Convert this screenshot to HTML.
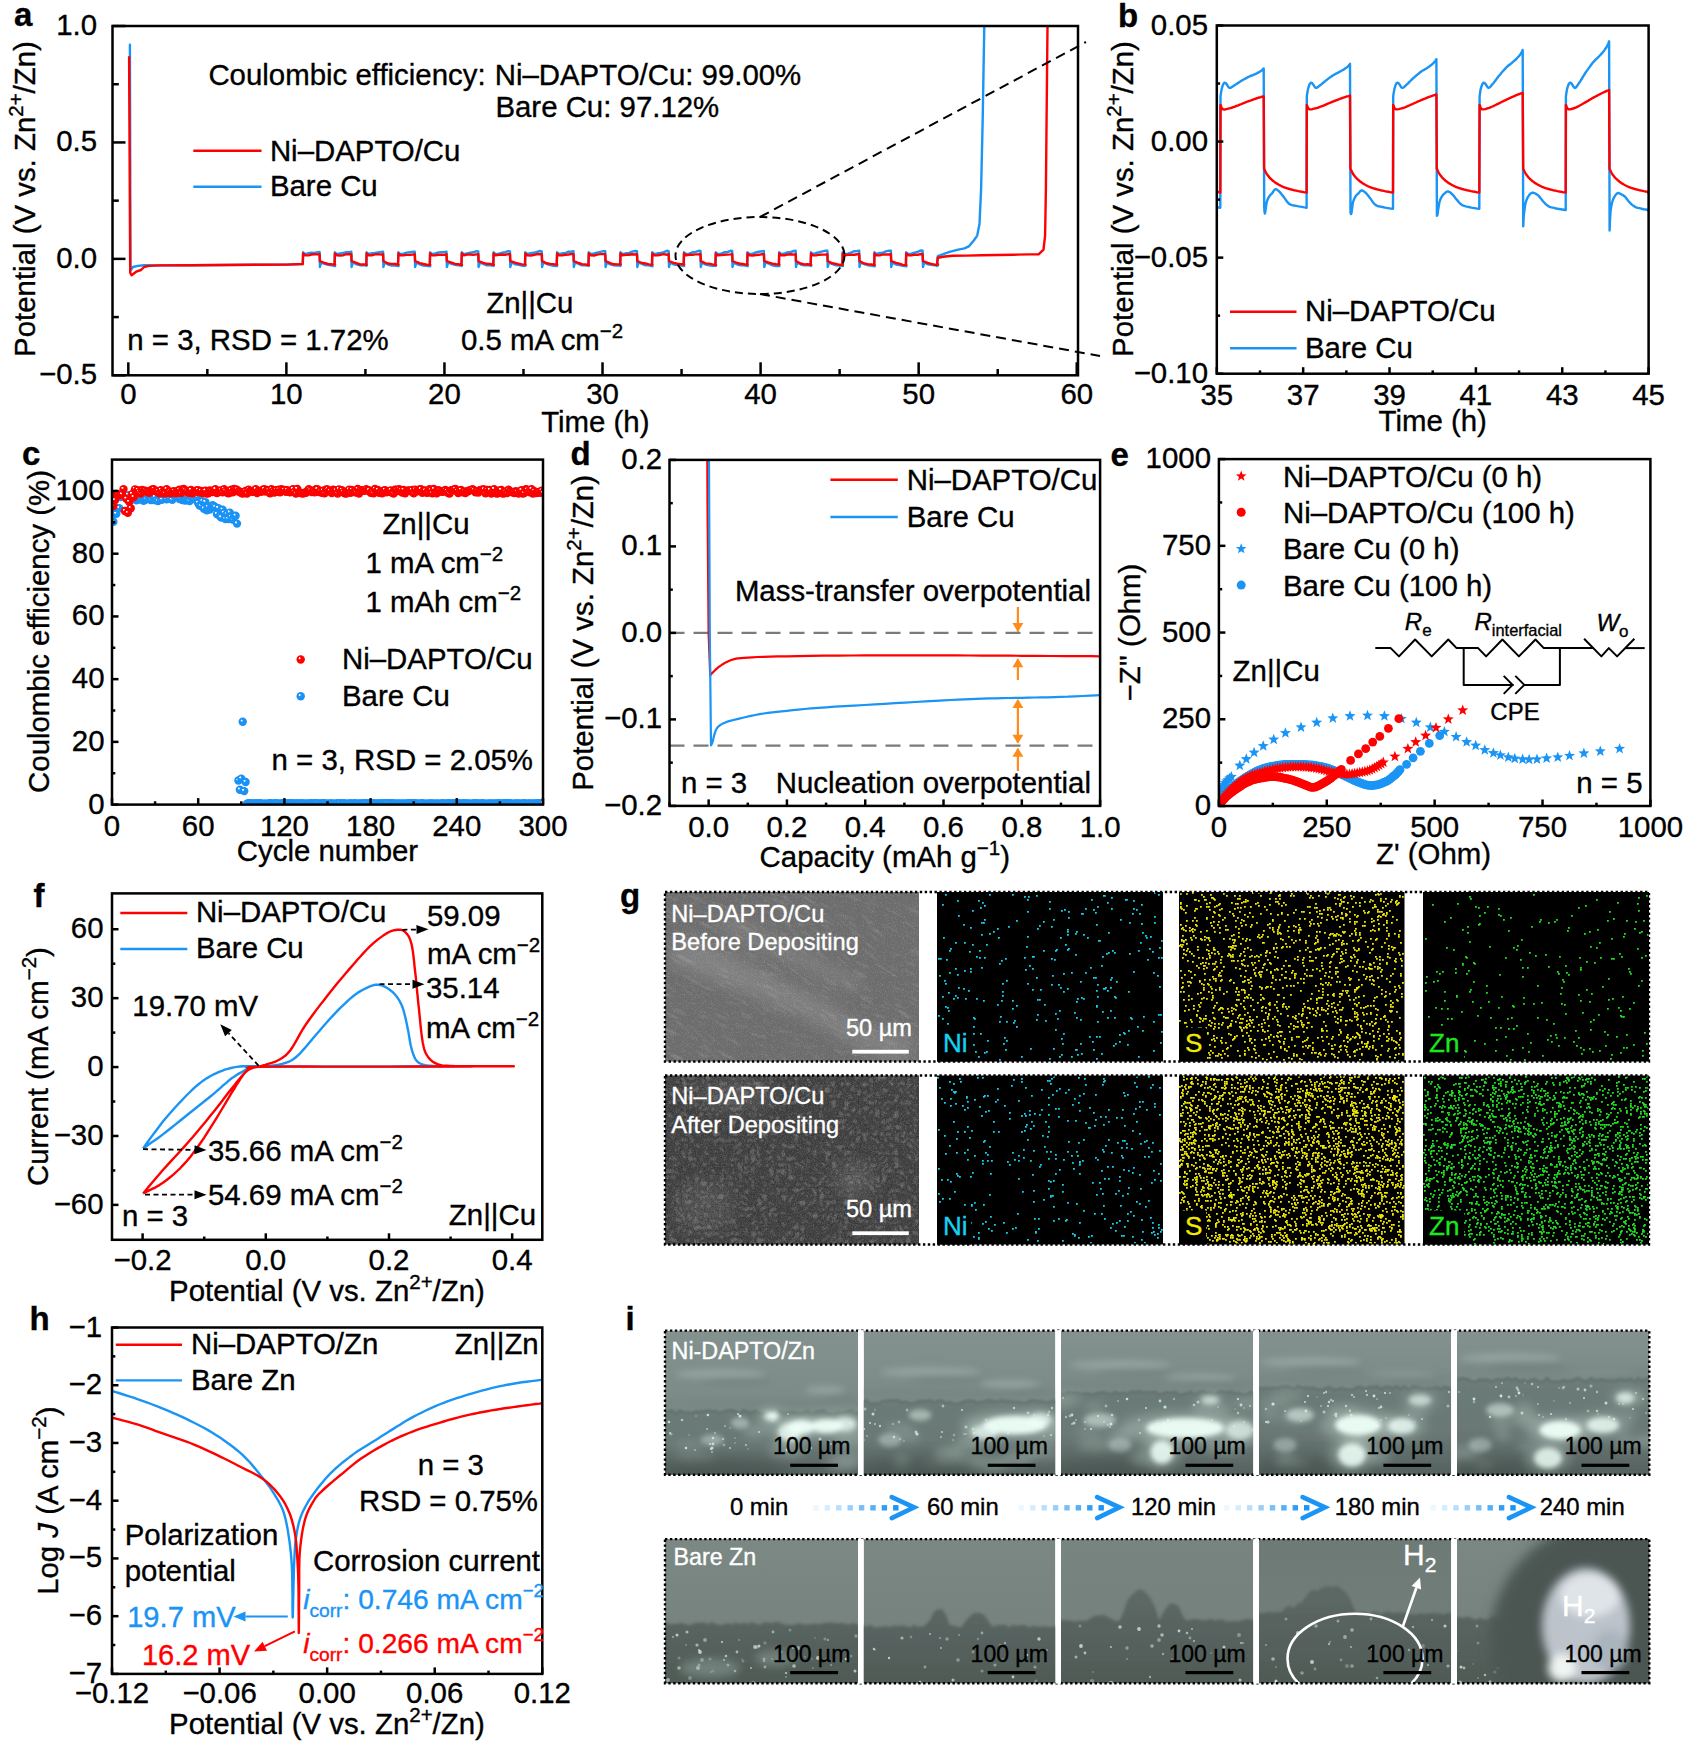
<!DOCTYPE html>
<html><head><meta charset="utf-8"><style>
html,body{margin:0;padding:0;background:#fff;}
svg{display:block;font-family:"Liberation Sans", sans-serif;font-size:29.4px;}
</style></head><body>
<svg width="1688" height="1744" viewBox="0 0 1688 1744">
<defs><radialGradient id="sr" cx="0.5" cy="0.5" r="0.5" fx="0.33" fy="0.31"><stop offset="0" stop-color="#fff"/><stop offset="0.14" stop-color="#fff"/><stop offset="0.32" stop-color="#f00"/><stop offset="1" stop-color="#f00"/></radialGradient><radialGradient id="sb" cx="0.5" cy="0.5" r="0.5" fx="0.33" fy="0.31"><stop offset="0" stop-color="#fff"/><stop offset="0.14" stop-color="#fff"/><stop offset="0.32" stop-color="#1a94f5"/><stop offset="1" stop-color="#1a90f5"/></radialGradient><filter id="nz" x="0" y="0" width="100%" height="100%"><feTurbulence type="fractalNoise" baseFrequency="0.9" numOctaves="2" seed="4"/><feColorMatrix type="matrix" values="0 0 0 0 1  0 0 0 0 1  0 0 0 0 1  0.9 0 0 0 -0.45"/></filter><filter id="nzd" x="0" y="0" width="100%" height="100%"><feTurbulence type="fractalNoise" baseFrequency="0.7" numOctaves="2" seed="9"/><feColorMatrix type="matrix" values="0 0 0 0 0  0 0 0 0 0  0 0 0 0 0  1.2 0 0 0 -0.55"/></filter><filter id="blot" x="0" y="0" width="100%" height="100%"><feTurbulence type="turbulence" baseFrequency="0.16" numOctaves="3" seed="12"/><feColorMatrix type="matrix" values="0 0 0 0 1  0 0 0 0 1  0 0 0 0 1  2.2 0 0 0 -0.55"/></filter><filter id="blot2" x="0" y="0" width="100%" height="100%"><feTurbulence type="turbulence" baseFrequency="0.05 0.2" numOctaves="3" seed="21"/><feColorMatrix type="matrix" values="0 0 0 0 1  0 0 0 0 1  0 0 0 0 1  2.0 0 0 0 -0.6"/></filter><filter id="bl4" x="-1" y="-1" width="3" height="3"><feGaussianBlur stdDeviation="4"/></filter><filter id="bl2" x="-1" y="-1" width="3" height="3"><feGaussianBlur stdDeviation="2"/></filter><filter id="bl8" x="-1" y="-1" width="3" height="3"><feGaussianBlur stdDeviation="8"/></filter><filter id="bl1" x="-1" y="-1" width="3" height="3"><feGaussianBlur stdDeviation="1"/></filter><filter id="bl15" x="-1" y="-1" width="3" height="3"><feGaussianBlur stdDeviation="1.5"/></filter><filter id="bl07" x="-1" y="-1" width="3" height="3"><feGaussianBlur stdDeviation="0.7"/></filter><filter id="bl3" x="-1" y="-1" width="3" height="3"><feGaussianBlur stdDeviation="3"/></filter><filter id="bl6" x="-1" y="-1" width="3" height="3"><feGaussianBlur stdDeviation="6"/></filter><filter id="bl25" x="-1" y="-1" width="3" height="3"><feGaussianBlur stdDeviation="2.5"/></filter><linearGradient id="gi00u" x1="0" y1="1330.6" x2="0" y2="1412" gradientUnits="userSpaceOnUse"><stop offset="0" stop-color="#83928e"/><stop offset="1" stop-color="#7b8a86"/></linearGradient><linearGradient id="gi00" x1="0" y1="1412" x2="0" y2="1474.7" gradientUnits="userSpaceOnUse"><stop offset="0" stop-color="#6c7b77"/><stop offset="0.5" stop-color="#6b7976"/><stop offset="1" stop-color="#55625f"/></linearGradient><linearGradient id="gi01u" x1="0" y1="1330.6" x2="0" y2="1402" gradientUnits="userSpaceOnUse"><stop offset="0" stop-color="#83928e"/><stop offset="1" stop-color="#7b8a86"/></linearGradient><linearGradient id="gi01" x1="0" y1="1402" x2="0" y2="1474.7" gradientUnits="userSpaceOnUse"><stop offset="0" stop-color="#6c7b77"/><stop offset="0.5" stop-color="#6b7976"/><stop offset="1" stop-color="#55625f"/></linearGradient><linearGradient id="gi02u" x1="0" y1="1330.6" x2="0" y2="1393" gradientUnits="userSpaceOnUse"><stop offset="0" stop-color="#83928e"/><stop offset="1" stop-color="#7b8a86"/></linearGradient><linearGradient id="gi02" x1="0" y1="1393" x2="0" y2="1474.7" gradientUnits="userSpaceOnUse"><stop offset="0" stop-color="#6c7b77"/><stop offset="0.5" stop-color="#6b7976"/><stop offset="1" stop-color="#55625f"/></linearGradient><linearGradient id="gi03u" x1="0" y1="1330.6" x2="0" y2="1388" gradientUnits="userSpaceOnUse"><stop offset="0" stop-color="#83928e"/><stop offset="1" stop-color="#7b8a86"/></linearGradient><linearGradient id="gi03" x1="0" y1="1388" x2="0" y2="1474.7" gradientUnits="userSpaceOnUse"><stop offset="0" stop-color="#6c7b77"/><stop offset="0.5" stop-color="#6b7976"/><stop offset="1" stop-color="#55625f"/></linearGradient><linearGradient id="gi04u" x1="0" y1="1330.6" x2="0" y2="1380" gradientUnits="userSpaceOnUse"><stop offset="0" stop-color="#83928e"/><stop offset="1" stop-color="#7b8a86"/></linearGradient><linearGradient id="gi04" x1="0" y1="1380" x2="0" y2="1474.7" gradientUnits="userSpaceOnUse"><stop offset="0" stop-color="#6c7b77"/><stop offset="0.5" stop-color="#6b7976"/><stop offset="1" stop-color="#55625f"/></linearGradient><linearGradient id="gi10t" x1="0" y1="0" x2="0" y2="1"><stop offset="0" stop-color="#7b8884"/><stop offset="1" stop-color="#73807c"/></linearGradient><linearGradient id="gi10" x1="0" y1="1593.5" x2="0" y2="1683.2" gradientUnits="userSpaceOnUse"><stop offset="0" stop-color="#5d6965"/><stop offset="0.4" stop-color="#58635f"/><stop offset="1" stop-color="#4f5a56"/></linearGradient><linearGradient id="gi11t" x1="0" y1="0" x2="0" y2="1"><stop offset="0" stop-color="#7a8783"/><stop offset="1" stop-color="#73807c"/></linearGradient><linearGradient id="gi11" x1="0" y1="1596" x2="0" y2="1683.2" gradientUnits="userSpaceOnUse"><stop offset="0" stop-color="#5d6965"/><stop offset="0.4" stop-color="#58635f"/><stop offset="1" stop-color="#4f5a56"/></linearGradient><linearGradient id="gi12t" x1="0" y1="0" x2="0" y2="1"><stop offset="0" stop-color="#778480"/><stop offset="1" stop-color="#73807c"/></linearGradient><linearGradient id="gi12" x1="0" y1="1590" x2="0" y2="1683.2" gradientUnits="userSpaceOnUse"><stop offset="0" stop-color="#5d6965"/><stop offset="0.4" stop-color="#58635f"/><stop offset="1" stop-color="#4f5a56"/></linearGradient><linearGradient id="gi13t" x1="0" y1="0" x2="0" y2="1"><stop offset="0" stop-color="#6d7a76"/><stop offset="1" stop-color="#73807c"/></linearGradient><linearGradient id="gi13" x1="0" y1="1583" x2="0" y2="1683.2" gradientUnits="userSpaceOnUse"><stop offset="0" stop-color="#5d6965"/><stop offset="0.4" stop-color="#58635f"/><stop offset="1" stop-color="#4f5a56"/></linearGradient><linearGradient id="gi14t" x1="0" y1="0" x2="0" y2="1"><stop offset="0" stop-color="#7a8783"/><stop offset="1" stop-color="#73807c"/></linearGradient><linearGradient id="gi14" x1="0" y1="1588" x2="0" y2="1683.2" gradientUnits="userSpaceOnUse"><stop offset="0" stop-color="#5d6965"/><stop offset="0.4" stop-color="#58635f"/><stop offset="1" stop-color="#4f5a56"/></linearGradient></defs>
<rect width="1688" height="1744" fill="#fff"/>
<text x="14" y="26" font-weight="bold" font-size="33" stroke="#000" stroke-width="0.35">a</text>
<path d="M129.1 44.6 L129.9 44.6 L130.5 270.5 L133.0 267.0 L137.8 265.9 L144.1 265.2 L159.9 265.4 L191.5 265.2 L223.1 265.0 L254.8 264.8 L286.4 264.6 L302.2 264.0 L302.8 264.0 L303.1 252.3 L305.2 254.2 L308.4 253.2 L311.5 252.6 L314.7 252.9 L317.8 252.3 L319.6 251.9 L319.9 267.0 L321.2 262.4 L324.6 263.9 L328.1 264.9 L331.6 265.4 L335.1 266.0 L334.6 265.9 L334.9 252.3 L336.9 254.2 L340.1 253.5 L343.3 252.9 L346.4 252.3 L349.6 252.1 L351.3 251.8 L351.6 267.0 L352.9 262.4 L356.4 264.3 L359.9 265.2 L363.3 265.4 L366.8 265.4 L366.3 265.9 L366.6 252.3 L368.7 254.2 L371.8 253.2 L375.0 252.9 L378.2 252.4 L381.3 252.0 L383.1 251.7 L383.4 267.0 L384.6 262.4 L388.1 264.6 L391.6 265.6 L395.1 265.6 L398.5 266.0 L398.0 265.9 L398.4 252.3 L400.4 254.2 L403.6 253.7 L406.7 252.6 L409.9 252.3 L413.1 251.6 L414.8 251.7 L415.1 267.0 L416.4 262.4 L419.9 264.4 L423.3 265.6 L426.8 265.8 L430.3 266.2 L429.8 265.9 L430.1 252.3 L432.2 254.2 L435.3 253.5 L438.5 252.4 L441.6 252.1 L444.8 251.9 L446.5 251.6 L446.9 267.0 L448.1 262.4 L451.6 263.8 L455.1 264.8 L458.5 265.4 L462.0 265.5 L461.5 265.9 L461.8 252.3 L463.9 254.2 L467.1 253.3 L470.2 252.6 L473.4 252.3 L476.5 251.1 L478.3 251.5 L478.6 267.0 L479.9 262.4 L483.3 263.8 L486.8 265.4 L490.3 265.4 L493.8 265.7 L493.3 265.9 L493.6 252.3 L495.6 254.2 L498.8 253.6 L502.0 252.8 L505.1 252.2 L508.3 251.1 L510.0 251.5 L510.3 267.0 L511.6 262.4 L515.1 264.2 L518.6 264.8 L522.0 265.7 L525.5 265.5 L525.0 265.9 L525.3 252.3 L527.4 254.2 L530.5 253.1 L533.7 252.8 L536.9 252.0 L540.0 251.0 L541.8 251.4 L542.1 267.0 L543.3 262.4 L546.8 264.0 L550.3 265.1 L553.8 265.9 L557.2 266.0 L556.7 265.9 L557.1 252.3 L559.1 254.2 L562.3 253.3 L565.4 253.1 L568.6 251.7 L571.8 251.5 L573.5 251.3 L573.8 267.0 L575.1 262.4 L578.6 263.8 L582.0 265.3 L585.5 265.2 L589.0 265.7 L588.5 265.9 L588.8 252.3 L590.9 254.2 L594.0 253.5 L597.2 252.7 L600.3 251.9 L603.5 251.2 L605.2 251.3 L605.6 267.0 L606.8 262.4 L610.3 264.4 L613.8 265.4 L617.3 265.6 L620.7 265.4 L620.2 265.9 L620.5 252.3 L622.6 254.2 L625.8 253.3 L628.9 253.1 L632.1 251.6 L635.2 251.0 L637.0 251.2 L637.3 267.0 L638.6 262.4 L642.0 263.8 L645.5 265.4 L649.0 265.4 L652.5 266.3 L652.0 265.9 L652.3 252.3 L654.3 254.2 L657.5 253.3 L660.7 252.9 L663.8 252.1 L667.0 250.8 L668.7 251.1 L669.0 267.0 L670.3 262.4 L673.8 264.6 L677.3 265.1 L680.7 265.3 L684.2 266.1 L683.7 265.9 L684.0 252.3 L686.1 254.2 L689.2 253.7 L692.4 252.3 L695.6 251.9 L698.7 250.8 L700.5 251.0 L700.8 267.0 L702.0 262.4 L705.5 264.6 L709.0 265.3 L712.5 265.9 L716.0 265.7 L715.4 265.9 L715.8 252.3 L717.8 254.2 L721.0 253.8 L724.1 252.2 L727.3 252.2 L730.5 250.8 L732.2 251.0 L732.5 267.0 L733.8 262.4 L737.3 264.6 L740.7 265.4 L744.2 265.3 L747.7 266.2 L747.2 265.9 L747.5 252.3 L749.6 254.2 L752.7 253.7 L755.9 252.4 L759.0 251.8 L762.2 251.3 L763.9 250.9 L764.3 267.0 L765.5 262.4 L769.0 263.7 L772.5 265.4 L776.0 266.0 L779.4 266.0 L778.9 265.9 L779.2 252.3 L781.3 254.2 L784.5 253.3 L787.6 252.3 L790.8 252.0 L793.9 251.0 L795.7 250.8 L796.0 267.0 L797.3 262.4 L800.7 264.6 L804.2 265.2 L807.7 265.4 L811.2 265.6 L810.7 265.9 L811.0 252.3 L813.0 254.2 L816.2 253.0 L819.4 252.2 L822.5 251.3 L825.7 250.6 L827.4 250.8 L827.7 267.0 L829.0 262.4 L832.5 264.2 L836.0 265.4 L839.4 265.5 L842.9 266.0 L842.4 265.9 L842.7 252.3 L844.8 254.2 L847.9 253.7 L851.1 252.5 L854.3 251.2 L857.4 251.0 L859.2 250.7 L859.5 267.0 L860.7 262.4 L864.2 264.1 L867.7 265.2 L871.2 265.6 L874.7 266.2 L874.2 265.9 L874.5 252.3 L876.5 254.2 L879.7 252.9 L882.8 252.6 L886.0 251.4 L889.2 250.7 L890.9 250.6 L891.2 267.0 L892.5 262.4 L896.0 264.6 L899.4 265.1 L902.9 265.9 L906.4 266.3 L905.9 265.9 L906.2 252.3 L908.3 254.2 L911.4 253.7 L914.6 252.7 L917.7 251.8 L920.9 250.4 L922.6 250.6 L923.0 267.0 L924.2 262.4 L927.7 264.2 L931.2 264.7 L934.7 265.2 L938.1 265.4 L937.0 265.9 L937.8 256.1 L943.3 254.2 L949.6 251.9 L958.2 249.6 L964.5 248.4 L969.2 246.1 L974.0 240.2 L977.2 235.6 L979.5 223.9 L981.1 189.0 L982.7 119.1 L984.3 26.0" stroke="#1a94f5" stroke-width="2.4" fill="none" stroke-linejoin="round"/>
<path d="M129.1 56.3 L130.2 272.8 L131.5 275.2 L136.2 271.7 L141.0 270.0 L144.1 267.0 L148.9 265.9 L159.9 265.4 L191.5 265.2 L223.1 265.0 L254.8 264.8 L286.4 264.6 L302.2 264.0 L302.8 264.0 L303.1 253.5 L305.2 255.4 L308.4 255.4 L311.5 254.5 L314.7 254.3 L317.8 254.4 L319.6 254.2 L319.9 261.2 L324.6 263.0 L328.1 264.0 L331.6 264.3 L335.1 264.4 L334.6 264.7 L334.9 253.5 L336.9 255.4 L340.1 255.5 L343.3 255.2 L346.4 254.2 L349.6 254.3 L351.3 254.2 L351.6 261.2 L356.4 262.8 L359.9 264.4 L363.3 264.5 L366.8 264.5 L366.3 264.7 L366.6 253.5 L368.7 255.4 L371.8 255.3 L375.0 254.4 L378.2 254.1 L381.3 254.6 L383.1 254.2 L383.4 261.2 L388.1 263.5 L391.6 263.9 L395.1 264.0 L398.5 264.8 L398.0 264.7 L398.4 253.5 L400.4 255.4 L403.6 255.3 L406.7 254.9 L409.9 254.9 L413.1 254.5 L414.8 254.2 L415.1 261.2 L419.9 263.1 L423.3 264.0 L426.8 264.7 L430.3 264.9 L429.8 264.7 L430.1 253.5 L432.2 255.4 L435.3 255.3 L438.5 254.8 L441.6 254.7 L444.8 254.7 L446.5 254.2 L446.9 261.2 L451.6 262.7 L455.1 263.9 L458.5 264.3 L462.0 265.0 L461.5 264.7 L461.8 253.5 L463.9 255.4 L467.1 254.6 L470.2 254.5 L473.4 254.9 L476.5 254.4 L478.3 254.2 L478.6 261.2 L483.3 262.8 L486.8 263.8 L490.3 264.0 L493.8 264.8 L493.3 264.7 L493.6 253.5 L495.6 255.4 L498.8 254.8 L502.0 254.6 L505.1 254.7 L508.3 254.1 L510.0 254.2 L510.3 261.2 L515.1 262.7 L518.6 263.6 L522.0 264.4 L525.5 264.6 L525.0 264.7 L525.3 253.5 L527.4 255.4 L530.5 255.5 L533.7 255.0 L536.9 254.2 L540.0 254.3 L541.8 254.2 L542.1 261.2 L546.8 263.3 L550.3 263.9 L553.8 264.3 L557.2 264.5 L556.7 264.7 L557.1 253.5 L559.1 255.4 L562.3 255.2 L565.4 254.8 L568.6 254.5 L571.8 253.9 L573.5 254.2 L573.8 261.2 L578.6 263.0 L582.0 264.1 L585.5 264.5 L589.0 265.1 L588.5 264.7 L588.8 253.5 L590.9 255.4 L594.0 255.5 L597.2 254.6 L600.3 254.1 L603.5 254.1 L605.2 254.2 L605.6 261.2 L610.3 263.1 L613.8 264.3 L617.3 264.4 L620.7 264.2 L620.2 264.7 L620.5 253.5 L622.6 255.4 L625.8 254.8 L628.9 254.8 L632.1 254.2 L635.2 254.5 L637.0 254.2 L637.3 261.2 L642.0 263.0 L645.5 263.5 L649.0 264.4 L652.5 264.7 L652.0 264.7 L652.3 253.5 L654.3 255.4 L657.5 255.3 L660.7 254.7 L663.8 254.1 L667.0 254.7 L668.7 254.2 L669.0 261.2 L673.8 262.8 L677.3 263.7 L680.7 264.1 L684.2 264.5 L683.7 264.7 L684.0 253.5 L686.1 255.4 L689.2 254.8 L692.4 254.8 L695.6 254.4 L698.7 254.3 L700.5 254.2 L700.8 261.2 L705.5 263.4 L709.0 263.6 L712.5 264.4 L716.0 265.0 L715.4 264.7 L715.8 253.5 L717.8 255.4 L721.0 255.1 L724.1 254.8 L727.3 254.6 L730.5 254.4 L732.2 254.2 L732.5 261.2 L737.3 263.0 L740.7 263.8 L744.2 264.3 L747.7 264.7 L747.2 264.7 L747.5 253.5 L749.6 255.4 L752.7 255.5 L755.9 255.0 L759.0 254.8 L762.2 254.1 L763.9 254.2 L764.3 261.2 L769.0 262.7 L772.5 263.7 L776.0 264.2 L779.4 264.4 L778.9 264.7 L779.2 253.5 L781.3 255.4 L784.5 255.3 L787.6 254.5 L790.8 254.3 L793.9 254.6 L795.7 254.2 L796.0 261.2 L800.7 263.5 L804.2 264.4 L807.7 264.2 L811.2 264.9 L810.7 264.7 L811.0 253.5 L813.0 255.4 L816.2 255.4 L819.4 254.7 L822.5 254.6 L825.7 254.6 L827.4 254.2 L827.7 261.2 L832.5 263.3 L836.0 263.9 L839.4 264.8 L842.9 264.9 L842.4 264.7 L842.7 253.5 L844.8 255.4 L847.9 254.9 L851.1 254.8 L854.3 254.7 L857.4 254.2 L859.2 254.2 L859.5 261.2 L864.2 263.5 L867.7 264.1 L871.2 264.5 L874.7 265.0 L874.2 264.7 L874.5 253.5 L876.5 255.4 L879.7 255.4 L882.8 254.4 L886.0 254.5 L889.2 254.5 L890.9 254.2 L891.2 261.2 L896.0 262.9 L899.4 263.7 L902.9 264.9 L906.4 265.1 L905.9 264.7 L906.2 253.5 L908.3 255.4 L911.4 255.4 L914.6 254.6 L917.7 254.8 L920.9 254.0 L922.6 254.2 L923.0 261.2 L927.7 262.9 L931.2 263.9 L934.7 264.7 L938.1 264.2 L937.0 264.7 L937.8 257.7 L944.9 256.5 L952.8 255.8 L966.1 255.6 L981.9 255.3 L997.7 255.0 L1013.5 254.7 L1029.3 254.4 L1038.8 254.2 L1043.5 249.6 L1045.1 235.6 L1045.9 189.0 L1047.5 26.0" stroke="#ff0000" stroke-width="2.4" fill="none" stroke-linejoin="round"/>
<ellipse cx="760" cy="255.5" rx="84.5" ry="38.5" fill="none" stroke="#000" stroke-width="2" stroke-dasharray="8 5"/>
<line x1="760" y1="217" x2="1086" y2="42" stroke="#000" stroke-width="2" stroke-dasharray="10 6"/>
<line x1="760" y1="294" x2="1100" y2="356" stroke="#000" stroke-width="2" stroke-dasharray="10 6"/>
<rect x="112.5" y="26" width="965.5" height="349.3" fill="none" stroke="#000" stroke-width="2.5"/>
<line x1="128.31" y1="375.3" x2="128.31" y2="362.3" stroke="#000" stroke-width="2.5"/>
<line x1="286.38" y1="375.3" x2="286.38" y2="362.3" stroke="#000" stroke-width="2.5"/>
<line x1="444.45" y1="375.3" x2="444.45" y2="362.3" stroke="#000" stroke-width="2.5"/>
<line x1="602.52" y1="375.3" x2="602.52" y2="362.3" stroke="#000" stroke-width="2.5"/>
<line x1="760.59" y1="375.3" x2="760.59" y2="362.3" stroke="#000" stroke-width="2.5"/>
<line x1="918.66" y1="375.3" x2="918.66" y2="362.3" stroke="#000" stroke-width="2.5"/>
<line x1="1076.74" y1="375.3" x2="1076.74" y2="362.3" stroke="#000" stroke-width="2.5"/>
<line x1="207.34" y1="375.3" x2="207.34" y2="369" stroke="#000" stroke-width="2.5"/>
<line x1="365.41" y1="375.3" x2="365.41" y2="369" stroke="#000" stroke-width="2.5"/>
<line x1="523.49" y1="375.3" x2="523.49" y2="369" stroke="#000" stroke-width="2.5"/>
<line x1="681.56" y1="375.3" x2="681.56" y2="369" stroke="#000" stroke-width="2.5"/>
<line x1="839.63" y1="375.3" x2="839.63" y2="369" stroke="#000" stroke-width="2.5"/>
<line x1="997.7" y1="375.3" x2="997.7" y2="369" stroke="#000" stroke-width="2.5"/>
<text x="128.31" y="404.2" text-anchor="middle" stroke="#000" stroke-width="0.35">0</text>
<text x="286.38" y="404.2" text-anchor="middle" stroke="#000" stroke-width="0.35">10</text>
<text x="444.45" y="404.2" text-anchor="middle" stroke="#000" stroke-width="0.35">20</text>
<text x="602.52" y="404.2" text-anchor="middle" stroke="#000" stroke-width="0.35">30</text>
<text x="760.59" y="404.2" text-anchor="middle" stroke="#000" stroke-width="0.35">40</text>
<text x="918.66" y="404.2" text-anchor="middle" stroke="#000" stroke-width="0.35">50</text>
<text x="1076.74" y="404.2" text-anchor="middle" stroke="#000" stroke-width="0.35">60</text>
<line x1="112.5" y1="375.3" x2="125.5" y2="375.3" stroke="#000" stroke-width="2.5"/>
<line x1="112.5" y1="258.87" x2="125.5" y2="258.87" stroke="#000" stroke-width="2.5"/>
<line x1="112.5" y1="142.43" x2="125.5" y2="142.43" stroke="#000" stroke-width="2.5"/>
<line x1="112.5" y1="26" x2="125.5" y2="26" stroke="#000" stroke-width="2.5"/>
<line x1="112.5" y1="317.08" x2="118.8" y2="317.08" stroke="#000" stroke-width="2.5"/>
<line x1="112.5" y1="200.65" x2="118.8" y2="200.65" stroke="#000" stroke-width="2.5"/>
<line x1="112.5" y1="84.22" x2="118.8" y2="84.22" stroke="#000" stroke-width="2.5"/>
<text x="97" y="384.3" text-anchor="end" stroke="#000" stroke-width="0.35">−0.5</text>
<text x="97" y="267.87" text-anchor="end" stroke="#000" stroke-width="0.35">0.0</text>
<text x="97" y="151.43" text-anchor="end" stroke="#000" stroke-width="0.35">0.5</text>
<text x="97" y="35" text-anchor="end" stroke="#000" stroke-width="0.35">1.0</text>
<text x="595.3" y="431.8" text-anchor="middle" stroke="#000" stroke-width="0.35">Time (h)</text>
<text transform="translate(34.5,199) rotate(-90)" text-anchor="middle" stroke="#000" stroke-width="0.35">Potential (V vs. Zn<tspan baseline-shift="12" font-size="20.5">2+</tspan>/Zn)</text>
<text x="208.4" y="84.7" stroke="#000" stroke-width="0.35">Coulombic efficiency:</text>
<text x="494.7" y="84.7" stroke="#000" stroke-width="0.35">Ni–DAPTO/Cu: 99.00%</text>
<text x="495.4" y="117" stroke="#000" stroke-width="0.35">Bare Cu: 97.12%</text>
<line x1="193.3" y1="150.7" x2="261.5" y2="150.7" stroke="#ff0000" stroke-width="2.4"/>
<text x="269.9" y="160.6" stroke="#000" stroke-width="0.35">Ni–DAPTO/Cu</text>
<line x1="193.3" y1="186.7" x2="261.5" y2="186.7" stroke="#1a94f5" stroke-width="2.4"/>
<text x="269.9" y="196.4" stroke="#000" stroke-width="0.35">Bare Cu</text>
<text x="127.3" y="350" stroke="#000" stroke-width="0.35">n = 3, RSD = 1.72%</text>
<text x="486.3" y="312.6" stroke="#000" stroke-width="0.35">Zn||Cu</text>
<text x="461" y="350" stroke="#000" stroke-width="0.35">0.5 mA cm<tspan baseline-shift="12" font-size="20.5">−2</tspan></text>
<text x="1118" y="26.5" font-weight="bold" font-size="33" stroke="#000" stroke-width="0.35">b</text>
<path d="M1216.8 207.3 L1220.3 207.7 L1220.5 96.3 L1220.7 94.9 L1221.0 92.8 L1221.4 90.6 L1221.8 88.6 L1222.2 87.0 L1222.8 85.3 L1223.4 84.0 L1223.9 83.1 L1224.4 82.7 L1224.9 82.7 L1225.5 83.0 L1226.1 83.5 L1226.8 84.5 L1227.7 85.9 L1228.6 87.2 L1229.5 87.9 L1230.5 87.9 L1231.6 87.3 L1232.6 86.6 L1233.4 86.0 L1234.0 85.6 L1234.5 85.4 L1234.9 85.1 L1235.6 84.6 L1236.5 84.0 L1237.6 83.2 L1238.8 82.4 L1239.9 81.7 L1241.0 81.0 L1242.1 80.4 L1243.1 79.8 L1244.2 79.2 L1245.3 78.6 L1246.4 78.0 L1247.5 77.4 L1248.5 76.8 L1249.6 76.4 L1250.7 75.9 L1251.8 75.5 L1252.9 75.1 L1254.0 74.6 L1255.1 74.1 L1256.2 73.6 L1257.2 73.1 L1258.1 72.6 L1259.1 72.1 L1259.9 71.6 L1260.6 71.2 L1261.2 70.8 L1261.6 70.5 L1262.0 70.1 L1262.4 69.8 L1262.7 69.4 L1263.1 69.0 L1263.4 68.7 L1263.7 68.4 L1264.2 206.6 L1264.3 208.2 L1264.4 210.7 L1264.7 212.9 L1264.9 213.5 L1265.3 211.9 L1265.7 208.8 L1266.2 205.2 L1266.7 202.4 L1267.2 200.5 L1267.9 198.9 L1268.6 197.5 L1269.3 196.4 L1270.0 195.4 L1270.7 194.6 L1271.5 193.9 L1272.3 193.1 L1273.0 192.0 L1273.7 190.7 L1274.5 189.7 L1275.3 189.2 L1276.3 189.3 L1277.4 190.0 L1278.5 190.9 L1279.6 191.9 L1280.7 193.1 L1281.7 194.4 L1282.8 195.8 L1283.9 197.3 L1285.1 198.9 L1286.4 200.7 L1287.7 202.4 L1289.1 203.8 L1290.6 204.6 L1292.2 205.1 L1294.0 205.5 L1296.0 205.9 L1298.7 206.4 L1301.8 206.9 L1304.6 207.4 L1306.6 207.7 L1306.8 96.3 L1307.0 94.9 L1307.3 92.8 L1307.7 90.6 L1308.1 88.6 L1308.6 87.0 L1309.2 85.3 L1309.7 84.0 L1310.3 83.1 L1310.8 82.7 L1311.3 82.7 L1311.8 83.0 L1312.4 83.5 L1313.2 84.5 L1314.1 85.9 L1315.0 87.2 L1315.9 87.9 L1316.9 87.8 L1317.9 87.1 L1318.9 86.2 L1319.8 85.5 L1320.4 85.1 L1320.8 84.8 L1321.3 84.4 L1321.9 83.8 L1322.9 83.1 L1324.0 82.1 L1325.1 81.1 L1326.3 80.2 L1327.3 79.4 L1328.4 78.6 L1329.5 77.8 L1330.6 77.1 L1331.7 76.3 L1332.7 75.6 L1333.8 74.9 L1334.9 74.2 L1336.0 73.6 L1337.1 73.1 L1338.1 72.6 L1339.2 72.0 L1340.3 71.4 L1341.4 70.8 L1342.5 70.2 L1343.5 69.6 L1344.5 69.0 L1345.4 68.3 L1346.3 67.7 L1347.0 67.2 L1347.6 66.7 L1348.0 66.3 L1348.4 65.9 L1348.7 65.5 L1349.1 65.0 L1349.5 64.5 L1349.8 64.1 L1350.0 63.8 L1350.5 212.4 L1350.6 212.9 L1350.8 213.6 L1351.0 214.1 L1351.3 213.5 L1351.7 211.5 L1352.1 208.4 L1352.5 205.1 L1353.0 202.4 L1353.6 200.5 L1354.2 198.9 L1354.9 197.5 L1355.6 196.4 L1356.3 195.3 L1357.1 194.5 L1357.9 193.8 L1358.6 193.1 L1359.4 192.2 L1360.1 191.3 L1360.8 190.6 L1361.7 190.3 L1362.7 190.6 L1363.7 191.2 L1364.9 192.1 L1366.0 193.1 L1367.0 194.2 L1368.1 195.5 L1369.2 197.0 L1370.3 198.4 L1371.5 200.1 L1372.7 201.9 L1374.0 203.6 L1375.5 204.9 L1377.0 205.8 L1378.6 206.3 L1380.4 206.6 L1382.4 207.0 L1385.0 207.6 L1388.1 208.1 L1391.0 208.6 L1393.0 208.9 L1393.2 96.3 L1393.4 94.9 L1393.7 92.8 L1394.1 90.6 L1394.5 88.6 L1395.0 87.0 L1395.5 85.3 L1396.1 84.0 L1396.6 83.1 L1397.2 82.7 L1397.6 82.7 L1398.2 83.0 L1398.8 83.5 L1399.6 84.5 L1400.4 85.9 L1401.3 87.3 L1402.3 87.9 L1403.2 87.7 L1404.3 86.9 L1405.3 85.9 L1406.1 85.1 L1406.8 84.6 L1407.2 84.1 L1407.7 83.7 L1408.3 83.1 L1409.2 82.1 L1410.3 81.0 L1411.5 79.8 L1412.6 78.7 L1413.7 77.8 L1414.8 76.8 L1415.9 75.9 L1416.9 75.0 L1418.0 74.1 L1419.1 73.2 L1420.2 72.3 L1421.3 71.5 L1422.3 70.8 L1423.4 70.2 L1424.5 69.6 L1425.6 68.9 L1426.7 68.2 L1427.8 67.5 L1428.9 66.8 L1429.9 66.1 L1430.9 65.3 L1431.8 64.6 L1432.6 63.8 L1433.3 63.2 L1433.9 62.6 L1434.3 62.1 L1434.7 61.7 L1435.1 61.2 L1435.5 60.6 L1435.8 60.0 L1436.1 59.5 L1436.4 59.2 L1436.9 215.8 L1437.0 215.6 L1437.2 215.4 L1437.4 214.8 L1437.7 213.5 L1438.0 211.2 L1438.4 208.2 L1438.9 205.0 L1439.4 202.4 L1440.0 200.5 L1440.6 198.9 L1441.3 197.5 L1442.0 196.4 L1442.7 195.3 L1443.5 194.4 L1444.2 193.7 L1445.0 193.1 L1445.7 192.5 L1446.4 191.9 L1447.2 191.5 L1448.0 191.5 L1449.0 191.8 L1450.1 192.4 L1451.2 193.3 L1452.3 194.3 L1453.4 195.4 L1454.5 196.8 L1455.5 198.2 L1456.7 199.6 L1457.9 201.0 L1459.1 202.5 L1460.4 203.8 L1461.8 204.9 L1463.4 205.7 L1465.0 206.2 L1466.7 206.6 L1468.8 207.0 L1471.4 207.6 L1474.5 208.1 L1477.3 208.6 L1479.3 208.9 L1479.6 96.3 L1479.8 94.9 L1480.1 92.8 L1480.4 90.6 L1480.8 88.6 L1481.3 87.0 L1481.9 85.3 L1482.4 84.0 L1483.0 83.1 L1483.5 82.7 L1484.0 82.7 L1484.5 83.0 L1485.2 83.5 L1485.9 84.6 L1486.8 86.0 L1487.7 87.3 L1488.6 87.9 L1489.6 87.5 L1490.6 86.5 L1491.6 85.2 L1492.5 84.1 L1493.1 83.5 L1493.6 82.9 L1494.0 82.3 L1494.7 81.5 L1495.6 80.2 L1496.7 78.8 L1497.9 77.2 L1499.0 75.8 L1500.1 74.5 L1501.1 73.2 L1502.2 72.0 L1503.3 70.8 L1504.4 69.6 L1505.5 68.4 L1506.5 67.3 L1507.6 66.2 L1508.7 65.3 L1509.8 64.5 L1510.9 63.7 L1511.9 62.8 L1513.0 61.9 L1514.1 60.9 L1515.2 60.0 L1516.3 59.0 L1517.2 58.0 L1518.1 57.0 L1519.0 56.1 L1519.7 55.2 L1520.3 54.5 L1520.7 53.8 L1521.1 53.2 L1521.4 52.5 L1521.8 51.8 L1522.2 51.0 L1522.5 50.4 L1522.7 49.9 L1523.2 226.3 L1523.4 224.0 L1523.5 220.6 L1523.7 216.9 L1524.0 213.5 L1524.4 210.5 L1524.8 207.5 L1525.2 204.8 L1525.8 202.4 L1526.3 200.5 L1527.0 198.9 L1527.6 197.5 L1528.3 196.4 L1529.1 195.3 L1529.8 194.3 L1530.6 193.6 L1531.4 193.1 L1532.1 192.8 L1532.8 192.7 L1533.5 192.8 L1534.4 193.1 L1535.4 193.5 L1536.5 194.2 L1537.6 194.9 L1538.7 195.9 L1539.8 197.1 L1540.8 198.4 L1541.9 199.9 L1543.0 201.2 L1544.2 202.5 L1545.5 203.9 L1546.8 205.1 L1548.2 206.1 L1549.7 206.8 L1551.3 207.3 L1553.1 207.7 L1555.1 208.2 L1557.7 208.7 L1560.8 209.2 L1563.7 209.7 L1565.7 210.0 L1565.9 96.3 L1566.1 94.9 L1566.4 92.8 L1566.8 90.6 L1567.2 88.6 L1567.7 87.0 L1568.2 85.3 L1568.8 84.0 L1569.4 83.1 L1569.9 82.7 L1570.4 82.7 L1570.9 83.0 L1571.5 83.5 L1572.3 84.6 L1573.1 86.1 L1574.1 87.4 L1575.0 87.9 L1576.0 87.4 L1577.0 86.1 L1578.0 84.6 L1578.9 83.3 L1579.5 82.5 L1579.9 81.8 L1580.4 81.1 L1581.0 80.0 L1582.0 78.5 L1583.0 76.7 L1584.2 74.8 L1585.3 73.0 L1586.4 71.4 L1587.5 69.9 L1588.6 68.4 L1589.7 66.9 L1590.7 65.5 L1591.8 64.0 L1592.9 62.6 L1594.0 61.3 L1595.1 60.2 L1596.1 59.2 L1597.2 58.2 L1598.3 57.1 L1599.4 56.0 L1600.5 54.8 L1601.6 53.7 L1602.6 52.5 L1603.6 51.3 L1604.5 50.1 L1605.3 48.9 L1606.1 47.8 L1606.6 46.9 L1607.1 46.1 L1607.4 45.3 L1607.8 44.6 L1608.2 43.7 L1608.6 42.7 L1608.9 41.9 L1609.1 41.3 L1609.6 230.5 L1609.7 227.3 L1609.9 222.7 L1610.1 217.8 L1610.4 213.5 L1610.7 210.2 L1611.1 207.3 L1611.6 204.7 L1612.1 202.4 L1612.7 200.5 L1613.3 198.9 L1614.0 197.5 L1614.7 196.4 L1615.4 195.2 L1616.2 194.3 L1617.0 193.6 L1617.7 193.1 L1618.5 193.0 L1619.2 193.2 L1619.9 193.6 L1620.7 194.0 L1621.7 194.5 L1622.8 195.1 L1624.0 195.9 L1625.1 196.8 L1626.1 198.0 L1627.2 199.4 L1628.2 200.8 L1629.4 202.2 L1630.6 203.4 L1631.8 204.6 L1633.1 205.6 L1634.6 206.6 L1636.1 207.3 L1637.7 207.8 L1639.4 208.2 L1641.5 208.7 L1644.1 209.2 L1647.2 209.7 L1648.6 210.7" stroke="#1a94f5" stroke-width="2.4" fill="none" stroke-linejoin="round"/>
<path d="M1216.8 191.5 L1220.3 192.6 L1220.5 104.9 L1220.9 105.8 L1221.4 107.2 L1222.1 108.5 L1223.1 109.3 L1224.4 109.5 L1226.0 109.2 L1227.6 108.8 L1229.1 108.4 L1230.3 108.1 L1231.2 107.8 L1232.2 107.5 L1233.4 107.1 L1234.9 106.6 L1236.5 105.9 L1238.2 105.3 L1239.9 104.6 L1241.5 104.0 L1243.1 103.3 L1244.8 102.7 L1246.4 102.0 L1248.0 101.4 L1249.6 100.8 L1251.2 100.3 L1252.9 99.7 L1254.5 99.1 L1256.2 98.5 L1257.9 97.9 L1259.3 97.5 L1260.7 97.1 L1261.9 96.7 L1262.9 96.5 L1263.7 96.3 L1264.1 168.7 L1264.6 169.8 L1265.3 171.3 L1266.2 173.0 L1267.1 174.5 L1268.1 175.8 L1269.1 177.1 L1270.3 178.3 L1271.4 179.4 L1272.6 180.5 L1273.9 181.5 L1275.2 182.4 L1276.6 183.4 L1278.1 184.3 L1279.6 185.2 L1281.3 186.0 L1283.1 186.8 L1285.1 187.6 L1287.3 188.3 L1289.5 189.0 L1291.7 189.6 L1293.9 190.2 L1296.2 190.6 L1298.4 191.1 L1300.4 191.5 L1302.2 191.8 L1304.0 192.2 L1305.5 192.4 L1306.6 192.6 L1306.8 104.9 L1307.2 105.8 L1307.7 107.2 L1308.5 108.5 L1309.4 109.3 L1310.7 109.4 L1312.3 109.2 L1314.0 108.7 L1315.5 108.3 L1316.6 108.1 L1317.6 107.8 L1318.6 107.4 L1319.8 107.0 L1321.3 106.4 L1322.9 105.8 L1324.6 105.1 L1326.3 104.4 L1327.9 103.7 L1329.5 103.0 L1331.1 102.3 L1332.7 101.6 L1334.4 101.0 L1336.0 100.4 L1337.6 99.8 L1339.2 99.2 L1340.9 98.5 L1342.6 97.9 L1344.2 97.3 L1345.7 96.8 L1347.0 96.4 L1348.3 96.1 L1349.3 95.8 L1350.0 95.6 L1350.4 168.7 L1351.0 169.8 L1351.7 171.3 L1352.5 173.0 L1353.5 174.5 L1354.4 175.8 L1355.5 177.1 L1356.6 178.3 L1357.8 179.4 L1359.0 180.5 L1360.2 181.5 L1361.6 182.4 L1363.0 183.4 L1364.4 184.3 L1366.0 185.2 L1367.6 186.0 L1369.4 186.8 L1371.4 187.6 L1373.6 188.3 L1375.9 189.0 L1378.1 189.6 L1380.3 190.2 L1382.5 190.6 L1384.7 191.1 L1386.7 191.5 L1388.6 191.8 L1390.4 192.2 L1391.9 192.4 L1393.0 192.6 L1393.2 104.9 L1393.6 105.8 L1394.1 107.2 L1394.8 108.5 L1395.8 109.3 L1397.1 109.4 L1398.7 109.1 L1400.4 108.7 L1401.8 108.3 L1403.0 108.0 L1404.0 107.6 L1405.0 107.3 L1406.1 106.8 L1407.6 106.2 L1409.2 105.5 L1411.0 104.7 L1412.6 104.0 L1414.2 103.2 L1415.9 102.5 L1417.5 101.7 L1419.1 101.0 L1420.7 100.3 L1422.3 99.6 L1424.0 99.0 L1425.6 98.3 L1427.2 97.6 L1428.9 97.0 L1430.6 96.3 L1432.1 95.8 L1433.4 95.3 L1434.6 95.0 L1435.6 94.7 L1436.4 94.4 L1436.8 168.7 L1437.3 169.8 L1438.0 171.3 L1438.9 173.0 L1439.8 174.5 L1440.8 175.8 L1441.8 177.1 L1443.0 178.3 L1444.1 179.4 L1445.3 180.5 L1446.6 181.5 L1447.9 182.4 L1449.3 183.4 L1450.8 184.3 L1452.3 185.2 L1454.0 186.0 L1455.8 186.8 L1457.8 187.6 L1460.0 188.3 L1462.2 189.0 L1464.4 189.6 L1466.7 190.2 L1468.9 190.6 L1471.1 191.1 L1473.1 191.5 L1475.0 191.8 L1476.7 192.2 L1478.3 192.4 L1479.3 192.6 L1479.6 104.9 L1479.9 105.8 L1480.5 107.2 L1481.2 108.5 L1482.1 109.3 L1483.4 109.4 L1485.1 109.1 L1486.7 108.6 L1488.2 108.1 L1489.3 107.8 L1490.3 107.4 L1491.3 107.0 L1492.5 106.5 L1494.0 105.8 L1495.6 105.0 L1497.3 104.2 L1499.0 103.4 L1500.6 102.5 L1502.2 101.7 L1503.8 100.9 L1505.5 100.1 L1507.1 99.3 L1508.7 98.6 L1510.3 97.8 L1511.9 97.1 L1513.6 96.4 L1515.3 95.6 L1516.9 94.9 L1518.4 94.3 L1519.7 93.8 L1521.0 93.4 L1522.0 93.1 L1522.7 92.8 L1523.2 168.7 L1523.7 169.8 L1524.4 171.3 L1525.3 173.0 L1526.2 174.5 L1527.2 175.8 L1528.2 177.1 L1529.3 178.3 L1530.5 179.4 L1531.7 180.5 L1533.0 181.5 L1534.3 182.4 L1535.7 183.4 L1537.2 184.3 L1538.7 185.2 L1540.4 186.0 L1542.2 186.8 L1544.2 187.6 L1546.3 188.3 L1548.6 189.0 L1550.8 189.6 L1553.0 190.2 L1555.3 190.6 L1557.4 191.1 L1559.4 191.5 L1561.3 191.8 L1563.1 192.2 L1564.6 192.4 L1565.7 192.6 L1565.9 104.9 L1566.3 105.8 L1566.8 107.2 L1567.5 108.5 L1568.5 109.3 L1569.8 109.4 L1571.4 109.0 L1573.1 108.5 L1574.5 108.0 L1575.7 107.6 L1576.7 107.1 L1577.7 106.6 L1578.9 106.0 L1580.3 105.2 L1582.0 104.3 L1583.7 103.3 L1585.3 102.4 L1587.0 101.4 L1588.6 100.4 L1590.2 99.5 L1591.8 98.5 L1593.4 97.6 L1595.1 96.7 L1596.7 95.9 L1598.3 95.0 L1600.0 94.2 L1601.7 93.3 L1603.3 92.5 L1604.8 91.8 L1606.1 91.2 L1607.3 90.7 L1608.4 90.3 L1609.1 90.0 L1609.5 168.7 L1610.0 169.8 L1610.8 171.3 L1611.6 173.0 L1612.5 174.5 L1613.5 175.8 L1614.6 177.1 L1615.7 178.3 L1616.9 179.4 L1618.1 180.5 L1619.3 181.5 L1620.6 182.4 L1622.0 183.4 L1623.5 184.3 L1625.1 185.2 L1626.7 186.0 L1628.5 186.8 L1630.5 187.6 L1632.7 188.3 L1634.9 189.0 L1637.2 189.6 L1639.4 190.2 L1641.6 190.6 L1643.8 191.1 L1645.8 191.5 L1647.7 191.8 L1648.6 193.1" stroke="#ff0000" stroke-width="2.4" fill="none" stroke-linejoin="round"/>
<rect x="1216.8" y="25.5" width="431.8" height="348.2" fill="none" stroke="#000" stroke-width="2.5"/>
<line x1="1216.8" y1="373.7" x2="1216.8" y2="367.2" stroke="#000" stroke-width="2.5"/>
<line x1="1303.16" y1="373.7" x2="1303.16" y2="367.2" stroke="#000" stroke-width="2.5"/>
<line x1="1389.52" y1="373.7" x2="1389.52" y2="367.2" stroke="#000" stroke-width="2.5"/>
<line x1="1475.88" y1="373.7" x2="1475.88" y2="367.2" stroke="#000" stroke-width="2.5"/>
<line x1="1562.24" y1="373.7" x2="1562.24" y2="367.2" stroke="#000" stroke-width="2.5"/>
<line x1="1648.6" y1="373.7" x2="1648.6" y2="367.2" stroke="#000" stroke-width="2.5"/>
<line x1="1259.98" y1="373.7" x2="1259.98" y2="370.4" stroke="#000" stroke-width="2.5"/>
<line x1="1346.34" y1="373.7" x2="1346.34" y2="370.4" stroke="#000" stroke-width="2.5"/>
<line x1="1432.7" y1="373.7" x2="1432.7" y2="370.4" stroke="#000" stroke-width="2.5"/>
<line x1="1519.06" y1="373.7" x2="1519.06" y2="370.4" stroke="#000" stroke-width="2.5"/>
<line x1="1605.42" y1="373.7" x2="1605.42" y2="370.4" stroke="#000" stroke-width="2.5"/>
<text x="1216.8" y="405" text-anchor="middle" stroke="#000" stroke-width="0.35">35</text>
<text x="1303.16" y="405" text-anchor="middle" stroke="#000" stroke-width="0.35">37</text>
<text x="1389.52" y="405" text-anchor="middle" stroke="#000" stroke-width="0.35">39</text>
<text x="1475.88" y="405" text-anchor="middle" stroke="#000" stroke-width="0.35">41</text>
<text x="1562.24" y="405" text-anchor="middle" stroke="#000" stroke-width="0.35">43</text>
<text x="1648.6" y="405" text-anchor="middle" stroke="#000" stroke-width="0.35">45</text>
<line x1="1216.8" y1="373.7" x2="1223.3" y2="373.7" stroke="#000" stroke-width="2.5"/>
<line x1="1216.8" y1="257.63" x2="1223.3" y2="257.63" stroke="#000" stroke-width="2.5"/>
<line x1="1216.8" y1="141.57" x2="1223.3" y2="141.57" stroke="#000" stroke-width="2.5"/>
<line x1="1216.8" y1="25.5" x2="1223.3" y2="25.5" stroke="#000" stroke-width="2.5"/>
<line x1="1216.8" y1="315.67" x2="1220.1" y2="315.67" stroke="#000" stroke-width="2.5"/>
<line x1="1216.8" y1="199.6" x2="1220.1" y2="199.6" stroke="#000" stroke-width="2.5"/>
<line x1="1216.8" y1="83.53" x2="1220.1" y2="83.53" stroke="#000" stroke-width="2.5"/>
<text x="1208" y="382.7" text-anchor="end" stroke="#000" stroke-width="0.35">−0.10</text>
<text x="1208" y="266.63" text-anchor="end" stroke="#000" stroke-width="0.35">−0.05</text>
<text x="1208" y="150.57" text-anchor="end" stroke="#000" stroke-width="0.35">0.00</text>
<text x="1208" y="34.5" text-anchor="end" stroke="#000" stroke-width="0.35">0.05</text>
<text x="1432.7" y="431" text-anchor="middle" stroke="#000" stroke-width="0.35">Time (h)</text>
<text transform="translate(1133,199) rotate(-90)" text-anchor="middle" stroke="#000" stroke-width="0.35">Potential (V vs. Zn<tspan baseline-shift="12" font-size="20.5">2+</tspan>/Zn)</text>
<line x1="1230" y1="311.7" x2="1296.5" y2="311.7" stroke="#ff0000" stroke-width="2.4"/>
<text x="1305" y="321" stroke="#000" stroke-width="0.35">Ni–DAPTO/Cu</text>
<line x1="1230" y1="348.2" x2="1296.5" y2="348.2" stroke="#1a94f5" stroke-width="2.4"/>
<text x="1305" y="357.5" stroke="#000" stroke-width="0.35">Bare Cu</text>
<text x="22" y="465" font-weight="bold" font-size="33" stroke="#000" stroke-width="0.35">c</text>
<clipPath id="cpc"><rect x="112" y="459.6" width="431" height="344.0"/></clipPath>
<g clip-path="url(#cpc)">
<circle cx="113.4" cy="521.7" r="4.2" fill="url(#sb)"/>
<circle cx="114.9" cy="513.9" r="4.2" fill="url(#sb)"/>
<circle cx="116.3" cy="513.9" r="4.2" fill="url(#sb)"/>
<circle cx="117.7" cy="508.2" r="4.2" fill="url(#sb)"/>
<circle cx="119.2" cy="508.2" r="4.2" fill="url(#sb)"/>
<circle cx="120.6" cy="497.1" r="4.2" fill="url(#sb)"/>
<circle cx="122.1" cy="496.3" r="4.2" fill="url(#sb)"/>
<circle cx="123.5" cy="496.0" r="4.2" fill="url(#sb)"/>
<circle cx="124.9" cy="495.1" r="4.2" fill="url(#sb)"/>
<circle cx="126.4" cy="496.4" r="4.2" fill="url(#sb)"/>
<circle cx="127.8" cy="495.2" r="4.2" fill="url(#sb)"/>
<circle cx="129.2" cy="500.8" r="4.2" fill="url(#sb)"/>
<circle cx="130.7" cy="498.1" r="4.2" fill="url(#sb)"/>
<circle cx="132.1" cy="495.1" r="4.2" fill="url(#sb)"/>
<circle cx="133.6" cy="496.9" r="4.2" fill="url(#sb)"/>
<circle cx="135.0" cy="495.3" r="4.2" fill="url(#sb)"/>
<circle cx="136.4" cy="500.3" r="4.2" fill="url(#sb)"/>
<circle cx="137.9" cy="498.1" r="4.2" fill="url(#sb)"/>
<circle cx="139.3" cy="499.5" r="4.2" fill="url(#sb)"/>
<circle cx="140.7" cy="497.6" r="4.2" fill="url(#sb)"/>
<circle cx="142.2" cy="497.4" r="4.2" fill="url(#sb)"/>
<circle cx="143.6" cy="500.9" r="4.2" fill="url(#sb)"/>
<circle cx="145.0" cy="499.6" r="4.2" fill="url(#sb)"/>
<circle cx="146.5" cy="499.2" r="4.2" fill="url(#sb)"/>
<circle cx="147.9" cy="495.3" r="4.2" fill="url(#sb)"/>
<circle cx="149.4" cy="496.2" r="4.2" fill="url(#sb)"/>
<circle cx="150.8" cy="500.0" r="4.2" fill="url(#sb)"/>
<circle cx="152.2" cy="496.0" r="4.2" fill="url(#sb)"/>
<circle cx="153.7" cy="500.1" r="4.2" fill="url(#sb)"/>
<circle cx="155.1" cy="497.1" r="4.2" fill="url(#sb)"/>
<circle cx="156.5" cy="500.2" r="4.2" fill="url(#sb)"/>
<circle cx="158.0" cy="501.0" r="4.2" fill="url(#sb)"/>
<circle cx="159.4" cy="495.5" r="4.2" fill="url(#sb)"/>
<circle cx="160.8" cy="499.7" r="4.2" fill="url(#sb)"/>
<circle cx="162.3" cy="499.6" r="4.2" fill="url(#sb)"/>
<circle cx="163.7" cy="494.8" r="4.2" fill="url(#sb)"/>
<circle cx="165.2" cy="495.5" r="4.2" fill="url(#sb)"/>
<circle cx="166.6" cy="499.2" r="4.2" fill="url(#sb)"/>
<circle cx="168.0" cy="495.0" r="4.2" fill="url(#sb)"/>
<circle cx="169.5" cy="497.6" r="4.2" fill="url(#sb)"/>
<circle cx="170.9" cy="496.7" r="4.2" fill="url(#sb)"/>
<circle cx="172.3" cy="499.7" r="4.2" fill="url(#sb)"/>
<circle cx="173.8" cy="495.1" r="4.2" fill="url(#sb)"/>
<circle cx="175.2" cy="496.7" r="4.2" fill="url(#sb)"/>
<circle cx="176.6" cy="494.9" r="4.2" fill="url(#sb)"/>
<circle cx="178.1" cy="495.4" r="4.2" fill="url(#sb)"/>
<circle cx="179.5" cy="499.1" r="4.2" fill="url(#sb)"/>
<circle cx="181.0" cy="498.7" r="4.2" fill="url(#sb)"/>
<circle cx="182.4" cy="500.0" r="4.2" fill="url(#sb)"/>
<circle cx="183.8" cy="500.1" r="4.2" fill="url(#sb)"/>
<circle cx="185.3" cy="500.6" r="4.2" fill="url(#sb)"/>
<circle cx="186.7" cy="499.1" r="4.2" fill="url(#sb)"/>
<circle cx="188.1" cy="497.2" r="4.2" fill="url(#sb)"/>
<circle cx="189.6" cy="501.0" r="4.2" fill="url(#sb)"/>
<circle cx="191.0" cy="496.7" r="4.2" fill="url(#sb)"/>
<circle cx="192.5" cy="498.9" r="4.2" fill="url(#sb)"/>
<circle cx="193.9" cy="499.1" r="4.2" fill="url(#sb)"/>
<circle cx="195.3" cy="495.9" r="4.2" fill="url(#sb)"/>
<circle cx="196.8" cy="497.1" r="4.2" fill="url(#sb)"/>
<circle cx="198.2" cy="503.3" r="4.2" fill="url(#sb)"/>
<circle cx="199.6" cy="505.5" r="4.2" fill="url(#sb)"/>
<circle cx="201.1" cy="505.9" r="4.2" fill="url(#sb)"/>
<circle cx="202.5" cy="501.3" r="4.2" fill="url(#sb)"/>
<circle cx="203.9" cy="508.7" r="4.2" fill="url(#sb)"/>
<circle cx="205.4" cy="502.1" r="4.2" fill="url(#sb)"/>
<circle cx="206.8" cy="510.3" r="4.2" fill="url(#sb)"/>
<circle cx="208.3" cy="507.1" r="4.2" fill="url(#sb)"/>
<circle cx="209.7" cy="509.6" r="4.2" fill="url(#sb)"/>
<circle cx="211.1" cy="507.2" r="4.2" fill="url(#sb)"/>
<circle cx="212.6" cy="505.3" r="4.2" fill="url(#sb)"/>
<circle cx="214.0" cy="506.1" r="4.2" fill="url(#sb)"/>
<circle cx="215.4" cy="507.2" r="4.2" fill="url(#sb)"/>
<circle cx="216.9" cy="514.1" r="4.2" fill="url(#sb)"/>
<circle cx="218.3" cy="508.1" r="4.2" fill="url(#sb)"/>
<circle cx="219.8" cy="516.0" r="4.2" fill="url(#sb)"/>
<circle cx="221.2" cy="517.5" r="4.2" fill="url(#sb)"/>
<circle cx="222.6" cy="509.8" r="4.2" fill="url(#sb)"/>
<circle cx="224.1" cy="512.8" r="4.2" fill="url(#sb)"/>
<circle cx="225.5" cy="519.0" r="4.2" fill="url(#sb)"/>
<circle cx="226.9" cy="514.0" r="4.2" fill="url(#sb)"/>
<circle cx="228.4" cy="519.0" r="4.2" fill="url(#sb)"/>
<circle cx="229.8" cy="512.6" r="4.2" fill="url(#sb)"/>
<circle cx="231.2" cy="516.8" r="4.2" fill="url(#sb)"/>
<circle cx="232.7" cy="519.6" r="4.2" fill="url(#sb)"/>
<circle cx="234.1" cy="515.9" r="4.2" fill="url(#sb)"/>
<circle cx="235.6" cy="515.8" r="4.2" fill="url(#sb)"/>
<circle cx="237.0" cy="523.6" r="4.2" fill="url(#sb)"/>
<circle cx="238.4" cy="780.5" r="4.2" fill="url(#sb)"/>
<circle cx="239.9" cy="789.7" r="4.2" fill="url(#sb)"/>
<circle cx="241.3" cy="778.6" r="4.2" fill="url(#sb)"/>
<circle cx="242.7" cy="721.8" r="4.2" fill="url(#sb)"/>
<circle cx="244.2" cy="791.1" r="4.2" fill="url(#sb)"/>
<circle cx="245.6" cy="782.0" r="4.2" fill="url(#sb)"/>
<circle cx="247.0" cy="803.7" r="4.2" fill="url(#sb)"/>
<circle cx="248.5" cy="803.2" r="4.2" fill="url(#sb)"/>
<circle cx="249.9" cy="803.4" r="4.2" fill="url(#sb)"/>
<circle cx="251.4" cy="803.3" r="4.2" fill="url(#sb)"/>
<circle cx="252.8" cy="803.6" r="4.2" fill="url(#sb)"/>
<circle cx="254.2" cy="803.7" r="4.2" fill="url(#sb)"/>
<circle cx="255.7" cy="803.2" r="4.2" fill="url(#sb)"/>
<circle cx="257.1" cy="803.5" r="4.2" fill="url(#sb)"/>
<circle cx="258.5" cy="803.7" r="4.2" fill="url(#sb)"/>
<circle cx="260.0" cy="803.3" r="4.2" fill="url(#sb)"/>
<circle cx="261.4" cy="803.6" r="4.2" fill="url(#sb)"/>
<circle cx="262.9" cy="803.7" r="4.2" fill="url(#sb)"/>
<circle cx="264.3" cy="803.6" r="4.2" fill="url(#sb)"/>
<circle cx="265.7" cy="803.8" r="4.2" fill="url(#sb)"/>
<circle cx="267.2" cy="803.6" r="4.2" fill="url(#sb)"/>
<circle cx="268.6" cy="803.7" r="4.2" fill="url(#sb)"/>
<circle cx="270.0" cy="803.2" r="4.2" fill="url(#sb)"/>
<circle cx="271.5" cy="803.4" r="4.2" fill="url(#sb)"/>
<circle cx="272.9" cy="803.7" r="4.2" fill="url(#sb)"/>
<circle cx="274.3" cy="803.5" r="4.2" fill="url(#sb)"/>
<circle cx="275.8" cy="803.2" r="4.2" fill="url(#sb)"/>
<circle cx="277.2" cy="803.4" r="4.2" fill="url(#sb)"/>
<circle cx="278.7" cy="803.6" r="4.2" fill="url(#sb)"/>
<circle cx="280.1" cy="803.6" r="4.2" fill="url(#sb)"/>
<circle cx="281.5" cy="803.5" r="4.2" fill="url(#sb)"/>
<circle cx="283.0" cy="803.3" r="4.2" fill="url(#sb)"/>
<circle cx="284.4" cy="803.7" r="4.2" fill="url(#sb)"/>
<circle cx="285.8" cy="803.3" r="4.2" fill="url(#sb)"/>
<circle cx="287.3" cy="803.5" r="4.2" fill="url(#sb)"/>
<circle cx="288.7" cy="803.7" r="4.2" fill="url(#sb)"/>
<circle cx="290.1" cy="803.2" r="4.2" fill="url(#sb)"/>
<circle cx="291.6" cy="803.3" r="4.2" fill="url(#sb)"/>
<circle cx="293.0" cy="803.7" r="4.2" fill="url(#sb)"/>
<circle cx="294.5" cy="803.5" r="4.2" fill="url(#sb)"/>
<circle cx="295.9" cy="803.5" r="4.2" fill="url(#sb)"/>
<circle cx="297.3" cy="803.5" r="4.2" fill="url(#sb)"/>
<circle cx="298.8" cy="803.5" r="4.2" fill="url(#sb)"/>
<circle cx="300.2" cy="803.8" r="4.2" fill="url(#sb)"/>
<circle cx="301.6" cy="803.3" r="4.2" fill="url(#sb)"/>
<circle cx="303.1" cy="803.6" r="4.2" fill="url(#sb)"/>
<circle cx="304.5" cy="803.4" r="4.2" fill="url(#sb)"/>
<circle cx="306.0" cy="803.8" r="4.2" fill="url(#sb)"/>
<circle cx="307.4" cy="803.6" r="4.2" fill="url(#sb)"/>
<circle cx="308.8" cy="803.5" r="4.2" fill="url(#sb)"/>
<circle cx="310.3" cy="803.4" r="4.2" fill="url(#sb)"/>
<circle cx="311.7" cy="803.3" r="4.2" fill="url(#sb)"/>
<circle cx="313.1" cy="803.6" r="4.2" fill="url(#sb)"/>
<circle cx="314.6" cy="803.2" r="4.2" fill="url(#sb)"/>
<circle cx="316.0" cy="803.4" r="4.2" fill="url(#sb)"/>
<circle cx="317.4" cy="803.2" r="4.2" fill="url(#sb)"/>
<circle cx="318.9" cy="803.6" r="4.2" fill="url(#sb)"/>
<circle cx="320.3" cy="803.7" r="4.2" fill="url(#sb)"/>
<circle cx="321.8" cy="803.3" r="4.2" fill="url(#sb)"/>
<circle cx="323.2" cy="803.5" r="4.2" fill="url(#sb)"/>
<circle cx="324.6" cy="803.3" r="4.2" fill="url(#sb)"/>
<circle cx="326.1" cy="803.6" r="4.2" fill="url(#sb)"/>
<circle cx="327.5" cy="803.6" r="4.2" fill="url(#sb)"/>
<circle cx="328.9" cy="803.6" r="4.2" fill="url(#sb)"/>
<circle cx="330.4" cy="803.5" r="4.2" fill="url(#sb)"/>
<circle cx="331.8" cy="803.4" r="4.2" fill="url(#sb)"/>
<circle cx="333.2" cy="803.6" r="4.2" fill="url(#sb)"/>
<circle cx="334.7" cy="803.6" r="4.2" fill="url(#sb)"/>
<circle cx="336.1" cy="803.6" r="4.2" fill="url(#sb)"/>
<circle cx="337.6" cy="803.2" r="4.2" fill="url(#sb)"/>
<circle cx="339.0" cy="803.6" r="4.2" fill="url(#sb)"/>
<circle cx="340.4" cy="803.2" r="4.2" fill="url(#sb)"/>
<circle cx="341.9" cy="803.7" r="4.2" fill="url(#sb)"/>
<circle cx="343.3" cy="803.3" r="4.2" fill="url(#sb)"/>
<circle cx="344.7" cy="803.5" r="4.2" fill="url(#sb)"/>
<circle cx="346.2" cy="803.6" r="4.2" fill="url(#sb)"/>
<circle cx="347.6" cy="803.6" r="4.2" fill="url(#sb)"/>
<circle cx="349.1" cy="803.7" r="4.2" fill="url(#sb)"/>
<circle cx="350.5" cy="803.2" r="4.2" fill="url(#sb)"/>
<circle cx="351.9" cy="803.7" r="4.2" fill="url(#sb)"/>
<circle cx="353.4" cy="803.6" r="4.2" fill="url(#sb)"/>
<circle cx="354.8" cy="803.3" r="4.2" fill="url(#sb)"/>
<circle cx="356.2" cy="803.6" r="4.2" fill="url(#sb)"/>
<circle cx="357.7" cy="803.8" r="4.2" fill="url(#sb)"/>
<circle cx="359.1" cy="803.4" r="4.2" fill="url(#sb)"/>
<circle cx="360.5" cy="803.6" r="4.2" fill="url(#sb)"/>
<circle cx="362.0" cy="803.4" r="4.2" fill="url(#sb)"/>
<circle cx="363.4" cy="803.2" r="4.2" fill="url(#sb)"/>
<circle cx="364.9" cy="803.5" r="4.2" fill="url(#sb)"/>
<circle cx="366.3" cy="803.2" r="4.2" fill="url(#sb)"/>
<circle cx="367.7" cy="803.6" r="4.2" fill="url(#sb)"/>
<circle cx="369.2" cy="803.5" r="4.2" fill="url(#sb)"/>
<circle cx="370.6" cy="803.3" r="4.2" fill="url(#sb)"/>
<circle cx="372.0" cy="803.6" r="4.2" fill="url(#sb)"/>
<circle cx="373.5" cy="803.2" r="4.2" fill="url(#sb)"/>
<circle cx="374.9" cy="803.7" r="4.2" fill="url(#sb)"/>
<circle cx="376.3" cy="803.4" r="4.2" fill="url(#sb)"/>
<circle cx="377.8" cy="803.4" r="4.2" fill="url(#sb)"/>
<circle cx="379.2" cy="803.7" r="4.2" fill="url(#sb)"/>
<circle cx="380.7" cy="803.3" r="4.2" fill="url(#sb)"/>
<circle cx="382.1" cy="803.7" r="4.2" fill="url(#sb)"/>
<circle cx="383.5" cy="803.4" r="4.2" fill="url(#sb)"/>
<circle cx="385.0" cy="803.2" r="4.2" fill="url(#sb)"/>
<circle cx="386.4" cy="803.2" r="4.2" fill="url(#sb)"/>
<circle cx="387.8" cy="803.7" r="4.2" fill="url(#sb)"/>
<circle cx="389.3" cy="803.3" r="4.2" fill="url(#sb)"/>
<circle cx="390.7" cy="803.7" r="4.2" fill="url(#sb)"/>
<circle cx="392.2" cy="803.2" r="4.2" fill="url(#sb)"/>
<circle cx="393.6" cy="803.5" r="4.2" fill="url(#sb)"/>
<circle cx="395.0" cy="803.5" r="4.2" fill="url(#sb)"/>
<circle cx="396.5" cy="803.6" r="4.2" fill="url(#sb)"/>
<circle cx="397.9" cy="803.6" r="4.2" fill="url(#sb)"/>
<circle cx="399.3" cy="803.4" r="4.2" fill="url(#sb)"/>
<circle cx="400.8" cy="803.8" r="4.2" fill="url(#sb)"/>
<circle cx="402.2" cy="803.7" r="4.2" fill="url(#sb)"/>
<circle cx="403.6" cy="803.4" r="4.2" fill="url(#sb)"/>
<circle cx="405.1" cy="803.6" r="4.2" fill="url(#sb)"/>
<circle cx="406.5" cy="803.6" r="4.2" fill="url(#sb)"/>
<circle cx="408.0" cy="803.2" r="4.2" fill="url(#sb)"/>
<circle cx="409.4" cy="803.3" r="4.2" fill="url(#sb)"/>
<circle cx="410.8" cy="803.3" r="4.2" fill="url(#sb)"/>
<circle cx="412.3" cy="803.4" r="4.2" fill="url(#sb)"/>
<circle cx="413.7" cy="803.5" r="4.2" fill="url(#sb)"/>
<circle cx="415.1" cy="803.2" r="4.2" fill="url(#sb)"/>
<circle cx="416.6" cy="803.5" r="4.2" fill="url(#sb)"/>
<circle cx="418.0" cy="803.6" r="4.2" fill="url(#sb)"/>
<circle cx="419.4" cy="803.6" r="4.2" fill="url(#sb)"/>
<circle cx="420.9" cy="803.5" r="4.2" fill="url(#sb)"/>
<circle cx="422.3" cy="803.2" r="4.2" fill="url(#sb)"/>
<circle cx="423.8" cy="803.6" r="4.2" fill="url(#sb)"/>
<circle cx="425.2" cy="803.6" r="4.2" fill="url(#sb)"/>
<circle cx="426.6" cy="803.7" r="4.2" fill="url(#sb)"/>
<circle cx="428.1" cy="803.6" r="4.2" fill="url(#sb)"/>
<circle cx="429.5" cy="803.5" r="4.2" fill="url(#sb)"/>
<circle cx="430.9" cy="803.5" r="4.2" fill="url(#sb)"/>
<circle cx="432.4" cy="803.5" r="4.2" fill="url(#sb)"/>
<circle cx="433.8" cy="803.7" r="4.2" fill="url(#sb)"/>
<circle cx="435.2" cy="803.6" r="4.2" fill="url(#sb)"/>
<circle cx="436.7" cy="803.5" r="4.2" fill="url(#sb)"/>
<circle cx="438.1" cy="803.7" r="4.2" fill="url(#sb)"/>
<circle cx="439.6" cy="803.7" r="4.2" fill="url(#sb)"/>
<circle cx="441.0" cy="803.8" r="4.2" fill="url(#sb)"/>
<circle cx="442.4" cy="803.3" r="4.2" fill="url(#sb)"/>
<circle cx="443.9" cy="803.4" r="4.2" fill="url(#sb)"/>
<circle cx="445.3" cy="803.6" r="4.2" fill="url(#sb)"/>
<circle cx="446.7" cy="803.6" r="4.2" fill="url(#sb)"/>
<circle cx="448.2" cy="803.2" r="4.2" fill="url(#sb)"/>
<circle cx="449.6" cy="803.5" r="4.2" fill="url(#sb)"/>
<circle cx="451.1" cy="803.6" r="4.2" fill="url(#sb)"/>
<circle cx="452.5" cy="803.3" r="4.2" fill="url(#sb)"/>
<circle cx="453.9" cy="803.5" r="4.2" fill="url(#sb)"/>
<circle cx="455.4" cy="803.5" r="4.2" fill="url(#sb)"/>
<circle cx="456.8" cy="803.2" r="4.2" fill="url(#sb)"/>
<circle cx="458.2" cy="803.5" r="4.2" fill="url(#sb)"/>
<circle cx="459.7" cy="803.5" r="4.2" fill="url(#sb)"/>
<circle cx="461.1" cy="803.4" r="4.2" fill="url(#sb)"/>
<circle cx="462.5" cy="803.6" r="4.2" fill="url(#sb)"/>
<circle cx="464.0" cy="803.3" r="4.2" fill="url(#sb)"/>
<circle cx="465.4" cy="803.7" r="4.2" fill="url(#sb)"/>
<circle cx="466.9" cy="803.4" r="4.2" fill="url(#sb)"/>
<circle cx="468.3" cy="803.4" r="4.2" fill="url(#sb)"/>
<circle cx="469.7" cy="803.6" r="4.2" fill="url(#sb)"/>
<circle cx="471.2" cy="803.7" r="4.2" fill="url(#sb)"/>
<circle cx="472.6" cy="803.8" r="4.2" fill="url(#sb)"/>
<circle cx="474.0" cy="803.2" r="4.2" fill="url(#sb)"/>
<circle cx="475.5" cy="803.6" r="4.2" fill="url(#sb)"/>
<circle cx="476.9" cy="803.2" r="4.2" fill="url(#sb)"/>
<circle cx="478.3" cy="803.7" r="4.2" fill="url(#sb)"/>
<circle cx="479.8" cy="803.8" r="4.2" fill="url(#sb)"/>
<circle cx="481.2" cy="803.4" r="4.2" fill="url(#sb)"/>
<circle cx="482.7" cy="803.2" r="4.2" fill="url(#sb)"/>
<circle cx="484.1" cy="803.7" r="4.2" fill="url(#sb)"/>
<circle cx="485.5" cy="803.8" r="4.2" fill="url(#sb)"/>
<circle cx="487.0" cy="803.7" r="4.2" fill="url(#sb)"/>
<circle cx="488.4" cy="803.6" r="4.2" fill="url(#sb)"/>
<circle cx="489.8" cy="803.5" r="4.2" fill="url(#sb)"/>
<circle cx="491.3" cy="803.5" r="4.2" fill="url(#sb)"/>
<circle cx="492.7" cy="803.7" r="4.2" fill="url(#sb)"/>
<circle cx="494.2" cy="803.5" r="4.2" fill="url(#sb)"/>
<circle cx="495.6" cy="803.8" r="4.2" fill="url(#sb)"/>
<circle cx="497.0" cy="803.5" r="4.2" fill="url(#sb)"/>
<circle cx="498.5" cy="803.3" r="4.2" fill="url(#sb)"/>
<circle cx="499.9" cy="803.4" r="4.2" fill="url(#sb)"/>
<circle cx="501.3" cy="803.6" r="4.2" fill="url(#sb)"/>
<circle cx="502.8" cy="803.5" r="4.2" fill="url(#sb)"/>
<circle cx="504.2" cy="803.2" r="4.2" fill="url(#sb)"/>
<circle cx="505.6" cy="803.5" r="4.2" fill="url(#sb)"/>
<circle cx="507.1" cy="803.3" r="4.2" fill="url(#sb)"/>
<circle cx="508.5" cy="803.3" r="4.2" fill="url(#sb)"/>
<circle cx="510.0" cy="803.3" r="4.2" fill="url(#sb)"/>
<circle cx="511.4" cy="803.8" r="4.2" fill="url(#sb)"/>
<circle cx="512.8" cy="803.7" r="4.2" fill="url(#sb)"/>
<circle cx="514.3" cy="803.6" r="4.2" fill="url(#sb)"/>
<circle cx="515.7" cy="803.4" r="4.2" fill="url(#sb)"/>
<circle cx="517.1" cy="803.4" r="4.2" fill="url(#sb)"/>
<circle cx="518.6" cy="803.4" r="4.2" fill="url(#sb)"/>
<circle cx="520.0" cy="803.8" r="4.2" fill="url(#sb)"/>
<circle cx="521.5" cy="803.6" r="4.2" fill="url(#sb)"/>
<circle cx="522.9" cy="803.4" r="4.2" fill="url(#sb)"/>
<circle cx="524.3" cy="803.3" r="4.2" fill="url(#sb)"/>
<circle cx="525.8" cy="803.7" r="4.2" fill="url(#sb)"/>
<circle cx="527.2" cy="803.8" r="4.2" fill="url(#sb)"/>
<circle cx="528.6" cy="803.5" r="4.2" fill="url(#sb)"/>
<circle cx="530.1" cy="803.4" r="4.2" fill="url(#sb)"/>
<circle cx="531.5" cy="803.7" r="4.2" fill="url(#sb)"/>
<circle cx="532.9" cy="803.4" r="4.2" fill="url(#sb)"/>
<circle cx="534.4" cy="803.7" r="4.2" fill="url(#sb)"/>
<circle cx="535.8" cy="803.5" r="4.2" fill="url(#sb)"/>
<circle cx="537.3" cy="803.3" r="4.2" fill="url(#sb)"/>
<circle cx="538.7" cy="803.4" r="4.2" fill="url(#sb)"/>
<circle cx="540.1" cy="803.4" r="4.2" fill="url(#sb)"/>
<circle cx="541.6" cy="803.2" r="4.2" fill="url(#sb)"/>
<circle cx="543.0" cy="803.4" r="4.2" fill="url(#sb)"/>
<circle cx="113.4" cy="506.0" r="4.2" fill="url(#sr)"/>
<circle cx="114.9" cy="500.4" r="4.2" fill="url(#sr)"/>
<circle cx="116.3" cy="494.0" r="4.2" fill="url(#sr)"/>
<circle cx="117.7" cy="494.1" r="4.2" fill="url(#sr)"/>
<circle cx="119.2" cy="495.4" r="4.2" fill="url(#sr)"/>
<circle cx="120.6" cy="494.7" r="4.2" fill="url(#sr)"/>
<circle cx="122.1" cy="494.5" r="4.2" fill="url(#sr)"/>
<circle cx="123.5" cy="489.1" r="4.2" fill="url(#sr)"/>
<circle cx="124.9" cy="511.0" r="4.2" fill="url(#sr)"/>
<circle cx="126.4" cy="498.8" r="4.2" fill="url(#sr)"/>
<circle cx="127.8" cy="512.9" r="4.2" fill="url(#sr)"/>
<circle cx="129.2" cy="501.9" r="4.2" fill="url(#sr)"/>
<circle cx="130.7" cy="508.2" r="4.2" fill="url(#sr)"/>
<circle cx="132.1" cy="494.1" r="4.2" fill="url(#sr)"/>
<circle cx="133.6" cy="497.2" r="4.2" fill="url(#sr)"/>
<circle cx="135.0" cy="489.4" r="4.2" fill="url(#sr)"/>
<circle cx="136.4" cy="491.4" r="4.2" fill="url(#sr)"/>
<circle cx="137.9" cy="490.1" r="4.2" fill="url(#sr)"/>
<circle cx="139.3" cy="492.2" r="4.2" fill="url(#sr)"/>
<circle cx="140.7" cy="493.6" r="4.2" fill="url(#sr)"/>
<circle cx="142.2" cy="490.0" r="4.2" fill="url(#sr)"/>
<circle cx="143.6" cy="490.9" r="4.2" fill="url(#sr)"/>
<circle cx="145.0" cy="490.6" r="4.2" fill="url(#sr)"/>
<circle cx="146.5" cy="491.4" r="4.2" fill="url(#sr)"/>
<circle cx="147.9" cy="492.2" r="4.2" fill="url(#sr)"/>
<circle cx="149.4" cy="492.9" r="4.2" fill="url(#sr)"/>
<circle cx="150.8" cy="490.4" r="4.2" fill="url(#sr)"/>
<circle cx="152.2" cy="489.4" r="4.2" fill="url(#sr)"/>
<circle cx="153.7" cy="489.1" r="4.2" fill="url(#sr)"/>
<circle cx="155.1" cy="491.1" r="4.2" fill="url(#sr)"/>
<circle cx="156.5" cy="491.6" r="4.2" fill="url(#sr)"/>
<circle cx="158.0" cy="491.1" r="4.2" fill="url(#sr)"/>
<circle cx="159.4" cy="493.4" r="4.2" fill="url(#sr)"/>
<circle cx="160.8" cy="490.2" r="4.2" fill="url(#sr)"/>
<circle cx="162.3" cy="492.4" r="4.2" fill="url(#sr)"/>
<circle cx="163.7" cy="493.2" r="4.2" fill="url(#sr)"/>
<circle cx="165.2" cy="493.3" r="4.2" fill="url(#sr)"/>
<circle cx="166.6" cy="489.2" r="4.2" fill="url(#sr)"/>
<circle cx="168.0" cy="492.1" r="4.2" fill="url(#sr)"/>
<circle cx="169.5" cy="491.6" r="4.2" fill="url(#sr)"/>
<circle cx="170.9" cy="493.3" r="4.2" fill="url(#sr)"/>
<circle cx="172.3" cy="491.7" r="4.2" fill="url(#sr)"/>
<circle cx="173.8" cy="491.3" r="4.2" fill="url(#sr)"/>
<circle cx="175.2" cy="493.0" r="4.2" fill="url(#sr)"/>
<circle cx="176.6" cy="493.1" r="4.2" fill="url(#sr)"/>
<circle cx="178.1" cy="490.7" r="4.2" fill="url(#sr)"/>
<circle cx="179.5" cy="489.8" r="4.2" fill="url(#sr)"/>
<circle cx="181.0" cy="493.1" r="4.2" fill="url(#sr)"/>
<circle cx="182.4" cy="489.4" r="4.2" fill="url(#sr)"/>
<circle cx="183.8" cy="489.0" r="4.2" fill="url(#sr)"/>
<circle cx="185.3" cy="490.3" r="4.2" fill="url(#sr)"/>
<circle cx="186.7" cy="491.6" r="4.2" fill="url(#sr)"/>
<circle cx="188.1" cy="492.8" r="4.2" fill="url(#sr)"/>
<circle cx="189.6" cy="492.8" r="4.2" fill="url(#sr)"/>
<circle cx="191.0" cy="489.9" r="4.2" fill="url(#sr)"/>
<circle cx="192.5" cy="493.3" r="4.2" fill="url(#sr)"/>
<circle cx="193.9" cy="492.6" r="4.2" fill="url(#sr)"/>
<circle cx="195.3" cy="491.0" r="4.2" fill="url(#sr)"/>
<circle cx="196.8" cy="490.5" r="4.2" fill="url(#sr)"/>
<circle cx="198.2" cy="490.1" r="4.2" fill="url(#sr)"/>
<circle cx="199.6" cy="492.3" r="4.2" fill="url(#sr)"/>
<circle cx="201.1" cy="490.9" r="4.2" fill="url(#sr)"/>
<circle cx="202.5" cy="493.1" r="4.2" fill="url(#sr)"/>
<circle cx="203.9" cy="491.8" r="4.2" fill="url(#sr)"/>
<circle cx="205.4" cy="490.7" r="4.2" fill="url(#sr)"/>
<circle cx="206.8" cy="493.6" r="4.2" fill="url(#sr)"/>
<circle cx="208.3" cy="493.2" r="4.2" fill="url(#sr)"/>
<circle cx="209.7" cy="490.4" r="4.2" fill="url(#sr)"/>
<circle cx="211.1" cy="491.3" r="4.2" fill="url(#sr)"/>
<circle cx="212.6" cy="492.0" r="4.2" fill="url(#sr)"/>
<circle cx="214.0" cy="490.5" r="4.2" fill="url(#sr)"/>
<circle cx="215.4" cy="489.3" r="4.2" fill="url(#sr)"/>
<circle cx="216.9" cy="493.0" r="4.2" fill="url(#sr)"/>
<circle cx="218.3" cy="492.2" r="4.2" fill="url(#sr)"/>
<circle cx="219.8" cy="491.0" r="4.2" fill="url(#sr)"/>
<circle cx="221.2" cy="490.4" r="4.2" fill="url(#sr)"/>
<circle cx="222.6" cy="492.3" r="4.2" fill="url(#sr)"/>
<circle cx="224.1" cy="489.2" r="4.2" fill="url(#sr)"/>
<circle cx="225.5" cy="491.0" r="4.2" fill="url(#sr)"/>
<circle cx="226.9" cy="492.6" r="4.2" fill="url(#sr)"/>
<circle cx="228.4" cy="493.3" r="4.2" fill="url(#sr)"/>
<circle cx="229.8" cy="492.5" r="4.2" fill="url(#sr)"/>
<circle cx="231.2" cy="489.7" r="4.2" fill="url(#sr)"/>
<circle cx="232.7" cy="492.3" r="4.2" fill="url(#sr)"/>
<circle cx="234.1" cy="489.0" r="4.2" fill="url(#sr)"/>
<circle cx="235.6" cy="489.8" r="4.2" fill="url(#sr)"/>
<circle cx="237.0" cy="489.6" r="4.2" fill="url(#sr)"/>
<circle cx="238.4" cy="491.5" r="4.2" fill="url(#sr)"/>
<circle cx="239.9" cy="491.8" r="4.2" fill="url(#sr)"/>
<circle cx="241.3" cy="493.0" r="4.2" fill="url(#sr)"/>
<circle cx="242.7" cy="493.5" r="4.2" fill="url(#sr)"/>
<circle cx="244.2" cy="492.0" r="4.2" fill="url(#sr)"/>
<circle cx="245.6" cy="490.9" r="4.2" fill="url(#sr)"/>
<circle cx="247.0" cy="493.5" r="4.2" fill="url(#sr)"/>
<circle cx="248.5" cy="489.6" r="4.2" fill="url(#sr)"/>
<circle cx="249.9" cy="491.2" r="4.2" fill="url(#sr)"/>
<circle cx="251.4" cy="491.5" r="4.2" fill="url(#sr)"/>
<circle cx="252.8" cy="491.8" r="4.2" fill="url(#sr)"/>
<circle cx="254.2" cy="491.5" r="4.2" fill="url(#sr)"/>
<circle cx="255.7" cy="489.1" r="4.2" fill="url(#sr)"/>
<circle cx="257.1" cy="493.1" r="4.2" fill="url(#sr)"/>
<circle cx="258.5" cy="491.1" r="4.2" fill="url(#sr)"/>
<circle cx="260.0" cy="491.1" r="4.2" fill="url(#sr)"/>
<circle cx="261.4" cy="491.8" r="4.2" fill="url(#sr)"/>
<circle cx="262.9" cy="489.6" r="4.2" fill="url(#sr)"/>
<circle cx="264.3" cy="489.2" r="4.2" fill="url(#sr)"/>
<circle cx="265.7" cy="491.6" r="4.2" fill="url(#sr)"/>
<circle cx="267.2" cy="489.9" r="4.2" fill="url(#sr)"/>
<circle cx="268.6" cy="490.1" r="4.2" fill="url(#sr)"/>
<circle cx="270.0" cy="493.2" r="4.2" fill="url(#sr)"/>
<circle cx="271.5" cy="489.3" r="4.2" fill="url(#sr)"/>
<circle cx="272.9" cy="491.3" r="4.2" fill="url(#sr)"/>
<circle cx="274.3" cy="492.6" r="4.2" fill="url(#sr)"/>
<circle cx="275.8" cy="490.3" r="4.2" fill="url(#sr)"/>
<circle cx="277.2" cy="491.9" r="4.2" fill="url(#sr)"/>
<circle cx="278.7" cy="489.7" r="4.2" fill="url(#sr)"/>
<circle cx="280.1" cy="492.3" r="4.2" fill="url(#sr)"/>
<circle cx="281.5" cy="489.3" r="4.2" fill="url(#sr)"/>
<circle cx="283.0" cy="490.3" r="4.2" fill="url(#sr)"/>
<circle cx="284.4" cy="489.9" r="4.2" fill="url(#sr)"/>
<circle cx="285.8" cy="491.9" r="4.2" fill="url(#sr)"/>
<circle cx="287.3" cy="490.2" r="4.2" fill="url(#sr)"/>
<circle cx="288.7" cy="491.9" r="4.2" fill="url(#sr)"/>
<circle cx="290.1" cy="492.2" r="4.2" fill="url(#sr)"/>
<circle cx="291.6" cy="490.7" r="4.2" fill="url(#sr)"/>
<circle cx="293.0" cy="489.1" r="4.2" fill="url(#sr)"/>
<circle cx="294.5" cy="491.9" r="4.2" fill="url(#sr)"/>
<circle cx="295.9" cy="493.5" r="4.2" fill="url(#sr)"/>
<circle cx="297.3" cy="489.0" r="4.2" fill="url(#sr)"/>
<circle cx="298.8" cy="492.6" r="4.2" fill="url(#sr)"/>
<circle cx="300.2" cy="492.8" r="4.2" fill="url(#sr)"/>
<circle cx="301.6" cy="493.3" r="4.2" fill="url(#sr)"/>
<circle cx="303.1" cy="493.5" r="4.2" fill="url(#sr)"/>
<circle cx="304.5" cy="492.8" r="4.2" fill="url(#sr)"/>
<circle cx="306.0" cy="492.7" r="4.2" fill="url(#sr)"/>
<circle cx="307.4" cy="491.3" r="4.2" fill="url(#sr)"/>
<circle cx="308.8" cy="489.2" r="4.2" fill="url(#sr)"/>
<circle cx="310.3" cy="490.5" r="4.2" fill="url(#sr)"/>
<circle cx="311.7" cy="492.0" r="4.2" fill="url(#sr)"/>
<circle cx="313.1" cy="491.6" r="4.2" fill="url(#sr)"/>
<circle cx="314.6" cy="492.2" r="4.2" fill="url(#sr)"/>
<circle cx="316.0" cy="489.2" r="4.2" fill="url(#sr)"/>
<circle cx="317.4" cy="489.3" r="4.2" fill="url(#sr)"/>
<circle cx="318.9" cy="492.1" r="4.2" fill="url(#sr)"/>
<circle cx="320.3" cy="491.5" r="4.2" fill="url(#sr)"/>
<circle cx="321.8" cy="492.7" r="4.2" fill="url(#sr)"/>
<circle cx="323.2" cy="490.6" r="4.2" fill="url(#sr)"/>
<circle cx="324.6" cy="493.3" r="4.2" fill="url(#sr)"/>
<circle cx="326.1" cy="489.5" r="4.2" fill="url(#sr)"/>
<circle cx="327.5" cy="489.5" r="4.2" fill="url(#sr)"/>
<circle cx="328.9" cy="491.4" r="4.2" fill="url(#sr)"/>
<circle cx="330.4" cy="491.0" r="4.2" fill="url(#sr)"/>
<circle cx="331.8" cy="493.1" r="4.2" fill="url(#sr)"/>
<circle cx="333.2" cy="489.8" r="4.2" fill="url(#sr)"/>
<circle cx="334.7" cy="490.1" r="4.2" fill="url(#sr)"/>
<circle cx="336.1" cy="490.5" r="4.2" fill="url(#sr)"/>
<circle cx="337.6" cy="493.5" r="4.2" fill="url(#sr)"/>
<circle cx="339.0" cy="489.4" r="4.2" fill="url(#sr)"/>
<circle cx="340.4" cy="492.0" r="4.2" fill="url(#sr)"/>
<circle cx="341.9" cy="490.1" r="4.2" fill="url(#sr)"/>
<circle cx="343.3" cy="492.1" r="4.2" fill="url(#sr)"/>
<circle cx="344.7" cy="493.4" r="4.2" fill="url(#sr)"/>
<circle cx="346.2" cy="493.5" r="4.2" fill="url(#sr)"/>
<circle cx="347.6" cy="491.5" r="4.2" fill="url(#sr)"/>
<circle cx="349.1" cy="489.6" r="4.2" fill="url(#sr)"/>
<circle cx="350.5" cy="492.9" r="4.2" fill="url(#sr)"/>
<circle cx="351.9" cy="489.9" r="4.2" fill="url(#sr)"/>
<circle cx="353.4" cy="492.1" r="4.2" fill="url(#sr)"/>
<circle cx="354.8" cy="491.5" r="4.2" fill="url(#sr)"/>
<circle cx="356.2" cy="492.5" r="4.2" fill="url(#sr)"/>
<circle cx="357.7" cy="489.0" r="4.2" fill="url(#sr)"/>
<circle cx="359.1" cy="493.5" r="4.2" fill="url(#sr)"/>
<circle cx="360.5" cy="490.3" r="4.2" fill="url(#sr)"/>
<circle cx="362.0" cy="490.9" r="4.2" fill="url(#sr)"/>
<circle cx="363.4" cy="490.5" r="4.2" fill="url(#sr)"/>
<circle cx="364.9" cy="490.7" r="4.2" fill="url(#sr)"/>
<circle cx="366.3" cy="489.3" r="4.2" fill="url(#sr)"/>
<circle cx="367.7" cy="490.3" r="4.2" fill="url(#sr)"/>
<circle cx="369.2" cy="490.4" r="4.2" fill="url(#sr)"/>
<circle cx="370.6" cy="492.8" r="4.2" fill="url(#sr)"/>
<circle cx="372.0" cy="491.9" r="4.2" fill="url(#sr)"/>
<circle cx="373.5" cy="493.3" r="4.2" fill="url(#sr)"/>
<circle cx="374.9" cy="489.0" r="4.2" fill="url(#sr)"/>
<circle cx="376.3" cy="491.4" r="4.2" fill="url(#sr)"/>
<circle cx="377.8" cy="490.0" r="4.2" fill="url(#sr)"/>
<circle cx="379.2" cy="492.8" r="4.2" fill="url(#sr)"/>
<circle cx="380.7" cy="492.6" r="4.2" fill="url(#sr)"/>
<circle cx="382.1" cy="493.4" r="4.2" fill="url(#sr)"/>
<circle cx="383.5" cy="490.8" r="4.2" fill="url(#sr)"/>
<circle cx="385.0" cy="490.2" r="4.2" fill="url(#sr)"/>
<circle cx="386.4" cy="492.4" r="4.2" fill="url(#sr)"/>
<circle cx="387.8" cy="491.5" r="4.2" fill="url(#sr)"/>
<circle cx="389.3" cy="491.5" r="4.2" fill="url(#sr)"/>
<circle cx="390.7" cy="490.4" r="4.2" fill="url(#sr)"/>
<circle cx="392.2" cy="492.8" r="4.2" fill="url(#sr)"/>
<circle cx="393.6" cy="493.5" r="4.2" fill="url(#sr)"/>
<circle cx="395.0" cy="489.7" r="4.2" fill="url(#sr)"/>
<circle cx="396.5" cy="489.7" r="4.2" fill="url(#sr)"/>
<circle cx="397.9" cy="491.0" r="4.2" fill="url(#sr)"/>
<circle cx="399.3" cy="489.2" r="4.2" fill="url(#sr)"/>
<circle cx="400.8" cy="490.3" r="4.2" fill="url(#sr)"/>
<circle cx="402.2" cy="492.5" r="4.2" fill="url(#sr)"/>
<circle cx="403.6" cy="489.9" r="4.2" fill="url(#sr)"/>
<circle cx="405.1" cy="493.2" r="4.2" fill="url(#sr)"/>
<circle cx="406.5" cy="491.4" r="4.2" fill="url(#sr)"/>
<circle cx="408.0" cy="490.4" r="4.2" fill="url(#sr)"/>
<circle cx="409.4" cy="490.6" r="4.2" fill="url(#sr)"/>
<circle cx="410.8" cy="491.3" r="4.2" fill="url(#sr)"/>
<circle cx="412.3" cy="490.0" r="4.2" fill="url(#sr)"/>
<circle cx="413.7" cy="493.4" r="4.2" fill="url(#sr)"/>
<circle cx="415.1" cy="489.7" r="4.2" fill="url(#sr)"/>
<circle cx="416.6" cy="491.5" r="4.2" fill="url(#sr)"/>
<circle cx="418.0" cy="490.6" r="4.2" fill="url(#sr)"/>
<circle cx="419.4" cy="489.5" r="4.2" fill="url(#sr)"/>
<circle cx="420.9" cy="489.2" r="4.2" fill="url(#sr)"/>
<circle cx="422.3" cy="492.7" r="4.2" fill="url(#sr)"/>
<circle cx="423.8" cy="490.4" r="4.2" fill="url(#sr)"/>
<circle cx="425.2" cy="490.6" r="4.2" fill="url(#sr)"/>
<circle cx="426.6" cy="492.7" r="4.2" fill="url(#sr)"/>
<circle cx="428.1" cy="492.5" r="4.2" fill="url(#sr)"/>
<circle cx="429.5" cy="489.3" r="4.2" fill="url(#sr)"/>
<circle cx="430.9" cy="489.9" r="4.2" fill="url(#sr)"/>
<circle cx="432.4" cy="493.2" r="4.2" fill="url(#sr)"/>
<circle cx="433.8" cy="489.0" r="4.2" fill="url(#sr)"/>
<circle cx="435.2" cy="492.9" r="4.2" fill="url(#sr)"/>
<circle cx="436.7" cy="493.3" r="4.2" fill="url(#sr)"/>
<circle cx="438.1" cy="490.2" r="4.2" fill="url(#sr)"/>
<circle cx="439.6" cy="490.7" r="4.2" fill="url(#sr)"/>
<circle cx="441.0" cy="491.6" r="4.2" fill="url(#sr)"/>
<circle cx="442.4" cy="491.9" r="4.2" fill="url(#sr)"/>
<circle cx="443.9" cy="491.6" r="4.2" fill="url(#sr)"/>
<circle cx="445.3" cy="490.0" r="4.2" fill="url(#sr)"/>
<circle cx="446.7" cy="491.2" r="4.2" fill="url(#sr)"/>
<circle cx="448.2" cy="493.0" r="4.2" fill="url(#sr)"/>
<circle cx="449.6" cy="493.6" r="4.2" fill="url(#sr)"/>
<circle cx="451.1" cy="490.1" r="4.2" fill="url(#sr)"/>
<circle cx="452.5" cy="490.4" r="4.2" fill="url(#sr)"/>
<circle cx="453.9" cy="489.4" r="4.2" fill="url(#sr)"/>
<circle cx="455.4" cy="488.9" r="4.2" fill="url(#sr)"/>
<circle cx="456.8" cy="491.0" r="4.2" fill="url(#sr)"/>
<circle cx="458.2" cy="493.0" r="4.2" fill="url(#sr)"/>
<circle cx="459.7" cy="491.4" r="4.2" fill="url(#sr)"/>
<circle cx="461.1" cy="490.0" r="4.2" fill="url(#sr)"/>
<circle cx="462.5" cy="492.4" r="4.2" fill="url(#sr)"/>
<circle cx="464.0" cy="491.7" r="4.2" fill="url(#sr)"/>
<circle cx="465.4" cy="493.0" r="4.2" fill="url(#sr)"/>
<circle cx="466.9" cy="491.1" r="4.2" fill="url(#sr)"/>
<circle cx="468.3" cy="491.4" r="4.2" fill="url(#sr)"/>
<circle cx="469.7" cy="490.3" r="4.2" fill="url(#sr)"/>
<circle cx="471.2" cy="489.9" r="4.2" fill="url(#sr)"/>
<circle cx="472.6" cy="489.1" r="4.2" fill="url(#sr)"/>
<circle cx="474.0" cy="490.5" r="4.2" fill="url(#sr)"/>
<circle cx="475.5" cy="492.3" r="4.2" fill="url(#sr)"/>
<circle cx="476.9" cy="491.3" r="4.2" fill="url(#sr)"/>
<circle cx="478.3" cy="492.5" r="4.2" fill="url(#sr)"/>
<circle cx="479.8" cy="490.3" r="4.2" fill="url(#sr)"/>
<circle cx="481.2" cy="489.9" r="4.2" fill="url(#sr)"/>
<circle cx="482.7" cy="489.5" r="4.2" fill="url(#sr)"/>
<circle cx="484.1" cy="489.5" r="4.2" fill="url(#sr)"/>
<circle cx="485.5" cy="493.3" r="4.2" fill="url(#sr)"/>
<circle cx="487.0" cy="490.0" r="4.2" fill="url(#sr)"/>
<circle cx="488.4" cy="491.8" r="4.2" fill="url(#sr)"/>
<circle cx="489.8" cy="490.0" r="4.2" fill="url(#sr)"/>
<circle cx="491.3" cy="493.6" r="4.2" fill="url(#sr)"/>
<circle cx="492.7" cy="492.3" r="4.2" fill="url(#sr)"/>
<circle cx="494.2" cy="489.2" r="4.2" fill="url(#sr)"/>
<circle cx="495.6" cy="493.0" r="4.2" fill="url(#sr)"/>
<circle cx="497.0" cy="493.5" r="4.2" fill="url(#sr)"/>
<circle cx="498.5" cy="493.0" r="4.2" fill="url(#sr)"/>
<circle cx="499.9" cy="490.4" r="4.2" fill="url(#sr)"/>
<circle cx="501.3" cy="490.0" r="4.2" fill="url(#sr)"/>
<circle cx="502.8" cy="493.5" r="4.2" fill="url(#sr)"/>
<circle cx="504.2" cy="493.4" r="4.2" fill="url(#sr)"/>
<circle cx="505.6" cy="491.6" r="4.2" fill="url(#sr)"/>
<circle cx="507.1" cy="493.1" r="4.2" fill="url(#sr)"/>
<circle cx="508.5" cy="489.8" r="4.2" fill="url(#sr)"/>
<circle cx="510.0" cy="491.0" r="4.2" fill="url(#sr)"/>
<circle cx="511.4" cy="492.1" r="4.2" fill="url(#sr)"/>
<circle cx="512.8" cy="492.2" r="4.2" fill="url(#sr)"/>
<circle cx="514.3" cy="493.0" r="4.2" fill="url(#sr)"/>
<circle cx="515.7" cy="491.3" r="4.2" fill="url(#sr)"/>
<circle cx="517.1" cy="492.1" r="4.2" fill="url(#sr)"/>
<circle cx="518.6" cy="493.5" r="4.2" fill="url(#sr)"/>
<circle cx="520.0" cy="491.1" r="4.2" fill="url(#sr)"/>
<circle cx="521.5" cy="490.2" r="4.2" fill="url(#sr)"/>
<circle cx="522.9" cy="493.5" r="4.2" fill="url(#sr)"/>
<circle cx="524.3" cy="493.1" r="4.2" fill="url(#sr)"/>
<circle cx="525.8" cy="489.1" r="4.2" fill="url(#sr)"/>
<circle cx="527.2" cy="489.7" r="4.2" fill="url(#sr)"/>
<circle cx="528.6" cy="491.6" r="4.2" fill="url(#sr)"/>
<circle cx="530.1" cy="492.4" r="4.2" fill="url(#sr)"/>
<circle cx="531.5" cy="489.2" r="4.2" fill="url(#sr)"/>
<circle cx="532.9" cy="493.6" r="4.2" fill="url(#sr)"/>
<circle cx="534.4" cy="491.1" r="4.2" fill="url(#sr)"/>
<circle cx="535.8" cy="493.0" r="4.2" fill="url(#sr)"/>
<circle cx="537.3" cy="492.7" r="4.2" fill="url(#sr)"/>
<circle cx="538.7" cy="491.9" r="4.2" fill="url(#sr)"/>
<circle cx="540.1" cy="492.9" r="4.2" fill="url(#sr)"/>
<circle cx="541.6" cy="490.7" r="4.2" fill="url(#sr)"/>
<circle cx="543.0" cy="492.9" r="4.2" fill="url(#sr)"/>
</g>
<rect x="112" y="459.6" width="431" height="345" fill="none" stroke="#000" stroke-width="2.5"/>
<line x1="112" y1="804.6" x2="112" y2="798.1" stroke="#000" stroke-width="2.5"/>
<line x1="198.2" y1="804.6" x2="198.2" y2="798.1" stroke="#000" stroke-width="2.5"/>
<line x1="284.4" y1="804.6" x2="284.4" y2="798.1" stroke="#000" stroke-width="2.5"/>
<line x1="370.6" y1="804.6" x2="370.6" y2="798.1" stroke="#000" stroke-width="2.5"/>
<line x1="456.8" y1="804.6" x2="456.8" y2="798.1" stroke="#000" stroke-width="2.5"/>
<line x1="543" y1="804.6" x2="543" y2="798.1" stroke="#000" stroke-width="2.5"/>
<line x1="155.1" y1="804.6" x2="155.1" y2="801.3" stroke="#000" stroke-width="2.5"/>
<line x1="241.3" y1="804.6" x2="241.3" y2="801.3" stroke="#000" stroke-width="2.5"/>
<line x1="327.5" y1="804.6" x2="327.5" y2="801.3" stroke="#000" stroke-width="2.5"/>
<line x1="413.7" y1="804.6" x2="413.7" y2="801.3" stroke="#000" stroke-width="2.5"/>
<line x1="499.9" y1="804.6" x2="499.9" y2="801.3" stroke="#000" stroke-width="2.5"/>
<text x="112" y="835.5" text-anchor="middle" stroke="#000" stroke-width="0.35">0</text>
<text x="198.2" y="835.5" text-anchor="middle" stroke="#000" stroke-width="0.35">60</text>
<text x="284.4" y="835.5" text-anchor="middle" stroke="#000" stroke-width="0.35">120</text>
<text x="370.6" y="835.5" text-anchor="middle" stroke="#000" stroke-width="0.35">180</text>
<text x="456.8" y="835.5" text-anchor="middle" stroke="#000" stroke-width="0.35">240</text>
<text x="543" y="835.5" text-anchor="middle" stroke="#000" stroke-width="0.35">300</text>
<line x1="112" y1="804.6" x2="118.5" y2="804.6" stroke="#000" stroke-width="2.5"/>
<line x1="112" y1="741.87" x2="118.5" y2="741.87" stroke="#000" stroke-width="2.5"/>
<line x1="112" y1="679.15" x2="118.5" y2="679.15" stroke="#000" stroke-width="2.5"/>
<line x1="112" y1="616.42" x2="118.5" y2="616.42" stroke="#000" stroke-width="2.5"/>
<line x1="112" y1="553.69" x2="118.5" y2="553.69" stroke="#000" stroke-width="2.5"/>
<line x1="112" y1="490.96" x2="118.5" y2="490.96" stroke="#000" stroke-width="2.5"/>
<line x1="112" y1="773.24" x2="115.3" y2="773.24" stroke="#000" stroke-width="2.5"/>
<line x1="112" y1="710.51" x2="115.3" y2="710.51" stroke="#000" stroke-width="2.5"/>
<line x1="112" y1="647.78" x2="115.3" y2="647.78" stroke="#000" stroke-width="2.5"/>
<line x1="112" y1="585.05" x2="115.3" y2="585.05" stroke="#000" stroke-width="2.5"/>
<line x1="112" y1="522.33" x2="115.3" y2="522.33" stroke="#000" stroke-width="2.5"/>
<text x="104.5" y="813.6" text-anchor="end" stroke="#000" stroke-width="0.35">0</text>
<text x="104.5" y="750.87" text-anchor="end" stroke="#000" stroke-width="0.35">20</text>
<text x="104.5" y="688.15" text-anchor="end" stroke="#000" stroke-width="0.35">40</text>
<text x="104.5" y="625.42" text-anchor="end" stroke="#000" stroke-width="0.35">60</text>
<text x="104.5" y="562.69" text-anchor="end" stroke="#000" stroke-width="0.35">80</text>
<text x="104.5" y="499.96" text-anchor="end" stroke="#000" stroke-width="0.35">100</text>
<text x="327.5" y="860.5" text-anchor="middle" stroke="#000" stroke-width="0.35">Cycle number</text>
<text transform="translate(48.6,631.5) rotate(-90)" text-anchor="middle" stroke="#000" stroke-width="0.35">Coulombic efficiency (%)</text>
<text x="426" y="533.5" text-anchor="middle" stroke="#000" stroke-width="0.35">Zn||Cu</text>
<text x="365.5" y="572.8" stroke="#000" stroke-width="0.35">1 mA cm<tspan baseline-shift="12" font-size="20.5">−2</tspan></text>
<text x="365.5" y="611.5" stroke="#000" stroke-width="0.35">1 mAh cm<tspan baseline-shift="12" font-size="20.5">−2</tspan></text>
<circle cx="300.7" cy="659.5" r="4.2" fill="url(#sr)"/>
<circle cx="300.7" cy="696.3" r="4.2" fill="url(#sb)"/>
<text x="342" y="669" stroke="#000" stroke-width="0.35">Ni–DAPTO/Cu</text>
<text x="342" y="706" stroke="#000" stroke-width="0.35">Bare Cu</text>
<text x="533" y="769.5" text-anchor="end" stroke="#000" stroke-width="0.35">n = 3, RSD = 2.05%</text>
<text x="570.5" y="465" font-weight="bold" font-size="33" stroke="#000" stroke-width="0.35">d</text>
<line x1="669.5" y1="632.9" x2="1100.1" y2="632.9" stroke="#7a7a7a" stroke-width="2.2" stroke-dasharray="15 9"/>
<line x1="669.5" y1="745.7" x2="1100.1" y2="745.7" stroke="#7a7a7a" stroke-width="2.2" stroke-dasharray="15 9"/>
<path d="M707.3 459.9 L707.5 503.2 L708.6 632.9 L710.2 675.3 L710.4 675.1 L710.6 674.8 L710.9 674.4 L711.3 674.0 L711.8 673.4 L712.6 672.7 L713.5 671.8 L714.6 670.7 L715.9 669.4 L717.3 668.2 L718.8 666.9 L720.4 665.8 L722.1 664.7 L723.9 663.5 L725.8 662.4 L727.8 661.4 L729.9 660.5 L732.1 659.7 L734.2 659.1 L736.2 658.7 L738.2 658.3 L740.7 658.1 L743.8 657.8 L747.8 657.6 L752.5 657.3 L757.6 657.0 L763.4 656.8 L770.1 656.6 L777.9 656.4 L786.9 656.3 L797.7 656.1 L810.1 655.9 L823.6 655.7 L837.7 655.6 L851.7 655.5 L865.2 655.4 L878.3 655.3 L891.3 655.3 L904.4 655.3 L917.4 655.3 L930.5 655.4 L943.5 655.4 L956.6 655.4 L969.6 655.5 L982.7 655.6 L995.7 655.7 L1008.8 655.7 L1021.8 655.8 L1035.8 655.9 L1050.8 656.0 L1065.8 656.1 L1079.8 656.1 L1091.6 656.2 L1100.1 656.3" stroke="#ff0000" stroke-width="2.2" fill="none" stroke-linejoin="round"/>
<path d="M709.0 459.9 L709.8 632.9 L711.0 745.4 L711.1 745.1 L711.3 744.8 L711.5 744.4 L711.8 743.9 L712.1 743.1 L712.6 741.9 L713.0 740.2 L713.5 738.0 L714.1 735.6 L714.8 733.1 L715.6 730.8 L716.5 728.9 L717.5 727.5 L718.6 726.3 L719.9 725.3 L721.3 724.4 L722.7 723.6 L724.3 722.9 L725.9 722.2 L727.5 721.6 L729.2 721.1 L731.1 720.6 L733.4 720.0 L736.0 719.4 L739.2 718.6 L742.9 717.7 L746.8 716.8 L751.0 715.9 L755.3 715.0 L759.5 714.2 L763.7 713.5 L767.9 712.9 L772.3 712.4 L776.8 711.8 L781.6 711.3 L786.9 710.8 L792.6 710.2 L798.4 709.6 L804.6 709.0 L811.1 708.4 L818.3 707.9 L826.1 707.3 L834.7 706.7 L844.2 706.1 L854.2 705.6 L864.5 705.0 L874.8 704.4 L884.8 703.8 L894.8 703.2 L905.1 702.6 L915.4 702.0 L925.4 701.4 L934.9 700.8 L943.5 700.4 L951.2 700.0 L958.0 699.6 L964.3 699.3 L970.3 699.1 L976.4 698.9 L982.7 698.6 L989.2 698.4 L995.7 698.3 L1002.2 698.2 L1008.8 698.0 L1015.3 697.9 L1021.8 697.8 L1028.3 697.6 L1034.9 697.5 L1041.4 697.4 L1047.9 697.3 L1054.4 697.1 L1061.0 696.9 L1067.9 696.7 L1075.5 696.3 L1083.0 696.0 L1090.0 695.7 L1095.8 695.4 L1100.1 695.2" stroke="#1a94f5" stroke-width="2.2" fill="none" stroke-linejoin="round"/>
<line x1="1017.9" y1="607" x2="1017.9" y2="631.9" stroke="#ff8c1a" stroke-width="2.2"/>
<path d="M1017.9 631.9 L1012.4 622.9 L1023.4 622.9Z" fill="#ff8c1a"/>
<line x1="1017.9" y1="659.25" x2="1017.9" y2="680" stroke="#ff8c1a" stroke-width="2.2"/>
<path d="M1017.9 658.255 L1012.4 667.255 L1023.4 667.255Z" fill="#ff8c1a"/>
<line x1="1017.9" y1="699.91" x2="1017.9" y2="742.7" stroke="#ff8c1a" stroke-width="2.2"/>
<path d="M1017.9 698.91 L1012.4 707.91 L1023.4 707.91Z" fill="#ff8c1a"/>
<path d="M1017.9 743.6959999999999 L1012.4 734.6959999999999 L1023.4 734.6959999999999Z" fill="#ff8c1a"/>
<line x1="1017.9" y1="748.7" x2="1017.9" y2="771" stroke="#ff8c1a" stroke-width="2.2"/>
<path d="M1017.9 747.6959999999999 L1012.4 756.6959999999999 L1023.4 756.6959999999999Z" fill="#ff8c1a"/>
<rect x="669.5" y="459.9" width="430.6" height="346" fill="none" stroke="#000" stroke-width="2.5"/>
<line x1="708.65" y1="805.9" x2="708.65" y2="799.4" stroke="#000" stroke-width="2.5"/>
<line x1="786.94" y1="805.9" x2="786.94" y2="799.4" stroke="#000" stroke-width="2.5"/>
<line x1="865.23" y1="805.9" x2="865.23" y2="799.4" stroke="#000" stroke-width="2.5"/>
<line x1="943.52" y1="805.9" x2="943.52" y2="799.4" stroke="#000" stroke-width="2.5"/>
<line x1="1021.81" y1="805.9" x2="1021.81" y2="799.4" stroke="#000" stroke-width="2.5"/>
<line x1="1100.1" y1="805.9" x2="1100.1" y2="799.4" stroke="#000" stroke-width="2.5"/>
<line x1="669.5" y1="805.9" x2="669.5" y2="802.6" stroke="#000" stroke-width="2.5"/>
<line x1="747.79" y1="805.9" x2="747.79" y2="802.6" stroke="#000" stroke-width="2.5"/>
<line x1="826.08" y1="805.9" x2="826.08" y2="802.6" stroke="#000" stroke-width="2.5"/>
<line x1="904.37" y1="805.9" x2="904.37" y2="802.6" stroke="#000" stroke-width="2.5"/>
<line x1="982.66" y1="805.9" x2="982.66" y2="802.6" stroke="#000" stroke-width="2.5"/>
<line x1="1060.95" y1="805.9" x2="1060.95" y2="802.6" stroke="#000" stroke-width="2.5"/>
<text x="708.65" y="837" text-anchor="middle" stroke="#000" stroke-width="0.35">0.0</text>
<text x="786.94" y="837" text-anchor="middle" stroke="#000" stroke-width="0.35">0.2</text>
<text x="865.23" y="837" text-anchor="middle" stroke="#000" stroke-width="0.35">0.4</text>
<text x="943.52" y="837" text-anchor="middle" stroke="#000" stroke-width="0.35">0.6</text>
<text x="1021.81" y="837" text-anchor="middle" stroke="#000" stroke-width="0.35">0.8</text>
<text x="1100.1" y="837" text-anchor="middle" stroke="#000" stroke-width="0.35">1.0</text>
<line x1="669.5" y1="805.9" x2="676" y2="805.9" stroke="#000" stroke-width="2.5"/>
<line x1="669.5" y1="719.4" x2="676" y2="719.4" stroke="#000" stroke-width="2.5"/>
<line x1="669.5" y1="632.9" x2="676" y2="632.9" stroke="#000" stroke-width="2.5"/>
<line x1="669.5" y1="546.4" x2="676" y2="546.4" stroke="#000" stroke-width="2.5"/>
<line x1="669.5" y1="459.9" x2="676" y2="459.9" stroke="#000" stroke-width="2.5"/>
<line x1="669.5" y1="762.65" x2="672.8" y2="762.65" stroke="#000" stroke-width="2.5"/>
<line x1="669.5" y1="676.15" x2="672.8" y2="676.15" stroke="#000" stroke-width="2.5"/>
<line x1="669.5" y1="589.65" x2="672.8" y2="589.65" stroke="#000" stroke-width="2.5"/>
<line x1="669.5" y1="503.15" x2="672.8" y2="503.15" stroke="#000" stroke-width="2.5"/>
<text x="662" y="814.9" text-anchor="end" stroke="#000" stroke-width="0.35">−0.2</text>
<text x="662" y="728.4" text-anchor="end" stroke="#000" stroke-width="0.35">−0.1</text>
<text x="662" y="641.9" text-anchor="end" stroke="#000" stroke-width="0.35">0.0</text>
<text x="662" y="555.4" text-anchor="end" stroke="#000" stroke-width="0.35">0.1</text>
<text x="662" y="468.9" text-anchor="end" stroke="#000" stroke-width="0.35">0.2</text>
<text x="884.8" y="867.4" text-anchor="middle" stroke="#000" stroke-width="0.35">Capacity (mAh g<tspan baseline-shift="12" font-size="20.5">−1</tspan>)</text>
<text transform="translate(593.4,632.9) rotate(-90)" text-anchor="middle" stroke="#000" stroke-width="0.35">Potential (V vs. Zn<tspan baseline-shift="12" font-size="20.5">2+</tspan>/Zn)</text>
<line x1="830.4" y1="479.8" x2="897.8" y2="479.8" stroke="#ff0000" stroke-width="2.4"/>
<text x="906.7" y="490.4" stroke="#000" stroke-width="0.35">Ni–DAPTO/Cu</text>
<line x1="830.4" y1="517" x2="897.8" y2="517" stroke="#1a94f5" stroke-width="2.4"/>
<text x="906.7" y="526.5" stroke="#000" stroke-width="0.35">Bare Cu</text>
<text x="1091" y="601" text-anchor="end" stroke="#000" stroke-width="0.35">Mass-transfer overpotential</text>
<text x="681" y="792.7" stroke="#000" stroke-width="0.35">n = 3</text>
<text x="1091" y="792.7" text-anchor="end" stroke="#000" stroke-width="0.35">Nucleation overpotential</text>
<text x="1110.5" y="466" font-weight="bold" font-size="33" stroke="#000" stroke-width="0.35">e</text>
<clipPath id="cpe"><rect x="1218.9" y="459.1" width="431.5" height="346.9"/></clipPath>
<g clip-path="url(#cpe)">
<path d="M1218.5 800.2L1219.9 804.0L1224.0 804.2L1220.8 806.8L1221.9 810.7L1218.5 808.4L1215.1 810.7L1216.2 806.8L1213.0 804.2L1217.1 804.0Z" fill="#1a94f5"/>
<path d="M1218.8 798.0L1220.2 801.8L1224.3 802.0L1221.1 804.6L1222.2 808.5L1218.8 806.3L1215.4 808.5L1216.5 804.6L1213.3 802.0L1217.3 801.8Z" fill="#1a94f5"/>
<path d="M1219.0 795.8L1220.5 799.7L1224.5 799.8L1221.3 802.4L1222.4 806.3L1219.0 804.1L1215.6 806.3L1216.7 802.4L1213.5 799.8L1217.6 799.7Z" fill="#1a94f5"/>
<path d="M1219.3 793.6L1220.7 797.5L1224.8 797.7L1221.6 800.2L1222.7 804.1L1219.3 801.9L1215.9 804.1L1217.0 800.2L1213.8 797.7L1217.9 797.5Z" fill="#1a94f5"/>
<path d="M1219.6 791.5L1221.0 795.3L1225.1 795.5L1221.9 798.0L1223.0 802.0L1219.6 799.7L1216.2 802.0L1217.3 798.0L1214.1 795.5L1218.2 795.3Z" fill="#1a94f5"/>
<path d="M1220.0 789.3L1221.4 793.1L1225.5 793.3L1222.3 795.9L1223.4 799.8L1220.0 797.5L1216.6 799.8L1217.7 795.9L1214.5 793.3L1218.5 793.1Z" fill="#1a94f5"/>
<path d="M1220.5 787.2L1221.9 791.0L1226.0 791.2L1222.8 793.7L1223.9 797.7L1220.5 795.4L1217.1 797.7L1218.2 793.7L1215.0 791.2L1219.1 791.0Z" fill="#1a94f5"/>
<path d="M1221.3 785.1L1222.8 789.0L1226.8 789.1L1223.6 791.7L1224.7 795.6L1221.3 793.4L1217.9 795.6L1219.0 791.7L1215.8 789.1L1219.9 789.0Z" fill="#1a94f5"/>
<path d="M1222.3 783.1L1223.7 787.0L1227.8 787.1L1224.6 789.7L1225.7 793.6L1222.3 791.4L1218.8 793.6L1219.9 789.7L1216.7 787.1L1220.8 787.0Z" fill="#1a94f5"/>
<path d="M1223.2 781.1L1224.6 785.0L1228.7 785.1L1225.5 787.7L1226.6 791.6L1223.2 789.4L1219.8 791.6L1220.8 787.7L1217.7 785.1L1221.7 785.0Z" fill="#1a94f5"/>
<path d="M1224.1 779.2L1225.6 783.0L1229.7 783.2L1226.5 785.7L1227.5 789.6L1224.1 787.4L1220.7 789.6L1221.8 785.7L1218.6 783.2L1222.7 783.0Z" fill="#1a94f5"/>
<path d="M1225.3 777.3L1226.7 781.1L1230.8 781.3L1227.6 783.8L1228.7 787.8L1225.3 785.5L1221.8 787.8L1222.9 783.8L1219.7 781.3L1223.8 781.1Z" fill="#1a94f5"/>
<path d="M1226.6 775.5L1228.0 779.3L1232.1 779.5L1228.9 782.1L1230.0 786.0L1226.6 783.7L1223.2 786.0L1224.3 782.1L1221.1 779.5L1225.1 779.3Z" fill="#1a94f5"/>
<path d="M1228.1 773.9L1229.5 777.8L1233.6 777.9L1230.4 780.5L1231.5 784.4L1228.1 782.2L1224.7 784.4L1225.8 780.5L1222.6 777.9L1226.7 777.8Z" fill="#1a94f5"/>
<path d="M1229.7 772.4L1231.1 776.3L1235.2 776.4L1232.0 779.0L1233.1 782.9L1229.7 780.7L1226.3 782.9L1227.4 779.0L1224.2 776.4L1228.3 776.3Z" fill="#1a94f5"/>
<path d="M1231.4 771.0L1232.8 774.8L1236.9 775.0L1233.7 777.5L1234.8 781.5L1231.4 779.2L1228.0 781.5L1229.0 777.5L1225.9 775.0L1229.9 774.8Z" fill="#1a94f5"/>
<path d="M1239.8 759.8L1241.2 763.6L1245.3 763.8L1242.1 766.4L1243.2 770.3L1239.8 768.0L1236.4 770.3L1237.5 766.4L1234.3 763.8L1238.4 763.6Z" fill="#1a94f5"/>
<path d="M1246.3 753.3L1247.7 757.1L1251.8 757.3L1248.6 759.9L1249.7 763.8L1246.3 761.5L1242.9 763.8L1244.0 759.9L1240.8 757.3L1244.9 757.1Z" fill="#1a94f5"/>
<path d="M1254.1 746.8L1255.5 750.6L1259.6 750.8L1256.4 753.4L1257.5 757.3L1254.1 755.0L1250.7 757.3L1251.8 753.4L1248.6 750.8L1252.7 750.6Z" fill="#1a94f5"/>
<path d="M1263.2 740.2L1264.6 744.0L1268.7 744.2L1265.5 746.8L1266.6 750.7L1263.2 748.4L1259.8 750.7L1260.9 746.8L1257.7 744.2L1261.8 744.0Z" fill="#1a94f5"/>
<path d="M1273.7 733.7L1275.1 737.5L1279.2 737.7L1276.0 740.3L1277.1 744.2L1273.7 741.9L1270.3 744.2L1271.4 740.3L1268.2 737.7L1272.3 737.5Z" fill="#1a94f5"/>
<path d="M1285.4 727.2L1286.8 731.0L1290.9 731.2L1287.7 733.8L1288.8 737.7L1285.4 735.4L1282.0 737.7L1283.1 733.8L1279.9 731.2L1284.0 731.0Z" fill="#1a94f5"/>
<path d="M1301.0 721.5L1302.4 725.3L1306.5 725.5L1303.3 728.1L1304.4 732.0L1301.0 729.7L1297.6 732.0L1298.7 728.1L1295.5 725.5L1299.6 725.3Z" fill="#1a94f5"/>
<path d="M1316.7 716.8L1318.1 720.6L1322.2 720.8L1319.0 723.4L1320.1 727.3L1316.7 725.0L1313.3 727.3L1314.4 723.4L1311.2 720.8L1315.3 720.6Z" fill="#1a94f5"/>
<path d="M1332.8 712.4L1334.2 716.2L1338.3 716.4L1335.1 719.0L1336.2 722.9L1332.8 720.6L1329.4 722.9L1330.5 719.0L1327.3 716.4L1331.4 716.2Z" fill="#1a94f5"/>
<path d="M1350.0 710.3L1351.4 714.1L1355.5 714.3L1352.3 716.9L1353.4 720.8L1350.0 718.5L1346.6 720.8L1347.7 716.9L1344.5 714.3L1348.6 714.1Z" fill="#1a94f5"/>
<path d="M1367.5 709.7L1368.9 713.5L1373.0 713.7L1369.8 716.3L1370.9 720.2L1367.5 717.9L1364.1 720.2L1365.2 716.3L1362.0 713.7L1366.1 713.5Z" fill="#1a94f5"/>
<path d="M1384.4 710.3L1385.8 714.1L1389.9 714.3L1386.7 716.9L1387.8 720.8L1384.4 718.5L1381.0 720.8L1382.1 716.9L1378.9 714.3L1383.0 714.1Z" fill="#1a94f5"/>
<path d="M1401.4 712.9L1402.8 716.7L1406.9 716.9L1403.7 719.5L1404.8 723.4L1401.4 721.1L1398.0 723.4L1399.1 719.5L1395.9 716.9L1400.0 716.7Z" fill="#1a94f5"/>
<path d="M1416.3 716.8L1417.7 720.6L1421.8 720.8L1418.6 723.4L1419.7 727.3L1416.3 725.0L1412.9 727.3L1414.0 723.4L1410.8 720.8L1414.9 720.6Z" fill="#1a94f5"/>
<path d="M1430.3 721.5L1431.7 725.3L1435.8 725.5L1432.6 728.1L1433.7 732.0L1430.3 729.7L1426.9 732.0L1428.0 728.1L1424.8 725.5L1428.9 725.3Z" fill="#1a94f5"/>
<path d="M1444.4 725.9L1445.8 729.7L1449.9 729.9L1446.7 732.5L1447.8 736.4L1444.4 734.1L1441.0 736.4L1442.1 732.5L1438.9 729.9L1443.0 729.7Z" fill="#1a94f5"/>
<path d="M1456.1 731.1L1457.5 734.9L1461.6 735.1L1458.4 737.7L1459.5 741.6L1456.1 739.3L1452.7 741.6L1453.8 737.7L1450.6 735.1L1454.7 734.9Z" fill="#1a94f5"/>
<path d="M1466.6 736.3L1468.0 740.1L1472.1 740.3L1468.9 742.9L1470.0 746.8L1466.6 744.5L1463.2 746.8L1464.3 742.9L1461.1 740.3L1465.2 740.1Z" fill="#1a94f5"/>
<path d="M1475.7 739.7L1477.1 743.5L1481.2 743.7L1478.0 746.3L1479.1 750.2L1475.7 747.9L1472.3 750.2L1473.4 746.3L1470.2 743.7L1474.3 743.5Z" fill="#1a94f5"/>
<path d="M1484.8 744.2L1486.2 748.0L1490.3 748.2L1487.1 750.8L1488.2 754.7L1484.8 752.4L1481.4 754.7L1482.5 750.8L1479.3 748.2L1483.4 748.0Z" fill="#1a94f5"/>
<path d="M1493.4 747.3L1494.8 751.1L1498.9 751.3L1495.7 753.9L1496.8 757.8L1493.4 755.5L1490.0 757.8L1491.1 753.9L1487.9 751.3L1492.0 751.1Z" fill="#1a94f5"/>
<path d="M1500.4 749.4L1501.8 753.2L1505.9 753.4L1502.7 756.0L1503.8 759.9L1500.4 757.6L1497.0 759.9L1498.1 756.0L1494.9 753.4L1499.0 753.2Z" fill="#1a94f5"/>
<path d="M1508.3 751.5L1509.7 755.3L1513.8 755.5L1510.6 758.1L1511.7 762.0L1508.3 759.7L1504.9 762.0L1506.0 758.1L1502.8 755.5L1506.9 755.3Z" fill="#1a94f5"/>
<path d="M1514.8 752.8L1516.2 756.6L1520.3 756.8L1517.1 759.4L1518.2 763.3L1514.8 761.0L1511.4 763.3L1512.5 759.4L1509.3 756.8L1513.4 756.6Z" fill="#1a94f5"/>
<path d="M1522.6 753.5L1524.0 757.3L1528.1 757.5L1524.9 760.1L1526.0 764.0L1522.6 761.7L1519.2 764.0L1520.3 760.1L1517.1 757.5L1521.2 757.3Z" fill="#1a94f5"/>
<path d="M1529.1 753.8L1530.5 757.6L1534.6 757.8L1531.4 760.4L1532.5 764.3L1529.1 762.0L1525.7 764.3L1526.8 760.4L1523.6 757.8L1527.7 757.6Z" fill="#1a94f5"/>
<path d="M1537.0 753.5L1538.4 757.3L1542.5 757.5L1539.3 760.1L1540.4 764.0L1537.0 761.7L1533.6 764.0L1534.7 760.1L1531.5 757.5L1535.6 757.3Z" fill="#1a94f5"/>
<path d="M1546.6 752.5L1548.0 756.3L1552.1 756.5L1548.9 759.1L1550.0 763.0L1546.6 760.7L1543.2 763.0L1544.3 759.1L1541.1 756.5L1545.2 756.3Z" fill="#1a94f5"/>
<path d="M1557.8 751.5L1559.2 755.3L1563.3 755.5L1560.1 758.1L1561.2 762.0L1557.8 759.7L1554.4 762.0L1555.5 758.1L1552.3 755.5L1556.4 755.3Z" fill="#1a94f5"/>
<path d="M1569.5 749.9L1570.9 753.7L1575.0 753.9L1571.8 756.5L1572.9 760.4L1569.5 758.1L1566.1 760.4L1567.2 756.5L1564.0 753.9L1568.1 753.7Z" fill="#1a94f5"/>
<path d="M1583.9 747.5L1585.3 751.3L1589.4 751.5L1586.2 754.1L1587.3 758.0L1583.9 755.7L1580.5 758.0L1581.6 754.1L1578.4 751.5L1582.5 751.3Z" fill="#1a94f5"/>
<path d="M1600.3 745.5L1601.7 749.3L1605.8 749.5L1602.6 752.1L1603.7 756.0L1600.3 753.7L1596.9 756.0L1598.0 752.1L1594.8 749.5L1598.9 749.3Z" fill="#1a94f5"/>
<path d="M1619.6 742.9L1621.0 746.7L1625.1 746.9L1621.9 749.5L1623.0 753.4L1619.6 751.1L1616.2 753.4L1617.3 749.5L1614.1 746.9L1618.2 746.7Z" fill="#1a94f5"/>
<circle cx="1218.5" cy="806.0" r="4.4" fill="#1a94f5"/>
<circle cx="1219.5" cy="804.2" r="4.4" fill="#1a94f5"/>
<circle cx="1220.4" cy="802.5" r="4.4" fill="#1a94f5"/>
<circle cx="1221.4" cy="800.7" r="4.4" fill="#1a94f5"/>
<circle cx="1222.3" cy="799.0" r="4.4" fill="#1a94f5"/>
<circle cx="1223.4" cy="797.3" r="4.4" fill="#1a94f5"/>
<circle cx="1224.5" cy="795.6" r="4.4" fill="#1a94f5"/>
<circle cx="1225.8" cy="794.1" r="4.4" fill="#1a94f5"/>
<circle cx="1227.1" cy="792.5" r="4.4" fill="#1a94f5"/>
<circle cx="1228.4" cy="791.1" r="4.4" fill="#1a94f5"/>
<circle cx="1229.8" cy="789.7" r="4.4" fill="#1a94f5"/>
<circle cx="1231.3" cy="788.3" r="4.4" fill="#1a94f5"/>
<circle cx="1232.7" cy="786.9" r="4.4" fill="#1a94f5"/>
<circle cx="1234.3" cy="785.6" r="4.4" fill="#1a94f5"/>
<circle cx="1235.8" cy="784.3" r="4.4" fill="#1a94f5"/>
<circle cx="1237.4" cy="783.1" r="4.4" fill="#1a94f5"/>
<circle cx="1239.0" cy="781.9" r="4.4" fill="#1a94f5"/>
<circle cx="1240.6" cy="780.8" r="4.4" fill="#1a94f5"/>
<circle cx="1242.3" cy="779.6" r="4.4" fill="#1a94f5"/>
<circle cx="1243.9" cy="778.5" r="4.4" fill="#1a94f5"/>
<circle cx="1245.6" cy="777.5" r="4.4" fill="#1a94f5"/>
<circle cx="1247.3" cy="776.4" r="4.4" fill="#1a94f5"/>
<circle cx="1249.0" cy="775.4" r="4.4" fill="#1a94f5"/>
<circle cx="1250.8" cy="774.4" r="4.4" fill="#1a94f5"/>
<circle cx="1252.5" cy="773.4" r="4.4" fill="#1a94f5"/>
<circle cx="1254.3" cy="772.4" r="4.4" fill="#1a94f5"/>
<circle cx="1256.0" cy="771.5" r="4.4" fill="#1a94f5"/>
<circle cx="1257.8" cy="770.7" r="4.4" fill="#1a94f5"/>
<circle cx="1259.7" cy="769.9" r="4.4" fill="#1a94f5"/>
<circle cx="1261.6" cy="769.2" r="4.4" fill="#1a94f5"/>
<circle cx="1263.5" cy="768.5" r="4.4" fill="#1a94f5"/>
<circle cx="1265.4" cy="767.9" r="4.4" fill="#1a94f5"/>
<circle cx="1267.3" cy="767.4" r="4.4" fill="#1a94f5"/>
<circle cx="1269.2" cy="767.0" r="4.4" fill="#1a94f5"/>
<circle cx="1271.2" cy="766.5" r="4.4" fill="#1a94f5"/>
<circle cx="1273.2" cy="766.1" r="4.4" fill="#1a94f5"/>
<circle cx="1275.1" cy="765.8" r="4.4" fill="#1a94f5"/>
<circle cx="1277.1" cy="765.4" r="4.4" fill="#1a94f5"/>
<circle cx="1279.1" cy="765.1" r="4.4" fill="#1a94f5"/>
<circle cx="1281.1" cy="764.9" r="4.4" fill="#1a94f5"/>
<circle cx="1283.0" cy="764.7" r="4.4" fill="#1a94f5"/>
<circle cx="1285.0" cy="764.5" r="4.4" fill="#1a94f5"/>
<circle cx="1287.0" cy="764.4" r="4.4" fill="#1a94f5"/>
<circle cx="1289.0" cy="764.3" r="4.4" fill="#1a94f5"/>
<circle cx="1291.0" cy="764.3" r="4.4" fill="#1a94f5"/>
<circle cx="1293.0" cy="764.3" r="4.4" fill="#1a94f5"/>
<circle cx="1295.0" cy="764.3" r="4.4" fill="#1a94f5"/>
<circle cx="1297.0" cy="764.3" r="4.4" fill="#1a94f5"/>
<circle cx="1299.0" cy="764.3" r="4.4" fill="#1a94f5"/>
<circle cx="1301.0" cy="764.4" r="4.4" fill="#1a94f5"/>
<circle cx="1303.0" cy="764.4" r="4.4" fill="#1a94f5"/>
<circle cx="1305.0" cy="764.5" r="4.4" fill="#1a94f5"/>
<circle cx="1307.0" cy="764.7" r="4.4" fill="#1a94f5"/>
<circle cx="1309.0" cy="764.8" r="4.4" fill="#1a94f5"/>
<circle cx="1311.0" cy="765.0" r="4.4" fill="#1a94f5"/>
<circle cx="1313.0" cy="765.2" r="4.4" fill="#1a94f5"/>
<circle cx="1315.0" cy="765.5" r="4.4" fill="#1a94f5"/>
<circle cx="1317.0" cy="765.8" r="4.4" fill="#1a94f5"/>
<circle cx="1318.9" cy="766.1" r="4.4" fill="#1a94f5"/>
<circle cx="1320.9" cy="766.5" r="4.4" fill="#1a94f5"/>
<circle cx="1322.8" cy="766.9" r="4.4" fill="#1a94f5"/>
<circle cx="1324.8" cy="767.4" r="4.4" fill="#1a94f5"/>
<circle cx="1326.7" cy="767.9" r="4.4" fill="#1a94f5"/>
<circle cx="1328.6" cy="768.5" r="4.4" fill="#1a94f5"/>
<circle cx="1330.5" cy="769.2" r="4.4" fill="#1a94f5"/>
<circle cx="1332.4" cy="769.9" r="4.4" fill="#1a94f5"/>
<circle cx="1334.2" cy="770.7" r="4.4" fill="#1a94f5"/>
<circle cx="1336.0" cy="771.6" r="4.4" fill="#1a94f5"/>
<circle cx="1337.8" cy="772.4" r="4.4" fill="#1a94f5"/>
<circle cx="1339.6" cy="773.3" r="4.4" fill="#1a94f5"/>
<circle cx="1341.4" cy="774.2" r="4.4" fill="#1a94f5"/>
<circle cx="1343.2" cy="775.1" r="4.4" fill="#1a94f5"/>
<circle cx="1345.0" cy="776.0" r="4.4" fill="#1a94f5"/>
<circle cx="1346.8" cy="776.9" r="4.4" fill="#1a94f5"/>
<circle cx="1348.6" cy="777.7" r="4.4" fill="#1a94f5"/>
<circle cx="1350.4" cy="778.6" r="4.4" fill="#1a94f5"/>
<circle cx="1352.2" cy="779.5" r="4.4" fill="#1a94f5"/>
<circle cx="1354.0" cy="780.3" r="4.4" fill="#1a94f5"/>
<circle cx="1355.8" cy="781.1" r="4.4" fill="#1a94f5"/>
<circle cx="1357.7" cy="781.9" r="4.4" fill="#1a94f5"/>
<circle cx="1359.6" cy="782.6" r="4.4" fill="#1a94f5"/>
<circle cx="1361.4" cy="783.3" r="4.4" fill="#1a94f5"/>
<circle cx="1363.3" cy="784.0" r="4.4" fill="#1a94f5"/>
<circle cx="1365.2" cy="784.6" r="4.4" fill="#1a94f5"/>
<circle cx="1367.2" cy="785.1" r="4.4" fill="#1a94f5"/>
<circle cx="1369.1" cy="785.4" r="4.4" fill="#1a94f5"/>
<circle cx="1371.1" cy="785.6" r="4.4" fill="#1a94f5"/>
<circle cx="1373.1" cy="785.5" r="4.4" fill="#1a94f5"/>
<circle cx="1375.1" cy="785.2" r="4.4" fill="#1a94f5"/>
<circle cx="1377.0" cy="784.8" r="4.4" fill="#1a94f5"/>
<circle cx="1379.0" cy="784.3" r="4.4" fill="#1a94f5"/>
<circle cx="1380.9" cy="783.7" r="4.4" fill="#1a94f5"/>
<circle cx="1382.7" cy="783.0" r="4.4" fill="#1a94f5"/>
<circle cx="1384.6" cy="782.2" r="4.4" fill="#1a94f5"/>
<circle cx="1386.4" cy="781.3" r="4.4" fill="#1a94f5"/>
<circle cx="1388.1" cy="780.3" r="4.4" fill="#1a94f5"/>
<circle cx="1389.8" cy="779.2" r="4.4" fill="#1a94f5"/>
<circle cx="1391.4" cy="778.0" r="4.4" fill="#1a94f5"/>
<circle cx="1392.9" cy="776.7" r="4.4" fill="#1a94f5"/>
<circle cx="1394.5" cy="775.4" r="4.4" fill="#1a94f5"/>
<circle cx="1396.0" cy="774.1" r="4.4" fill="#1a94f5"/>
<circle cx="1397.4" cy="772.7" r="4.4" fill="#1a94f5"/>
<circle cx="1398.7" cy="771.2" r="4.4" fill="#1a94f5"/>
<circle cx="1400.0" cy="769.7" r="4.4" fill="#1a94f5"/>
<circle cx="1406.6" cy="764.3" r="4.4" fill="#1a94f5"/>
<circle cx="1413.1" cy="757.8" r="4.4" fill="#1a94f5"/>
<circle cx="1420.4" cy="751.3" r="4.4" fill="#1a94f5"/>
<circle cx="1429.3" cy="743.4" r="4.4" fill="#1a94f5"/>
<circle cx="1439.7" cy="735.6" r="4.4" fill="#1a94f5"/>
<path d="M1218.5 800.2L1219.9 804.0L1224.0 804.2L1220.8 806.8L1221.9 810.7L1218.5 808.4L1215.1 810.7L1216.2 806.8L1213.0 804.2L1217.1 804.0Z" fill="#ff0000"/>
<path d="M1219.8 798.0L1221.3 801.8L1225.4 802.0L1222.2 804.5L1223.2 808.5L1219.8 806.2L1216.4 808.5L1217.5 804.5L1214.3 802.0L1218.4 801.8Z" fill="#ff0000"/>
<path d="M1221.2 795.7L1222.6 799.6L1226.7 799.7L1223.5 802.3L1224.6 806.2L1221.2 804.0L1217.8 806.2L1218.9 802.3L1215.7 799.7L1219.7 799.6Z" fill="#ff0000"/>
<path d="M1222.6 793.5L1224.0 797.4L1228.1 797.6L1224.9 800.1L1226.0 804.0L1222.6 801.8L1219.2 804.0L1220.3 800.1L1217.1 797.6L1221.1 797.4Z" fill="#ff0000"/>
<path d="M1224.1 791.4L1225.5 795.2L1229.6 795.4L1226.4 798.0L1227.5 801.9L1224.1 799.7L1220.6 801.9L1221.7 798.0L1218.5 795.4L1222.6 795.2Z" fill="#ff0000"/>
<path d="M1225.7 789.4L1227.1 793.2L1231.2 793.4L1228.0 795.9L1229.1 799.9L1225.7 797.6L1222.3 799.9L1223.4 795.9L1220.2 793.4L1224.3 793.2Z" fill="#ff0000"/>
<path d="M1227.4 787.4L1228.8 791.3L1232.9 791.4L1229.7 794.0L1230.8 797.9L1227.4 795.7L1224.0 797.9L1225.1 794.0L1221.9 791.4L1226.0 791.3Z" fill="#ff0000"/>
<path d="M1229.2 785.6L1230.6 789.4L1234.7 789.6L1231.5 792.1L1232.6 796.0L1229.2 793.8L1225.8 796.0L1226.9 792.1L1223.7 789.6L1227.8 789.4Z" fill="#ff0000"/>
<path d="M1231.0 783.7L1232.5 787.6L1236.6 787.7L1233.4 790.3L1234.5 794.2L1231.0 792.0L1227.6 794.2L1228.7 790.3L1225.5 787.7L1229.6 787.6Z" fill="#ff0000"/>
<path d="M1233.0 782.0L1234.4 785.8L1238.5 786.0L1235.3 788.5L1236.4 792.5L1233.0 790.2L1229.5 792.5L1230.6 788.5L1227.4 786.0L1231.5 785.8Z" fill="#ff0000"/>
<path d="M1234.9 780.3L1236.4 784.1L1240.4 784.3L1237.2 786.8L1238.3 790.8L1234.9 788.5L1231.5 790.8L1232.6 786.8L1229.4 784.3L1233.5 784.1Z" fill="#ff0000"/>
<path d="M1236.9 778.6L1238.4 782.5L1242.5 782.6L1239.3 785.2L1240.4 789.1L1236.9 786.9L1233.5 789.1L1234.6 785.2L1231.4 782.6L1235.5 782.5Z" fill="#ff0000"/>
<path d="M1239.0 777.0L1240.4 780.9L1244.5 781.0L1241.3 783.6L1242.4 787.5L1239.0 785.3L1235.6 787.5L1236.7 783.6L1233.5 781.0L1237.6 780.9Z" fill="#ff0000"/>
<path d="M1241.1 775.5L1242.5 779.3L1246.6 779.5L1243.4 782.0L1244.5 786.0L1241.1 783.7L1237.7 786.0L1238.8 782.0L1235.6 779.5L1239.7 779.3Z" fill="#ff0000"/>
<path d="M1243.2 774.0L1244.7 777.8L1248.7 778.0L1245.5 780.6L1246.6 784.5L1243.2 782.3L1239.8 784.5L1240.9 780.6L1237.7 778.0L1241.8 777.8Z" fill="#ff0000"/>
<path d="M1245.4 772.6L1246.9 776.5L1250.9 776.6L1247.7 779.2L1248.8 783.1L1245.4 780.9L1242.0 783.1L1243.1 779.2L1239.9 776.6L1244.0 776.5Z" fill="#ff0000"/>
<path d="M1247.7 771.4L1249.1 775.2L1253.2 775.4L1250.0 777.9L1251.1 781.9L1247.7 779.6L1244.3 781.9L1245.4 777.9L1242.2 775.4L1246.3 775.2Z" fill="#ff0000"/>
<path d="M1250.0 770.2L1251.5 774.1L1255.6 774.2L1252.4 776.8L1253.5 780.7L1250.0 778.5L1246.6 780.7L1247.7 776.8L1244.5 774.2L1248.6 774.1Z" fill="#ff0000"/>
<path d="M1252.4 769.3L1253.9 773.1L1258.0 773.3L1254.8 775.8L1255.9 779.7L1252.4 777.5L1249.0 779.7L1250.1 775.8L1246.9 773.3L1251.0 773.1Z" fill="#ff0000"/>
<path d="M1254.9 768.4L1256.3 772.2L1260.4 772.4L1257.2 774.9L1258.3 778.9L1254.9 776.6L1251.5 778.9L1252.6 774.9L1249.4 772.4L1253.5 772.2Z" fill="#ff0000"/>
<path d="M1257.4 767.6L1258.8 771.5L1262.9 771.6L1259.7 774.2L1260.8 778.1L1257.4 775.9L1254.0 778.1L1255.1 774.2L1251.9 771.6L1256.0 771.5Z" fill="#ff0000"/>
<path d="M1259.9 766.9L1261.3 770.7L1265.4 770.9L1262.2 773.5L1263.3 777.4L1259.9 775.1L1256.5 777.4L1257.6 773.5L1254.4 770.9L1258.5 770.7Z" fill="#ff0000"/>
<path d="M1262.4 766.2L1263.8 770.0L1267.9 770.2L1264.7 772.8L1265.8 776.7L1262.4 774.4L1259.0 776.7L1260.1 772.8L1256.9 770.2L1261.0 770.0Z" fill="#ff0000"/>
<path d="M1264.9 765.5L1266.3 769.3L1270.4 769.5L1267.2 772.1L1268.3 776.0L1264.9 773.7L1261.5 776.0L1262.6 772.1L1259.4 769.5L1263.5 769.3Z" fill="#ff0000"/>
<path d="M1267.4 764.8L1268.8 768.7L1272.9 768.9L1269.7 771.4L1270.8 775.3L1267.4 773.1L1264.0 775.3L1265.1 771.4L1261.9 768.9L1266.0 768.7Z" fill="#ff0000"/>
<path d="M1269.9 764.2L1271.4 768.0L1275.4 768.2L1272.2 770.8L1273.3 774.7L1269.9 772.5L1266.5 774.7L1267.6 770.8L1264.4 768.2L1268.5 768.0Z" fill="#ff0000"/>
<path d="M1272.5 763.6L1273.9 767.5L1278.0 767.6L1274.8 770.2L1275.9 774.1L1272.5 771.9L1269.1 774.1L1270.1 770.2L1266.9 767.6L1271.0 767.5Z" fill="#ff0000"/>
<path d="M1275.0 763.1L1276.4 766.9L1280.5 767.1L1277.3 769.6L1278.4 773.6L1275.0 771.3L1271.6 773.6L1272.7 769.6L1269.5 767.1L1273.6 766.9Z" fill="#ff0000"/>
<path d="M1277.6 762.6L1279.0 766.4L1283.1 766.6L1279.9 769.2L1281.0 773.1L1277.6 770.8L1274.2 773.1L1275.2 769.2L1272.0 766.6L1276.1 766.4Z" fill="#ff0000"/>
<path d="M1280.1 762.2L1281.6 766.0L1285.6 766.2L1282.4 768.7L1283.5 772.7L1280.1 770.4L1276.7 772.7L1277.8 768.7L1274.6 766.2L1278.7 766.0Z" fill="#ff0000"/>
<path d="M1282.7 761.8L1284.1 765.7L1288.2 765.8L1285.0 768.4L1286.1 772.3L1282.7 770.1L1279.3 772.3L1280.4 768.4L1277.2 765.8L1281.3 765.7Z" fill="#ff0000"/>
<path d="M1285.3 761.5L1286.7 765.4L1290.8 765.6L1287.6 768.1L1288.7 772.0L1285.3 769.8L1281.9 772.0L1283.0 768.1L1279.8 765.6L1283.9 765.4Z" fill="#ff0000"/>
<path d="M1287.9 761.3L1289.3 765.1L1293.4 765.3L1290.2 767.9L1291.3 771.8L1287.9 769.5L1284.5 771.8L1285.6 767.9L1282.4 765.3L1286.4 765.1Z" fill="#ff0000"/>
<path d="M1290.5 761.1L1291.9 765.0L1296.0 765.1L1292.8 767.7L1293.9 771.6L1290.5 769.4L1287.1 771.6L1288.2 767.7L1285.0 765.1L1289.0 765.0Z" fill="#ff0000"/>
<path d="M1293.1 761.0L1294.5 764.8L1298.6 765.0L1295.4 767.6L1296.5 771.5L1293.1 769.2L1289.7 771.5L1290.7 767.6L1287.5 765.0L1291.6 764.8Z" fill="#ff0000"/>
<path d="M1295.7 760.9L1297.1 764.8L1301.2 764.9L1298.0 767.5L1299.1 771.4L1295.7 769.2L1292.3 771.4L1293.3 767.5L1290.1 764.9L1294.2 764.8Z" fill="#ff0000"/>
<path d="M1298.3 760.9L1299.7 764.7L1303.8 764.9L1300.6 767.5L1301.7 771.4L1298.3 769.1L1294.9 771.4L1295.9 767.5L1292.7 764.9L1296.8 764.7Z" fill="#ff0000"/>
<path d="M1300.9 760.9L1302.3 764.8L1306.4 765.0L1303.2 767.5L1304.3 771.4L1300.9 769.2L1297.5 771.4L1298.5 767.5L1295.3 765.0L1299.4 764.8Z" fill="#ff0000"/>
<path d="M1303.5 761.0L1304.9 764.9L1309.0 765.0L1305.8 767.6L1306.9 771.5L1303.5 769.3L1300.1 771.5L1301.1 767.6L1297.9 765.0L1302.0 764.9Z" fill="#ff0000"/>
<path d="M1306.1 761.2L1307.5 765.0L1311.6 765.2L1308.4 767.8L1309.5 771.7L1306.1 769.4L1302.6 771.7L1303.7 767.8L1300.5 765.2L1304.6 765.0Z" fill="#ff0000"/>
<path d="M1308.6 761.4L1310.1 765.3L1314.2 765.4L1311.0 768.0L1312.1 771.9L1308.6 769.7L1305.2 771.9L1306.3 768.0L1303.1 765.4L1307.2 765.3Z" fill="#ff0000"/>
<path d="M1311.2 761.7L1312.7 765.5L1316.7 765.7L1313.5 768.3L1314.6 772.2L1311.2 769.9L1307.8 772.2L1308.9 768.3L1305.7 765.7L1309.8 765.5Z" fill="#ff0000"/>
<path d="M1313.8 762.0L1315.2 765.9L1319.3 766.0L1316.1 768.6L1317.2 772.5L1313.8 770.3L1310.4 772.5L1311.5 768.6L1308.3 766.0L1312.4 765.9Z" fill="#ff0000"/>
<path d="M1316.4 762.4L1317.8 766.3L1321.9 766.4L1318.7 769.0L1319.8 772.9L1316.4 770.7L1313.0 772.9L1314.1 769.0L1310.9 766.4L1314.9 766.3Z" fill="#ff0000"/>
<path d="M1318.9 762.9L1320.4 766.8L1324.4 767.0L1321.2 769.5L1322.3 773.4L1318.9 771.2L1315.5 773.4L1316.6 769.5L1313.4 767.0L1317.5 766.8Z" fill="#ff0000"/>
<path d="M1321.5 763.6L1322.9 767.4L1327.0 767.6L1323.8 770.1L1324.9 774.0L1321.5 771.8L1318.0 774.0L1319.1 770.1L1315.9 767.6L1320.0 767.4Z" fill="#ff0000"/>
<path d="M1324.0 764.2L1325.4 768.0L1329.5 768.2L1326.3 770.8L1327.4 774.7L1324.0 772.4L1320.6 774.7L1321.7 770.8L1318.5 768.2L1322.5 768.0Z" fill="#ff0000"/>
<path d="M1326.5 764.9L1327.9 768.7L1332.0 768.9L1328.8 771.4L1329.9 775.4L1326.5 773.1L1323.1 775.4L1324.2 771.4L1321.0 768.9L1325.1 768.7Z" fill="#ff0000"/>
<path d="M1329.0 765.5L1330.4 769.3L1334.5 769.5L1331.3 772.0L1332.4 776.0L1329.0 773.7L1325.6 776.0L1326.7 772.0L1323.5 769.5L1327.6 769.3Z" fill="#ff0000"/>
<path d="M1331.6 766.0L1333.0 769.9L1337.1 770.1L1333.9 772.6L1335.0 776.5L1331.6 774.3L1328.1 776.5L1329.2 772.6L1326.0 770.1L1330.1 769.9Z" fill="#ff0000"/>
<path d="M1334.1 766.6L1335.5 770.5L1339.6 770.7L1336.4 773.2L1337.5 777.1L1334.1 774.9L1330.7 777.1L1331.8 773.2L1328.6 770.7L1332.6 770.5Z" fill="#ff0000"/>
<path d="M1336.6 767.2L1338.0 771.1L1342.1 771.3L1338.9 773.8L1340.0 777.7L1336.6 775.5L1333.2 777.7L1334.3 773.8L1331.1 771.3L1335.2 771.1Z" fill="#ff0000"/>
<path d="M1339.2 767.8L1340.6 771.6L1344.7 771.8L1341.5 774.4L1342.6 778.3L1339.2 776.0L1335.7 778.3L1336.8 774.4L1333.6 771.8L1337.7 771.6Z" fill="#ff0000"/>
<path d="M1341.7 768.3L1343.1 772.1L1347.2 772.3L1344.0 774.8L1345.1 778.7L1341.7 776.5L1338.3 778.7L1339.4 774.8L1336.2 772.3L1340.3 772.1Z" fill="#ff0000"/>
<path d="M1344.3 768.5L1345.7 772.4L1349.8 772.5L1346.6 775.1L1347.7 779.0L1344.3 776.8L1340.9 779.0L1342.0 775.1L1338.8 772.5L1342.9 772.4Z" fill="#ff0000"/>
<path d="M1346.9 768.6L1348.3 772.4L1352.4 772.6L1349.2 775.2L1350.3 779.1L1346.9 776.8L1343.5 779.1L1344.6 775.2L1341.4 772.6L1345.5 772.4Z" fill="#ff0000"/>
<path d="M1349.5 768.4L1350.9 772.3L1355.0 772.5L1351.8 775.0L1352.9 778.9L1349.5 776.7L1346.1 778.9L1347.2 775.0L1344.0 772.5L1348.1 772.3Z" fill="#ff0000"/>
<path d="M1352.1 768.1L1353.5 772.0L1357.6 772.1L1354.4 774.7L1355.5 778.6L1352.1 776.4L1348.7 778.6L1349.8 774.7L1346.6 772.1L1350.6 772.0Z" fill="#ff0000"/>
<path d="M1354.6 767.7L1356.1 771.6L1360.2 771.7L1357.0 774.3L1358.0 778.2L1354.6 776.0L1351.2 778.2L1352.3 774.3L1349.1 771.7L1353.2 771.6Z" fill="#ff0000"/>
<path d="M1357.2 767.2L1358.6 771.1L1362.7 771.3L1359.5 773.8L1360.6 777.7L1357.2 775.5L1353.8 777.7L1354.9 773.8L1351.7 771.3L1355.8 771.1Z" fill="#ff0000"/>
<path d="M1359.7 766.7L1361.2 770.6L1365.3 770.8L1362.1 773.3L1363.2 777.2L1359.7 775.0L1356.3 777.2L1357.4 773.3L1354.2 770.8L1358.3 770.6Z" fill="#ff0000"/>
<path d="M1362.3 766.3L1363.7 770.1L1367.8 770.3L1364.6 772.8L1365.7 776.8L1362.3 774.5L1358.9 776.8L1360.0 772.8L1356.8 770.3L1360.9 770.1Z" fill="#ff0000"/>
<path d="M1364.9 765.8L1366.3 769.6L1370.4 769.8L1367.2 772.3L1368.3 776.3L1364.9 774.0L1361.4 776.3L1362.5 772.3L1359.3 769.8L1363.4 769.6Z" fill="#ff0000"/>
<path d="M1367.4 765.2L1368.8 769.0L1372.9 769.2L1369.7 771.7L1370.8 775.6L1367.4 773.4L1364.0 775.6L1365.1 771.7L1361.9 769.2L1365.9 769.0Z" fill="#ff0000"/>
<path d="M1369.8 764.3L1371.3 768.2L1375.4 768.3L1372.2 770.9L1373.2 774.8L1369.8 772.6L1366.4 774.8L1367.5 770.9L1364.3 768.3L1368.4 768.2Z" fill="#ff0000"/>
<path d="M1372.2 763.3L1373.7 767.1L1377.7 767.3L1374.5 769.9L1375.6 773.8L1372.2 771.5L1368.8 773.8L1369.9 769.9L1366.7 767.3L1370.8 767.1Z" fill="#ff0000"/>
<path d="M1374.5 762.1L1376.0 765.9L1380.0 766.1L1376.8 768.6L1377.9 772.6L1374.5 770.3L1371.1 772.6L1372.2 768.6L1369.0 766.1L1373.1 765.9Z" fill="#ff0000"/>
<path d="M1376.8 760.8L1378.2 764.6L1382.3 764.8L1379.1 767.3L1380.2 771.3L1376.8 769.0L1373.3 771.3L1374.4 767.3L1371.2 764.8L1375.3 764.6Z" fill="#ff0000"/>
<path d="M1379.0 759.4L1380.4 763.2L1384.5 763.4L1381.3 765.9L1382.4 769.9L1379.0 767.6L1375.6 769.9L1376.6 765.9L1373.4 763.4L1377.5 763.2Z" fill="#ff0000"/>
<path d="M1381.2 758.0L1382.6 761.8L1386.7 762.0L1383.5 764.5L1384.6 768.5L1381.2 766.2L1377.7 768.5L1378.8 764.5L1375.6 762.0L1379.7 761.8Z" fill="#ff0000"/>
<path d="M1383.3 756.6L1384.8 760.4L1388.9 760.6L1385.7 763.1L1386.7 767.1L1383.3 764.8L1379.9 767.1L1381.0 763.1L1377.8 760.6L1381.9 760.4Z" fill="#ff0000"/>
<path d="M1394.9 750.7L1396.3 754.5L1400.4 754.7L1397.2 757.3L1398.3 761.2L1394.9 758.9L1391.5 761.2L1392.6 757.3L1389.4 754.7L1393.5 754.5Z" fill="#ff0000"/>
<path d="M1407.9 742.9L1409.3 746.7L1413.4 746.9L1410.2 749.5L1411.3 753.4L1407.9 751.1L1404.5 753.4L1405.6 749.5L1402.4 746.9L1406.5 746.7Z" fill="#ff0000"/>
<path d="M1415.7 736.3L1417.1 740.1L1421.2 740.3L1418.0 742.9L1419.1 746.8L1415.7 744.5L1412.3 746.8L1413.4 742.9L1410.2 740.3L1414.3 740.1Z" fill="#ff0000"/>
<path d="M1425.6 729.8L1427.0 733.6L1431.1 733.8L1427.9 736.4L1429.0 740.3L1425.6 738.0L1422.2 740.3L1423.3 736.4L1420.1 733.8L1424.2 733.6Z" fill="#ff0000"/>
<path d="M1436.0 722.0L1437.4 725.8L1441.5 726.0L1438.3 728.6L1439.4 732.5L1436.0 730.2L1432.6 732.5L1433.7 728.6L1430.5 726.0L1434.6 725.8Z" fill="#ff0000"/>
<path d="M1448.3 713.4L1449.7 717.2L1453.8 717.4L1450.6 720.0L1451.7 723.9L1448.3 721.6L1444.9 723.9L1446.0 720.0L1442.8 717.4L1446.9 717.2Z" fill="#ff0000"/>
<path d="M1462.7 704.5L1464.1 708.3L1468.2 708.5L1465.0 711.1L1466.1 715.0L1462.7 712.7L1459.3 715.0L1460.4 711.1L1457.2 708.5L1461.3 708.3Z" fill="#ff0000"/>
<circle cx="1218.5" cy="806.0" r="4.4" fill="#ff0000"/>
<circle cx="1219.7" cy="804.4" r="4.4" fill="#ff0000"/>
<circle cx="1220.9" cy="802.8" r="4.4" fill="#ff0000"/>
<circle cx="1222.1" cy="801.2" r="4.4" fill="#ff0000"/>
<circle cx="1223.4" cy="799.7" r="4.4" fill="#ff0000"/>
<circle cx="1224.8" cy="798.2" r="4.4" fill="#ff0000"/>
<circle cx="1226.2" cy="796.8" r="4.4" fill="#ff0000"/>
<circle cx="1227.7" cy="795.5" r="4.4" fill="#ff0000"/>
<circle cx="1229.3" cy="794.2" r="4.4" fill="#ff0000"/>
<circle cx="1230.8" cy="793.0" r="4.4" fill="#ff0000"/>
<circle cx="1232.4" cy="791.8" r="4.4" fill="#ff0000"/>
<circle cx="1234.0" cy="790.6" r="4.4" fill="#ff0000"/>
<circle cx="1235.7" cy="789.5" r="4.4" fill="#ff0000"/>
<circle cx="1237.3" cy="788.3" r="4.4" fill="#ff0000"/>
<circle cx="1239.0" cy="787.2" r="4.4" fill="#ff0000"/>
<circle cx="1240.6" cy="786.1" r="4.4" fill="#ff0000"/>
<circle cx="1242.3" cy="785.0" r="4.4" fill="#ff0000"/>
<circle cx="1244.0" cy="784.0" r="4.4" fill="#ff0000"/>
<circle cx="1245.8" cy="783.0" r="4.4" fill="#ff0000"/>
<circle cx="1247.6" cy="782.1" r="4.4" fill="#ff0000"/>
<circle cx="1249.4" cy="781.3" r="4.4" fill="#ff0000"/>
<circle cx="1251.2" cy="780.5" r="4.4" fill="#ff0000"/>
<circle cx="1253.1" cy="779.9" r="4.4" fill="#ff0000"/>
<circle cx="1255.1" cy="779.4" r="4.4" fill="#ff0000"/>
<circle cx="1257.0" cy="778.9" r="4.4" fill="#ff0000"/>
<circle cx="1259.0" cy="778.5" r="4.4" fill="#ff0000"/>
<circle cx="1260.9" cy="778.2" r="4.4" fill="#ff0000"/>
<circle cx="1262.9" cy="777.8" r="4.4" fill="#ff0000"/>
<circle cx="1264.9" cy="777.4" r="4.4" fill="#ff0000"/>
<circle cx="1266.8" cy="777.1" r="4.4" fill="#ff0000"/>
<circle cx="1268.8" cy="776.8" r="4.4" fill="#ff0000"/>
<circle cx="1270.8" cy="776.7" r="4.4" fill="#ff0000"/>
<circle cx="1272.8" cy="776.6" r="4.4" fill="#ff0000"/>
<circle cx="1274.8" cy="776.7" r="4.4" fill="#ff0000"/>
<circle cx="1276.8" cy="776.9" r="4.4" fill="#ff0000"/>
<circle cx="1278.8" cy="777.2" r="4.4" fill="#ff0000"/>
<circle cx="1280.8" cy="777.5" r="4.4" fill="#ff0000"/>
<circle cx="1282.7" cy="777.9" r="4.4" fill="#ff0000"/>
<circle cx="1284.7" cy="778.3" r="4.4" fill="#ff0000"/>
<circle cx="1286.7" cy="778.7" r="4.4" fill="#ff0000"/>
<circle cx="1288.6" cy="779.2" r="4.4" fill="#ff0000"/>
<circle cx="1290.5" cy="779.6" r="4.4" fill="#ff0000"/>
<circle cx="1292.5" cy="780.2" r="4.4" fill="#ff0000"/>
<circle cx="1294.4" cy="780.8" r="4.4" fill="#ff0000"/>
<circle cx="1296.2" cy="781.5" r="4.4" fill="#ff0000"/>
<circle cx="1298.1" cy="782.2" r="4.4" fill="#ff0000"/>
<circle cx="1300.0" cy="782.9" r="4.4" fill="#ff0000"/>
<circle cx="1301.9" cy="783.6" r="4.4" fill="#ff0000"/>
<circle cx="1303.7" cy="784.3" r="4.4" fill="#ff0000"/>
<circle cx="1305.6" cy="785.1" r="4.4" fill="#ff0000"/>
<circle cx="1307.4" cy="785.9" r="4.4" fill="#ff0000"/>
<circle cx="1309.2" cy="786.7" r="4.4" fill="#ff0000"/>
<circle cx="1311.2" cy="787.3" r="4.4" fill="#ff0000"/>
<circle cx="1313.1" cy="787.4" r="4.4" fill="#ff0000"/>
<circle cx="1315.1" cy="787.1" r="4.4" fill="#ff0000"/>
<circle cx="1317.0" cy="786.4" r="4.4" fill="#ff0000"/>
<circle cx="1318.8" cy="785.6" r="4.4" fill="#ff0000"/>
<circle cx="1320.6" cy="784.7" r="4.4" fill="#ff0000"/>
<circle cx="1322.4" cy="783.7" r="4.4" fill="#ff0000"/>
<circle cx="1324.1" cy="782.7" r="4.4" fill="#ff0000"/>
<circle cx="1325.8" cy="781.7" r="4.4" fill="#ff0000"/>
<circle cx="1327.5" cy="780.6" r="4.4" fill="#ff0000"/>
<circle cx="1329.1" cy="779.5" r="4.4" fill="#ff0000"/>
<circle cx="1330.7" cy="778.3" r="4.4" fill="#ff0000"/>
<circle cx="1332.3" cy="777.0" r="4.4" fill="#ff0000"/>
<circle cx="1333.9" cy="775.8" r="4.4" fill="#ff0000"/>
<circle cx="1335.4" cy="774.5" r="4.4" fill="#ff0000"/>
<circle cx="1336.9" cy="773.2" r="4.4" fill="#ff0000"/>
<circle cx="1338.4" cy="771.9" r="4.4" fill="#ff0000"/>
<circle cx="1339.9" cy="770.6" r="4.4" fill="#ff0000"/>
<circle cx="1341.4" cy="769.3" r="4.4" fill="#ff0000"/>
<circle cx="1350.6" cy="760.4" r="4.4" fill="#ff0000"/>
<circle cx="1358.4" cy="753.9" r="4.4" fill="#ff0000"/>
<circle cx="1365.7" cy="748.7" r="4.4" fill="#ff0000"/>
<circle cx="1372.7" cy="742.1" r="4.4" fill="#ff0000"/>
<circle cx="1379.8" cy="736.4" r="4.4" fill="#ff0000"/>
<circle cx="1388.4" cy="728.3" r="4.4" fill="#ff0000"/>
<circle cx="1398.8" cy="718.7" r="4.4" fill="#ff0000"/>
</g>
<rect x="1218.9" y="459.1" width="431.5" height="346.9" fill="none" stroke="#000" stroke-width="2.5"/>
<line x1="1218.9" y1="806" x2="1218.9" y2="799.5" stroke="#000" stroke-width="2.5"/>
<line x1="1326.78" y1="806" x2="1326.78" y2="799.5" stroke="#000" stroke-width="2.5"/>
<line x1="1434.65" y1="806" x2="1434.65" y2="799.5" stroke="#000" stroke-width="2.5"/>
<line x1="1542.53" y1="806" x2="1542.53" y2="799.5" stroke="#000" stroke-width="2.5"/>
<line x1="1650.4" y1="806" x2="1650.4" y2="799.5" stroke="#000" stroke-width="2.5"/>
<line x1="1272.84" y1="806" x2="1272.84" y2="802.7" stroke="#000" stroke-width="2.5"/>
<line x1="1380.71" y1="806" x2="1380.71" y2="802.7" stroke="#000" stroke-width="2.5"/>
<line x1="1488.59" y1="806" x2="1488.59" y2="802.7" stroke="#000" stroke-width="2.5"/>
<line x1="1596.46" y1="806" x2="1596.46" y2="802.7" stroke="#000" stroke-width="2.5"/>
<text x="1218.9" y="837.4" text-anchor="middle" stroke="#000" stroke-width="0.35">0</text>
<text x="1326.78" y="837.4" text-anchor="middle" stroke="#000" stroke-width="0.35">250</text>
<text x="1434.65" y="837.4" text-anchor="middle" stroke="#000" stroke-width="0.35">500</text>
<text x="1542.53" y="837.4" text-anchor="middle" stroke="#000" stroke-width="0.35">750</text>
<text x="1650.4" y="837.4" text-anchor="middle" stroke="#000" stroke-width="0.35">1000</text>
<line x1="1218.9" y1="806" x2="1225.4" y2="806" stroke="#000" stroke-width="2.5"/>
<line x1="1218.9" y1="719.27" x2="1225.4" y2="719.27" stroke="#000" stroke-width="2.5"/>
<line x1="1218.9" y1="632.55" x2="1225.4" y2="632.55" stroke="#000" stroke-width="2.5"/>
<line x1="1218.9" y1="545.83" x2="1225.4" y2="545.83" stroke="#000" stroke-width="2.5"/>
<line x1="1218.9" y1="459.1" x2="1225.4" y2="459.1" stroke="#000" stroke-width="2.5"/>
<line x1="1218.9" y1="762.64" x2="1222.2" y2="762.64" stroke="#000" stroke-width="2.5"/>
<line x1="1218.9" y1="675.91" x2="1222.2" y2="675.91" stroke="#000" stroke-width="2.5"/>
<line x1="1218.9" y1="589.19" x2="1222.2" y2="589.19" stroke="#000" stroke-width="2.5"/>
<line x1="1218.9" y1="502.46" x2="1222.2" y2="502.46" stroke="#000" stroke-width="2.5"/>
<text x="1211" y="815" text-anchor="end" stroke="#000" stroke-width="0.35">0</text>
<text x="1211" y="728.27" text-anchor="end" stroke="#000" stroke-width="0.35">250</text>
<text x="1211" y="641.55" text-anchor="end" stroke="#000" stroke-width="0.35">500</text>
<text x="1211" y="554.83" text-anchor="end" stroke="#000" stroke-width="0.35">750</text>
<text x="1211" y="468.1" text-anchor="end" stroke="#000" stroke-width="0.35">1000</text>
<text x="1433.6" y="864" text-anchor="middle" stroke="#000" stroke-width="0.35">Z' (Ohm)</text>
<text transform="translate(1139.5,632.5) rotate(-90)" text-anchor="middle" stroke="#000" stroke-width="0.35">−Z'' (Ohm)</text>
<path d="M1241.2 470.6L1242.6 474.3L1246.5 474.5L1243.4 476.9L1244.5 480.7L1241.2 478.6L1237.9 480.7L1239.0 476.9L1235.9 474.5L1239.8 474.3Z" fill="#ff0000"/>
<circle cx="1241.2" cy="512.2" r="4.5" fill="#ff0000"/>
<path d="M1241.2 543.2L1242.6 546.9L1246.5 547.1L1243.4 549.5L1244.5 553.3L1241.2 551.2L1237.9 553.3L1239.0 549.5L1235.9 547.1L1239.8 546.9Z" fill="#1a94f5"/>
<circle cx="1241.2" cy="585.1" r="4.5" fill="#1a94f5"/>
<text x="1283" y="486.5" stroke="#000" stroke-width="0.35">Ni–DAPTO/Cu (0 h)</text>
<text x="1283" y="522.5" stroke="#000" stroke-width="0.35">Ni–DAPTO/Cu (100 h)</text>
<text x="1283" y="559" stroke="#000" stroke-width="0.35">Bare Cu (0 h)</text>
<text x="1283" y="595.5" stroke="#000" stroke-width="0.35">Bare Cu (100 h)</text>
<text x="1232.6" y="681" stroke="#000" stroke-width="0.35">Zn||Cu</text>
<text x="1642.5" y="792.5" text-anchor="end" stroke="#000" stroke-width="0.35">n = 5</text>
<path d="M1376.3 648.1 L1390.7 648.1 L1399.0 656.4 L1415.1 639.5 L1431.7 656.4 L1448.3 639.5 L1456.6 648.1 L1478.1 648.1 L1486.1 656.4 L1502.4 639.5 L1518.9 656.4 L1535.5 639.5 L1543.8 648.1 L1592.3 648.1" stroke="#000" stroke-width="2" fill="none" stroke-linejoin="round" stroke-linejoin="miter" stroke-linecap="square"/>
<path d="M1584.8 639.5 L1601.4 656.4 L1608.8 648.1 L1617.1 656.4 L1633.7 639.5" stroke="#000" stroke-width="2" fill="none" stroke-linejoin="round" stroke-linejoin="miter" stroke-linecap="square"/>
<path d="M1626.3 648.1 L1643.7 648.1" stroke="#000" stroke-width="2" fill="none" stroke-linejoin="round" stroke-linejoin="miter" stroke-linecap="square"/>
<path d="M1463.7 648.1 L1463.7 684.9 L1512.6 684.9" stroke="#000" stroke-width="2" fill="none" stroke-linejoin="round" stroke-linejoin="miter" stroke-linecap="square"/>
<path d="M1504.4 676.6 L1512.6 684.9 L1504.4 693.2" stroke="#000" stroke-width="2" fill="none" stroke-linejoin="round" stroke-linejoin="miter" stroke-linecap="square"/>
<path d="M1516.0 676.6 L1524.3 684.9 L1516.0 693.2" stroke="#000" stroke-width="2" fill="none" stroke-linejoin="round" stroke-linejoin="miter" stroke-linecap="square"/>
<path d="M1524.3 684.9 L1559.9 684.9 L1559.9 648.1" stroke="#000" stroke-width="2" fill="none" stroke-linejoin="round" stroke-linejoin="miter" stroke-linecap="square"/>
<text x="1404.83" y="629.86" font-style="italic" font-size="24" stroke="#000" stroke-width="0.35">R<tspan font-style="normal" font-size="17" dy="6">e</tspan></text>
<text x="1474.49" y="629.86" font-style="italic" font-size="24" stroke="#000" stroke-width="0.35">R<tspan font-style="normal" font-size="16.4" dy="6">interfacial</tspan></text>
<text x="1596.41" y="630.69" font-style="italic" font-size="24" stroke="#000" stroke-width="0.35">W<tspan font-style="normal" font-size="17" dy="6">o</tspan></text>
<text x="1515" y="719.5" text-anchor="middle" font-size="24" stroke="#000" stroke-width="0.35">CPE</text>
<text x="33.5" y="907" font-weight="bold" font-size="33" stroke="#000" stroke-width="0.35">f</text>
<path d="M143.1 1148.4 L145.2 1145.4 L148.2 1141.3 L151.7 1136.4 L155.6 1131.2 L159.4 1126.2 L162.9 1121.6 L166.3 1117.5 L169.8 1113.5 L173.3 1109.5 L176.7 1105.7 L180.1 1102.1 L183.3 1098.7 L186.4 1095.5 L189.5 1092.5 L192.4 1089.6 L195.3 1086.9 L198.2 1084.5 L201.2 1082.1 L204.1 1080.0 L207.1 1078.1 L210.1 1076.3 L213.0 1074.7 L216.0 1073.3 L219.0 1071.9 L222.0 1070.8 L224.9 1069.7 L227.9 1068.8 L230.9 1068.0 L233.8 1067.4 L236.8 1066.9 L239.9 1066.5 L243.0 1066.2 L246.2 1066.1 L249.3 1066.1 L252.1 1066.1 L254.7 1066.1 L256.7 1066.1 L258.2 1066.2 L259.6 1066.4 L261.0 1066.5 L262.6 1066.5 L264.8 1066.3 L267.7 1066.0 L271.2 1065.7 L274.9 1065.2 L278.6 1064.6 L282.1 1063.9 L285.2 1063.0 L287.7 1062.2 L289.8 1061.3 L291.7 1060.3 L293.6 1059.0 L295.6 1057.5 L298.0 1055.4 L300.6 1052.8 L303.4 1049.6 L306.4 1046.2 L309.5 1042.5 L312.6 1038.7 L315.8 1035.0 L319.1 1031.3 L322.5 1027.3 L326.0 1023.3 L329.5 1019.3 L332.9 1015.6 L336.2 1012.1 L339.3 1008.9 L342.5 1005.8 L345.6 1002.9 L348.5 1000.1 L351.4 997.7 L354.0 995.5 L356.5 993.7 L358.8 992.1 L360.9 990.9 L363.0 989.8 L364.9 988.8 L366.7 987.9 L368.4 987.1 L370.0 986.3 L371.4 985.8 L372.8 985.3 L374.2 985.0 L375.7 984.8 L377.1 984.8 L378.6 984.8 L380.0 985.1 L381.5 985.4 L383.0 985.9 L384.6 986.6 L386.2 987.5 L388.0 988.5 L389.7 989.7 L391.5 991.1 L393.2 992.6 L394.8 994.3 L396.2 996.0 L397.6 997.8 L398.9 999.8 L400.1 1002.0 L401.3 1004.4 L402.4 1007.0 L403.4 1009.9 L404.3 1013.2 L405.2 1016.7 L406.0 1020.3 L406.8 1023.9 L407.5 1027.4 L408.2 1030.9 L408.8 1034.4 L409.4 1038.0 L410.0 1041.5 L410.6 1044.8 L411.3 1047.7 L412.0 1050.4 L412.8 1052.9 L413.5 1055.1 L414.4 1057.1 L415.3 1058.9 L416.4 1060.5 L417.6 1061.8 L418.8 1062.7 L420.1 1063.5 L421.6 1064.1 L423.3 1064.6 L425.3 1065.1 L427.7 1065.5 L430.3 1065.7 L433.2 1065.9 L436.3 1065.9 L439.6 1066.0 L443.2 1066.1 L448.4 1066.2 L455.8 1066.2 L463.4 1066.3 L469.3 1066.3 L471.7 1066.3 L468.6 1066.3 L459.1 1066.4 L444.4 1066.4 L426.1 1066.5 L406.0 1066.5 L385.6 1066.6 L366.7 1066.6 L347.8 1066.6 L327.1 1066.6 L306.2 1066.6 L286.6 1066.6 L269.8 1066.7 L257.2 1066.9 L249.8 1067.1 L246.6 1067.3 L246.2 1067.6 L247.1 1068.0 L247.9 1068.6 L247.0 1069.4 L244.8 1070.4 L242.4 1071.7 L239.8 1073.1 L237.2 1074.6 L234.5 1076.4 L231.7 1078.3 L229.0 1080.4 L226.3 1082.8 L223.4 1085.2 L220.5 1087.9 L217.3 1090.7 L213.9 1093.6 L210.1 1096.7 L206.0 1100.0 L201.6 1103.5 L197.2 1107.0 L192.8 1110.5 L188.4 1114.0 L184.1 1117.5 L179.7 1121.0 L175.3 1124.6 L171.0 1128.0 L166.9 1131.3 L162.9 1134.4 L159.1 1137.2 L155.2 1140.0 L151.4 1142.6 L148.0 1145.0 L145.2 1146.9 L143.1 1148.4" stroke="#1a94f5" stroke-width="2.4" fill="none" stroke-linejoin="round"/>
<path d="M143.1 1193.5 L145.2 1191.0 L148.0 1187.6 L151.4 1183.5 L155.2 1179.0 L159.1 1174.5 L162.9 1170.0 L166.9 1165.6 L171.0 1161.1 L175.3 1156.5 L179.7 1151.7 L184.1 1146.9 L188.4 1142.0 L192.8 1137.0 L197.2 1131.7 L201.6 1126.4 L206.0 1121.2 L210.1 1116.1 L213.9 1111.4 L217.4 1107.1 L220.6 1102.9 L223.6 1099.0 L226.4 1095.3 L229.1 1091.8 L231.7 1088.5 L234.2 1085.4 L236.5 1082.5 L238.7 1079.7 L240.8 1077.3 L242.7 1075.1 L244.5 1073.2 L246.0 1071.7 L247.4 1070.6 L248.6 1069.8 L249.7 1069.2 L250.9 1068.7 L252.1 1068.1 L253.3 1067.7 L254.3 1067.4 L255.3 1067.3 L256.4 1067.1 L257.9 1066.8 L259.7 1066.3 L262.2 1065.7 L265.1 1064.9 L268.3 1063.9 L271.6 1062.9 L274.8 1061.8 L277.6 1060.5 L280.0 1059.2 L282.1 1058.0 L284.1 1056.6 L286.1 1055.0 L288.1 1052.9 L290.3 1050.3 L292.6 1047.0 L294.9 1043.1 L297.3 1038.8 L299.8 1034.3 L302.6 1029.5 L305.6 1024.8 L309.0 1020.0 L312.6 1015.0 L316.4 1009.9 L320.4 1004.6 L324.5 999.4 L328.5 994.3 L332.7 989.0 L337.1 983.6 L341.6 978.3 L346.0 973.0 L350.2 968.1 L354.0 963.7 L357.4 959.7 L360.6 956.2 L363.6 952.9 L366.4 950.0 L369.1 947.2 L371.8 944.6 L374.6 942.1 L377.3 939.9 L380.0 937.9 L382.5 936.1 L384.9 934.5 L387.1 933.1 L389.1 932.0 L391.0 931.2 L392.7 930.6 L394.3 930.2 L395.8 930.0 L397.3 929.8 L398.7 929.7 L400.1 929.7 L401.4 929.9 L402.6 930.3 L403.8 930.9 L404.9 931.8 L406.1 933.0 L407.3 934.4 L408.4 935.9 L409.4 937.9 L410.4 940.3 L411.3 943.3 L412.1 946.9 L412.8 951.0 L413.4 955.6 L414.0 960.6 L414.5 965.9 L415.1 971.3 L415.8 977.2 L416.4 983.5 L417.0 990.1 L417.7 996.8 L418.3 1003.3 L419.0 1009.5 L419.6 1015.6 L420.2 1021.7 L420.8 1027.6 L421.4 1033.2 L422.1 1038.3 L422.8 1042.7 L423.5 1046.2 L424.2 1049.0 L424.9 1051.3 L425.8 1053.2 L426.7 1054.9 L427.9 1056.7 L429.2 1058.4 L430.6 1059.9 L432.2 1061.2 L433.9 1062.4 L435.9 1063.4 L438.1 1064.3 L440.2 1065.0 L442.0 1065.4 L444.1 1065.7 L446.8 1065.8 L450.6 1065.9 L455.9 1066.1 L465.4 1066.2 L479.2 1066.3 L494.1 1066.3 L506.7 1066.3 L513.8 1066.3 L511.9 1066.3 L498.9 1066.4 L477.0 1066.4 L449.5 1066.5 L419.8 1066.5 L391.1 1066.6 L366.7 1066.6 L345.6 1066.6 L324.8 1066.6 L305.0 1066.5 L287.0 1066.5 L271.7 1066.6 L259.7 1066.9 L252.2 1067.1 L248.5 1067.3 L247.5 1067.7 L247.8 1068.2 L248.0 1069.2 L247.0 1070.7 L244.9 1072.7 L242.9 1075.3 L240.8 1078.2 L238.7 1081.5 L236.5 1084.9 L234.3 1088.5 L231.9 1092.3 L229.5 1096.3 L227.0 1100.6 L224.4 1105.0 L221.7 1109.5 L219.0 1114.0 L216.2 1118.6 L213.2 1123.3 L210.2 1128.1 L207.2 1132.9 L204.2 1137.6 L201.2 1142.0 L198.2 1146.2 L195.3 1150.2 L192.4 1154.1 L189.5 1157.9 L186.4 1161.5 L183.3 1164.9 L180.1 1168.3 L176.7 1171.5 L173.3 1174.6 L169.8 1177.5 L166.3 1180.3 L162.9 1182.8 L159.4 1185.1 L155.6 1187.3 L151.7 1189.2 L148.2 1190.9 L145.2 1192.4 L143.1 1193.5" stroke="#ff0000" stroke-width="2.4" fill="none" stroke-linejoin="round"/>
<line x1="258.5" y1="1065.6" x2="228.45" y2="1033.11" stroke="#000" stroke-width="1.8" stroke-dasharray="5 3.5"/>
<path d="M220.3 1024.3 L231.8 1030.1 L225.1 1036.2Z" fill="#000"/>
<line x1="402.4" y1="929.8" x2="416.5" y2="929.53" stroke="#000" stroke-width="1.8" stroke-dasharray="5 3.5"/>
<path d="M428.5 929.3 L416.6 934.0 L416.4 925.0Z" fill="#000"/>
<line x1="379.5" y1="984.2" x2="412.5" y2="984.2" stroke="#000" stroke-width="1.8" stroke-dasharray="5 3.5"/>
<path d="M424.5 984.2 L412.5 988.7 L412.5 979.7Z" fill="#000"/>
<line x1="143" y1="1149.2" x2="194.5" y2="1149.85" stroke="#000" stroke-width="1.8" stroke-dasharray="5 3.5"/>
<path d="M206.5 1150.0 L194.4 1154.3 L194.6 1145.3Z" fill="#000"/>
<line x1="145" y1="1194.7" x2="194.5" y2="1194.7" stroke="#000" stroke-width="1.8" stroke-dasharray="5 3.5"/>
<path d="M206.5 1194.7 L194.5 1199.2 L194.5 1190.2Z" fill="#000"/>
<rect x="112" y="893.4" width="430.3" height="346.4" fill="none" stroke="#000" stroke-width="2.5"/>
<line x1="142.61" y1="1239.8" x2="142.61" y2="1233.3" stroke="#000" stroke-width="2.5"/>
<line x1="265.8" y1="1239.8" x2="265.8" y2="1233.3" stroke="#000" stroke-width="2.5"/>
<line x1="388.99" y1="1239.8" x2="388.99" y2="1233.3" stroke="#000" stroke-width="2.5"/>
<line x1="512.18" y1="1239.8" x2="512.18" y2="1233.3" stroke="#000" stroke-width="2.5"/>
<line x1="204.21" y1="1239.8" x2="204.21" y2="1236.5" stroke="#000" stroke-width="2.5"/>
<line x1="327.4" y1="1239.8" x2="327.4" y2="1236.5" stroke="#000" stroke-width="2.5"/>
<line x1="450.59" y1="1239.8" x2="450.59" y2="1236.5" stroke="#000" stroke-width="2.5"/>
<text x="142.61" y="1269.8" text-anchor="middle" stroke="#000" stroke-width="0.35">−0.2</text>
<text x="265.8" y="1269.8" text-anchor="middle" stroke="#000" stroke-width="0.35">0.0</text>
<text x="388.99" y="1269.8" text-anchor="middle" stroke="#000" stroke-width="0.35">0.2</text>
<text x="512.18" y="1269.8" text-anchor="middle" stroke="#000" stroke-width="0.35">0.4</text>
<line x1="112" y1="1204.88" x2="118.5" y2="1204.88" stroke="#000" stroke-width="2.5"/>
<line x1="112" y1="1135.97" x2="118.5" y2="1135.97" stroke="#000" stroke-width="2.5"/>
<line x1="112" y1="1067.06" x2="118.5" y2="1067.06" stroke="#000" stroke-width="2.5"/>
<line x1="112" y1="998.15" x2="118.5" y2="998.15" stroke="#000" stroke-width="2.5"/>
<line x1="112" y1="929.23" x2="118.5" y2="929.23" stroke="#000" stroke-width="2.5"/>
<line x1="112" y1="1170.43" x2="115.3" y2="1170.43" stroke="#000" stroke-width="2.5"/>
<line x1="112" y1="1101.52" x2="115.3" y2="1101.52" stroke="#000" stroke-width="2.5"/>
<line x1="112" y1="1032.6" x2="115.3" y2="1032.6" stroke="#000" stroke-width="2.5"/>
<line x1="112" y1="963.69" x2="115.3" y2="963.69" stroke="#000" stroke-width="2.5"/>
<text x="103.5" y="1213.88" text-anchor="end" stroke="#000" stroke-width="0.35">−60</text>
<text x="103.5" y="1144.97" text-anchor="end" stroke="#000" stroke-width="0.35">−30</text>
<text x="103.5" y="1076.06" text-anchor="end" stroke="#000" stroke-width="0.35">0</text>
<text x="103.5" y="1007.15" text-anchor="end" stroke="#000" stroke-width="0.35">30</text>
<text x="103.5" y="938.23" text-anchor="end" stroke="#000" stroke-width="0.35">60</text>
<text x="327" y="1300.5" text-anchor="middle" stroke="#000" stroke-width="0.35">Potential (V vs. Zn<tspan baseline-shift="12" font-size="20.5">2+</tspan>/Zn)</text>
<text transform="translate(48,1066.6) rotate(-90)" text-anchor="middle" stroke="#000" stroke-width="0.35">Current (mA cm<tspan baseline-shift="12" font-size="20.5">−2</tspan>)</text>
<line x1="120.3" y1="913" x2="187.3" y2="913" stroke="#ff0000" stroke-width="2.4"/>
<text x="195.9" y="922" stroke="#000" stroke-width="0.35">Ni–DAPTO/Cu</text>
<line x1="120.3" y1="949" x2="187.3" y2="949" stroke="#1a94f5" stroke-width="2.4"/>
<text x="195.9" y="958" stroke="#000" stroke-width="0.35">Bare Cu</text>
<text x="427" y="925.5" stroke="#000" stroke-width="0.35">59.09</text>
<text x="427" y="963.5" stroke="#000" stroke-width="0.35">mA cm<tspan baseline-shift="12" font-size="20.5">−2</tspan></text>
<text x="426" y="998" stroke="#000" stroke-width="0.35">35.14</text>
<text x="426" y="1038" stroke="#000" stroke-width="0.35">mA cm<tspan baseline-shift="12" font-size="20.5">−2</tspan></text>
<text x="132.3" y="1016" stroke="#000" stroke-width="0.35">19.70 mV</text>
<text x="208" y="1160.5" stroke="#000" stroke-width="0.35">35.66 mA cm<tspan baseline-shift="12" font-size="20.5">−2</tspan></text>
<text x="208" y="1205" stroke="#000" stroke-width="0.35">54.69 mA cm<tspan baseline-shift="12" font-size="20.5">−2</tspan></text>
<text x="122" y="1225.5" stroke="#000" stroke-width="0.35">n = 3</text>
<text x="536" y="1224.5" text-anchor="end" stroke="#000" stroke-width="0.35">Zn||Cu</text>
<text x="29.5" y="1330" font-weight="bold" font-size="33" stroke="#000" stroke-width="0.35">h</text>
<path d="M112.0 1390.9 L114.8 1391.8 L118.8 1393.0 L123.4 1394.5 L128.4 1396.1 L133.5 1397.7 L138.1 1399.3 L142.4 1400.8 L146.8 1402.4 L151.1 1404.0 L155.4 1405.6 L159.8 1407.3 L164.1 1409.1 L168.4 1410.9 L172.8 1412.8 L177.1 1414.7 L181.5 1416.6 L185.8 1418.7 L190.2 1420.8 L194.6 1423.0 L198.9 1425.2 L203.3 1427.5 L207.6 1429.9 L212.0 1432.5 L216.3 1435.2 L220.7 1438.1 L225.2 1441.2 L229.7 1444.5 L234.1 1447.8 L238.3 1451.2 L242.3 1454.7 L246.0 1458.3 L249.6 1462.0 L252.9 1465.9 L256.1 1469.7 L259.1 1473.4 L261.9 1476.9 L264.5 1480.2 L266.9 1483.3 L269.1 1486.2 L271.1 1489.2 L273.0 1492.1 L274.9 1495.1 L276.7 1498.1 L278.4 1500.9 L279.9 1503.8 L281.4 1506.7 L282.8 1509.9 L284.0 1513.4 L285.1 1517.3 L286.1 1521.5 L287.0 1525.9 L287.8 1530.4 L288.5 1535.0 L289.2 1539.4 L289.8 1543.8 L290.3 1548.2 L290.8 1552.5 L291.2 1556.9 L291.5 1561.2 L291.8 1565.5 L292.0 1569.6 L292.2 1573.7 L292.2 1577.7 L292.3 1581.7 L292.3 1585.8 L292.4 1590.0 L292.5 1595.0 L292.5 1601.0 L292.5 1607.0 L292.6 1612.3 L292.6 1616.1 L292.7 1617.5 L292.8 1616.1 L292.9 1612.5 L293.0 1607.3 L293.1 1601.4 L293.3 1595.4 L293.4 1590.0 L293.5 1585.0 L293.7 1579.8 L293.8 1574.6 L293.9 1569.4 L294.1 1564.5 L294.3 1560.0 L294.5 1556.0 L294.7 1552.4 L294.9 1549.0 L295.1 1545.8 L295.4 1542.7 L295.8 1539.4 L296.3 1536.1 L296.8 1532.7 L297.4 1529.4 L298.0 1526.2 L298.8 1523.0 L299.7 1519.9 L300.7 1516.9 L301.8 1514.1 L303.0 1511.3 L304.4 1508.6 L305.9 1505.8 L307.5 1502.9 L309.3 1499.9 L311.4 1496.8 L313.6 1493.7 L315.9 1490.6 L318.2 1487.6 L320.5 1484.7 L322.8 1481.9 L325.0 1479.3 L327.3 1476.7 L329.7 1474.1 L332.3 1471.6 L335.0 1469.0 L338.0 1466.4 L341.2 1463.7 L344.5 1461.0 L347.9 1458.4 L351.3 1455.8 L354.6 1453.4 L357.9 1451.1 L361.1 1449.0 L364.4 1447.0 L367.6 1445.0 L370.8 1443.0 L374.1 1441.0 L377.4 1438.9 L380.6 1436.8 L383.9 1434.8 L387.2 1432.7 L390.4 1430.6 L393.7 1428.6 L396.9 1426.6 L400.0 1424.7 L403.0 1422.7 L406.2 1420.8 L409.6 1418.9 L413.2 1416.9 L417.2 1414.8 L421.4 1412.7 L425.8 1410.5 L430.4 1408.4 L434.9 1406.4 L439.3 1404.5 L443.7 1402.8 L448.0 1401.2 L452.4 1399.6 L456.7 1398.2 L461.1 1396.8 L465.4 1395.4 L469.7 1394.1 L474.1 1392.8 L478.4 1391.6 L482.7 1390.4 L487.1 1389.3 L491.4 1388.2 L495.8 1387.2 L500.2 1386.2 L504.5 1385.3 L508.9 1384.5 L513.2 1383.7 L517.5 1383.0 L522.0 1382.3 L526.7 1381.7 L531.4 1381.1 L535.7 1380.6 L539.4 1380.1 L542.0 1379.8" stroke="#1a94f5" stroke-width="2.4" fill="none" stroke-linejoin="round"/>
<path d="M112.0 1417.6 L114.8 1418.3 L118.8 1419.4 L123.4 1420.6 L128.4 1421.9 L133.5 1423.3 L138.1 1424.7 L142.4 1426.1 L146.8 1427.6 L151.1 1429.2 L155.4 1430.8 L159.8 1432.3 L164.1 1433.9 L168.4 1435.4 L172.8 1436.8 L177.1 1438.3 L181.5 1439.8 L185.8 1441.3 L190.2 1443.0 L194.6 1444.8 L198.9 1446.7 L203.3 1448.6 L207.6 1450.6 L212.0 1452.6 L216.3 1454.7 L220.7 1456.8 L225.2 1459.0 L229.7 1461.3 L234.1 1463.5 L238.3 1465.7 L242.3 1467.7 L246.0 1469.6 L249.6 1471.3 L252.9 1473.0 L256.1 1474.7 L259.1 1476.4 L261.9 1478.2 L264.5 1480.1 L266.8 1481.9 L269.0 1483.8 L271.0 1485.8 L273.0 1487.8 L274.9 1489.9 L276.8 1492.1 L278.7 1494.4 L280.5 1496.8 L282.2 1499.2 L283.8 1501.7 L285.3 1504.2 L286.6 1506.7 L287.8 1509.2 L288.9 1511.7 L290.0 1514.3 L290.9 1517.0 L291.8 1519.9 L292.6 1522.9 L293.4 1525.9 L294.1 1529.0 L294.7 1532.3 L295.3 1535.7 L295.8 1539.4 L296.3 1543.4 L296.6 1547.7 L296.9 1552.1 L297.2 1556.7 L297.5 1561.2 L297.7 1565.5 L297.9 1569.5 L298.1 1573.1 L298.2 1576.7 L298.3 1580.5 L298.4 1584.9 L298.5 1590.0 L298.6 1597.1 L298.6 1606.1 L298.7 1615.7 L298.7 1624.4 L298.8 1630.6 L298.8 1633.0 L298.9 1630.7 L298.9 1624.8 L299.0 1616.5 L299.0 1607.1 L299.1 1597.8 L299.2 1590.0 L299.2 1583.4 L299.2 1576.9 L299.2 1570.6 L299.3 1564.4 L299.4 1558.4 L299.8 1552.5 L300.3 1546.6 L301.0 1540.8 L301.8 1535.1 L302.7 1529.6 L303.8 1524.5 L304.9 1519.9 L306.2 1515.8 L307.7 1512.0 L309.3 1508.6 L310.9 1505.6 L312.5 1502.8 L314.0 1500.3 L315.4 1498.1 L316.7 1496.4 L317.9 1495.0 L319.2 1493.7 L320.6 1492.4 L322.0 1491.0 L323.6 1489.5 L325.2 1488.0 L326.9 1486.5 L328.6 1485.0 L330.3 1483.5 L332.0 1482.1 L333.5 1480.8 L334.8 1479.7 L336.2 1478.6 L337.6 1477.4 L339.3 1476.0 L341.5 1474.3 L344.1 1472.1 L347.0 1469.6 L350.3 1466.9 L353.7 1464.1 L357.3 1461.3 L361.1 1458.6 L365.1 1455.9 L369.3 1453.2 L373.8 1450.5 L378.3 1447.9 L382.8 1445.4 L387.2 1443.0 L391.5 1440.8 L395.9 1438.7 L400.2 1436.7 L404.5 1434.8 L408.9 1433.0 L413.2 1431.3 L417.5 1429.7 L421.9 1428.2 L426.2 1426.8 L430.6 1425.4 L434.9 1424.1 L439.3 1422.8 L443.7 1421.5 L448.0 1420.2 L452.4 1419.0 L456.7 1417.8 L461.1 1416.7 L465.4 1415.6 L469.7 1414.6 L474.1 1413.7 L478.4 1412.8 L482.7 1412.0 L487.1 1411.2 L491.4 1410.4 L495.8 1409.7 L500.2 1409.0 L504.5 1408.3 L508.9 1407.7 L513.2 1407.1 L517.5 1406.5 L522.0 1405.9 L526.7 1405.2 L531.4 1404.6 L535.7 1404.0 L539.4 1403.6 L542.0 1403.2" stroke="#ff0000" stroke-width="2.4" fill="none" stroke-linejoin="round"/>
<line x1="287.8" y1="1616.6" x2="245.5" y2="1616.6" stroke="#1a94f5" stroke-width="2"/>
<path d="M233.5 1616.6 L245.5 1611.6 L245.5 1621.6Z" fill="#1a94f5"/>
<line x1="294.9" y1="1631.4" x2="264.77" y2="1646.21" stroke="#ff0000" stroke-width="2"/>
<path d="M254.0 1651.5 L262.6 1641.7 L267.0 1650.7Z" fill="#ff0000"/>
<rect x="112" y="1327.5" width="430.3" height="346.4" fill="none" stroke="#000" stroke-width="2.5"/>
<line x1="112" y1="1673.9" x2="112" y2="1667.4" stroke="#000" stroke-width="2.5"/>
<line x1="219.57" y1="1673.9" x2="219.57" y2="1667.4" stroke="#000" stroke-width="2.5"/>
<line x1="327.15" y1="1673.9" x2="327.15" y2="1667.4" stroke="#000" stroke-width="2.5"/>
<line x1="434.72" y1="1673.9" x2="434.72" y2="1667.4" stroke="#000" stroke-width="2.5"/>
<line x1="542.3" y1="1673.9" x2="542.3" y2="1667.4" stroke="#000" stroke-width="2.5"/>
<line x1="165.79" y1="1673.9" x2="165.79" y2="1670.6" stroke="#000" stroke-width="2.5"/>
<line x1="273.36" y1="1673.9" x2="273.36" y2="1670.6" stroke="#000" stroke-width="2.5"/>
<line x1="380.94" y1="1673.9" x2="380.94" y2="1670.6" stroke="#000" stroke-width="2.5"/>
<line x1="488.51" y1="1673.9" x2="488.51" y2="1670.6" stroke="#000" stroke-width="2.5"/>
<text x="112" y="1703" text-anchor="middle" stroke="#000" stroke-width="0.35">−0.12</text>
<text x="219.57" y="1703" text-anchor="middle" stroke="#000" stroke-width="0.35">−0.06</text>
<text x="327.15" y="1703" text-anchor="middle" stroke="#000" stroke-width="0.35">0.00</text>
<text x="434.72" y="1703" text-anchor="middle" stroke="#000" stroke-width="0.35">0.06</text>
<text x="542.3" y="1703" text-anchor="middle" stroke="#000" stroke-width="0.35">0.12</text>
<line x1="112" y1="1673.9" x2="118.5" y2="1673.9" stroke="#000" stroke-width="2.5"/>
<line x1="112" y1="1616.17" x2="118.5" y2="1616.17" stroke="#000" stroke-width="2.5"/>
<line x1="112" y1="1558.43" x2="118.5" y2="1558.43" stroke="#000" stroke-width="2.5"/>
<line x1="112" y1="1500.7" x2="118.5" y2="1500.7" stroke="#000" stroke-width="2.5"/>
<line x1="112" y1="1442.97" x2="118.5" y2="1442.97" stroke="#000" stroke-width="2.5"/>
<line x1="112" y1="1385.23" x2="118.5" y2="1385.23" stroke="#000" stroke-width="2.5"/>
<line x1="112" y1="1327.5" x2="118.5" y2="1327.5" stroke="#000" stroke-width="2.5"/>
<line x1="112" y1="1645.03" x2="115.3" y2="1645.03" stroke="#000" stroke-width="2.5"/>
<line x1="112" y1="1587.3" x2="115.3" y2="1587.3" stroke="#000" stroke-width="2.5"/>
<line x1="112" y1="1529.57" x2="115.3" y2="1529.57" stroke="#000" stroke-width="2.5"/>
<line x1="112" y1="1471.83" x2="115.3" y2="1471.83" stroke="#000" stroke-width="2.5"/>
<line x1="112" y1="1414.1" x2="115.3" y2="1414.1" stroke="#000" stroke-width="2.5"/>
<line x1="112" y1="1356.37" x2="115.3" y2="1356.37" stroke="#000" stroke-width="2.5"/>
<text x="102" y="1682.9" text-anchor="end" stroke="#000" stroke-width="0.35">−7</text>
<text x="102" y="1625.17" text-anchor="end" stroke="#000" stroke-width="0.35">−6</text>
<text x="102" y="1567.43" text-anchor="end" stroke="#000" stroke-width="0.35">−5</text>
<text x="102" y="1509.7" text-anchor="end" stroke="#000" stroke-width="0.35">−4</text>
<text x="102" y="1451.97" text-anchor="end" stroke="#000" stroke-width="0.35">−3</text>
<text x="102" y="1394.23" text-anchor="end" stroke="#000" stroke-width="0.35">−2</text>
<text x="102" y="1336.5" text-anchor="end" stroke="#000" stroke-width="0.35">−1</text>
<text x="327" y="1733.5" text-anchor="middle" stroke="#000" stroke-width="0.35">Potential (V vs. Zn<tspan baseline-shift="12" font-size="20.5">2+</tspan>/Zn)</text>
<text transform="translate(58,1500.7) rotate(-90)" text-anchor="middle" stroke="#000" stroke-width="0.35">Log <tspan font-style="italic">J</tspan> (A cm<tspan baseline-shift="12" font-size="20.5">−2</tspan>)</text>
<line x1="115.8" y1="1344.8" x2="182" y2="1344.8" stroke="#ff0000" stroke-width="2.4"/>
<text x="191" y="1354.2" stroke="#000" stroke-width="0.35">Ni–DAPTO/Zn</text>
<line x1="115.8" y1="1380.4" x2="182" y2="1380.4" stroke="#1a94f5" stroke-width="2.4"/>
<text x="191" y="1390.4" stroke="#000" stroke-width="0.35">Bare Zn</text>
<text x="538.7" y="1354.2" text-anchor="end" stroke="#000" stroke-width="0.35">Zn||Zn</text>
<text x="450.8" y="1475.2" text-anchor="middle" stroke="#000" stroke-width="0.35">n = 3</text>
<text x="538" y="1511.4" text-anchor="end" stroke="#000" stroke-width="0.35">RSD = 0.75%</text>
<text x="124.7" y="1545.2" stroke="#000" stroke-width="0.35">Polarization</text>
<text x="124.7" y="1580.9" stroke="#000" stroke-width="0.35">potential</text>
<text x="540" y="1570.7" text-anchor="end" stroke="#000" stroke-width="0.35">Corrosion current</text>
<text x="303.2" y="1608.7" fill="#1a94f5" font-size="28.2" stroke="#1a94f5" stroke-width="0.35"><tspan font-style="italic">i</tspan><tspan baseline-shift="-7.8" font-size="19.2">corr</tspan>: 0.746 mA cm<tspan baseline-shift="12" font-size="18.6">−2</tspan></text>
<text x="303.2" y="1652.5" fill="#ff0000" font-size="28.2" stroke="#ff0000" stroke-width="0.35"><tspan font-style="italic">i</tspan><tspan baseline-shift="-7.8" font-size="19.2">corr</tspan>: 0.266 mA cm<tspan baseline-shift="12" font-size="18.6">−2</tspan></text>
<text x="127.2" y="1627.4" fill="#1a94f5" font-size="29.1" stroke="#1a94f5" stroke-width="0.35">19.7 mV</text>
<text x="141.9" y="1665" fill="#ff0000" font-size="29.1" stroke="#ff0000" stroke-width="0.35">16.2 mV</text>
<text x="620" y="907" font-weight="bold" font-size="33" stroke="#000" stroke-width="0.35">g</text>
<rect x="665" y="892" width="254" height="169.5" fill="#6c6c6c"/>
<clipPath id="cg0"><rect x="665" y="892" width="254" height="169.5"/></clipPath>
<g clip-path="url(#cg0)">
<g filter="url(#bl8)" opacity="0.35"><path d="M685 932 L825 1002 L915 1057 L895 1067 L805 1017 L665 962Z" fill="#a8a8a8"/><path d="M725 912 L865 982 L855 992 L715 927Z" fill="#a0a0a0"/><ellipse cx="885" cy="1042" rx="30" ry="15" fill="#a0a0a0"/></g>
<rect x="665" y="892" width="254" height="169.5" filter="url(#nz)" opacity="0.55"/>
<g transform="rotate(28 792.0 976.75)"><rect x="605" y="812" width="374" height="329.5" filter="url(#blot2)" opacity="0.13"/></g>
</g>
<text x="671.3" y="921.7" fill="#fff" font-size="23.6" stroke="#fff" stroke-width="0.35">Ni–DAPTO/Cu</text>
<text x="671.3" y="950.4" fill="#fff" font-size="23.6" stroke="#fff" stroke-width="0.35">Before Depositing</text>
<text x="912" y="1035.8" text-anchor="end" fill="#fff" font-size="23.6" stroke="#fff" stroke-width="0.35">50 µm</text>
<rect x="852.3" y="1049.8" width="56.5" height="3.8" fill="#fff"/>
<rect x="937" y="892" width="226" height="169.5" fill="#000"/>
<path d="M970 968h1.8v1.8h-1.8zM1110 1010h1.8v1.8h-1.8zM1101 965h1.8v1.8h-1.8zM1116 981h1.8v1.8h-1.8zM955 968h1.8v1.8h-1.8zM948 1048h1.8v1.8h-1.8zM1149 948h1.8v1.8h-1.8zM1006 1021h1.8v1.8h-1.8zM983 922h1.8v1.8h-1.8zM979 950h1.8v1.8h-1.8zM1077 1054h1.8v1.8h-1.8zM984 1052h1.8v1.8h-1.8zM1062 1043h1.8v1.8h-1.8zM1120 919h1.8v1.8h-1.8zM1082 913h1.8v1.8h-1.8zM938 958h1.8v1.8h-1.8zM1110 987h1.8v1.8h-1.8zM980 1033h1.8v1.8h-1.8zM1142 932h1.8v1.8h-1.8zM1037 999h1.8v1.8h-1.8zM1139 913h1.8v1.8h-1.8zM1061 1054h1.8v1.8h-1.8zM1074 1012h1.8v1.8h-1.8zM1111 977h1.8v1.8h-1.8zM1002 991h1.8v1.8h-1.8zM1055 950h1.8v1.8h-1.8zM1129 953h1.8v1.8h-1.8zM1045 1020h1.8v1.8h-1.8zM1119 1041h1.8v1.8h-1.8zM1083 934h1.8v1.8h-1.8zM1127 1044h1.8v1.8h-1.8zM1097 1021h1.8v1.8h-1.8zM1052 975h1.8v1.8h-1.8zM1068 917h1.8v1.8h-1.8zM1089 1036h1.8v1.8h-1.8zM974 1018h1.8v1.8h-1.8zM1095 912h1.8v1.8h-1.8zM948 992h1.8v1.8h-1.8zM986 944h1.8v1.8h-1.8zM1076 1001h1.8v1.8h-1.8zM1105 987h1.8v1.8h-1.8zM1012 894h1.8v1.8h-1.8zM963 924h1.8v1.8h-1.8zM1055 1013h1.8v1.8h-1.8zM984 957h1.8v1.8h-1.8zM1147 959h1.8v1.8h-1.8zM1097 996h1.8v1.8h-1.8zM1085 972h1.8v1.8h-1.8zM1059 1010h1.8v1.8h-1.8zM973 1026h1.8v1.8h-1.8zM1133 900h1.8v1.8h-1.8zM981 934h1.8v1.8h-1.8zM958 915h1.8v1.8h-1.8zM1081 913h1.8v1.8h-1.8zM952 1051h1.8v1.8h-1.8zM1027 983h1.8v1.8h-1.8zM1043 950h1.8v1.8h-1.8zM1039 925h1.8v1.8h-1.8zM1067 934h1.8v1.8h-1.8zM970 927h1.8v1.8h-1.8zM1030 1048h1.8v1.8h-1.8zM1071 1056h1.8v1.8h-1.8zM1027 936h1.8v1.8h-1.8zM1096 924h1.8v1.8h-1.8zM1161 957h1.8v1.8h-1.8zM998 937h1.8v1.8h-1.8zM1005 1049h1.8v1.8h-1.8zM1159 986h1.8v1.8h-1.8zM989 894h1.8v1.8h-1.8zM955 942h1.8v1.8h-1.8zM1081 997h1.8v1.8h-1.8zM1128 1030h1.8v1.8h-1.8zM1016 1005h1.8v1.8h-1.8zM1037 1014h1.8v1.8h-1.8zM978 1056h1.8v1.8h-1.8zM942 996h1.8v1.8h-1.8zM1016 1026h1.8v1.8h-1.8zM969 1041h1.8v1.8h-1.8zM938 1015h1.8v1.8h-1.8zM1095 977h1.8v1.8h-1.8zM976 956h1.8v1.8h-1.8zM1037 928h1.8v1.8h-1.8zM973 1033h1.8v1.8h-1.8zM1060 937h1.8v1.8h-1.8zM1077 998h1.8v1.8h-1.8zM968 990h1.8v1.8h-1.8zM1068 911h1.8v1.8h-1.8zM1004 1037h1.8v1.8h-1.8zM1067 929h1.8v1.8h-1.8zM1025 969h1.8v1.8h-1.8zM1096 1036h1.8v1.8h-1.8zM957 900h1.8v1.8h-1.8zM1036 895h1.8v1.8h-1.8zM972 910h1.8v1.8h-1.8zM957 997h1.8v1.8h-1.8zM958 987h1.8v1.8h-1.8zM1154 916h1.8v1.8h-1.8zM1107 990h1.8v1.8h-1.8zM975 1051h1.8v1.8h-1.8zM1102 956h1.8v1.8h-1.8zM1136 909h1.8v1.8h-1.8zM1124 1033h1.8v1.8h-1.8zM963 1046h1.8v1.8h-1.8zM1113 1045h1.8v1.8h-1.8zM1000 1016h1.8v1.8h-1.8zM1112 950h1.8v1.8h-1.8zM945 894h1.8v1.8h-1.8zM1051 984h1.8v1.8h-1.8zM965 998h1.8v1.8h-1.8zM949 972h1.8v1.8h-1.8zM1051 926h1.8v1.8h-1.8zM948 1043h1.8v1.8h-1.8zM1128 991h1.8v1.8h-1.8zM944 980h1.8v1.8h-1.8zM1153 1021h1.8v1.8h-1.8zM1091 899h1.8v1.8h-1.8zM1067 931h1.8v1.8h-1.8zM1158 894h1.8v1.8h-1.8zM987 1040h1.8v1.8h-1.8zM964 942h1.8v1.8h-1.8zM1006 1040h1.8v1.8h-1.8zM1093 1049h1.8v1.8h-1.8zM980 907h1.8v1.8h-1.8zM1014 1020h1.8v1.8h-1.8zM1076 1049h1.8v1.8h-1.8zM1097 906h1.8v1.8h-1.8zM1008 926h1.8v1.8h-1.8zM997 1004h1.8v1.8h-1.8zM1036 1019h1.8v1.8h-1.8zM941 1044h1.8v1.8h-1.8zM973 1017h1.8v1.8h-1.8zM1126 899h1.8v1.8h-1.8zM1059 1056h1.8v1.8h-1.8zM939 975h1.8v1.8h-1.8zM1032 956h1.8v1.8h-1.8zM981 922h1.8v1.8h-1.8zM997 928h1.8v1.8h-1.8zM1003 1043h1.8v1.8h-1.8zM1150 936h1.8v1.8h-1.8zM943 937h1.8v1.8h-1.8zM1129 922h1.8v1.8h-1.8zM1085 908h1.8v1.8h-1.8zM1016 920h1.8v1.8h-1.8zM1075 954h1.8v1.8h-1.8zM1110 979h1.8v1.8h-1.8zM1028 896h1.8v1.8h-1.8zM1125 899h1.8v1.8h-1.8zM1049 1058h1.8v1.8h-1.8zM1114 952h1.8v1.8h-1.8zM1145 935h1.8v1.8h-1.8zM1067 988h1.8v1.8h-1.8zM1099 940h1.8v1.8h-1.8zM1026 946h1.8v1.8h-1.8zM1143 1016h1.8v1.8h-1.8zM1013 1022h1.8v1.8h-1.8zM1075 933h1.8v1.8h-1.8zM1049 908h1.8v1.8h-1.8zM984 905h1.8v1.8h-1.8zM955 995h1.8v1.8h-1.8zM1123 1032h1.8v1.8h-1.8zM986 1051h1.8v1.8h-1.8zM1012 1008h1.8v1.8h-1.8zM1071 972h1.8v1.8h-1.8zM1092 1041h1.8v1.8h-1.8zM1093 977h1.8v1.8h-1.8zM1130 1017h1.8v1.8h-1.8zM1021 1056h1.8v1.8h-1.8zM1027 899h1.8v1.8h-1.8zM1153 1050h1.8v1.8h-1.8zM1057 1018h1.8v1.8h-1.8zM1093 909h1.8v1.8h-1.8zM1115 997h1.8v1.8h-1.8zM1153 972h1.8v1.8h-1.8zM999 1021h1.8v1.8h-1.8zM1061 1038h1.8v1.8h-1.8zM947 1007h1.8v1.8h-1.8zM1141 923h1.8v1.8h-1.8zM957 974h1.8v1.8h-1.8zM1083 998h1.8v1.8h-1.8zM1056 949h1.8v1.8h-1.8zM1096 1058h1.8v1.8h-1.8zM1051 958h1.8v1.8h-1.8zM1154 922h1.8v1.8h-1.8zM1063 1033h1.8v1.8h-1.8zM1114 1017h1.8v1.8h-1.8zM1090 967h1.8v1.8h-1.8zM1154 892h1.8v1.8h-1.8zM1032 968h1.8v1.8h-1.8zM1098 940h1.8v1.8h-1.8zM981 967h1.8v1.8h-1.8zM1080 981h1.8v1.8h-1.8zM1133 971h1.8v1.8h-1.8zM983 1000h1.8v1.8h-1.8zM1024 896h1.8v1.8h-1.8zM1027 911h1.8v1.8h-1.8zM1080 1043h1.8v1.8h-1.8zM1101 1053h1.8v1.8h-1.8zM969 1032h1.8v1.8h-1.8zM1108 932h1.8v1.8h-1.8zM1043 921h1.8v1.8h-1.8zM1006 980h1.8v1.8h-1.8zM1024 957h1.8v1.8h-1.8zM1096 1006h1.8v1.8h-1.8zM963 988h1.8v1.8h-1.8zM1111 897h1.8v1.8h-1.8zM1104 895h1.8v1.8h-1.8zM1033 956h1.8v1.8h-1.8zM942 904h1.8v1.8h-1.8zM1087 937h1.8v1.8h-1.8zM1053 919h1.8v1.8h-1.8zM1075 1049h1.8v1.8h-1.8zM1106 953h1.8v1.8h-1.8zM1152 951h1.8v1.8h-1.8zM999 963h1.8v1.8h-1.8zM1158 957h1.8v1.8h-1.8zM1002 983h1.8v1.8h-1.8zM1080 1019h1.8v1.8h-1.8zM1096 1005h1.8v1.8h-1.8zM1029 965h1.8v1.8h-1.8zM1157 975h1.8v1.8h-1.8zM1108 952h1.8v1.8h-1.8zM940 958h1.8v1.8h-1.8zM1054 959h1.8v1.8h-1.8zM984 919h1.8v1.8h-1.8zM948 1010h1.8v1.8h-1.8zM1055 1029h1.8v1.8h-1.8zM1131 1018h1.8v1.8h-1.8zM1115 1043h1.8v1.8h-1.8zM1142 1030h1.8v1.8h-1.8zM1138 950h1.8v1.8h-1.8zM1160 1042h1.8v1.8h-1.8zM1119 1034h1.8v1.8h-1.8zM1104 988h1.8v1.8h-1.8zM1053 1048h1.8v1.8h-1.8zM1001 1000h1.8v1.8h-1.8zM1146 937h1.8v1.8h-1.8zM972 944h1.8v1.8h-1.8zM1036 977h1.8v1.8h-1.8zM989 933h1.8v1.8h-1.8zM970 971h1.8v1.8h-1.8zM969 951h1.8v1.8h-1.8zM976 998h1.8v1.8h-1.8zM1076 931h1.8v1.8h-1.8zM1161 940h1.8v1.8h-1.8zM1140 942h1.8v1.8h-1.8zM1063 991h1.8v1.8h-1.8zM1067 949h1.8v1.8h-1.8zM1114 996h1.8v1.8h-1.8zM1063 973h1.8v1.8h-1.8zM1001 960h1.8v1.8h-1.8zM1102 1011h1.8v1.8h-1.8zM1160 1014h1.8v1.8h-1.8zM1159 947h1.8v1.8h-1.8zM999 1059h1.8v1.8h-1.8zM1032 989h1.8v1.8h-1.8zM1132 913h1.8v1.8h-1.8zM964 970h1.8v1.8h-1.8zM982 902h1.8v1.8h-1.8zM1097 984h1.8v1.8h-1.8zM1039 999h1.8v1.8h-1.8zM1005 958h1.8v1.8h-1.8zM1012 1000h1.8v1.8h-1.8zM1040 989h1.8v1.8h-1.8zM1060 987h1.8v1.8h-1.8zM947 1023h1.8v1.8h-1.8zM1141 904h1.8v1.8h-1.8zM1103 988h1.8v1.8h-1.8zM1103 895h1.8v1.8h-1.8zM945 983h1.8v1.8h-1.8zM1061 910h1.8v1.8h-1.8zM1111 908h1.8v1.8h-1.8zM1137 1026h1.8v1.8h-1.8zM1099 1036h1.8v1.8h-1.8zM1002 995h1.8v1.8h-1.8zM942 1018h1.8v1.8h-1.8zM978 900h1.8v1.8h-1.8zM1107 902h1.8v1.8h-1.8zM1081 1053h1.8v1.8h-1.8zM1058 984h1.8v1.8h-1.8zM1107 1017h1.8v1.8h-1.8zM1049 901h1.8v1.8h-1.8zM1158 1014h1.8v1.8h-1.8zM1044 1004h1.8v1.8h-1.8zM993 931h1.8v1.8h-1.8zM946 959h1.8v1.8h-1.8zM1064 909h1.8v1.8h-1.8zM979 957h1.8v1.8h-1.8zM937 1028h1.8v1.8h-1.8zM973 1044h1.8v1.8h-1.8zM1065 944h1.8v1.8h-1.8zM953 998h1.8v1.8h-1.8zM950 948h1.8v1.8h-1.8zM1161 1031h1.8v1.8h-1.8zM1096 990h1.8v1.8h-1.8zM1076 1017h1.8v1.8h-1.8zM1133 908h1.8v1.8h-1.8zM1138 1056h1.8v1.8h-1.8zM1068 948h1.8v1.8h-1.8zM949 950h1.8v1.8h-1.8zM945 1006h1.8v1.8h-1.8z" fill="#13d4f0"/>
<rect x="937" y="1027.5" width="34" height="34" fill="#000"/>
<text x="943" y="1051.5" fill="#13d4f0" font-size="26" stroke="#13d4f0" stroke-width="0.35">Ni</text>
<rect x="1179" y="892" width="225.5" height="169.5" fill="#000"/>
<path d="M1309 925h1.8v1.8h-1.8zM1395 1047h1.8v1.8h-1.8zM1283 1003h1.8v1.8h-1.8zM1227 929h1.8v1.8h-1.8zM1244 1008h1.8v1.8h-1.8zM1227 1055h1.8v1.8h-1.8zM1195 924h1.8v1.8h-1.8zM1199 1021h1.8v1.8h-1.8zM1261 971h1.8v1.8h-1.8zM1252 999h1.8v1.8h-1.8zM1269 927h1.8v1.8h-1.8zM1275 943h1.8v1.8h-1.8zM1204 1030h1.8v1.8h-1.8zM1331 1003h1.8v1.8h-1.8zM1376 958h1.8v1.8h-1.8zM1264 963h1.8v1.8h-1.8zM1269 1004h1.8v1.8h-1.8zM1180 970h1.8v1.8h-1.8zM1299 950h1.8v1.8h-1.8zM1184 1010h1.8v1.8h-1.8zM1181 987h1.8v1.8h-1.8zM1213 898h1.8v1.8h-1.8zM1219 903h1.8v1.8h-1.8zM1213 1007h1.8v1.8h-1.8zM1342 953h1.8v1.8h-1.8zM1325 972h1.8v1.8h-1.8zM1291 1039h1.8v1.8h-1.8zM1249 1038h1.8v1.8h-1.8zM1334 1007h1.8v1.8h-1.8zM1180 906h1.8v1.8h-1.8zM1186 950h1.8v1.8h-1.8zM1391 1039h1.8v1.8h-1.8zM1367 912h1.8v1.8h-1.8zM1337 1022h1.8v1.8h-1.8zM1360 1025h1.8v1.8h-1.8zM1210 922h1.8v1.8h-1.8zM1356 1016h1.8v1.8h-1.8zM1379 967h1.8v1.8h-1.8zM1378 915h1.8v1.8h-1.8zM1393 1040h1.8v1.8h-1.8zM1255 903h1.8v1.8h-1.8zM1302 1008h1.8v1.8h-1.8zM1257 902h1.8v1.8h-1.8zM1241 1030h1.8v1.8h-1.8zM1199 1049h1.8v1.8h-1.8zM1235 926h1.8v1.8h-1.8zM1204 1057h1.8v1.8h-1.8zM1381 946h1.8v1.8h-1.8zM1200 1002h1.8v1.8h-1.8zM1378 894h1.8v1.8h-1.8zM1321 1036h1.8v1.8h-1.8zM1282 987h1.8v1.8h-1.8zM1359 932h1.8v1.8h-1.8zM1240 1003h1.8v1.8h-1.8zM1303 982h1.8v1.8h-1.8zM1254 1049h1.8v1.8h-1.8zM1243 1006h1.8v1.8h-1.8zM1379 959h1.8v1.8h-1.8zM1191 929h1.8v1.8h-1.8zM1194 917h1.8v1.8h-1.8zM1206 949h1.8v1.8h-1.8zM1262 967h1.8v1.8h-1.8zM1328 1005h1.8v1.8h-1.8zM1333 953h1.8v1.8h-1.8zM1327 984h1.8v1.8h-1.8zM1208 984h1.8v1.8h-1.8zM1250 1005h1.8v1.8h-1.8zM1343 932h1.8v1.8h-1.8zM1276 968h1.8v1.8h-1.8zM1245 899h1.8v1.8h-1.8zM1190 1058h1.8v1.8h-1.8zM1345 966h1.8v1.8h-1.8zM1328 937h1.8v1.8h-1.8zM1338 1051h1.8v1.8h-1.8zM1352 970h1.8v1.8h-1.8zM1399 1047h1.8v1.8h-1.8zM1192 961h1.8v1.8h-1.8zM1280 938h1.8v1.8h-1.8zM1317 916h1.8v1.8h-1.8zM1346 1036h1.8v1.8h-1.8zM1193 1008h1.8v1.8h-1.8zM1238 999h1.8v1.8h-1.8zM1334 1056h1.8v1.8h-1.8zM1358 949h1.8v1.8h-1.8zM1342 917h1.8v1.8h-1.8zM1339 962h1.8v1.8h-1.8zM1238 932h1.8v1.8h-1.8zM1227 1026h1.8v1.8h-1.8zM1200 931h1.8v1.8h-1.8zM1222 919h1.8v1.8h-1.8zM1342 990h1.8v1.8h-1.8zM1328 1043h1.8v1.8h-1.8zM1279 898h1.8v1.8h-1.8zM1221 979h1.8v1.8h-1.8zM1339 1046h1.8v1.8h-1.8zM1293 930h1.8v1.8h-1.8zM1312 1049h1.8v1.8h-1.8zM1253 1048h1.8v1.8h-1.8zM1381 989h1.8v1.8h-1.8zM1287 914h1.8v1.8h-1.8zM1204 899h1.8v1.8h-1.8zM1316 1012h1.8v1.8h-1.8zM1401 993h1.8v1.8h-1.8zM1401 960h1.8v1.8h-1.8zM1209 902h1.8v1.8h-1.8zM1243 981h1.8v1.8h-1.8zM1400 942h1.8v1.8h-1.8zM1232 1013h1.8v1.8h-1.8zM1266 986h1.8v1.8h-1.8zM1213 1035h1.8v1.8h-1.8zM1385 1019h1.8v1.8h-1.8zM1388 948h1.8v1.8h-1.8zM1186 943h1.8v1.8h-1.8zM1380 971h1.8v1.8h-1.8zM1224 917h1.8v1.8h-1.8zM1216 966h1.8v1.8h-1.8zM1386 1040h1.8v1.8h-1.8zM1349 1019h1.8v1.8h-1.8zM1222 1022h1.8v1.8h-1.8zM1229 980h1.8v1.8h-1.8zM1186 1042h1.8v1.8h-1.8zM1208 991h1.8v1.8h-1.8zM1327 1000h1.8v1.8h-1.8zM1332 954h1.8v1.8h-1.8zM1356 1049h1.8v1.8h-1.8zM1317 1056h1.8v1.8h-1.8zM1369 901h1.8v1.8h-1.8zM1329 907h1.8v1.8h-1.8zM1327 954h1.8v1.8h-1.8zM1370 899h1.8v1.8h-1.8zM1391 899h1.8v1.8h-1.8zM1192 892h1.8v1.8h-1.8zM1207 1057h1.8v1.8h-1.8zM1366 1046h1.8v1.8h-1.8zM1221 1007h1.8v1.8h-1.8zM1357 1014h1.8v1.8h-1.8zM1239 1055h1.8v1.8h-1.8zM1342 1007h1.8v1.8h-1.8zM1243 959h1.8v1.8h-1.8zM1349 979h1.8v1.8h-1.8zM1288 1046h1.8v1.8h-1.8zM1273 1036h1.8v1.8h-1.8zM1189 981h1.8v1.8h-1.8zM1338 894h1.8v1.8h-1.8zM1335 940h1.8v1.8h-1.8zM1319 997h1.8v1.8h-1.8zM1210 1050h1.8v1.8h-1.8zM1233 915h1.8v1.8h-1.8zM1278 903h1.8v1.8h-1.8zM1202 1020h1.8v1.8h-1.8zM1201 983h1.8v1.8h-1.8zM1377 968h1.8v1.8h-1.8zM1361 1031h1.8v1.8h-1.8zM1216 905h1.8v1.8h-1.8zM1354 1037h1.8v1.8h-1.8zM1370 1012h1.8v1.8h-1.8zM1293 1053h1.8v1.8h-1.8zM1345 1020h1.8v1.8h-1.8zM1383 901h1.8v1.8h-1.8zM1345 990h1.8v1.8h-1.8zM1182 935h1.8v1.8h-1.8zM1339 981h1.8v1.8h-1.8zM1305 940h1.8v1.8h-1.8zM1306 1039h1.8v1.8h-1.8zM1398 985h1.8v1.8h-1.8zM1343 907h1.8v1.8h-1.8zM1210 986h1.8v1.8h-1.8zM1364 912h1.8v1.8h-1.8zM1212 976h1.8v1.8h-1.8zM1247 916h1.8v1.8h-1.8zM1214 963h1.8v1.8h-1.8zM1356 921h1.8v1.8h-1.8zM1359 905h1.8v1.8h-1.8zM1235 1004h1.8v1.8h-1.8zM1181 946h1.8v1.8h-1.8zM1214 931h1.8v1.8h-1.8zM1377 919h1.8v1.8h-1.8zM1340 1045h1.8v1.8h-1.8zM1234 1037h1.8v1.8h-1.8zM1251 1022h1.8v1.8h-1.8zM1309 951h1.8v1.8h-1.8zM1377 1009h1.8v1.8h-1.8zM1250 988h1.8v1.8h-1.8zM1245 940h1.8v1.8h-1.8zM1389 1056h1.8v1.8h-1.8zM1214 1046h1.8v1.8h-1.8zM1339 894h1.8v1.8h-1.8zM1203 965h1.8v1.8h-1.8zM1378 1038h1.8v1.8h-1.8zM1235 967h1.8v1.8h-1.8zM1386 927h1.8v1.8h-1.8zM1202 962h1.8v1.8h-1.8zM1331 1038h1.8v1.8h-1.8zM1375 894h1.8v1.8h-1.8zM1218 914h1.8v1.8h-1.8zM1312 960h1.8v1.8h-1.8zM1385 995h1.8v1.8h-1.8zM1317 1007h1.8v1.8h-1.8zM1225 1042h1.8v1.8h-1.8zM1372 1030h1.8v1.8h-1.8zM1354 921h1.8v1.8h-1.8zM1191 953h1.8v1.8h-1.8zM1339 926h1.8v1.8h-1.8zM1373 1036h1.8v1.8h-1.8zM1335 973h1.8v1.8h-1.8zM1213 1028h1.8v1.8h-1.8zM1218 975h1.8v1.8h-1.8zM1349 999h1.8v1.8h-1.8zM1232 1039h1.8v1.8h-1.8zM1251 962h1.8v1.8h-1.8zM1277 1010h1.8v1.8h-1.8zM1188 999h1.8v1.8h-1.8zM1288 1026h1.8v1.8h-1.8zM1261 988h1.8v1.8h-1.8zM1395 902h1.8v1.8h-1.8zM1356 971h1.8v1.8h-1.8zM1246 938h1.8v1.8h-1.8zM1228 1033h1.8v1.8h-1.8zM1224 1053h1.8v1.8h-1.8zM1295 940h1.8v1.8h-1.8zM1354 989h1.8v1.8h-1.8zM1377 916h1.8v1.8h-1.8zM1334 897h1.8v1.8h-1.8zM1220 962h1.8v1.8h-1.8zM1249 939h1.8v1.8h-1.8zM1306 1017h1.8v1.8h-1.8zM1272 977h1.8v1.8h-1.8zM1354 930h1.8v1.8h-1.8zM1402 896h1.8v1.8h-1.8zM1262 1030h1.8v1.8h-1.8zM1232 947h1.8v1.8h-1.8zM1217 1055h1.8v1.8h-1.8zM1375 906h1.8v1.8h-1.8zM1299 918h1.8v1.8h-1.8zM1183 929h1.8v1.8h-1.8zM1336 981h1.8v1.8h-1.8zM1243 989h1.8v1.8h-1.8zM1197 949h1.8v1.8h-1.8zM1201 1030h1.8v1.8h-1.8zM1265 1012h1.8v1.8h-1.8zM1254 962h1.8v1.8h-1.8zM1308 935h1.8v1.8h-1.8zM1301 1022h1.8v1.8h-1.8zM1196 925h1.8v1.8h-1.8zM1184 974h1.8v1.8h-1.8zM1204 979h1.8v1.8h-1.8zM1215 980h1.8v1.8h-1.8zM1242 1018h1.8v1.8h-1.8zM1361 1053h1.8v1.8h-1.8zM1283 1041h1.8v1.8h-1.8zM1372 948h1.8v1.8h-1.8zM1398 1053h1.8v1.8h-1.8zM1214 1018h1.8v1.8h-1.8zM1333 995h1.8v1.8h-1.8zM1338 939h1.8v1.8h-1.8zM1366 1013h1.8v1.8h-1.8zM1220 1054h1.8v1.8h-1.8zM1343 901h1.8v1.8h-1.8zM1186 920h1.8v1.8h-1.8zM1327 1013h1.8v1.8h-1.8zM1387 1040h1.8v1.8h-1.8zM1225 925h1.8v1.8h-1.8zM1198 957h1.8v1.8h-1.8zM1274 956h1.8v1.8h-1.8zM1363 995h1.8v1.8h-1.8zM1359 1037h1.8v1.8h-1.8zM1350 978h1.8v1.8h-1.8zM1271 982h1.8v1.8h-1.8zM1282 1004h1.8v1.8h-1.8zM1370 1005h1.8v1.8h-1.8zM1236 987h1.8v1.8h-1.8zM1281 913h1.8v1.8h-1.8zM1203 968h1.8v1.8h-1.8zM1389 1010h1.8v1.8h-1.8zM1192 1046h1.8v1.8h-1.8zM1341 993h1.8v1.8h-1.8zM1180 944h1.8v1.8h-1.8zM1254 973h1.8v1.8h-1.8zM1206 998h1.8v1.8h-1.8zM1316 999h1.8v1.8h-1.8zM1290 985h1.8v1.8h-1.8zM1204 1031h1.8v1.8h-1.8zM1373 1035h1.8v1.8h-1.8zM1351 933h1.8v1.8h-1.8zM1245 901h1.8v1.8h-1.8zM1355 1036h1.8v1.8h-1.8zM1389 993h1.8v1.8h-1.8zM1358 1034h1.8v1.8h-1.8zM1206 903h1.8v1.8h-1.8zM1375 1055h1.8v1.8h-1.8zM1339 996h1.8v1.8h-1.8zM1268 1036h1.8v1.8h-1.8zM1243 901h1.8v1.8h-1.8zM1359 902h1.8v1.8h-1.8zM1339 1001h1.8v1.8h-1.8zM1204 965h1.8v1.8h-1.8zM1240 1027h1.8v1.8h-1.8zM1353 947h1.8v1.8h-1.8zM1213 949h1.8v1.8h-1.8zM1277 994h1.8v1.8h-1.8zM1391 946h1.8v1.8h-1.8zM1212 997h1.8v1.8h-1.8zM1274 1016h1.8v1.8h-1.8zM1327 984h1.8v1.8h-1.8zM1362 925h1.8v1.8h-1.8zM1354 923h1.8v1.8h-1.8zM1286 985h1.8v1.8h-1.8zM1301 911h1.8v1.8h-1.8zM1282 939h1.8v1.8h-1.8zM1241 963h1.8v1.8h-1.8zM1272 927h1.8v1.8h-1.8zM1332 1048h1.8v1.8h-1.8zM1391 922h1.8v1.8h-1.8zM1231 960h1.8v1.8h-1.8zM1312 1008h1.8v1.8h-1.8zM1311 975h1.8v1.8h-1.8zM1402 1053h1.8v1.8h-1.8zM1359 934h1.8v1.8h-1.8zM1351 898h1.8v1.8h-1.8zM1391 1010h1.8v1.8h-1.8zM1386 963h1.8v1.8h-1.8zM1338 934h1.8v1.8h-1.8zM1386 922h1.8v1.8h-1.8zM1181 939h1.8v1.8h-1.8zM1328 982h1.8v1.8h-1.8zM1360 1007h1.8v1.8h-1.8zM1354 1050h1.8v1.8h-1.8zM1194 910h1.8v1.8h-1.8zM1244 914h1.8v1.8h-1.8zM1302 1013h1.8v1.8h-1.8zM1220 975h1.8v1.8h-1.8zM1234 895h1.8v1.8h-1.8zM1238 936h1.8v1.8h-1.8zM1333 1054h1.8v1.8h-1.8zM1194 974h1.8v1.8h-1.8zM1283 997h1.8v1.8h-1.8zM1212 1052h1.8v1.8h-1.8zM1241 989h1.8v1.8h-1.8zM1270 986h1.8v1.8h-1.8zM1376 996h1.8v1.8h-1.8zM1255 1052h1.8v1.8h-1.8zM1218 1053h1.8v1.8h-1.8zM1330 933h1.8v1.8h-1.8zM1400 1037h1.8v1.8h-1.8zM1293 1028h1.8v1.8h-1.8zM1200 938h1.8v1.8h-1.8zM1286 1050h1.8v1.8h-1.8zM1262 1058h1.8v1.8h-1.8zM1309 1012h1.8v1.8h-1.8zM1354 914h1.8v1.8h-1.8zM1385 991h1.8v1.8h-1.8zM1206 917h1.8v1.8h-1.8zM1358 986h1.8v1.8h-1.8zM1386 1036h1.8v1.8h-1.8zM1302 962h1.8v1.8h-1.8zM1349 1056h1.8v1.8h-1.8zM1248 979h1.8v1.8h-1.8zM1205 899h1.8v1.8h-1.8zM1193 955h1.8v1.8h-1.8zM1317 1037h1.8v1.8h-1.8zM1347 1054h1.8v1.8h-1.8zM1236 1035h1.8v1.8h-1.8zM1251 955h1.8v1.8h-1.8zM1301 1059h1.8v1.8h-1.8zM1283 902h1.8v1.8h-1.8zM1261 987h1.8v1.8h-1.8zM1332 918h1.8v1.8h-1.8zM1243 920h1.8v1.8h-1.8zM1294 958h1.8v1.8h-1.8zM1250 977h1.8v1.8h-1.8zM1348 995h1.8v1.8h-1.8zM1343 960h1.8v1.8h-1.8zM1386 912h1.8v1.8h-1.8zM1195 908h1.8v1.8h-1.8zM1286 946h1.8v1.8h-1.8zM1223 893h1.8v1.8h-1.8zM1355 902h1.8v1.8h-1.8zM1320 1054h1.8v1.8h-1.8zM1235 991h1.8v1.8h-1.8zM1377 966h1.8v1.8h-1.8zM1385 898h1.8v1.8h-1.8zM1307 1022h1.8v1.8h-1.8zM1289 1031h1.8v1.8h-1.8zM1399 1033h1.8v1.8h-1.8zM1286 1008h1.8v1.8h-1.8zM1374 997h1.8v1.8h-1.8zM1189 927h1.8v1.8h-1.8zM1316 911h1.8v1.8h-1.8zM1215 1055h1.8v1.8h-1.8zM1291 1058h1.8v1.8h-1.8zM1366 1023h1.8v1.8h-1.8zM1273 931h1.8v1.8h-1.8zM1194 929h1.8v1.8h-1.8zM1290 994h1.8v1.8h-1.8zM1213 969h1.8v1.8h-1.8zM1261 1039h1.8v1.8h-1.8zM1246 1032h1.8v1.8h-1.8zM1323 1049h1.8v1.8h-1.8zM1242 938h1.8v1.8h-1.8zM1288 936h1.8v1.8h-1.8zM1314 1052h1.8v1.8h-1.8zM1298 924h1.8v1.8h-1.8zM1191 998h1.8v1.8h-1.8zM1279 894h1.8v1.8h-1.8zM1261 1026h1.8v1.8h-1.8zM1319 948h1.8v1.8h-1.8zM1394 1057h1.8v1.8h-1.8zM1185 930h1.8v1.8h-1.8zM1315 949h1.8v1.8h-1.8zM1227 1027h1.8v1.8h-1.8zM1381 975h1.8v1.8h-1.8zM1395 989h1.8v1.8h-1.8zM1320 978h1.8v1.8h-1.8zM1357 1043h1.8v1.8h-1.8zM1291 972h1.8v1.8h-1.8zM1357 1033h1.8v1.8h-1.8zM1326 919h1.8v1.8h-1.8zM1208 953h1.8v1.8h-1.8zM1189 951h1.8v1.8h-1.8zM1260 913h1.8v1.8h-1.8zM1211 999h1.8v1.8h-1.8zM1378 929h1.8v1.8h-1.8zM1341 961h1.8v1.8h-1.8zM1181 1048h1.8v1.8h-1.8zM1204 973h1.8v1.8h-1.8zM1183 940h1.8v1.8h-1.8zM1258 956h1.8v1.8h-1.8zM1296 1054h1.8v1.8h-1.8zM1316 968h1.8v1.8h-1.8zM1365 968h1.8v1.8h-1.8zM1335 967h1.8v1.8h-1.8zM1346 908h1.8v1.8h-1.8zM1218 1009h1.8v1.8h-1.8zM1345 952h1.8v1.8h-1.8zM1188 995h1.8v1.8h-1.8zM1202 957h1.8v1.8h-1.8zM1360 1026h1.8v1.8h-1.8zM1363 910h1.8v1.8h-1.8zM1343 897h1.8v1.8h-1.8zM1399 1017h1.8v1.8h-1.8zM1352 1036h1.8v1.8h-1.8zM1363 1020h1.8v1.8h-1.8zM1387 903h1.8v1.8h-1.8zM1197 1010h1.8v1.8h-1.8zM1205 1027h1.8v1.8h-1.8zM1272 1018h1.8v1.8h-1.8zM1203 984h1.8v1.8h-1.8zM1340 1016h1.8v1.8h-1.8zM1219 932h1.8v1.8h-1.8zM1369 1024h1.8v1.8h-1.8zM1293 895h1.8v1.8h-1.8zM1340 1019h1.8v1.8h-1.8zM1324 1055h1.8v1.8h-1.8zM1321 1029h1.8v1.8h-1.8zM1234 940h1.8v1.8h-1.8zM1398 1060h1.8v1.8h-1.8zM1203 997h1.8v1.8h-1.8zM1332 994h1.8v1.8h-1.8zM1266 951h1.8v1.8h-1.8zM1385 915h1.8v1.8h-1.8zM1199 1017h1.8v1.8h-1.8zM1182 957h1.8v1.8h-1.8zM1304 1006h1.8v1.8h-1.8zM1236 999h1.8v1.8h-1.8zM1326 1030h1.8v1.8h-1.8zM1284 1048h1.8v1.8h-1.8zM1280 1046h1.8v1.8h-1.8zM1268 1014h1.8v1.8h-1.8zM1244 997h1.8v1.8h-1.8zM1347 902h1.8v1.8h-1.8zM1352 906h1.8v1.8h-1.8zM1356 916h1.8v1.8h-1.8zM1233 945h1.8v1.8h-1.8zM1238 994h1.8v1.8h-1.8zM1257 1030h1.8v1.8h-1.8zM1264 1022h1.8v1.8h-1.8zM1250 981h1.8v1.8h-1.8zM1310 951h1.8v1.8h-1.8zM1355 997h1.8v1.8h-1.8zM1303 1003h1.8v1.8h-1.8zM1230 946h1.8v1.8h-1.8zM1375 1008h1.8v1.8h-1.8zM1283 1059h1.8v1.8h-1.8zM1390 1011h1.8v1.8h-1.8zM1206 958h1.8v1.8h-1.8zM1267 986h1.8v1.8h-1.8zM1245 970h1.8v1.8h-1.8zM1377 911h1.8v1.8h-1.8zM1199 981h1.8v1.8h-1.8zM1183 953h1.8v1.8h-1.8zM1235 1021h1.8v1.8h-1.8zM1220 980h1.8v1.8h-1.8zM1373 1005h1.8v1.8h-1.8zM1267 924h1.8v1.8h-1.8zM1391 1021h1.8v1.8h-1.8zM1333 935h1.8v1.8h-1.8zM1233 1038h1.8v1.8h-1.8zM1365 1032h1.8v1.8h-1.8zM1247 1012h1.8v1.8h-1.8zM1361 1042h1.8v1.8h-1.8zM1339 903h1.8v1.8h-1.8zM1191 939h1.8v1.8h-1.8zM1358 948h1.8v1.8h-1.8zM1190 971h1.8v1.8h-1.8zM1215 961h1.8v1.8h-1.8zM1337 976h1.8v1.8h-1.8zM1300 978h1.8v1.8h-1.8zM1394 1048h1.8v1.8h-1.8zM1293 912h1.8v1.8h-1.8zM1335 916h1.8v1.8h-1.8zM1181 908h1.8v1.8h-1.8zM1277 1036h1.8v1.8h-1.8zM1290 1023h1.8v1.8h-1.8zM1298 1013h1.8v1.8h-1.8zM1295 1015h1.8v1.8h-1.8zM1259 937h1.8v1.8h-1.8zM1357 1024h1.8v1.8h-1.8zM1356 1005h1.8v1.8h-1.8zM1356 988h1.8v1.8h-1.8zM1327 1008h1.8v1.8h-1.8zM1269 898h1.8v1.8h-1.8zM1373 1040h1.8v1.8h-1.8zM1252 964h1.8v1.8h-1.8zM1204 1049h1.8v1.8h-1.8zM1196 965h1.8v1.8h-1.8zM1185 1036h1.8v1.8h-1.8zM1335 1021h1.8v1.8h-1.8zM1308 1007h1.8v1.8h-1.8zM1382 907h1.8v1.8h-1.8zM1239 911h1.8v1.8h-1.8zM1285 904h1.8v1.8h-1.8zM1322 994h1.8v1.8h-1.8zM1340 1031h1.8v1.8h-1.8zM1194 899h1.8v1.8h-1.8zM1279 979h1.8v1.8h-1.8zM1338 948h1.8v1.8h-1.8zM1389 981h1.8v1.8h-1.8zM1288 1006h1.8v1.8h-1.8zM1383 1016h1.8v1.8h-1.8zM1378 923h1.8v1.8h-1.8zM1203 896h1.8v1.8h-1.8zM1313 1014h1.8v1.8h-1.8zM1223 993h1.8v1.8h-1.8zM1226 991h1.8v1.8h-1.8zM1399 1039h1.8v1.8h-1.8zM1241 902h1.8v1.8h-1.8zM1233 982h1.8v1.8h-1.8zM1255 967h1.8v1.8h-1.8zM1294 1045h1.8v1.8h-1.8zM1258 960h1.8v1.8h-1.8zM1251 985h1.8v1.8h-1.8zM1215 978h1.8v1.8h-1.8zM1295 1026h1.8v1.8h-1.8zM1302 1046h1.8v1.8h-1.8zM1254 972h1.8v1.8h-1.8zM1258 892h1.8v1.8h-1.8zM1341 1009h1.8v1.8h-1.8zM1395 901h1.8v1.8h-1.8zM1371 1021h1.8v1.8h-1.8zM1380 916h1.8v1.8h-1.8zM1238 1015h1.8v1.8h-1.8zM1330 909h1.8v1.8h-1.8zM1187 1054h1.8v1.8h-1.8zM1340 955h1.8v1.8h-1.8zM1284 920h1.8v1.8h-1.8zM1244 1053h1.8v1.8h-1.8zM1200 1049h1.8v1.8h-1.8zM1353 954h1.8v1.8h-1.8zM1349 984h1.8v1.8h-1.8zM1322 988h1.8v1.8h-1.8zM1273 1051h1.8v1.8h-1.8zM1350 960h1.8v1.8h-1.8zM1299 939h1.8v1.8h-1.8zM1208 938h1.8v1.8h-1.8zM1370 930h1.8v1.8h-1.8zM1239 898h1.8v1.8h-1.8zM1398 936h1.8v1.8h-1.8zM1221 1012h1.8v1.8h-1.8zM1200 1027h1.8v1.8h-1.8zM1340 899h1.8v1.8h-1.8zM1355 928h1.8v1.8h-1.8zM1200 1018h1.8v1.8h-1.8zM1387 953h1.8v1.8h-1.8zM1244 976h1.8v1.8h-1.8zM1354 1055h1.8v1.8h-1.8zM1331 956h1.8v1.8h-1.8zM1284 1038h1.8v1.8h-1.8zM1239 955h1.8v1.8h-1.8zM1221 1057h1.8v1.8h-1.8zM1355 932h1.8v1.8h-1.8zM1353 1051h1.8v1.8h-1.8zM1247 947h1.8v1.8h-1.8zM1242 1035h1.8v1.8h-1.8zM1280 1035h1.8v1.8h-1.8zM1267 1018h1.8v1.8h-1.8zM1392 973h1.8v1.8h-1.8zM1220 1040h1.8v1.8h-1.8zM1394 960h1.8v1.8h-1.8zM1376 1059h1.8v1.8h-1.8zM1395 1041h1.8v1.8h-1.8zM1281 947h1.8v1.8h-1.8zM1231 935h1.8v1.8h-1.8zM1241 919h1.8v1.8h-1.8zM1179 945h1.8v1.8h-1.8zM1205 1018h1.8v1.8h-1.8zM1270 1057h1.8v1.8h-1.8zM1332 933h1.8v1.8h-1.8zM1333 993h1.8v1.8h-1.8zM1396 1011h1.8v1.8h-1.8zM1240 922h1.8v1.8h-1.8zM1273 947h1.8v1.8h-1.8zM1230 1025h1.8v1.8h-1.8zM1247 979h1.8v1.8h-1.8zM1260 999h1.8v1.8h-1.8zM1218 953h1.8v1.8h-1.8zM1241 989h1.8v1.8h-1.8zM1307 1037h1.8v1.8h-1.8zM1327 893h1.8v1.8h-1.8zM1347 1034h1.8v1.8h-1.8zM1386 930h1.8v1.8h-1.8zM1310 923h1.8v1.8h-1.8zM1319 1014h1.8v1.8h-1.8zM1373 980h1.8v1.8h-1.8zM1305 942h1.8v1.8h-1.8zM1200 963h1.8v1.8h-1.8zM1220 1007h1.8v1.8h-1.8zM1232 956h1.8v1.8h-1.8zM1182 944h1.8v1.8h-1.8zM1368 911h1.8v1.8h-1.8zM1292 1016h1.8v1.8h-1.8zM1390 1000h1.8v1.8h-1.8zM1190 1019h1.8v1.8h-1.8zM1369 1033h1.8v1.8h-1.8zM1356 1012h1.8v1.8h-1.8zM1347 965h1.8v1.8h-1.8zM1192 928h1.8v1.8h-1.8zM1284 977h1.8v1.8h-1.8zM1402 953h1.8v1.8h-1.8zM1276 1019h1.8v1.8h-1.8zM1244 955h1.8v1.8h-1.8zM1218 974h1.8v1.8h-1.8zM1212 995h1.8v1.8h-1.8zM1279 924h1.8v1.8h-1.8zM1238 991h1.8v1.8h-1.8zM1251 1056h1.8v1.8h-1.8zM1395 958h1.8v1.8h-1.8zM1334 934h1.8v1.8h-1.8zM1218 1023h1.8v1.8h-1.8zM1388 933h1.8v1.8h-1.8zM1247 997h1.8v1.8h-1.8zM1213 927h1.8v1.8h-1.8zM1289 965h1.8v1.8h-1.8zM1240 975h1.8v1.8h-1.8zM1241 960h1.8v1.8h-1.8zM1354 991h1.8v1.8h-1.8zM1277 969h1.8v1.8h-1.8zM1395 1054h1.8v1.8h-1.8zM1375 1018h1.8v1.8h-1.8zM1275 979h1.8v1.8h-1.8zM1208 1052h1.8v1.8h-1.8zM1218 904h1.8v1.8h-1.8zM1319 910h1.8v1.8h-1.8zM1346 943h1.8v1.8h-1.8zM1344 984h1.8v1.8h-1.8zM1209 979h1.8v1.8h-1.8zM1328 892h1.8v1.8h-1.8zM1209 955h1.8v1.8h-1.8zM1311 960h1.8v1.8h-1.8zM1269 1004h1.8v1.8h-1.8zM1233 942h1.8v1.8h-1.8zM1284 1049h1.8v1.8h-1.8zM1269 904h1.8v1.8h-1.8zM1230 979h1.8v1.8h-1.8zM1397 1000h1.8v1.8h-1.8zM1298 932h1.8v1.8h-1.8zM1254 1039h1.8v1.8h-1.8zM1399 954h1.8v1.8h-1.8zM1323 1009h1.8v1.8h-1.8zM1342 940h1.8v1.8h-1.8zM1232 954h1.8v1.8h-1.8zM1287 930h1.8v1.8h-1.8zM1187 1046h1.8v1.8h-1.8zM1259 974h1.8v1.8h-1.8zM1244 1050h1.8v1.8h-1.8zM1326 1036h1.8v1.8h-1.8zM1231 1020h1.8v1.8h-1.8zM1277 933h1.8v1.8h-1.8zM1323 909h1.8v1.8h-1.8zM1392 916h1.8v1.8h-1.8zM1359 966h1.8v1.8h-1.8zM1211 1022h1.8v1.8h-1.8zM1197 1030h1.8v1.8h-1.8zM1229 938h1.8v1.8h-1.8zM1186 905h1.8v1.8h-1.8zM1372 1025h1.8v1.8h-1.8zM1279 1031h1.8v1.8h-1.8zM1242 964h1.8v1.8h-1.8zM1269 952h1.8v1.8h-1.8zM1295 973h1.8v1.8h-1.8zM1340 1020h1.8v1.8h-1.8zM1263 964h1.8v1.8h-1.8zM1304 918h1.8v1.8h-1.8zM1195 899h1.8v1.8h-1.8zM1349 918h1.8v1.8h-1.8zM1203 1018h1.8v1.8h-1.8zM1329 966h1.8v1.8h-1.8zM1209 1044h1.8v1.8h-1.8zM1232 913h1.8v1.8h-1.8zM1344 931h1.8v1.8h-1.8zM1396 1042h1.8v1.8h-1.8zM1277 1021h1.8v1.8h-1.8zM1214 1005h1.8v1.8h-1.8zM1251 924h1.8v1.8h-1.8zM1340 1049h1.8v1.8h-1.8zM1301 1024h1.8v1.8h-1.8zM1265 952h1.8v1.8h-1.8zM1337 1004h1.8v1.8h-1.8zM1182 927h1.8v1.8h-1.8zM1331 977h1.8v1.8h-1.8zM1211 952h1.8v1.8h-1.8zM1386 913h1.8v1.8h-1.8zM1180 902h1.8v1.8h-1.8zM1303 1053h1.8v1.8h-1.8zM1394 986h1.8v1.8h-1.8zM1213 911h1.8v1.8h-1.8zM1375 1022h1.8v1.8h-1.8zM1319 1052h1.8v1.8h-1.8zM1301 1015h1.8v1.8h-1.8zM1269 892h1.8v1.8h-1.8zM1381 969h1.8v1.8h-1.8zM1191 1027h1.8v1.8h-1.8zM1208 937h1.8v1.8h-1.8zM1363 1007h1.8v1.8h-1.8zM1388 1038h1.8v1.8h-1.8zM1256 955h1.8v1.8h-1.8zM1214 1026h1.8v1.8h-1.8zM1370 964h1.8v1.8h-1.8zM1359 1059h1.8v1.8h-1.8zM1324 975h1.8v1.8h-1.8zM1330 984h1.8v1.8h-1.8zM1260 976h1.8v1.8h-1.8zM1370 938h1.8v1.8h-1.8zM1199 1053h1.8v1.8h-1.8zM1217 924h1.8v1.8h-1.8zM1244 1054h1.8v1.8h-1.8zM1303 1031h1.8v1.8h-1.8zM1339 1029h1.8v1.8h-1.8zM1183 909h1.8v1.8h-1.8zM1323 1021h1.8v1.8h-1.8zM1354 956h1.8v1.8h-1.8zM1263 1044h1.8v1.8h-1.8zM1354 949h1.8v1.8h-1.8zM1339 905h1.8v1.8h-1.8zM1352 940h1.8v1.8h-1.8zM1211 992h1.8v1.8h-1.8zM1300 990h1.8v1.8h-1.8zM1230 1034h1.8v1.8h-1.8zM1325 896h1.8v1.8h-1.8zM1398 934h1.8v1.8h-1.8zM1198 1004h1.8v1.8h-1.8zM1309 912h1.8v1.8h-1.8zM1227 955h1.8v1.8h-1.8zM1371 921h1.8v1.8h-1.8zM1226 895h1.8v1.8h-1.8zM1258 905h1.8v1.8h-1.8zM1281 968h1.8v1.8h-1.8zM1228 953h1.8v1.8h-1.8zM1302 1010h1.8v1.8h-1.8zM1383 913h1.8v1.8h-1.8zM1379 963h1.8v1.8h-1.8zM1213 947h1.8v1.8h-1.8zM1234 1036h1.8v1.8h-1.8zM1181 928h1.8v1.8h-1.8zM1300 929h1.8v1.8h-1.8zM1372 907h1.8v1.8h-1.8zM1385 1004h1.8v1.8h-1.8zM1371 975h1.8v1.8h-1.8zM1191 1029h1.8v1.8h-1.8zM1265 987h1.8v1.8h-1.8zM1346 914h1.8v1.8h-1.8zM1232 945h1.8v1.8h-1.8zM1216 1037h1.8v1.8h-1.8zM1324 947h1.8v1.8h-1.8zM1346 1020h1.8v1.8h-1.8zM1249 1019h1.8v1.8h-1.8zM1345 1024h1.8v1.8h-1.8zM1361 897h1.8v1.8h-1.8zM1270 963h1.8v1.8h-1.8zM1276 1056h1.8v1.8h-1.8zM1312 1042h1.8v1.8h-1.8zM1269 962h1.8v1.8h-1.8zM1243 1000h1.8v1.8h-1.8zM1362 1012h1.8v1.8h-1.8zM1183 949h1.8v1.8h-1.8zM1181 940h1.8v1.8h-1.8zM1225 929h1.8v1.8h-1.8zM1211 925h1.8v1.8h-1.8zM1390 901h1.8v1.8h-1.8zM1356 1032h1.8v1.8h-1.8zM1357 915h1.8v1.8h-1.8zM1377 1056h1.8v1.8h-1.8zM1359 1048h1.8v1.8h-1.8zM1249 1025h1.8v1.8h-1.8zM1278 895h1.8v1.8h-1.8zM1303 911h1.8v1.8h-1.8zM1376 1014h1.8v1.8h-1.8zM1296 1036h1.8v1.8h-1.8zM1386 938h1.8v1.8h-1.8zM1308 1022h1.8v1.8h-1.8zM1189 930h1.8v1.8h-1.8zM1394 968h1.8v1.8h-1.8zM1386 978h1.8v1.8h-1.8zM1381 1045h1.8v1.8h-1.8zM1340 1032h1.8v1.8h-1.8zM1373 984h1.8v1.8h-1.8zM1250 1020h1.8v1.8h-1.8zM1383 1033h1.8v1.8h-1.8zM1314 943h1.8v1.8h-1.8zM1345 915h1.8v1.8h-1.8zM1212 1012h1.8v1.8h-1.8zM1239 1022h1.8v1.8h-1.8zM1343 943h1.8v1.8h-1.8zM1399 930h1.8v1.8h-1.8zM1277 1010h1.8v1.8h-1.8zM1188 970h1.8v1.8h-1.8zM1305 1045h1.8v1.8h-1.8zM1383 924h1.8v1.8h-1.8zM1234 948h1.8v1.8h-1.8zM1231 902h1.8v1.8h-1.8zM1315 1010h1.8v1.8h-1.8zM1188 1045h1.8v1.8h-1.8zM1321 1007h1.8v1.8h-1.8zM1268 1037h1.8v1.8h-1.8zM1357 959h1.8v1.8h-1.8zM1302 1041h1.8v1.8h-1.8zM1315 903h1.8v1.8h-1.8zM1186 1035h1.8v1.8h-1.8zM1337 971h1.8v1.8h-1.8zM1306 969h1.8v1.8h-1.8zM1193 1005h1.8v1.8h-1.8zM1192 931h1.8v1.8h-1.8zM1285 960h1.8v1.8h-1.8zM1321 1028h1.8v1.8h-1.8zM1279 979h1.8v1.8h-1.8zM1307 1007h1.8v1.8h-1.8zM1230 949h1.8v1.8h-1.8zM1369 952h1.8v1.8h-1.8zM1298 1036h1.8v1.8h-1.8zM1308 1045h1.8v1.8h-1.8zM1285 943h1.8v1.8h-1.8zM1288 965h1.8v1.8h-1.8zM1312 1047h1.8v1.8h-1.8zM1369 964h1.8v1.8h-1.8zM1250 906h1.8v1.8h-1.8zM1196 1029h1.8v1.8h-1.8zM1285 1006h1.8v1.8h-1.8zM1399 987h1.8v1.8h-1.8zM1371 968h1.8v1.8h-1.8zM1225 1017h1.8v1.8h-1.8zM1272 919h1.8v1.8h-1.8zM1366 1045h1.8v1.8h-1.8zM1231 1010h1.8v1.8h-1.8zM1341 958h1.8v1.8h-1.8zM1272 1044h1.8v1.8h-1.8zM1190 937h1.8v1.8h-1.8zM1298 929h1.8v1.8h-1.8zM1361 1054h1.8v1.8h-1.8zM1270 971h1.8v1.8h-1.8zM1396 999h1.8v1.8h-1.8zM1321 965h1.8v1.8h-1.8zM1321 962h1.8v1.8h-1.8zM1349 911h1.8v1.8h-1.8zM1381 993h1.8v1.8h-1.8zM1390 975h1.8v1.8h-1.8zM1351 957h1.8v1.8h-1.8zM1396 919h1.8v1.8h-1.8zM1237 1050h1.8v1.8h-1.8zM1212 916h1.8v1.8h-1.8zM1359 1035h1.8v1.8h-1.8zM1336 933h1.8v1.8h-1.8zM1233 1008h1.8v1.8h-1.8zM1382 914h1.8v1.8h-1.8zM1275 898h1.8v1.8h-1.8zM1396 904h1.8v1.8h-1.8zM1367 1005h1.8v1.8h-1.8zM1223 966h1.8v1.8h-1.8zM1354 965h1.8v1.8h-1.8zM1186 1026h1.8v1.8h-1.8zM1264 906h1.8v1.8h-1.8zM1182 982h1.8v1.8h-1.8zM1315 942h1.8v1.8h-1.8zM1358 1002h1.8v1.8h-1.8zM1318 949h1.8v1.8h-1.8zM1391 1037h1.8v1.8h-1.8zM1291 939h1.8v1.8h-1.8zM1352 1008h1.8v1.8h-1.8zM1218 1027h1.8v1.8h-1.8zM1200 992h1.8v1.8h-1.8zM1269 1040h1.8v1.8h-1.8zM1332 1036h1.8v1.8h-1.8zM1356 961h1.8v1.8h-1.8zM1309 921h1.8v1.8h-1.8zM1298 930h1.8v1.8h-1.8zM1341 912h1.8v1.8h-1.8zM1199 1035h1.8v1.8h-1.8zM1244 906h1.8v1.8h-1.8zM1196 1015h1.8v1.8h-1.8zM1389 957h1.8v1.8h-1.8zM1334 1044h1.8v1.8h-1.8zM1203 987h1.8v1.8h-1.8zM1377 1031h1.8v1.8h-1.8zM1233 960h1.8v1.8h-1.8zM1237 994h1.8v1.8h-1.8zM1247 1047h1.8v1.8h-1.8zM1344 896h1.8v1.8h-1.8zM1310 998h1.8v1.8h-1.8zM1336 967h1.8v1.8h-1.8zM1373 962h1.8v1.8h-1.8zM1260 895h1.8v1.8h-1.8zM1181 977h1.8v1.8h-1.8zM1315 985h1.8v1.8h-1.8zM1377 909h1.8v1.8h-1.8zM1265 955h1.8v1.8h-1.8zM1378 986h1.8v1.8h-1.8zM1199 1006h1.8v1.8h-1.8zM1229 911h1.8v1.8h-1.8zM1398 934h1.8v1.8h-1.8zM1207 1033h1.8v1.8h-1.8zM1258 972h1.8v1.8h-1.8zM1354 1016h1.8v1.8h-1.8zM1388 1048h1.8v1.8h-1.8zM1374 930h1.8v1.8h-1.8zM1335 903h1.8v1.8h-1.8zM1230 955h1.8v1.8h-1.8zM1350 895h1.8v1.8h-1.8zM1221 1037h1.8v1.8h-1.8zM1188 1009h1.8v1.8h-1.8zM1214 1040h1.8v1.8h-1.8zM1302 1026h1.8v1.8h-1.8zM1219 989h1.8v1.8h-1.8zM1384 942h1.8v1.8h-1.8zM1347 1041h1.8v1.8h-1.8zM1209 1054h1.8v1.8h-1.8zM1318 925h1.8v1.8h-1.8zM1371 949h1.8v1.8h-1.8zM1400 975h1.8v1.8h-1.8zM1244 948h1.8v1.8h-1.8zM1276 1007h1.8v1.8h-1.8zM1398 952h1.8v1.8h-1.8zM1235 945h1.8v1.8h-1.8zM1364 925h1.8v1.8h-1.8zM1277 901h1.8v1.8h-1.8zM1333 1002h1.8v1.8h-1.8zM1336 919h1.8v1.8h-1.8zM1272 920h1.8v1.8h-1.8zM1392 1002h1.8v1.8h-1.8zM1366 1043h1.8v1.8h-1.8zM1183 1028h1.8v1.8h-1.8zM1247 900h1.8v1.8h-1.8zM1345 1049h1.8v1.8h-1.8zM1203 1042h1.8v1.8h-1.8zM1379 911h1.8v1.8h-1.8zM1248 982h1.8v1.8h-1.8zM1319 931h1.8v1.8h-1.8zM1252 892h1.8v1.8h-1.8zM1340 935h1.8v1.8h-1.8zM1248 1023h1.8v1.8h-1.8zM1266 909h1.8v1.8h-1.8zM1209 957h1.8v1.8h-1.8zM1269 1002h1.8v1.8h-1.8zM1279 895h1.8v1.8h-1.8zM1258 1024h1.8v1.8h-1.8zM1372 979h1.8v1.8h-1.8zM1372 900h1.8v1.8h-1.8zM1227 1008h1.8v1.8h-1.8zM1355 934h1.8v1.8h-1.8zM1204 936h1.8v1.8h-1.8zM1185 939h1.8v1.8h-1.8zM1299 927h1.8v1.8h-1.8zM1272 975h1.8v1.8h-1.8zM1312 897h1.8v1.8h-1.8zM1231 1007h1.8v1.8h-1.8zM1327 994h1.8v1.8h-1.8zM1218 921h1.8v1.8h-1.8zM1201 939h1.8v1.8h-1.8zM1396 900h1.8v1.8h-1.8zM1239 1014h1.8v1.8h-1.8zM1263 930h1.8v1.8h-1.8zM1229 954h1.8v1.8h-1.8zM1353 999h1.8v1.8h-1.8zM1387 1029h1.8v1.8h-1.8zM1377 893h1.8v1.8h-1.8zM1362 1046h1.8v1.8h-1.8zM1234 908h1.8v1.8h-1.8zM1269 923h1.8v1.8h-1.8zM1200 1048h1.8v1.8h-1.8zM1381 911h1.8v1.8h-1.8zM1244 990h1.8v1.8h-1.8zM1242 981h1.8v1.8h-1.8zM1327 907h1.8v1.8h-1.8zM1187 948h1.8v1.8h-1.8zM1383 901h1.8v1.8h-1.8zM1388 1026h1.8v1.8h-1.8zM1307 893h1.8v1.8h-1.8zM1261 936h1.8v1.8h-1.8zM1270 913h1.8v1.8h-1.8zM1320 947h1.8v1.8h-1.8zM1243 951h1.8v1.8h-1.8zM1374 966h1.8v1.8h-1.8zM1342 931h1.8v1.8h-1.8zM1184 1022h1.8v1.8h-1.8zM1328 976h1.8v1.8h-1.8zM1387 956h1.8v1.8h-1.8zM1303 1024h1.8v1.8h-1.8zM1306 1027h1.8v1.8h-1.8zM1256 1016h1.8v1.8h-1.8zM1281 1031h1.8v1.8h-1.8zM1295 926h1.8v1.8h-1.8zM1372 1047h1.8v1.8h-1.8zM1335 935h1.8v1.8h-1.8zM1240 907h1.8v1.8h-1.8zM1302 959h1.8v1.8h-1.8zM1190 982h1.8v1.8h-1.8zM1248 994h1.8v1.8h-1.8zM1316 1002h1.8v1.8h-1.8zM1303 965h1.8v1.8h-1.8zM1379 956h1.8v1.8h-1.8zM1278 1040h1.8v1.8h-1.8zM1193 935h1.8v1.8h-1.8zM1317 923h1.8v1.8h-1.8zM1388 1033h1.8v1.8h-1.8zM1336 1012h1.8v1.8h-1.8zM1307 906h1.8v1.8h-1.8zM1326 955h1.8v1.8h-1.8zM1241 925h1.8v1.8h-1.8zM1243 1027h1.8v1.8h-1.8zM1182 986h1.8v1.8h-1.8zM1244 965h1.8v1.8h-1.8zM1325 1053h1.8v1.8h-1.8zM1293 925h1.8v1.8h-1.8zM1249 1040h1.8v1.8h-1.8zM1341 994h1.8v1.8h-1.8zM1201 894h1.8v1.8h-1.8zM1289 946h1.8v1.8h-1.8zM1246 1027h1.8v1.8h-1.8zM1331 1006h1.8v1.8h-1.8zM1267 1030h1.8v1.8h-1.8zM1246 1024h1.8v1.8h-1.8zM1209 1057h1.8v1.8h-1.8zM1245 1026h1.8v1.8h-1.8zM1388 935h1.8v1.8h-1.8zM1325 982h1.8v1.8h-1.8zM1246 1020h1.8v1.8h-1.8zM1280 1047h1.8v1.8h-1.8zM1339 993h1.8v1.8h-1.8zM1316 998h1.8v1.8h-1.8zM1205 1015h1.8v1.8h-1.8zM1376 938h1.8v1.8h-1.8zM1309 975h1.8v1.8h-1.8zM1226 1048h1.8v1.8h-1.8zM1384 1016h1.8v1.8h-1.8zM1254 1045h1.8v1.8h-1.8zM1237 960h1.8v1.8h-1.8zM1333 911h1.8v1.8h-1.8zM1357 1018h1.8v1.8h-1.8zM1309 1045h1.8v1.8h-1.8zM1372 943h1.8v1.8h-1.8zM1254 956h1.8v1.8h-1.8zM1369 963h1.8v1.8h-1.8zM1340 903h1.8v1.8h-1.8zM1306 892h1.8v1.8h-1.8zM1249 1016h1.8v1.8h-1.8zM1377 977h1.8v1.8h-1.8zM1329 934h1.8v1.8h-1.8zM1320 922h1.8v1.8h-1.8zM1191 1045h1.8v1.8h-1.8zM1369 968h1.8v1.8h-1.8zM1255 1057h1.8v1.8h-1.8zM1256 922h1.8v1.8h-1.8zM1288 926h1.8v1.8h-1.8zM1236 1005h1.8v1.8h-1.8zM1345 913h1.8v1.8h-1.8zM1268 1013h1.8v1.8h-1.8zM1389 910h1.8v1.8h-1.8zM1383 914h1.8v1.8h-1.8zM1345 949h1.8v1.8h-1.8zM1291 1037h1.8v1.8h-1.8zM1210 894h1.8v1.8h-1.8zM1279 932h1.8v1.8h-1.8zM1354 1013h1.8v1.8h-1.8zM1214 906h1.8v1.8h-1.8zM1364 921h1.8v1.8h-1.8zM1240 1018h1.8v1.8h-1.8zM1285 977h1.8v1.8h-1.8zM1231 947h1.8v1.8h-1.8zM1322 1040h1.8v1.8h-1.8zM1374 1023h1.8v1.8h-1.8zM1182 982h1.8v1.8h-1.8zM1398 1044h1.8v1.8h-1.8zM1232 939h1.8v1.8h-1.8zM1223 1016h1.8v1.8h-1.8zM1206 958h1.8v1.8h-1.8zM1263 998h1.8v1.8h-1.8zM1299 1058h1.8v1.8h-1.8zM1399 1039h1.8v1.8h-1.8zM1378 1028h1.8v1.8h-1.8zM1375 956h1.8v1.8h-1.8zM1244 1041h1.8v1.8h-1.8zM1217 951h1.8v1.8h-1.8zM1207 944h1.8v1.8h-1.8zM1398 902h1.8v1.8h-1.8zM1332 1011h1.8v1.8h-1.8zM1340 993h1.8v1.8h-1.8zM1374 904h1.8v1.8h-1.8zM1315 957h1.8v1.8h-1.8zM1257 936h1.8v1.8h-1.8zM1318 1053h1.8v1.8h-1.8zM1358 979h1.8v1.8h-1.8zM1278 927h1.8v1.8h-1.8zM1240 943h1.8v1.8h-1.8zM1322 984h1.8v1.8h-1.8zM1311 993h1.8v1.8h-1.8zM1197 946h1.8v1.8h-1.8zM1329 971h1.8v1.8h-1.8zM1210 922h1.8v1.8h-1.8zM1297 1026h1.8v1.8h-1.8zM1363 961h1.8v1.8h-1.8zM1368 967h1.8v1.8h-1.8zM1264 1031h1.8v1.8h-1.8zM1282 946h1.8v1.8h-1.8zM1214 949h1.8v1.8h-1.8zM1270 972h1.8v1.8h-1.8zM1250 997h1.8v1.8h-1.8zM1264 1044h1.8v1.8h-1.8zM1338 1034h1.8v1.8h-1.8zM1297 956h1.8v1.8h-1.8zM1384 996h1.8v1.8h-1.8zM1357 987h1.8v1.8h-1.8zM1261 1007h1.8v1.8h-1.8zM1371 983h1.8v1.8h-1.8zM1244 1014h1.8v1.8h-1.8zM1325 1025h1.8v1.8h-1.8zM1201 939h1.8v1.8h-1.8zM1214 953h1.8v1.8h-1.8zM1251 985h1.8v1.8h-1.8zM1209 1020h1.8v1.8h-1.8zM1189 1043h1.8v1.8h-1.8zM1315 1015h1.8v1.8h-1.8zM1208 906h1.8v1.8h-1.8zM1309 897h1.8v1.8h-1.8zM1236 988h1.8v1.8h-1.8zM1397 903h1.8v1.8h-1.8zM1368 1048h1.8v1.8h-1.8zM1287 1015h1.8v1.8h-1.8zM1278 926h1.8v1.8h-1.8zM1331 916h1.8v1.8h-1.8zM1222 1008h1.8v1.8h-1.8zM1250 949h1.8v1.8h-1.8zM1293 985h1.8v1.8h-1.8zM1247 965h1.8v1.8h-1.8zM1319 913h1.8v1.8h-1.8zM1227 1047h1.8v1.8h-1.8zM1297 982h1.8v1.8h-1.8zM1179 1020h1.8v1.8h-1.8zM1210 1025h1.8v1.8h-1.8zM1262 1006h1.8v1.8h-1.8zM1275 901h1.8v1.8h-1.8zM1396 1030h1.8v1.8h-1.8zM1273 988h1.8v1.8h-1.8zM1180 991h1.8v1.8h-1.8zM1180 903h1.8v1.8h-1.8zM1321 917h1.8v1.8h-1.8zM1316 935h1.8v1.8h-1.8zM1386 920h1.8v1.8h-1.8zM1401 965h1.8v1.8h-1.8zM1343 1040h1.8v1.8h-1.8zM1213 1017h1.8v1.8h-1.8zM1216 1002h1.8v1.8h-1.8zM1366 976h1.8v1.8h-1.8zM1272 929h1.8v1.8h-1.8zM1325 1010h1.8v1.8h-1.8zM1253 1026h1.8v1.8h-1.8zM1365 978h1.8v1.8h-1.8zM1330 961h1.8v1.8h-1.8zM1387 1021h1.8v1.8h-1.8zM1207 983h1.8v1.8h-1.8zM1185 954h1.8v1.8h-1.8zM1314 907h1.8v1.8h-1.8zM1294 977h1.8v1.8h-1.8zM1371 918h1.8v1.8h-1.8zM1248 1035h1.8v1.8h-1.8zM1251 1042h1.8v1.8h-1.8zM1297 1021h1.8v1.8h-1.8zM1233 934h1.8v1.8h-1.8zM1206 930h1.8v1.8h-1.8zM1300 1020h1.8v1.8h-1.8zM1268 1053h1.8v1.8h-1.8zM1208 963h1.8v1.8h-1.8zM1261 1010h1.8v1.8h-1.8zM1276 1035h1.8v1.8h-1.8zM1209 909h1.8v1.8h-1.8zM1329 944h1.8v1.8h-1.8zM1267 936h1.8v1.8h-1.8zM1310 895h1.8v1.8h-1.8zM1282 1006h1.8v1.8h-1.8zM1206 918h1.8v1.8h-1.8zM1183 991h1.8v1.8h-1.8zM1349 921h1.8v1.8h-1.8zM1196 1014h1.8v1.8h-1.8zM1295 1018h1.8v1.8h-1.8zM1267 959h1.8v1.8h-1.8zM1222 1050h1.8v1.8h-1.8zM1187 981h1.8v1.8h-1.8zM1180 924h1.8v1.8h-1.8zM1369 979h1.8v1.8h-1.8zM1199 980h1.8v1.8h-1.8zM1294 1017h1.8v1.8h-1.8zM1278 994h1.8v1.8h-1.8zM1346 992h1.8v1.8h-1.8zM1205 962h1.8v1.8h-1.8zM1349 935h1.8v1.8h-1.8zM1317 941h1.8v1.8h-1.8zM1354 1011h1.8v1.8h-1.8zM1292 970h1.8v1.8h-1.8zM1183 941h1.8v1.8h-1.8zM1350 1038h1.8v1.8h-1.8zM1211 1039h1.8v1.8h-1.8zM1392 1006h1.8v1.8h-1.8zM1398 1044h1.8v1.8h-1.8zM1239 968h1.8v1.8h-1.8zM1384 1015h1.8v1.8h-1.8zM1394 933h1.8v1.8h-1.8zM1191 977h1.8v1.8h-1.8zM1288 1057h1.8v1.8h-1.8zM1322 991h1.8v1.8h-1.8zM1214 931h1.8v1.8h-1.8zM1365 941h1.8v1.8h-1.8zM1399 1032h1.8v1.8h-1.8zM1260 974h1.8v1.8h-1.8zM1306 975h1.8v1.8h-1.8zM1293 1055h1.8v1.8h-1.8zM1347 990h1.8v1.8h-1.8zM1189 1059h1.8v1.8h-1.8zM1331 1053h1.8v1.8h-1.8zM1356 1019h1.8v1.8h-1.8zM1343 924h1.8v1.8h-1.8zM1301 1014h1.8v1.8h-1.8zM1201 998h1.8v1.8h-1.8zM1270 892h1.8v1.8h-1.8zM1340 958h1.8v1.8h-1.8zM1361 1041h1.8v1.8h-1.8zM1206 906h1.8v1.8h-1.8zM1268 1025h1.8v1.8h-1.8zM1344 1045h1.8v1.8h-1.8zM1213 1038h1.8v1.8h-1.8zM1341 942h1.8v1.8h-1.8zM1341 901h1.8v1.8h-1.8zM1362 966h1.8v1.8h-1.8zM1186 893h1.8v1.8h-1.8zM1346 1037h1.8v1.8h-1.8zM1260 954h1.8v1.8h-1.8zM1297 959h1.8v1.8h-1.8zM1330 909h1.8v1.8h-1.8zM1365 1006h1.8v1.8h-1.8zM1369 1023h1.8v1.8h-1.8zM1319 970h1.8v1.8h-1.8zM1380 900h1.8v1.8h-1.8zM1372 929h1.8v1.8h-1.8zM1341 951h1.8v1.8h-1.8zM1274 969h1.8v1.8h-1.8zM1239 895h1.8v1.8h-1.8zM1219 1008h1.8v1.8h-1.8zM1259 971h1.8v1.8h-1.8zM1268 1003h1.8v1.8h-1.8zM1327 909h1.8v1.8h-1.8zM1263 1019h1.8v1.8h-1.8zM1263 942h1.8v1.8h-1.8zM1198 900h1.8v1.8h-1.8zM1325 892h1.8v1.8h-1.8zM1332 943h1.8v1.8h-1.8zM1221 970h1.8v1.8h-1.8zM1221 908h1.8v1.8h-1.8zM1196 1049h1.8v1.8h-1.8zM1277 1024h1.8v1.8h-1.8zM1277 1032h1.8v1.8h-1.8zM1276 947h1.8v1.8h-1.8zM1266 1059h1.8v1.8h-1.8zM1399 896h1.8v1.8h-1.8zM1356 962h1.8v1.8h-1.8zM1215 989h1.8v1.8h-1.8zM1283 1043h1.8v1.8h-1.8zM1276 968h1.8v1.8h-1.8zM1370 1013h1.8v1.8h-1.8zM1219 909h1.8v1.8h-1.8zM1237 903h1.8v1.8h-1.8zM1321 913h1.8v1.8h-1.8zM1185 1005h1.8v1.8h-1.8zM1274 1016h1.8v1.8h-1.8zM1356 1004h1.8v1.8h-1.8zM1235 903h1.8v1.8h-1.8zM1294 975h1.8v1.8h-1.8zM1388 1025h1.8v1.8h-1.8zM1206 937h1.8v1.8h-1.8zM1241 1029h1.8v1.8h-1.8zM1206 967h1.8v1.8h-1.8zM1365 1046h1.8v1.8h-1.8zM1402 1054h1.8v1.8h-1.8zM1277 929h1.8v1.8h-1.8zM1374 906h1.8v1.8h-1.8zM1322 968h1.8v1.8h-1.8zM1354 1051h1.8v1.8h-1.8zM1266 950h1.8v1.8h-1.8zM1336 951h1.8v1.8h-1.8zM1380 898h1.8v1.8h-1.8zM1293 942h1.8v1.8h-1.8zM1317 948h1.8v1.8h-1.8zM1316 931h1.8v1.8h-1.8zM1309 956h1.8v1.8h-1.8zM1253 969h1.8v1.8h-1.8zM1195 937h1.8v1.8h-1.8zM1349 1039h1.8v1.8h-1.8zM1338 948h1.8v1.8h-1.8zM1386 962h1.8v1.8h-1.8zM1392 949h1.8v1.8h-1.8zM1337 1057h1.8v1.8h-1.8zM1367 946h1.8v1.8h-1.8zM1230 956h1.8v1.8h-1.8zM1209 940h1.8v1.8h-1.8zM1237 1017h1.8v1.8h-1.8zM1385 905h1.8v1.8h-1.8zM1335 1010h1.8v1.8h-1.8zM1265 1038h1.8v1.8h-1.8zM1262 1029h1.8v1.8h-1.8zM1380 893h1.8v1.8h-1.8zM1304 973h1.8v1.8h-1.8zM1315 937h1.8v1.8h-1.8zM1373 925h1.8v1.8h-1.8zM1294 973h1.8v1.8h-1.8zM1277 931h1.8v1.8h-1.8zM1200 906h1.8v1.8h-1.8zM1293 1025h1.8v1.8h-1.8zM1198 1027h1.8v1.8h-1.8zM1321 1009h1.8v1.8h-1.8zM1208 1024h1.8v1.8h-1.8zM1200 1027h1.8v1.8h-1.8zM1214 968h1.8v1.8h-1.8zM1353 896h1.8v1.8h-1.8zM1337 915h1.8v1.8h-1.8zM1252 916h1.8v1.8h-1.8zM1290 895h1.8v1.8h-1.8zM1185 912h1.8v1.8h-1.8zM1269 1009h1.8v1.8h-1.8zM1341 913h1.8v1.8h-1.8zM1395 961h1.8v1.8h-1.8zM1364 1043h1.8v1.8h-1.8zM1348 977h1.8v1.8h-1.8zM1276 1001h1.8v1.8h-1.8zM1226 1017h1.8v1.8h-1.8zM1363 1014h1.8v1.8h-1.8zM1274 1004h1.8v1.8h-1.8zM1230 1023h1.8v1.8h-1.8zM1211 988h1.8v1.8h-1.8zM1305 949h1.8v1.8h-1.8zM1346 1051h1.8v1.8h-1.8zM1335 971h1.8v1.8h-1.8zM1346 1046h1.8v1.8h-1.8zM1183 999h1.8v1.8h-1.8zM1387 1050h1.8v1.8h-1.8zM1235 1009h1.8v1.8h-1.8zM1204 939h1.8v1.8h-1.8zM1340 917h1.8v1.8h-1.8zM1208 950h1.8v1.8h-1.8zM1214 912h1.8v1.8h-1.8zM1318 895h1.8v1.8h-1.8zM1373 920h1.8v1.8h-1.8zM1313 923h1.8v1.8h-1.8zM1249 912h1.8v1.8h-1.8zM1280 1031h1.8v1.8h-1.8zM1369 1046h1.8v1.8h-1.8zM1230 1024h1.8v1.8h-1.8zM1244 980h1.8v1.8h-1.8zM1258 934h1.8v1.8h-1.8zM1257 1002h1.8v1.8h-1.8zM1337 898h1.8v1.8h-1.8zM1197 993h1.8v1.8h-1.8zM1221 1042h1.8v1.8h-1.8zM1321 1030h1.8v1.8h-1.8zM1192 920h1.8v1.8h-1.8zM1184 1040h1.8v1.8h-1.8zM1400 958h1.8v1.8h-1.8zM1376 1058h1.8v1.8h-1.8zM1279 1025h1.8v1.8h-1.8zM1354 1003h1.8v1.8h-1.8zM1228 946h1.8v1.8h-1.8zM1394 947h1.8v1.8h-1.8zM1266 969h1.8v1.8h-1.8zM1267 1016h1.8v1.8h-1.8zM1259 986h1.8v1.8h-1.8zM1219 987h1.8v1.8h-1.8zM1285 971h1.8v1.8h-1.8zM1336 967h1.8v1.8h-1.8zM1207 1032h1.8v1.8h-1.8zM1228 1011h1.8v1.8h-1.8zM1350 956h1.8v1.8h-1.8zM1261 1023h1.8v1.8h-1.8zM1336 948h1.8v1.8h-1.8zM1337 1018h1.8v1.8h-1.8zM1342 918h1.8v1.8h-1.8zM1273 948h1.8v1.8h-1.8zM1321 997h1.8v1.8h-1.8zM1275 951h1.8v1.8h-1.8zM1248 1049h1.8v1.8h-1.8zM1235 920h1.8v1.8h-1.8zM1335 940h1.8v1.8h-1.8zM1283 965h1.8v1.8h-1.8zM1196 908h1.8v1.8h-1.8zM1221 1024h1.8v1.8h-1.8zM1289 978h1.8v1.8h-1.8zM1277 1032h1.8v1.8h-1.8zM1309 1008h1.8v1.8h-1.8zM1402 982h1.8v1.8h-1.8zM1211 897h1.8v1.8h-1.8zM1317 939h1.8v1.8h-1.8zM1379 1035h1.8v1.8h-1.8zM1367 1042h1.8v1.8h-1.8zM1311 1052h1.8v1.8h-1.8zM1250 1030h1.8v1.8h-1.8zM1373 1000h1.8v1.8h-1.8zM1219 927h1.8v1.8h-1.8zM1212 897h1.8v1.8h-1.8zM1253 1009h1.8v1.8h-1.8zM1351 1020h1.8v1.8h-1.8zM1213 978h1.8v1.8h-1.8zM1331 1045h1.8v1.8h-1.8zM1180 907h1.8v1.8h-1.8zM1312 969h1.8v1.8h-1.8zM1375 1049h1.8v1.8h-1.8zM1230 1045h1.8v1.8h-1.8zM1277 957h1.8v1.8h-1.8zM1280 933h1.8v1.8h-1.8zM1280 1013h1.8v1.8h-1.8zM1214 899h1.8v1.8h-1.8zM1281 905h1.8v1.8h-1.8zM1326 1003h1.8v1.8h-1.8zM1400 973h1.8v1.8h-1.8zM1223 938h1.8v1.8h-1.8zM1343 943h1.8v1.8h-1.8zM1203 989h1.8v1.8h-1.8zM1180 893h1.8v1.8h-1.8zM1356 950h1.8v1.8h-1.8zM1307 947h1.8v1.8h-1.8zM1237 917h1.8v1.8h-1.8zM1344 896h1.8v1.8h-1.8zM1327 914h1.8v1.8h-1.8zM1252 1019h1.8v1.8h-1.8zM1260 994h1.8v1.8h-1.8zM1304 1040h1.8v1.8h-1.8zM1255 975h1.8v1.8h-1.8zM1358 939h1.8v1.8h-1.8zM1241 1022h1.8v1.8h-1.8zM1399 895h1.8v1.8h-1.8zM1358 996h1.8v1.8h-1.8zM1316 907h1.8v1.8h-1.8zM1317 1008h1.8v1.8h-1.8zM1213 921h1.8v1.8h-1.8zM1188 985h1.8v1.8h-1.8zM1393 947h1.8v1.8h-1.8zM1234 939h1.8v1.8h-1.8zM1265 1007h1.8v1.8h-1.8zM1262 942h1.8v1.8h-1.8zM1355 989h1.8v1.8h-1.8zM1372 1045h1.8v1.8h-1.8zM1279 1041h1.8v1.8h-1.8zM1307 1000h1.8v1.8h-1.8zM1329 962h1.8v1.8h-1.8zM1185 925h1.8v1.8h-1.8zM1196 920h1.8v1.8h-1.8zM1341 944h1.8v1.8h-1.8zM1291 893h1.8v1.8h-1.8zM1212 963h1.8v1.8h-1.8zM1281 974h1.8v1.8h-1.8zM1401 996h1.8v1.8h-1.8zM1378 928h1.8v1.8h-1.8zM1187 960h1.8v1.8h-1.8zM1219 972h1.8v1.8h-1.8zM1307 1047h1.8v1.8h-1.8zM1375 939h1.8v1.8h-1.8zM1320 983h1.8v1.8h-1.8zM1311 919h1.8v1.8h-1.8zM1237 898h1.8v1.8h-1.8zM1361 1028h1.8v1.8h-1.8zM1229 1025h1.8v1.8h-1.8zM1220 959h1.8v1.8h-1.8zM1249 956h1.8v1.8h-1.8zM1323 955h1.8v1.8h-1.8zM1237 907h1.8v1.8h-1.8zM1246 996h1.8v1.8h-1.8zM1388 945h1.8v1.8h-1.8zM1295 909h1.8v1.8h-1.8zM1239 1026h1.8v1.8h-1.8zM1250 926h1.8v1.8h-1.8zM1245 924h1.8v1.8h-1.8zM1364 901h1.8v1.8h-1.8zM1214 1023h1.8v1.8h-1.8zM1331 1048h1.8v1.8h-1.8zM1390 1004h1.8v1.8h-1.8zM1281 912h1.8v1.8h-1.8zM1382 959h1.8v1.8h-1.8zM1347 1037h1.8v1.8h-1.8zM1334 1016h1.8v1.8h-1.8zM1262 997h1.8v1.8h-1.8zM1370 968h1.8v1.8h-1.8zM1315 1052h1.8v1.8h-1.8zM1244 992h1.8v1.8h-1.8zM1390 1006h1.8v1.8h-1.8zM1357 940h1.8v1.8h-1.8zM1296 1055h1.8v1.8h-1.8zM1324 932h1.8v1.8h-1.8zM1380 1018h1.8v1.8h-1.8zM1318 997h1.8v1.8h-1.8zM1221 956h1.8v1.8h-1.8zM1219 915h1.8v1.8h-1.8zM1361 984h1.8v1.8h-1.8zM1360 937h1.8v1.8h-1.8zM1277 914h1.8v1.8h-1.8zM1270 1034h1.8v1.8h-1.8zM1198 967h1.8v1.8h-1.8zM1238 928h1.8v1.8h-1.8zM1356 987h1.8v1.8h-1.8zM1363 974h1.8v1.8h-1.8zM1191 1021h1.8v1.8h-1.8zM1322 1030h1.8v1.8h-1.8zM1258 1055h1.8v1.8h-1.8zM1193 1028h1.8v1.8h-1.8zM1339 1009h1.8v1.8h-1.8zM1303 957h1.8v1.8h-1.8zM1394 991h1.8v1.8h-1.8zM1309 960h1.8v1.8h-1.8zM1318 990h1.8v1.8h-1.8zM1309 906h1.8v1.8h-1.8zM1185 1022h1.8v1.8h-1.8zM1380 1054h1.8v1.8h-1.8zM1311 1026h1.8v1.8h-1.8zM1367 1041h1.8v1.8h-1.8zM1369 976h1.8v1.8h-1.8zM1240 953h1.8v1.8h-1.8zM1227 1017h1.8v1.8h-1.8zM1303 978h1.8v1.8h-1.8zM1250 1038h1.8v1.8h-1.8zM1262 934h1.8v1.8h-1.8z" fill="#f2ea00"/>
<rect x="1179" y="1027.5" width="27" height="34" fill="#000"/>
<text x="1185" y="1051.5" fill="#f2ea00" font-size="26" stroke="#f2ea00" stroke-width="0.35">S</text>
<rect x="1423" y="892" width="226" height="169.5" fill="#000"/>
<path d="M1456 995h1.8v1.8h-1.8zM1461 1011h1.8v1.8h-1.8zM1559 956h1.8v1.8h-1.8zM1561 987h1.8v1.8h-1.8zM1433 981h1.8v1.8h-1.8zM1562 979h1.8v1.8h-1.8zM1620 1015h1.8v1.8h-1.8zM1508 930h1.8v1.8h-1.8zM1452 1028h1.8v1.8h-1.8zM1578 994h1.8v1.8h-1.8zM1522 976h1.8v1.8h-1.8zM1473 981h1.8v1.8h-1.8zM1456 996h1.8v1.8h-1.8zM1564 1004h1.8v1.8h-1.8zM1478 907h1.8v1.8h-1.8zM1498 1007h1.8v1.8h-1.8zM1537 1017h1.8v1.8h-1.8zM1520 959h1.8v1.8h-1.8zM1626 920h1.8v1.8h-1.8zM1469 991h1.8v1.8h-1.8zM1565 965h1.8v1.8h-1.8zM1548 966h1.8v1.8h-1.8zM1573 1041h1.8v1.8h-1.8zM1608 999h1.8v1.8h-1.8zM1528 1051h1.8v1.8h-1.8zM1523 997h1.8v1.8h-1.8zM1618 1007h1.8v1.8h-1.8zM1511 1017h1.8v1.8h-1.8zM1558 1045h1.8v1.8h-1.8zM1563 981h1.8v1.8h-1.8zM1641 980h1.8v1.8h-1.8zM1512 1049h1.8v1.8h-1.8zM1635 921h1.8v1.8h-1.8zM1439 1036h1.8v1.8h-1.8zM1621 956h1.8v1.8h-1.8zM1480 1007h1.8v1.8h-1.8zM1634 928h1.8v1.8h-1.8zM1523 1003h1.8v1.8h-1.8zM1473 962h1.8v1.8h-1.8zM1455 972h1.8v1.8h-1.8zM1475 906h1.8v1.8h-1.8zM1510 917h1.8v1.8h-1.8zM1450 917h1.8v1.8h-1.8zM1517 945h1.8v1.8h-1.8zM1586 961h1.8v1.8h-1.8zM1478 924h1.8v1.8h-1.8zM1490 1017h1.8v1.8h-1.8zM1468 970h1.8v1.8h-1.8zM1604 1031h1.8v1.8h-1.8zM1527 1033h1.8v1.8h-1.8zM1567 930h1.8v1.8h-1.8zM1444 921h1.8v1.8h-1.8zM1600 957h1.8v1.8h-1.8zM1611 1054h1.8v1.8h-1.8zM1629 971h1.8v1.8h-1.8zM1425 938h1.8v1.8h-1.8zM1472 1001h1.8v1.8h-1.8zM1580 1047h1.8v1.8h-1.8zM1581 1053h1.8v1.8h-1.8zM1566 972h1.8v1.8h-1.8zM1611 938h1.8v1.8h-1.8zM1598 1014h1.8v1.8h-1.8zM1617 902h1.8v1.8h-1.8zM1465 1051h1.8v1.8h-1.8zM1455 968h1.8v1.8h-1.8zM1558 973h1.8v1.8h-1.8zM1620 1052h1.8v1.8h-1.8zM1500 915h1.8v1.8h-1.8zM1628 968h1.8v1.8h-1.8zM1479 915h1.8v1.8h-1.8zM1425 990h1.8v1.8h-1.8zM1486 985h1.8v1.8h-1.8zM1630 973h1.8v1.8h-1.8zM1637 903h1.8v1.8h-1.8zM1593 1019h1.8v1.8h-1.8zM1638 897h1.8v1.8h-1.8zM1537 985h1.8v1.8h-1.8zM1557 971h1.8v1.8h-1.8zM1484 1043h1.8v1.8h-1.8zM1620 1010h1.8v1.8h-1.8zM1638 985h1.8v1.8h-1.8zM1441 1008h1.8v1.8h-1.8zM1447 1018h1.8v1.8h-1.8zM1568 927h1.8v1.8h-1.8zM1457 903h1.8v1.8h-1.8zM1463 1056h1.8v1.8h-1.8zM1474 1040h1.8v1.8h-1.8zM1453 949h1.8v1.8h-1.8zM1529 952h1.8v1.8h-1.8zM1639 932h1.8v1.8h-1.8zM1531 926h1.8v1.8h-1.8zM1447 1008h1.8v1.8h-1.8zM1499 974h1.8v1.8h-1.8zM1578 907h1.8v1.8h-1.8zM1435 1007h1.8v1.8h-1.8zM1646 895h1.8v1.8h-1.8zM1524 1059h1.8v1.8h-1.8zM1610 1058h1.8v1.8h-1.8zM1542 1055h1.8v1.8h-1.8zM1436 971h1.8v1.8h-1.8zM1613 958h1.8v1.8h-1.8zM1522 967h1.8v1.8h-1.8zM1508 1028h1.8v1.8h-1.8zM1641 931h1.8v1.8h-1.8zM1495 1027h1.8v1.8h-1.8zM1590 1029h1.8v1.8h-1.8zM1576 1045h1.8v1.8h-1.8zM1612 998h1.8v1.8h-1.8zM1487 906h1.8v1.8h-1.8zM1616 1036h1.8v1.8h-1.8zM1623 936h1.8v1.8h-1.8zM1589 1048h1.8v1.8h-1.8zM1469 896h1.8v1.8h-1.8zM1462 929h1.8v1.8h-1.8zM1575 1030h1.8v1.8h-1.8zM1607 1008h1.8v1.8h-1.8zM1642 1055h1.8v1.8h-1.8zM1522 1047h1.8v1.8h-1.8zM1584 933h1.8v1.8h-1.8zM1554 921h1.8v1.8h-1.8zM1513 1028h1.8v1.8h-1.8zM1425 982h1.8v1.8h-1.8zM1521 939h1.8v1.8h-1.8zM1437 980h1.8v1.8h-1.8zM1498 908h1.8v1.8h-1.8zM1513 1006h1.8v1.8h-1.8zM1441 1024h1.8v1.8h-1.8zM1442 971h1.8v1.8h-1.8zM1505 1036h1.8v1.8h-1.8zM1623 1016h1.8v1.8h-1.8zM1489 946h1.8v1.8h-1.8zM1608 978h1.8v1.8h-1.8zM1565 1013h1.8v1.8h-1.8zM1466 957h1.8v1.8h-1.8zM1637 948h1.8v1.8h-1.8zM1613 918h1.8v1.8h-1.8zM1426 976h1.8v1.8h-1.8zM1486 992h1.8v1.8h-1.8zM1596 899h1.8v1.8h-1.8zM1535 955h1.8v1.8h-1.8zM1626 1034h1.8v1.8h-1.8zM1621 1016h1.8v1.8h-1.8zM1501 996h1.8v1.8h-1.8zM1545 954h1.8v1.8h-1.8zM1488 1001h1.8v1.8h-1.8zM1624 933h1.8v1.8h-1.8zM1503 919h1.8v1.8h-1.8zM1505 957h1.8v1.8h-1.8zM1444 1000h1.8v1.8h-1.8zM1500 1027h1.8v1.8h-1.8zM1477 1015h1.8v1.8h-1.8zM1643 920h1.8v1.8h-1.8zM1506 1055h1.8v1.8h-1.8zM1513 947h1.8v1.8h-1.8zM1457 1031h1.8v1.8h-1.8zM1496 1039h1.8v1.8h-1.8zM1548 922h1.8v1.8h-1.8zM1646 1043h1.8v1.8h-1.8zM1591 993h1.8v1.8h-1.8zM1592 1051h1.8v1.8h-1.8zM1467 932h1.8v1.8h-1.8zM1594 962h1.8v1.8h-1.8zM1644 1032h1.8v1.8h-1.8zM1540 919h1.8v1.8h-1.8zM1560 993h1.8v1.8h-1.8zM1553 1023h1.8v1.8h-1.8zM1530 1042h1.8v1.8h-1.8zM1556 919h1.8v1.8h-1.8zM1607 920h1.8v1.8h-1.8zM1626 1047h1.8v1.8h-1.8zM1467 926h1.8v1.8h-1.8zM1580 969h1.8v1.8h-1.8zM1507 1018h1.8v1.8h-1.8zM1498 914h1.8v1.8h-1.8zM1547 1039h1.8v1.8h-1.8zM1638 910h1.8v1.8h-1.8zM1590 946h1.8v1.8h-1.8zM1641 957h1.8v1.8h-1.8zM1446 947h1.8v1.8h-1.8zM1539 921h1.8v1.8h-1.8zM1596 947h1.8v1.8h-1.8zM1589 931h1.8v1.8h-1.8zM1533 1003h1.8v1.8h-1.8zM1469 941h1.8v1.8h-1.8zM1611 958h1.8v1.8h-1.8zM1501 996h1.8v1.8h-1.8zM1578 1037h1.8v1.8h-1.8zM1550 1035h1.8v1.8h-1.8zM1623 1047h1.8v1.8h-1.8zM1629 1008h1.8v1.8h-1.8zM1579 957h1.8v1.8h-1.8zM1447 1047h1.8v1.8h-1.8zM1516 949h1.8v1.8h-1.8zM1546 1019h1.8v1.8h-1.8zM1609 911h1.8v1.8h-1.8zM1599 1050h1.8v1.8h-1.8zM1642 1050h1.8v1.8h-1.8zM1551 1041h1.8v1.8h-1.8zM1555 1034h1.8v1.8h-1.8zM1645 955h1.8v1.8h-1.8zM1451 1018h1.8v1.8h-1.8zM1633 1044h1.8v1.8h-1.8zM1527 967h1.8v1.8h-1.8zM1451 1035h1.8v1.8h-1.8zM1484 912h1.8v1.8h-1.8zM1446 1048h1.8v1.8h-1.8zM1516 1025h1.8v1.8h-1.8zM1439 973h1.8v1.8h-1.8zM1590 1021h1.8v1.8h-1.8zM1466 973h1.8v1.8h-1.8zM1605 1045h1.8v1.8h-1.8zM1444 991h1.8v1.8h-1.8zM1622 996h1.8v1.8h-1.8zM1599 942h1.8v1.8h-1.8zM1533 894h1.8v1.8h-1.8zM1602 986h1.8v1.8h-1.8zM1464 1050h1.8v1.8h-1.8zM1470 898h1.8v1.8h-1.8zM1585 905h1.8v1.8h-1.8zM1571 915h1.8v1.8h-1.8zM1428 1016h1.8v1.8h-1.8zM1561 1003h1.8v1.8h-1.8zM1582 1012h1.8v1.8h-1.8zM1462 963h1.8v1.8h-1.8zM1556 1037h1.8v1.8h-1.8zM1568 974h1.8v1.8h-1.8zM1607 1034h1.8v1.8h-1.8zM1479 923h1.8v1.8h-1.8zM1424 1038h1.8v1.8h-1.8zM1470 989h1.8v1.8h-1.8zM1541 1002h1.8v1.8h-1.8zM1633 1002h1.8v1.8h-1.8zM1462 964h1.8v1.8h-1.8zM1465 956h1.8v1.8h-1.8zM1589 1001h1.8v1.8h-1.8zM1564 1037h1.8v1.8h-1.8zM1647 934h1.8v1.8h-1.8zM1580 1000h1.8v1.8h-1.8zM1429 1058h1.8v1.8h-1.8zM1512 1005h1.8v1.8h-1.8zM1474 963h1.8v1.8h-1.8zM1449 1054h1.8v1.8h-1.8zM1432 904h1.8v1.8h-1.8zM1586 989h1.8v1.8h-1.8zM1495 1050h1.8v1.8h-1.8zM1580 967h1.8v1.8h-1.8zM1583 1049h1.8v1.8h-1.8zM1619 953h1.8v1.8h-1.8zM1597 929h1.8v1.8h-1.8zM1510 1059h1.8v1.8h-1.8z" fill="#1ee61e"/>
<rect x="1423" y="1027.5" width="41" height="34" fill="#000"/>
<text x="1429" y="1051.5" fill="#1ee61e" font-size="26" stroke="#1ee61e" stroke-width="0.35">Zn</text>
<rect x="665" y="892" width="984" height="169.5" fill="none" stroke="#000" stroke-width="2.4" stroke-dasharray="2.4 2.5"/>
<rect x="665" y="1075.5" width="254" height="169.0" fill="#434343"/>
<clipPath id="cg1"><rect x="665" y="1075.5" width="254" height="169.0"/></clipPath>
<g clip-path="url(#cg1)">
<g filter="url(#bl8)" opacity="0.3"><ellipse cx="735" cy="1095.5" rx="40" ry="15" fill="#8a8a8a"/><ellipse cx="705" cy="1205.5" rx="30" ry="25" fill="#7a7a7a"/><ellipse cx="855" cy="1180.5" rx="20" ry="18" fill="#909090"/></g>
<rect x="665" y="1075.5" width="254" height="169.0" filter="url(#nz)" opacity="0.55"/>
<rect x="665" y="1075.5" width="254" height="169.0" filter="url(#nzd)" opacity="0.6"/>
<rect x="665" y="1075.5" width="254" height="169.0" filter="url(#blot)" opacity="0.2"/>
</g>
<text x="671.3" y="1104" fill="#fff" font-size="23.6" stroke="#fff" stroke-width="0.35">Ni–DAPTO/Cu</text>
<text x="671.3" y="1132.7" fill="#fff" font-size="23.6" stroke="#fff" stroke-width="0.35">After Depositing</text>
<text x="912" y="1217.3" text-anchor="end" fill="#fff" font-size="23.6" stroke="#fff" stroke-width="0.35">50 µm</text>
<rect x="852.3" y="1231.3" width="56.5" height="3.8" fill="#fff"/>
<rect x="937" y="1075.5" width="226" height="169.0" fill="#000"/>
<path d="M1146 1140h1.8v1.8h-1.8zM1121 1117h1.8v1.8h-1.8zM1045 1121h1.8v1.8h-1.8zM1059 1088h1.8v1.8h-1.8zM1030 1128h1.8v1.8h-1.8zM946 1212h1.8v1.8h-1.8zM1142 1101h1.8v1.8h-1.8zM1079 1164h1.8v1.8h-1.8zM1032 1174h1.8v1.8h-1.8zM1085 1122h1.8v1.8h-1.8zM1018 1160h1.8v1.8h-1.8zM1160 1231h1.8v1.8h-1.8zM1111 1152h1.8v1.8h-1.8zM1141 1239h1.8v1.8h-1.8zM1135 1108h1.8v1.8h-1.8zM1029 1114h1.8v1.8h-1.8zM1038 1218h1.8v1.8h-1.8zM1048 1131h1.8v1.8h-1.8zM974 1099h1.8v1.8h-1.8zM1121 1235h1.8v1.8h-1.8zM1136 1076h1.8v1.8h-1.8zM997 1099h1.8v1.8h-1.8zM1041 1109h1.8v1.8h-1.8zM1046 1151h1.8v1.8h-1.8zM1079 1162h1.8v1.8h-1.8zM1050 1083h1.8v1.8h-1.8zM1148 1147h1.8v1.8h-1.8zM1132 1130h1.8v1.8h-1.8zM957 1241h1.8v1.8h-1.8zM1048 1104h1.8v1.8h-1.8zM1153 1231h1.8v1.8h-1.8zM962 1234h1.8v1.8h-1.8zM966 1097h1.8v1.8h-1.8zM970 1222h1.8v1.8h-1.8zM1073 1168h1.8v1.8h-1.8zM1094 1125h1.8v1.8h-1.8zM951 1089h1.8v1.8h-1.8zM990 1173h1.8v1.8h-1.8zM953 1083h1.8v1.8h-1.8zM982 1077h1.8v1.8h-1.8zM950 1098h1.8v1.8h-1.8zM964 1131h1.8v1.8h-1.8zM1128 1187h1.8v1.8h-1.8zM939 1087h1.8v1.8h-1.8zM1012 1152h1.8v1.8h-1.8zM1039 1166h1.8v1.8h-1.8zM1099 1182h1.8v1.8h-1.8zM993 1121h1.8v1.8h-1.8zM1160 1163h1.8v1.8h-1.8zM1142 1231h1.8v1.8h-1.8zM1119 1180h1.8v1.8h-1.8zM1103 1124h1.8v1.8h-1.8zM983 1141h1.8v1.8h-1.8zM979 1106h1.8v1.8h-1.8zM962 1105h1.8v1.8h-1.8zM941 1098h1.8v1.8h-1.8zM1102 1084h1.8v1.8h-1.8zM1096 1194h1.8v1.8h-1.8zM974 1155h1.8v1.8h-1.8zM1072 1233h1.8v1.8h-1.8zM1074 1098h1.8v1.8h-1.8zM950 1105h1.8v1.8h-1.8zM968 1212h1.8v1.8h-1.8zM1127 1094h1.8v1.8h-1.8zM1110 1227h1.8v1.8h-1.8zM987 1160h1.8v1.8h-1.8zM989 1146h1.8v1.8h-1.8zM1108 1109h1.8v1.8h-1.8zM1050 1181h1.8v1.8h-1.8zM1132 1236h1.8v1.8h-1.8zM1140 1143h1.8v1.8h-1.8zM1015 1227h1.8v1.8h-1.8zM1130 1211h1.8v1.8h-1.8zM1074 1235h1.8v1.8h-1.8zM967 1107h1.8v1.8h-1.8zM1108 1121h1.8v1.8h-1.8zM1079 1173h1.8v1.8h-1.8zM1075 1120h1.8v1.8h-1.8zM1153 1170h1.8v1.8h-1.8zM938 1129h1.8v1.8h-1.8zM1053 1220h1.8v1.8h-1.8zM1074 1234h1.8v1.8h-1.8zM1011 1085h1.8v1.8h-1.8zM1038 1228h1.8v1.8h-1.8zM1058 1218h1.8v1.8h-1.8zM1124 1226h1.8v1.8h-1.8zM1049 1080h1.8v1.8h-1.8zM1065 1092h1.8v1.8h-1.8zM1021 1115h1.8v1.8h-1.8zM1018 1155h1.8v1.8h-1.8zM1091 1235h1.8v1.8h-1.8zM1127 1213h1.8v1.8h-1.8zM972 1172h1.8v1.8h-1.8zM1023 1149h1.8v1.8h-1.8zM956 1152h1.8v1.8h-1.8zM1152 1222h1.8v1.8h-1.8zM1123 1092h1.8v1.8h-1.8zM1126 1143h1.8v1.8h-1.8zM1014 1159h1.8v1.8h-1.8zM1009 1118h1.8v1.8h-1.8zM1139 1174h1.8v1.8h-1.8zM1040 1164h1.8v1.8h-1.8zM953 1091h1.8v1.8h-1.8zM944 1135h1.8v1.8h-1.8zM1134 1082h1.8v1.8h-1.8zM1003 1222h1.8v1.8h-1.8zM982 1160h1.8v1.8h-1.8zM1139 1203h1.8v1.8h-1.8zM1025 1126h1.8v1.8h-1.8zM998 1131h1.8v1.8h-1.8zM1158 1173h1.8v1.8h-1.8zM1035 1232h1.8v1.8h-1.8zM1025 1115h1.8v1.8h-1.8zM1052 1094h1.8v1.8h-1.8zM1148 1076h1.8v1.8h-1.8zM1021 1081h1.8v1.8h-1.8zM985 1221h1.8v1.8h-1.8zM971 1205h1.8v1.8h-1.8zM1085 1084h1.8v1.8h-1.8zM1152 1084h1.8v1.8h-1.8zM1123 1235h1.8v1.8h-1.8zM1027 1139h1.8v1.8h-1.8zM1022 1191h1.8v1.8h-1.8zM1078 1102h1.8v1.8h-1.8zM967 1101h1.8v1.8h-1.8zM955 1091h1.8v1.8h-1.8zM1048 1097h1.8v1.8h-1.8zM1089 1127h1.8v1.8h-1.8zM1150 1087h1.8v1.8h-1.8zM1076 1151h1.8v1.8h-1.8zM1104 1080h1.8v1.8h-1.8zM978 1232h1.8v1.8h-1.8zM1042 1135h1.8v1.8h-1.8zM956 1173h1.8v1.8h-1.8zM1154 1179h1.8v1.8h-1.8zM1151 1182h1.8v1.8h-1.8zM941 1179h1.8v1.8h-1.8zM1062 1240h1.8v1.8h-1.8zM1115 1193h1.8v1.8h-1.8zM967 1149h1.8v1.8h-1.8zM1107 1166h1.8v1.8h-1.8zM1068 1089h1.8v1.8h-1.8zM1056 1090h1.8v1.8h-1.8zM942 1198h1.8v1.8h-1.8zM1029 1110h1.8v1.8h-1.8zM1041 1089h1.8v1.8h-1.8zM1078 1237h1.8v1.8h-1.8zM1116 1222h1.8v1.8h-1.8zM1088 1236h1.8v1.8h-1.8zM1031 1095h1.8v1.8h-1.8zM977 1077h1.8v1.8h-1.8zM984 1095h1.8v1.8h-1.8zM974 1202h1.8v1.8h-1.8zM1021 1131h1.8v1.8h-1.8zM964 1204h1.8v1.8h-1.8zM994 1224h1.8v1.8h-1.8zM959 1078h1.8v1.8h-1.8zM1122 1157h1.8v1.8h-1.8zM1127 1193h1.8v1.8h-1.8zM1095 1119h1.8v1.8h-1.8zM1083 1093h1.8v1.8h-1.8zM1141 1219h1.8v1.8h-1.8zM1079 1095h1.8v1.8h-1.8zM985 1152h1.8v1.8h-1.8zM966 1237h1.8v1.8h-1.8zM1144 1156h1.8v1.8h-1.8zM991 1160h1.8v1.8h-1.8zM1159 1150h1.8v1.8h-1.8zM1103 1151h1.8v1.8h-1.8zM967 1126h1.8v1.8h-1.8zM1033 1190h1.8v1.8h-1.8zM1024 1113h1.8v1.8h-1.8zM956 1232h1.8v1.8h-1.8zM1126 1147h1.8v1.8h-1.8zM1105 1145h1.8v1.8h-1.8zM997 1088h1.8v1.8h-1.8zM1078 1077h1.8v1.8h-1.8zM1139 1101h1.8v1.8h-1.8zM1144 1141h1.8v1.8h-1.8zM1089 1107h1.8v1.8h-1.8zM983 1204h1.8v1.8h-1.8zM1059 1169h1.8v1.8h-1.8zM1018 1178h1.8v1.8h-1.8zM1157 1237h1.8v1.8h-1.8zM1133 1167h1.8v1.8h-1.8zM1034 1218h1.8v1.8h-1.8zM1122 1140h1.8v1.8h-1.8zM1053 1076h1.8v1.8h-1.8zM1079 1161h1.8v1.8h-1.8zM966 1234h1.8v1.8h-1.8zM1097 1159h1.8v1.8h-1.8zM1123 1169h1.8v1.8h-1.8zM1051 1078h1.8v1.8h-1.8zM1095 1157h1.8v1.8h-1.8zM1055 1173h1.8v1.8h-1.8zM1102 1193h1.8v1.8h-1.8zM1090 1242h1.8v1.8h-1.8zM1027 1239h1.8v1.8h-1.8zM958 1218h1.8v1.8h-1.8zM1071 1155h1.8v1.8h-1.8zM995 1101h1.8v1.8h-1.8zM1023 1157h1.8v1.8h-1.8zM938 1193h1.8v1.8h-1.8zM1132 1172h1.8v1.8h-1.8zM1095 1094h1.8v1.8h-1.8zM1013 1079h1.8v1.8h-1.8zM1157 1233h1.8v1.8h-1.8zM1039 1114h1.8v1.8h-1.8zM1076 1203h1.8v1.8h-1.8zM981 1115h1.8v1.8h-1.8zM1118 1190h1.8v1.8h-1.8zM971 1130h1.8v1.8h-1.8zM1119 1176h1.8v1.8h-1.8zM1161 1229h1.8v1.8h-1.8zM1035 1231h1.8v1.8h-1.8zM947 1179h1.8v1.8h-1.8zM1154 1106h1.8v1.8h-1.8zM1117 1142h1.8v1.8h-1.8zM945 1153h1.8v1.8h-1.8zM1121 1147h1.8v1.8h-1.8zM953 1121h1.8v1.8h-1.8zM1043 1199h1.8v1.8h-1.8zM959 1176h1.8v1.8h-1.8zM1007 1161h1.8v1.8h-1.8zM1150 1217h1.8v1.8h-1.8zM949 1198h1.8v1.8h-1.8zM1055 1158h1.8v1.8h-1.8zM1148 1200h1.8v1.8h-1.8zM950 1181h1.8v1.8h-1.8zM1139 1106h1.8v1.8h-1.8zM1047 1080h1.8v1.8h-1.8zM1105 1116h1.8v1.8h-1.8zM1072 1162h1.8v1.8h-1.8zM1124 1140h1.8v1.8h-1.8zM949 1145h1.8v1.8h-1.8zM1148 1156h1.8v1.8h-1.8zM969 1137h1.8v1.8h-1.8zM987 1154h1.8v1.8h-1.8zM1134 1242h1.8v1.8h-1.8zM1103 1205h1.8v1.8h-1.8zM1017 1213h1.8v1.8h-1.8zM1077 1155h1.8v1.8h-1.8zM1079 1110h1.8v1.8h-1.8zM938 1168h1.8v1.8h-1.8zM1124 1125h1.8v1.8h-1.8zM1116 1117h1.8v1.8h-1.8zM1030 1160h1.8v1.8h-1.8zM1067 1151h1.8v1.8h-1.8zM990 1216h1.8v1.8h-1.8zM1093 1112h1.8v1.8h-1.8zM1144 1242h1.8v1.8h-1.8zM989 1194h1.8v1.8h-1.8zM1033 1150h1.8v1.8h-1.8zM1154 1103h1.8v1.8h-1.8zM985 1111h1.8v1.8h-1.8zM978 1237h1.8v1.8h-1.8zM970 1176h1.8v1.8h-1.8zM1079 1222h1.8v1.8h-1.8zM1101 1170h1.8v1.8h-1.8zM1140 1188h1.8v1.8h-1.8zM1103 1078h1.8v1.8h-1.8zM1018 1100h1.8v1.8h-1.8zM982 1223h1.8v1.8h-1.8zM1048 1180h1.8v1.8h-1.8zM957 1175h1.8v1.8h-1.8zM1006 1232h1.8v1.8h-1.8zM1047 1136h1.8v1.8h-1.8zM956 1138h1.8v1.8h-1.8zM1100 1116h1.8v1.8h-1.8zM1145 1206h1.8v1.8h-1.8zM944 1102h1.8v1.8h-1.8zM1031 1121h1.8v1.8h-1.8zM1103 1081h1.8v1.8h-1.8zM971 1204h1.8v1.8h-1.8zM1100 1188h1.8v1.8h-1.8zM1065 1220h1.8v1.8h-1.8zM1136 1201h1.8v1.8h-1.8zM1104 1218h1.8v1.8h-1.8zM1101 1213h1.8v1.8h-1.8zM1119 1220h1.8v1.8h-1.8zM1128 1170h1.8v1.8h-1.8zM1151 1151h1.8v1.8h-1.8zM957 1131h1.8v1.8h-1.8zM1136 1121h1.8v1.8h-1.8zM1009 1112h1.8v1.8h-1.8zM982 1163h1.8v1.8h-1.8zM1026 1124h1.8v1.8h-1.8zM1055 1154h1.8v1.8h-1.8zM1021 1078h1.8v1.8h-1.8zM1122 1195h1.8v1.8h-1.8zM988 1110h1.8v1.8h-1.8zM991 1230h1.8v1.8h-1.8zM984 1140h1.8v1.8h-1.8zM1034 1113h1.8v1.8h-1.8zM964 1152h1.8v1.8h-1.8zM1053 1206h1.8v1.8h-1.8zM1033 1125h1.8v1.8h-1.8zM1062 1191h1.8v1.8h-1.8zM1124 1095h1.8v1.8h-1.8zM1122 1109h1.8v1.8h-1.8zM1055 1108h1.8v1.8h-1.8zM1068 1141h1.8v1.8h-1.8zM937 1077h1.8v1.8h-1.8zM967 1159h1.8v1.8h-1.8zM939 1201h1.8v1.8h-1.8zM1062 1184h1.8v1.8h-1.8zM944 1231h1.8v1.8h-1.8zM1160 1180h1.8v1.8h-1.8zM1121 1155h1.8v1.8h-1.8zM987 1095h1.8v1.8h-1.8zM1082 1160h1.8v1.8h-1.8zM1112 1166h1.8v1.8h-1.8zM988 1228h1.8v1.8h-1.8zM1092 1182h1.8v1.8h-1.8zM983 1096h1.8v1.8h-1.8zM1154 1234h1.8v1.8h-1.8zM1048 1158h1.8v1.8h-1.8zM1048 1126h1.8v1.8h-1.8zM1115 1230h1.8v1.8h-1.8zM1044 1146h1.8v1.8h-1.8zM954 1092h1.8v1.8h-1.8zM1024 1130h1.8v1.8h-1.8zM1048 1188h1.8v1.8h-1.8zM1159 1114h1.8v1.8h-1.8zM1094 1213h1.8v1.8h-1.8zM1033 1201h1.8v1.8h-1.8zM966 1096h1.8v1.8h-1.8zM1133 1215h1.8v1.8h-1.8zM1009 1164h1.8v1.8h-1.8zM1012 1228h1.8v1.8h-1.8zM1078 1142h1.8v1.8h-1.8zM1083 1139h1.8v1.8h-1.8zM1066 1219h1.8v1.8h-1.8zM949 1081h1.8v1.8h-1.8zM1158 1224h1.8v1.8h-1.8zM1112 1223h1.8v1.8h-1.8zM1146 1109h1.8v1.8h-1.8zM1152 1227h1.8v1.8h-1.8zM978 1238h1.8v1.8h-1.8zM1050 1151h1.8v1.8h-1.8zM1067 1202h1.8v1.8h-1.8zM955 1103h1.8v1.8h-1.8zM1063 1159h1.8v1.8h-1.8zM1088 1127h1.8v1.8h-1.8zM1158 1227h1.8v1.8h-1.8zM993 1131h1.8v1.8h-1.8zM1151 1232h1.8v1.8h-1.8zM1152 1142h1.8v1.8h-1.8zM1084 1078h1.8v1.8h-1.8zM1120 1205h1.8v1.8h-1.8zM1052 1195h1.8v1.8h-1.8zM960 1081h1.8v1.8h-1.8zM1108 1178h1.8v1.8h-1.8zM1058 1116h1.8v1.8h-1.8zM1131 1148h1.8v1.8h-1.8zM1067 1120h1.8v1.8h-1.8zM954 1191h1.8v1.8h-1.8zM1136 1086h1.8v1.8h-1.8zM1050 1195h1.8v1.8h-1.8zM1139 1133h1.8v1.8h-1.8zM973 1236h1.8v1.8h-1.8zM1127 1220h1.8v1.8h-1.8zM1050 1196h1.8v1.8h-1.8zM1083 1210h1.8v1.8h-1.8zM1037 1240h1.8v1.8h-1.8zM964 1109h1.8v1.8h-1.8zM1133 1113h1.8v1.8h-1.8zM1102 1149h1.8v1.8h-1.8zM1025 1087h1.8v1.8h-1.8zM1053 1180h1.8v1.8h-1.8zM939 1236h1.8v1.8h-1.8zM1058 1108h1.8v1.8h-1.8zM1104 1178h1.8v1.8h-1.8zM1072 1104h1.8v1.8h-1.8zM1048 1114h1.8v1.8h-1.8zM975 1209h1.8v1.8h-1.8zM1133 1113h1.8v1.8h-1.8zM1159 1087h1.8v1.8h-1.8zM1108 1139h1.8v1.8h-1.8zM1004 1105h1.8v1.8h-1.8z" fill="#13d4f0"/>
<rect x="937" y="1210.5" width="34" height="34" fill="#000"/>
<text x="943" y="1234.5" fill="#13d4f0" font-size="26" stroke="#13d4f0" stroke-width="0.35">Ni</text>
<rect x="1179" y="1075.5" width="225.5" height="169.0" fill="#000"/>
<path d="M1364 1111h1.8v1.8h-1.8zM1390 1158h1.8v1.8h-1.8zM1268 1179h1.8v1.8h-1.8zM1217 1108h1.8v1.8h-1.8zM1273 1114h1.8v1.8h-1.8zM1329 1145h1.8v1.8h-1.8zM1265 1122h1.8v1.8h-1.8zM1228 1195h1.8v1.8h-1.8zM1381 1134h1.8v1.8h-1.8zM1359 1128h1.8v1.8h-1.8zM1349 1115h1.8v1.8h-1.8zM1306 1144h1.8v1.8h-1.8zM1374 1203h1.8v1.8h-1.8zM1203 1092h1.8v1.8h-1.8zM1282 1111h1.8v1.8h-1.8zM1232 1235h1.8v1.8h-1.8zM1389 1078h1.8v1.8h-1.8zM1184 1180h1.8v1.8h-1.8zM1391 1224h1.8v1.8h-1.8zM1334 1199h1.8v1.8h-1.8zM1287 1157h1.8v1.8h-1.8zM1371 1093h1.8v1.8h-1.8zM1332 1196h1.8v1.8h-1.8zM1214 1204h1.8v1.8h-1.8zM1217 1237h1.8v1.8h-1.8zM1350 1152h1.8v1.8h-1.8zM1310 1238h1.8v1.8h-1.8zM1261 1110h1.8v1.8h-1.8zM1333 1227h1.8v1.8h-1.8zM1214 1203h1.8v1.8h-1.8zM1266 1190h1.8v1.8h-1.8zM1286 1234h1.8v1.8h-1.8zM1308 1237h1.8v1.8h-1.8zM1394 1097h1.8v1.8h-1.8zM1389 1202h1.8v1.8h-1.8zM1211 1172h1.8v1.8h-1.8zM1240 1083h1.8v1.8h-1.8zM1192 1136h1.8v1.8h-1.8zM1375 1088h1.8v1.8h-1.8zM1310 1221h1.8v1.8h-1.8zM1260 1196h1.8v1.8h-1.8zM1312 1203h1.8v1.8h-1.8zM1287 1240h1.8v1.8h-1.8zM1268 1111h1.8v1.8h-1.8zM1206 1118h1.8v1.8h-1.8zM1205 1233h1.8v1.8h-1.8zM1209 1216h1.8v1.8h-1.8zM1351 1154h1.8v1.8h-1.8zM1190 1109h1.8v1.8h-1.8zM1388 1145h1.8v1.8h-1.8zM1354 1096h1.8v1.8h-1.8zM1190 1136h1.8v1.8h-1.8zM1257 1110h1.8v1.8h-1.8zM1322 1172h1.8v1.8h-1.8zM1304 1128h1.8v1.8h-1.8zM1271 1120h1.8v1.8h-1.8zM1303 1140h1.8v1.8h-1.8zM1325 1237h1.8v1.8h-1.8zM1251 1175h1.8v1.8h-1.8zM1200 1214h1.8v1.8h-1.8zM1298 1175h1.8v1.8h-1.8zM1305 1095h1.8v1.8h-1.8zM1375 1077h1.8v1.8h-1.8zM1222 1156h1.8v1.8h-1.8zM1386 1192h1.8v1.8h-1.8zM1381 1132h1.8v1.8h-1.8zM1302 1176h1.8v1.8h-1.8zM1231 1091h1.8v1.8h-1.8zM1255 1090h1.8v1.8h-1.8zM1181 1105h1.8v1.8h-1.8zM1372 1178h1.8v1.8h-1.8zM1347 1172h1.8v1.8h-1.8zM1287 1224h1.8v1.8h-1.8zM1256 1119h1.8v1.8h-1.8zM1244 1088h1.8v1.8h-1.8zM1183 1121h1.8v1.8h-1.8zM1321 1108h1.8v1.8h-1.8zM1286 1124h1.8v1.8h-1.8zM1347 1115h1.8v1.8h-1.8zM1280 1201h1.8v1.8h-1.8zM1340 1225h1.8v1.8h-1.8zM1182 1154h1.8v1.8h-1.8zM1222 1224h1.8v1.8h-1.8zM1235 1210h1.8v1.8h-1.8zM1295 1204h1.8v1.8h-1.8zM1357 1220h1.8v1.8h-1.8zM1378 1143h1.8v1.8h-1.8zM1330 1229h1.8v1.8h-1.8zM1358 1149h1.8v1.8h-1.8zM1364 1206h1.8v1.8h-1.8zM1278 1149h1.8v1.8h-1.8zM1277 1232h1.8v1.8h-1.8zM1230 1235h1.8v1.8h-1.8zM1210 1118h1.8v1.8h-1.8zM1344 1194h1.8v1.8h-1.8zM1247 1126h1.8v1.8h-1.8zM1306 1202h1.8v1.8h-1.8zM1265 1154h1.8v1.8h-1.8zM1275 1214h1.8v1.8h-1.8zM1381 1181h1.8v1.8h-1.8zM1236 1146h1.8v1.8h-1.8zM1272 1180h1.8v1.8h-1.8zM1250 1177h1.8v1.8h-1.8zM1296 1166h1.8v1.8h-1.8zM1395 1145h1.8v1.8h-1.8zM1236 1077h1.8v1.8h-1.8zM1181 1191h1.8v1.8h-1.8zM1379 1187h1.8v1.8h-1.8zM1226 1081h1.8v1.8h-1.8zM1280 1087h1.8v1.8h-1.8zM1196 1181h1.8v1.8h-1.8zM1213 1156h1.8v1.8h-1.8zM1368 1157h1.8v1.8h-1.8zM1265 1161h1.8v1.8h-1.8zM1384 1106h1.8v1.8h-1.8zM1338 1115h1.8v1.8h-1.8zM1316 1081h1.8v1.8h-1.8zM1190 1110h1.8v1.8h-1.8zM1338 1115h1.8v1.8h-1.8zM1341 1127h1.8v1.8h-1.8zM1369 1225h1.8v1.8h-1.8zM1346 1110h1.8v1.8h-1.8zM1193 1152h1.8v1.8h-1.8zM1239 1079h1.8v1.8h-1.8zM1342 1214h1.8v1.8h-1.8zM1369 1228h1.8v1.8h-1.8zM1308 1161h1.8v1.8h-1.8zM1401 1139h1.8v1.8h-1.8zM1350 1124h1.8v1.8h-1.8zM1389 1179h1.8v1.8h-1.8zM1402 1218h1.8v1.8h-1.8zM1317 1161h1.8v1.8h-1.8zM1216 1109h1.8v1.8h-1.8zM1196 1177h1.8v1.8h-1.8zM1227 1078h1.8v1.8h-1.8zM1311 1187h1.8v1.8h-1.8zM1198 1116h1.8v1.8h-1.8zM1378 1192h1.8v1.8h-1.8zM1355 1118h1.8v1.8h-1.8zM1190 1186h1.8v1.8h-1.8zM1307 1174h1.8v1.8h-1.8zM1192 1179h1.8v1.8h-1.8zM1367 1157h1.8v1.8h-1.8zM1294 1103h1.8v1.8h-1.8zM1264 1111h1.8v1.8h-1.8zM1195 1237h1.8v1.8h-1.8zM1241 1096h1.8v1.8h-1.8zM1309 1108h1.8v1.8h-1.8zM1361 1110h1.8v1.8h-1.8zM1255 1125h1.8v1.8h-1.8zM1188 1211h1.8v1.8h-1.8zM1312 1178h1.8v1.8h-1.8zM1393 1095h1.8v1.8h-1.8zM1358 1126h1.8v1.8h-1.8zM1377 1237h1.8v1.8h-1.8zM1269 1216h1.8v1.8h-1.8zM1267 1092h1.8v1.8h-1.8zM1273 1180h1.8v1.8h-1.8zM1294 1155h1.8v1.8h-1.8zM1203 1180h1.8v1.8h-1.8zM1338 1179h1.8v1.8h-1.8zM1230 1195h1.8v1.8h-1.8zM1355 1130h1.8v1.8h-1.8zM1247 1147h1.8v1.8h-1.8zM1310 1235h1.8v1.8h-1.8zM1351 1077h1.8v1.8h-1.8zM1242 1174h1.8v1.8h-1.8zM1387 1184h1.8v1.8h-1.8zM1367 1106h1.8v1.8h-1.8zM1237 1127h1.8v1.8h-1.8zM1202 1195h1.8v1.8h-1.8zM1320 1191h1.8v1.8h-1.8zM1336 1191h1.8v1.8h-1.8zM1187 1163h1.8v1.8h-1.8zM1301 1114h1.8v1.8h-1.8zM1233 1217h1.8v1.8h-1.8zM1197 1079h1.8v1.8h-1.8zM1375 1224h1.8v1.8h-1.8zM1270 1140h1.8v1.8h-1.8zM1360 1179h1.8v1.8h-1.8zM1276 1137h1.8v1.8h-1.8zM1318 1152h1.8v1.8h-1.8zM1237 1243h1.8v1.8h-1.8zM1300 1134h1.8v1.8h-1.8zM1337 1108h1.8v1.8h-1.8zM1230 1156h1.8v1.8h-1.8zM1186 1146h1.8v1.8h-1.8zM1198 1200h1.8v1.8h-1.8zM1310 1217h1.8v1.8h-1.8zM1213 1098h1.8v1.8h-1.8zM1311 1176h1.8v1.8h-1.8zM1249 1085h1.8v1.8h-1.8zM1289 1240h1.8v1.8h-1.8zM1348 1093h1.8v1.8h-1.8zM1329 1203h1.8v1.8h-1.8zM1242 1091h1.8v1.8h-1.8zM1350 1080h1.8v1.8h-1.8zM1304 1081h1.8v1.8h-1.8zM1374 1126h1.8v1.8h-1.8zM1306 1186h1.8v1.8h-1.8zM1311 1190h1.8v1.8h-1.8zM1211 1088h1.8v1.8h-1.8zM1341 1082h1.8v1.8h-1.8zM1207 1165h1.8v1.8h-1.8zM1351 1093h1.8v1.8h-1.8zM1248 1078h1.8v1.8h-1.8zM1355 1103h1.8v1.8h-1.8zM1278 1131h1.8v1.8h-1.8zM1193 1232h1.8v1.8h-1.8zM1210 1079h1.8v1.8h-1.8zM1322 1083h1.8v1.8h-1.8zM1246 1135h1.8v1.8h-1.8zM1257 1228h1.8v1.8h-1.8zM1378 1181h1.8v1.8h-1.8zM1303 1181h1.8v1.8h-1.8zM1383 1137h1.8v1.8h-1.8zM1267 1195h1.8v1.8h-1.8zM1267 1137h1.8v1.8h-1.8zM1336 1174h1.8v1.8h-1.8zM1209 1128h1.8v1.8h-1.8zM1219 1159h1.8v1.8h-1.8zM1376 1180h1.8v1.8h-1.8zM1306 1085h1.8v1.8h-1.8zM1256 1227h1.8v1.8h-1.8zM1323 1218h1.8v1.8h-1.8zM1224 1083h1.8v1.8h-1.8zM1193 1121h1.8v1.8h-1.8zM1260 1149h1.8v1.8h-1.8zM1249 1215h1.8v1.8h-1.8zM1319 1184h1.8v1.8h-1.8zM1189 1241h1.8v1.8h-1.8zM1292 1133h1.8v1.8h-1.8zM1339 1230h1.8v1.8h-1.8zM1241 1171h1.8v1.8h-1.8zM1323 1126h1.8v1.8h-1.8zM1217 1103h1.8v1.8h-1.8zM1225 1239h1.8v1.8h-1.8zM1338 1136h1.8v1.8h-1.8zM1398 1127h1.8v1.8h-1.8zM1354 1167h1.8v1.8h-1.8zM1197 1227h1.8v1.8h-1.8zM1182 1227h1.8v1.8h-1.8zM1262 1181h1.8v1.8h-1.8zM1180 1132h1.8v1.8h-1.8zM1374 1227h1.8v1.8h-1.8zM1348 1178h1.8v1.8h-1.8zM1305 1092h1.8v1.8h-1.8zM1306 1210h1.8v1.8h-1.8zM1378 1088h1.8v1.8h-1.8zM1326 1086h1.8v1.8h-1.8zM1207 1193h1.8v1.8h-1.8zM1248 1155h1.8v1.8h-1.8zM1391 1210h1.8v1.8h-1.8zM1370 1204h1.8v1.8h-1.8zM1366 1137h1.8v1.8h-1.8zM1284 1120h1.8v1.8h-1.8zM1392 1197h1.8v1.8h-1.8zM1180 1121h1.8v1.8h-1.8zM1327 1081h1.8v1.8h-1.8zM1361 1080h1.8v1.8h-1.8zM1345 1124h1.8v1.8h-1.8zM1300 1105h1.8v1.8h-1.8zM1265 1169h1.8v1.8h-1.8zM1275 1210h1.8v1.8h-1.8zM1284 1181h1.8v1.8h-1.8zM1336 1178h1.8v1.8h-1.8zM1357 1076h1.8v1.8h-1.8zM1182 1211h1.8v1.8h-1.8zM1305 1156h1.8v1.8h-1.8zM1372 1220h1.8v1.8h-1.8zM1228 1162h1.8v1.8h-1.8zM1256 1134h1.8v1.8h-1.8zM1225 1155h1.8v1.8h-1.8zM1290 1172h1.8v1.8h-1.8zM1315 1201h1.8v1.8h-1.8zM1208 1092h1.8v1.8h-1.8zM1216 1239h1.8v1.8h-1.8zM1341 1195h1.8v1.8h-1.8zM1350 1096h1.8v1.8h-1.8zM1402 1196h1.8v1.8h-1.8zM1205 1096h1.8v1.8h-1.8zM1392 1184h1.8v1.8h-1.8zM1291 1129h1.8v1.8h-1.8zM1277 1174h1.8v1.8h-1.8zM1353 1145h1.8v1.8h-1.8zM1393 1201h1.8v1.8h-1.8zM1186 1208h1.8v1.8h-1.8zM1306 1158h1.8v1.8h-1.8zM1222 1098h1.8v1.8h-1.8zM1235 1092h1.8v1.8h-1.8zM1280 1234h1.8v1.8h-1.8zM1362 1115h1.8v1.8h-1.8zM1310 1088h1.8v1.8h-1.8zM1299 1142h1.8v1.8h-1.8zM1242 1086h1.8v1.8h-1.8zM1364 1133h1.8v1.8h-1.8zM1386 1201h1.8v1.8h-1.8zM1221 1170h1.8v1.8h-1.8zM1337 1152h1.8v1.8h-1.8zM1300 1126h1.8v1.8h-1.8zM1394 1098h1.8v1.8h-1.8zM1278 1096h1.8v1.8h-1.8zM1328 1203h1.8v1.8h-1.8zM1193 1216h1.8v1.8h-1.8zM1395 1114h1.8v1.8h-1.8zM1235 1076h1.8v1.8h-1.8zM1259 1179h1.8v1.8h-1.8zM1225 1087h1.8v1.8h-1.8zM1341 1114h1.8v1.8h-1.8zM1401 1197h1.8v1.8h-1.8zM1264 1210h1.8v1.8h-1.8zM1273 1187h1.8v1.8h-1.8zM1244 1152h1.8v1.8h-1.8zM1327 1205h1.8v1.8h-1.8zM1285 1214h1.8v1.8h-1.8zM1254 1229h1.8v1.8h-1.8zM1344 1236h1.8v1.8h-1.8zM1385 1218h1.8v1.8h-1.8zM1360 1134h1.8v1.8h-1.8zM1385 1078h1.8v1.8h-1.8zM1378 1130h1.8v1.8h-1.8zM1198 1198h1.8v1.8h-1.8zM1187 1178h1.8v1.8h-1.8zM1381 1242h1.8v1.8h-1.8zM1243 1119h1.8v1.8h-1.8zM1188 1148h1.8v1.8h-1.8zM1364 1114h1.8v1.8h-1.8zM1215 1232h1.8v1.8h-1.8zM1213 1135h1.8v1.8h-1.8zM1395 1100h1.8v1.8h-1.8zM1248 1189h1.8v1.8h-1.8zM1201 1205h1.8v1.8h-1.8zM1356 1115h1.8v1.8h-1.8zM1246 1213h1.8v1.8h-1.8zM1395 1238h1.8v1.8h-1.8zM1249 1099h1.8v1.8h-1.8zM1293 1134h1.8v1.8h-1.8zM1330 1191h1.8v1.8h-1.8zM1326 1133h1.8v1.8h-1.8zM1330 1076h1.8v1.8h-1.8zM1258 1231h1.8v1.8h-1.8zM1323 1145h1.8v1.8h-1.8zM1193 1140h1.8v1.8h-1.8zM1314 1086h1.8v1.8h-1.8zM1228 1183h1.8v1.8h-1.8zM1227 1234h1.8v1.8h-1.8zM1197 1194h1.8v1.8h-1.8zM1203 1239h1.8v1.8h-1.8zM1379 1110h1.8v1.8h-1.8zM1381 1194h1.8v1.8h-1.8zM1352 1128h1.8v1.8h-1.8zM1206 1179h1.8v1.8h-1.8zM1312 1096h1.8v1.8h-1.8zM1379 1160h1.8v1.8h-1.8zM1208 1188h1.8v1.8h-1.8zM1335 1219h1.8v1.8h-1.8zM1252 1078h1.8v1.8h-1.8zM1261 1228h1.8v1.8h-1.8zM1288 1212h1.8v1.8h-1.8zM1207 1092h1.8v1.8h-1.8zM1357 1207h1.8v1.8h-1.8zM1285 1112h1.8v1.8h-1.8zM1233 1219h1.8v1.8h-1.8zM1257 1187h1.8v1.8h-1.8zM1317 1234h1.8v1.8h-1.8zM1308 1107h1.8v1.8h-1.8zM1262 1132h1.8v1.8h-1.8zM1305 1242h1.8v1.8h-1.8zM1307 1164h1.8v1.8h-1.8zM1328 1179h1.8v1.8h-1.8zM1307 1220h1.8v1.8h-1.8zM1351 1163h1.8v1.8h-1.8zM1258 1134h1.8v1.8h-1.8zM1241 1138h1.8v1.8h-1.8zM1347 1153h1.8v1.8h-1.8zM1200 1206h1.8v1.8h-1.8zM1370 1179h1.8v1.8h-1.8zM1207 1237h1.8v1.8h-1.8zM1318 1155h1.8v1.8h-1.8zM1281 1108h1.8v1.8h-1.8zM1323 1230h1.8v1.8h-1.8zM1184 1184h1.8v1.8h-1.8zM1344 1213h1.8v1.8h-1.8zM1270 1191h1.8v1.8h-1.8zM1308 1192h1.8v1.8h-1.8zM1192 1083h1.8v1.8h-1.8zM1195 1114h1.8v1.8h-1.8zM1223 1158h1.8v1.8h-1.8zM1286 1109h1.8v1.8h-1.8zM1202 1081h1.8v1.8h-1.8zM1225 1117h1.8v1.8h-1.8zM1349 1170h1.8v1.8h-1.8zM1385 1148h1.8v1.8h-1.8zM1238 1159h1.8v1.8h-1.8zM1222 1172h1.8v1.8h-1.8zM1242 1108h1.8v1.8h-1.8zM1399 1094h1.8v1.8h-1.8zM1384 1195h1.8v1.8h-1.8zM1185 1102h1.8v1.8h-1.8zM1379 1077h1.8v1.8h-1.8zM1184 1171h1.8v1.8h-1.8zM1191 1142h1.8v1.8h-1.8zM1182 1237h1.8v1.8h-1.8zM1291 1203h1.8v1.8h-1.8zM1252 1170h1.8v1.8h-1.8zM1365 1170h1.8v1.8h-1.8zM1205 1117h1.8v1.8h-1.8zM1311 1165h1.8v1.8h-1.8zM1240 1186h1.8v1.8h-1.8zM1341 1079h1.8v1.8h-1.8zM1391 1089h1.8v1.8h-1.8zM1364 1081h1.8v1.8h-1.8zM1219 1193h1.8v1.8h-1.8zM1399 1106h1.8v1.8h-1.8zM1242 1111h1.8v1.8h-1.8zM1400 1175h1.8v1.8h-1.8zM1268 1143h1.8v1.8h-1.8zM1279 1229h1.8v1.8h-1.8zM1343 1100h1.8v1.8h-1.8zM1288 1109h1.8v1.8h-1.8zM1295 1168h1.8v1.8h-1.8zM1275 1085h1.8v1.8h-1.8zM1293 1199h1.8v1.8h-1.8zM1345 1128h1.8v1.8h-1.8zM1276 1242h1.8v1.8h-1.8zM1301 1197h1.8v1.8h-1.8zM1246 1203h1.8v1.8h-1.8zM1220 1113h1.8v1.8h-1.8zM1276 1166h1.8v1.8h-1.8zM1218 1118h1.8v1.8h-1.8zM1391 1143h1.8v1.8h-1.8zM1190 1086h1.8v1.8h-1.8zM1384 1083h1.8v1.8h-1.8zM1214 1139h1.8v1.8h-1.8zM1198 1146h1.8v1.8h-1.8zM1255 1151h1.8v1.8h-1.8zM1281 1098h1.8v1.8h-1.8zM1190 1152h1.8v1.8h-1.8zM1380 1102h1.8v1.8h-1.8zM1375 1187h1.8v1.8h-1.8zM1217 1153h1.8v1.8h-1.8zM1180 1224h1.8v1.8h-1.8zM1338 1091h1.8v1.8h-1.8zM1237 1159h1.8v1.8h-1.8zM1386 1107h1.8v1.8h-1.8zM1253 1156h1.8v1.8h-1.8zM1385 1196h1.8v1.8h-1.8zM1310 1195h1.8v1.8h-1.8zM1331 1112h1.8v1.8h-1.8zM1207 1168h1.8v1.8h-1.8zM1395 1132h1.8v1.8h-1.8zM1339 1211h1.8v1.8h-1.8zM1402 1205h1.8v1.8h-1.8zM1235 1114h1.8v1.8h-1.8zM1246 1085h1.8v1.8h-1.8zM1196 1194h1.8v1.8h-1.8zM1276 1142h1.8v1.8h-1.8zM1350 1232h1.8v1.8h-1.8zM1322 1101h1.8v1.8h-1.8zM1224 1113h1.8v1.8h-1.8zM1353 1111h1.8v1.8h-1.8zM1215 1223h1.8v1.8h-1.8zM1227 1226h1.8v1.8h-1.8zM1375 1233h1.8v1.8h-1.8zM1209 1110h1.8v1.8h-1.8zM1247 1158h1.8v1.8h-1.8zM1249 1134h1.8v1.8h-1.8zM1334 1176h1.8v1.8h-1.8zM1184 1138h1.8v1.8h-1.8zM1346 1170h1.8v1.8h-1.8zM1347 1152h1.8v1.8h-1.8zM1343 1083h1.8v1.8h-1.8zM1308 1164h1.8v1.8h-1.8zM1279 1156h1.8v1.8h-1.8zM1207 1207h1.8v1.8h-1.8zM1402 1214h1.8v1.8h-1.8zM1285 1188h1.8v1.8h-1.8zM1263 1093h1.8v1.8h-1.8zM1396 1165h1.8v1.8h-1.8zM1255 1203h1.8v1.8h-1.8zM1271 1200h1.8v1.8h-1.8zM1330 1128h1.8v1.8h-1.8zM1400 1236h1.8v1.8h-1.8zM1242 1169h1.8v1.8h-1.8zM1394 1108h1.8v1.8h-1.8zM1271 1234h1.8v1.8h-1.8zM1326 1242h1.8v1.8h-1.8zM1383 1098h1.8v1.8h-1.8zM1300 1183h1.8v1.8h-1.8zM1343 1167h1.8v1.8h-1.8zM1285 1241h1.8v1.8h-1.8zM1341 1219h1.8v1.8h-1.8zM1259 1178h1.8v1.8h-1.8zM1253 1191h1.8v1.8h-1.8zM1248 1187h1.8v1.8h-1.8zM1393 1224h1.8v1.8h-1.8zM1399 1242h1.8v1.8h-1.8zM1240 1091h1.8v1.8h-1.8zM1363 1213h1.8v1.8h-1.8zM1189 1102h1.8v1.8h-1.8zM1259 1182h1.8v1.8h-1.8zM1265 1136h1.8v1.8h-1.8zM1372 1127h1.8v1.8h-1.8zM1254 1201h1.8v1.8h-1.8zM1246 1238h1.8v1.8h-1.8zM1319 1183h1.8v1.8h-1.8zM1181 1154h1.8v1.8h-1.8zM1302 1212h1.8v1.8h-1.8zM1254 1117h1.8v1.8h-1.8zM1282 1162h1.8v1.8h-1.8zM1212 1111h1.8v1.8h-1.8zM1386 1240h1.8v1.8h-1.8zM1325 1099h1.8v1.8h-1.8zM1232 1210h1.8v1.8h-1.8zM1245 1163h1.8v1.8h-1.8zM1263 1182h1.8v1.8h-1.8zM1192 1147h1.8v1.8h-1.8zM1218 1161h1.8v1.8h-1.8zM1348 1092h1.8v1.8h-1.8zM1352 1218h1.8v1.8h-1.8zM1299 1172h1.8v1.8h-1.8zM1306 1219h1.8v1.8h-1.8zM1329 1082h1.8v1.8h-1.8zM1184 1130h1.8v1.8h-1.8zM1353 1111h1.8v1.8h-1.8zM1366 1202h1.8v1.8h-1.8zM1218 1151h1.8v1.8h-1.8zM1336 1211h1.8v1.8h-1.8zM1399 1121h1.8v1.8h-1.8zM1291 1148h1.8v1.8h-1.8zM1328 1146h1.8v1.8h-1.8zM1274 1155h1.8v1.8h-1.8zM1258 1238h1.8v1.8h-1.8zM1385 1159h1.8v1.8h-1.8zM1225 1164h1.8v1.8h-1.8zM1317 1187h1.8v1.8h-1.8zM1239 1122h1.8v1.8h-1.8zM1321 1240h1.8v1.8h-1.8zM1356 1112h1.8v1.8h-1.8zM1278 1100h1.8v1.8h-1.8zM1251 1152h1.8v1.8h-1.8zM1368 1133h1.8v1.8h-1.8zM1336 1154h1.8v1.8h-1.8zM1360 1208h1.8v1.8h-1.8zM1237 1099h1.8v1.8h-1.8zM1374 1096h1.8v1.8h-1.8zM1350 1156h1.8v1.8h-1.8zM1231 1234h1.8v1.8h-1.8zM1208 1219h1.8v1.8h-1.8zM1184 1233h1.8v1.8h-1.8zM1220 1105h1.8v1.8h-1.8zM1370 1197h1.8v1.8h-1.8zM1355 1120h1.8v1.8h-1.8zM1261 1217h1.8v1.8h-1.8zM1203 1177h1.8v1.8h-1.8zM1193 1097h1.8v1.8h-1.8zM1240 1213h1.8v1.8h-1.8zM1264 1095h1.8v1.8h-1.8zM1387 1185h1.8v1.8h-1.8zM1239 1182h1.8v1.8h-1.8zM1347 1130h1.8v1.8h-1.8zM1395 1145h1.8v1.8h-1.8zM1395 1186h1.8v1.8h-1.8zM1259 1213h1.8v1.8h-1.8zM1319 1219h1.8v1.8h-1.8zM1303 1209h1.8v1.8h-1.8zM1312 1187h1.8v1.8h-1.8zM1304 1230h1.8v1.8h-1.8zM1207 1187h1.8v1.8h-1.8zM1281 1239h1.8v1.8h-1.8zM1274 1076h1.8v1.8h-1.8zM1263 1110h1.8v1.8h-1.8zM1213 1119h1.8v1.8h-1.8zM1257 1134h1.8v1.8h-1.8zM1254 1167h1.8v1.8h-1.8zM1232 1107h1.8v1.8h-1.8zM1382 1135h1.8v1.8h-1.8zM1182 1149h1.8v1.8h-1.8zM1333 1200h1.8v1.8h-1.8zM1228 1186h1.8v1.8h-1.8zM1319 1168h1.8v1.8h-1.8zM1259 1173h1.8v1.8h-1.8zM1353 1188h1.8v1.8h-1.8zM1319 1220h1.8v1.8h-1.8zM1208 1214h1.8v1.8h-1.8zM1182 1130h1.8v1.8h-1.8zM1344 1123h1.8v1.8h-1.8zM1301 1157h1.8v1.8h-1.8zM1302 1238h1.8v1.8h-1.8zM1396 1115h1.8v1.8h-1.8zM1240 1098h1.8v1.8h-1.8zM1338 1145h1.8v1.8h-1.8zM1337 1198h1.8v1.8h-1.8zM1395 1173h1.8v1.8h-1.8zM1270 1200h1.8v1.8h-1.8zM1202 1122h1.8v1.8h-1.8zM1330 1162h1.8v1.8h-1.8zM1387 1174h1.8v1.8h-1.8zM1228 1160h1.8v1.8h-1.8zM1194 1139h1.8v1.8h-1.8zM1232 1095h1.8v1.8h-1.8zM1367 1128h1.8v1.8h-1.8zM1267 1172h1.8v1.8h-1.8zM1299 1174h1.8v1.8h-1.8zM1361 1205h1.8v1.8h-1.8zM1331 1148h1.8v1.8h-1.8zM1274 1219h1.8v1.8h-1.8zM1293 1134h1.8v1.8h-1.8zM1222 1175h1.8v1.8h-1.8zM1336 1115h1.8v1.8h-1.8zM1363 1239h1.8v1.8h-1.8zM1315 1152h1.8v1.8h-1.8zM1270 1163h1.8v1.8h-1.8zM1296 1105h1.8v1.8h-1.8zM1331 1229h1.8v1.8h-1.8zM1243 1239h1.8v1.8h-1.8zM1191 1151h1.8v1.8h-1.8zM1366 1106h1.8v1.8h-1.8zM1336 1177h1.8v1.8h-1.8zM1194 1200h1.8v1.8h-1.8zM1299 1129h1.8v1.8h-1.8zM1334 1208h1.8v1.8h-1.8zM1213 1084h1.8v1.8h-1.8zM1396 1131h1.8v1.8h-1.8zM1379 1189h1.8v1.8h-1.8zM1320 1222h1.8v1.8h-1.8zM1394 1078h1.8v1.8h-1.8zM1286 1194h1.8v1.8h-1.8zM1270 1093h1.8v1.8h-1.8zM1359 1177h1.8v1.8h-1.8zM1342 1145h1.8v1.8h-1.8zM1308 1149h1.8v1.8h-1.8zM1313 1089h1.8v1.8h-1.8zM1357 1092h1.8v1.8h-1.8zM1376 1117h1.8v1.8h-1.8zM1321 1081h1.8v1.8h-1.8zM1255 1220h1.8v1.8h-1.8zM1286 1106h1.8v1.8h-1.8zM1398 1077h1.8v1.8h-1.8zM1298 1151h1.8v1.8h-1.8zM1305 1186h1.8v1.8h-1.8zM1239 1178h1.8v1.8h-1.8zM1384 1192h1.8v1.8h-1.8zM1343 1186h1.8v1.8h-1.8zM1290 1096h1.8v1.8h-1.8zM1373 1150h1.8v1.8h-1.8zM1186 1142h1.8v1.8h-1.8zM1383 1133h1.8v1.8h-1.8zM1239 1204h1.8v1.8h-1.8zM1356 1165h1.8v1.8h-1.8zM1362 1232h1.8v1.8h-1.8zM1221 1216h1.8v1.8h-1.8zM1390 1103h1.8v1.8h-1.8zM1333 1211h1.8v1.8h-1.8zM1355 1149h1.8v1.8h-1.8zM1382 1227h1.8v1.8h-1.8zM1303 1208h1.8v1.8h-1.8zM1371 1185h1.8v1.8h-1.8zM1287 1131h1.8v1.8h-1.8zM1253 1126h1.8v1.8h-1.8zM1242 1190h1.8v1.8h-1.8zM1276 1131h1.8v1.8h-1.8zM1280 1135h1.8v1.8h-1.8zM1212 1140h1.8v1.8h-1.8zM1299 1230h1.8v1.8h-1.8zM1179 1160h1.8v1.8h-1.8zM1298 1097h1.8v1.8h-1.8zM1371 1179h1.8v1.8h-1.8zM1210 1209h1.8v1.8h-1.8zM1276 1151h1.8v1.8h-1.8zM1323 1204h1.8v1.8h-1.8zM1357 1171h1.8v1.8h-1.8zM1289 1229h1.8v1.8h-1.8zM1371 1115h1.8v1.8h-1.8zM1388 1080h1.8v1.8h-1.8zM1350 1104h1.8v1.8h-1.8zM1357 1087h1.8v1.8h-1.8zM1387 1090h1.8v1.8h-1.8zM1348 1205h1.8v1.8h-1.8zM1214 1130h1.8v1.8h-1.8zM1309 1079h1.8v1.8h-1.8zM1306 1090h1.8v1.8h-1.8zM1206 1078h1.8v1.8h-1.8zM1293 1210h1.8v1.8h-1.8zM1193 1112h1.8v1.8h-1.8zM1348 1238h1.8v1.8h-1.8zM1297 1109h1.8v1.8h-1.8zM1195 1129h1.8v1.8h-1.8zM1322 1118h1.8v1.8h-1.8zM1213 1113h1.8v1.8h-1.8zM1253 1229h1.8v1.8h-1.8zM1390 1105h1.8v1.8h-1.8zM1262 1226h1.8v1.8h-1.8zM1376 1141h1.8v1.8h-1.8zM1285 1187h1.8v1.8h-1.8zM1383 1124h1.8v1.8h-1.8zM1320 1095h1.8v1.8h-1.8zM1316 1224h1.8v1.8h-1.8zM1201 1154h1.8v1.8h-1.8zM1280 1107h1.8v1.8h-1.8zM1383 1221h1.8v1.8h-1.8zM1321 1230h1.8v1.8h-1.8zM1287 1079h1.8v1.8h-1.8zM1304 1152h1.8v1.8h-1.8zM1276 1232h1.8v1.8h-1.8zM1332 1122h1.8v1.8h-1.8zM1263 1201h1.8v1.8h-1.8zM1385 1154h1.8v1.8h-1.8zM1300 1232h1.8v1.8h-1.8zM1248 1167h1.8v1.8h-1.8zM1313 1231h1.8v1.8h-1.8zM1262 1192h1.8v1.8h-1.8zM1340 1087h1.8v1.8h-1.8zM1338 1225h1.8v1.8h-1.8zM1330 1210h1.8v1.8h-1.8zM1361 1190h1.8v1.8h-1.8zM1353 1131h1.8v1.8h-1.8zM1352 1161h1.8v1.8h-1.8zM1222 1173h1.8v1.8h-1.8zM1281 1084h1.8v1.8h-1.8zM1311 1171h1.8v1.8h-1.8zM1202 1149h1.8v1.8h-1.8zM1235 1100h1.8v1.8h-1.8zM1335 1130h1.8v1.8h-1.8zM1352 1105h1.8v1.8h-1.8zM1362 1091h1.8v1.8h-1.8zM1195 1182h1.8v1.8h-1.8zM1259 1237h1.8v1.8h-1.8zM1329 1077h1.8v1.8h-1.8zM1307 1173h1.8v1.8h-1.8zM1397 1192h1.8v1.8h-1.8zM1392 1150h1.8v1.8h-1.8zM1398 1156h1.8v1.8h-1.8zM1342 1225h1.8v1.8h-1.8zM1222 1155h1.8v1.8h-1.8zM1329 1125h1.8v1.8h-1.8zM1249 1087h1.8v1.8h-1.8zM1278 1196h1.8v1.8h-1.8zM1202 1100h1.8v1.8h-1.8zM1296 1123h1.8v1.8h-1.8zM1272 1226h1.8v1.8h-1.8zM1371 1145h1.8v1.8h-1.8zM1391 1170h1.8v1.8h-1.8zM1330 1233h1.8v1.8h-1.8zM1228 1228h1.8v1.8h-1.8zM1188 1138h1.8v1.8h-1.8zM1288 1133h1.8v1.8h-1.8zM1186 1163h1.8v1.8h-1.8zM1245 1099h1.8v1.8h-1.8zM1303 1180h1.8v1.8h-1.8zM1229 1241h1.8v1.8h-1.8zM1308 1111h1.8v1.8h-1.8zM1266 1091h1.8v1.8h-1.8zM1338 1127h1.8v1.8h-1.8zM1317 1207h1.8v1.8h-1.8zM1355 1087h1.8v1.8h-1.8zM1318 1128h1.8v1.8h-1.8zM1236 1229h1.8v1.8h-1.8zM1187 1133h1.8v1.8h-1.8zM1391 1091h1.8v1.8h-1.8zM1288 1138h1.8v1.8h-1.8zM1237 1189h1.8v1.8h-1.8zM1305 1118h1.8v1.8h-1.8zM1255 1202h1.8v1.8h-1.8zM1204 1101h1.8v1.8h-1.8zM1216 1123h1.8v1.8h-1.8zM1335 1218h1.8v1.8h-1.8zM1400 1193h1.8v1.8h-1.8zM1288 1077h1.8v1.8h-1.8zM1333 1133h1.8v1.8h-1.8zM1208 1172h1.8v1.8h-1.8zM1377 1164h1.8v1.8h-1.8zM1255 1183h1.8v1.8h-1.8zM1259 1182h1.8v1.8h-1.8zM1246 1240h1.8v1.8h-1.8zM1224 1081h1.8v1.8h-1.8zM1262 1155h1.8v1.8h-1.8zM1218 1181h1.8v1.8h-1.8zM1195 1173h1.8v1.8h-1.8zM1199 1155h1.8v1.8h-1.8zM1313 1170h1.8v1.8h-1.8zM1294 1203h1.8v1.8h-1.8zM1235 1174h1.8v1.8h-1.8zM1332 1198h1.8v1.8h-1.8zM1291 1218h1.8v1.8h-1.8zM1240 1124h1.8v1.8h-1.8zM1192 1100h1.8v1.8h-1.8zM1385 1169h1.8v1.8h-1.8zM1269 1172h1.8v1.8h-1.8zM1224 1129h1.8v1.8h-1.8zM1329 1097h1.8v1.8h-1.8zM1307 1138h1.8v1.8h-1.8zM1349 1079h1.8v1.8h-1.8zM1188 1087h1.8v1.8h-1.8zM1355 1242h1.8v1.8h-1.8zM1215 1115h1.8v1.8h-1.8zM1335 1138h1.8v1.8h-1.8zM1246 1192h1.8v1.8h-1.8zM1354 1180h1.8v1.8h-1.8zM1181 1164h1.8v1.8h-1.8zM1219 1097h1.8v1.8h-1.8zM1191 1224h1.8v1.8h-1.8zM1255 1094h1.8v1.8h-1.8zM1237 1140h1.8v1.8h-1.8zM1314 1126h1.8v1.8h-1.8zM1316 1209h1.8v1.8h-1.8zM1268 1077h1.8v1.8h-1.8zM1370 1239h1.8v1.8h-1.8zM1311 1158h1.8v1.8h-1.8zM1359 1089h1.8v1.8h-1.8zM1225 1179h1.8v1.8h-1.8zM1333 1154h1.8v1.8h-1.8zM1268 1166h1.8v1.8h-1.8zM1195 1194h1.8v1.8h-1.8zM1218 1202h1.8v1.8h-1.8zM1285 1184h1.8v1.8h-1.8zM1352 1210h1.8v1.8h-1.8zM1321 1158h1.8v1.8h-1.8zM1262 1173h1.8v1.8h-1.8zM1263 1182h1.8v1.8h-1.8zM1335 1218h1.8v1.8h-1.8zM1388 1220h1.8v1.8h-1.8zM1307 1136h1.8v1.8h-1.8zM1373 1228h1.8v1.8h-1.8zM1306 1196h1.8v1.8h-1.8zM1324 1086h1.8v1.8h-1.8zM1358 1203h1.8v1.8h-1.8zM1400 1202h1.8v1.8h-1.8zM1394 1209h1.8v1.8h-1.8zM1315 1161h1.8v1.8h-1.8zM1316 1148h1.8v1.8h-1.8zM1396 1123h1.8v1.8h-1.8zM1309 1163h1.8v1.8h-1.8zM1184 1212h1.8v1.8h-1.8zM1225 1208h1.8v1.8h-1.8zM1342 1145h1.8v1.8h-1.8zM1281 1118h1.8v1.8h-1.8zM1242 1223h1.8v1.8h-1.8zM1301 1150h1.8v1.8h-1.8zM1369 1149h1.8v1.8h-1.8zM1184 1144h1.8v1.8h-1.8zM1182 1160h1.8v1.8h-1.8zM1203 1187h1.8v1.8h-1.8zM1299 1116h1.8v1.8h-1.8zM1376 1105h1.8v1.8h-1.8zM1268 1123h1.8v1.8h-1.8zM1323 1076h1.8v1.8h-1.8zM1200 1117h1.8v1.8h-1.8zM1333 1109h1.8v1.8h-1.8zM1199 1149h1.8v1.8h-1.8zM1296 1099h1.8v1.8h-1.8zM1385 1208h1.8v1.8h-1.8zM1206 1140h1.8v1.8h-1.8zM1337 1133h1.8v1.8h-1.8zM1272 1182h1.8v1.8h-1.8zM1303 1197h1.8v1.8h-1.8zM1335 1143h1.8v1.8h-1.8zM1230 1219h1.8v1.8h-1.8zM1318 1143h1.8v1.8h-1.8zM1285 1141h1.8v1.8h-1.8zM1266 1120h1.8v1.8h-1.8zM1193 1157h1.8v1.8h-1.8zM1243 1190h1.8v1.8h-1.8zM1220 1105h1.8v1.8h-1.8zM1283 1208h1.8v1.8h-1.8zM1227 1229h1.8v1.8h-1.8zM1333 1193h1.8v1.8h-1.8zM1369 1140h1.8v1.8h-1.8zM1228 1170h1.8v1.8h-1.8zM1213 1207h1.8v1.8h-1.8zM1321 1189h1.8v1.8h-1.8zM1374 1121h1.8v1.8h-1.8zM1357 1112h1.8v1.8h-1.8zM1239 1109h1.8v1.8h-1.8zM1337 1151h1.8v1.8h-1.8zM1197 1221h1.8v1.8h-1.8zM1273 1078h1.8v1.8h-1.8zM1400 1107h1.8v1.8h-1.8zM1296 1169h1.8v1.8h-1.8zM1186 1184h1.8v1.8h-1.8zM1243 1134h1.8v1.8h-1.8zM1318 1218h1.8v1.8h-1.8zM1333 1182h1.8v1.8h-1.8zM1327 1091h1.8v1.8h-1.8zM1217 1239h1.8v1.8h-1.8zM1277 1128h1.8v1.8h-1.8zM1373 1092h1.8v1.8h-1.8zM1290 1078h1.8v1.8h-1.8zM1376 1083h1.8v1.8h-1.8zM1191 1143h1.8v1.8h-1.8zM1207 1225h1.8v1.8h-1.8zM1345 1128h1.8v1.8h-1.8zM1230 1182h1.8v1.8h-1.8zM1315 1159h1.8v1.8h-1.8zM1204 1087h1.8v1.8h-1.8zM1277 1162h1.8v1.8h-1.8zM1367 1173h1.8v1.8h-1.8zM1241 1118h1.8v1.8h-1.8zM1336 1130h1.8v1.8h-1.8zM1179 1086h1.8v1.8h-1.8zM1343 1216h1.8v1.8h-1.8zM1396 1110h1.8v1.8h-1.8zM1335 1130h1.8v1.8h-1.8zM1304 1099h1.8v1.8h-1.8zM1305 1175h1.8v1.8h-1.8zM1232 1237h1.8v1.8h-1.8zM1361 1143h1.8v1.8h-1.8zM1338 1137h1.8v1.8h-1.8zM1304 1238h1.8v1.8h-1.8zM1325 1104h1.8v1.8h-1.8zM1229 1194h1.8v1.8h-1.8zM1180 1113h1.8v1.8h-1.8zM1361 1136h1.8v1.8h-1.8zM1375 1126h1.8v1.8h-1.8zM1191 1241h1.8v1.8h-1.8zM1400 1192h1.8v1.8h-1.8zM1266 1226h1.8v1.8h-1.8zM1236 1226h1.8v1.8h-1.8zM1188 1156h1.8v1.8h-1.8zM1318 1085h1.8v1.8h-1.8zM1281 1128h1.8v1.8h-1.8zM1208 1184h1.8v1.8h-1.8zM1394 1095h1.8v1.8h-1.8zM1397 1185h1.8v1.8h-1.8zM1377 1156h1.8v1.8h-1.8zM1190 1086h1.8v1.8h-1.8zM1183 1221h1.8v1.8h-1.8zM1366 1191h1.8v1.8h-1.8zM1400 1216h1.8v1.8h-1.8zM1187 1136h1.8v1.8h-1.8zM1213 1182h1.8v1.8h-1.8zM1355 1166h1.8v1.8h-1.8zM1331 1224h1.8v1.8h-1.8zM1370 1093h1.8v1.8h-1.8zM1250 1224h1.8v1.8h-1.8zM1277 1129h1.8v1.8h-1.8zM1212 1240h1.8v1.8h-1.8zM1339 1101h1.8v1.8h-1.8zM1226 1179h1.8v1.8h-1.8zM1369 1098h1.8v1.8h-1.8zM1339 1091h1.8v1.8h-1.8zM1203 1226h1.8v1.8h-1.8zM1302 1224h1.8v1.8h-1.8zM1353 1113h1.8v1.8h-1.8zM1192 1119h1.8v1.8h-1.8zM1385 1118h1.8v1.8h-1.8zM1378 1216h1.8v1.8h-1.8zM1301 1195h1.8v1.8h-1.8zM1345 1183h1.8v1.8h-1.8zM1185 1151h1.8v1.8h-1.8zM1321 1199h1.8v1.8h-1.8zM1184 1176h1.8v1.8h-1.8zM1336 1225h1.8v1.8h-1.8zM1285 1235h1.8v1.8h-1.8zM1332 1235h1.8v1.8h-1.8zM1279 1237h1.8v1.8h-1.8zM1368 1187h1.8v1.8h-1.8zM1208 1135h1.8v1.8h-1.8zM1273 1181h1.8v1.8h-1.8zM1356 1110h1.8v1.8h-1.8zM1293 1115h1.8v1.8h-1.8zM1397 1152h1.8v1.8h-1.8zM1246 1186h1.8v1.8h-1.8zM1335 1088h1.8v1.8h-1.8zM1338 1088h1.8v1.8h-1.8zM1283 1154h1.8v1.8h-1.8zM1318 1203h1.8v1.8h-1.8zM1289 1209h1.8v1.8h-1.8zM1194 1127h1.8v1.8h-1.8zM1216 1103h1.8v1.8h-1.8zM1229 1093h1.8v1.8h-1.8zM1398 1147h1.8v1.8h-1.8zM1305 1114h1.8v1.8h-1.8zM1400 1235h1.8v1.8h-1.8zM1326 1095h1.8v1.8h-1.8zM1294 1202h1.8v1.8h-1.8zM1274 1121h1.8v1.8h-1.8zM1196 1111h1.8v1.8h-1.8zM1401 1179h1.8v1.8h-1.8zM1281 1176h1.8v1.8h-1.8zM1348 1197h1.8v1.8h-1.8zM1235 1113h1.8v1.8h-1.8zM1291 1125h1.8v1.8h-1.8zM1269 1103h1.8v1.8h-1.8zM1281 1208h1.8v1.8h-1.8zM1254 1212h1.8v1.8h-1.8zM1382 1223h1.8v1.8h-1.8zM1215 1184h1.8v1.8h-1.8zM1375 1163h1.8v1.8h-1.8zM1221 1144h1.8v1.8h-1.8zM1317 1176h1.8v1.8h-1.8zM1204 1158h1.8v1.8h-1.8zM1302 1155h1.8v1.8h-1.8zM1355 1175h1.8v1.8h-1.8zM1376 1108h1.8v1.8h-1.8zM1279 1232h1.8v1.8h-1.8zM1307 1137h1.8v1.8h-1.8zM1252 1101h1.8v1.8h-1.8zM1240 1150h1.8v1.8h-1.8zM1305 1146h1.8v1.8h-1.8zM1257 1229h1.8v1.8h-1.8zM1339 1155h1.8v1.8h-1.8zM1378 1225h1.8v1.8h-1.8zM1186 1093h1.8v1.8h-1.8zM1375 1101h1.8v1.8h-1.8zM1391 1174h1.8v1.8h-1.8zM1356 1087h1.8v1.8h-1.8zM1215 1152h1.8v1.8h-1.8zM1259 1221h1.8v1.8h-1.8zM1269 1192h1.8v1.8h-1.8zM1294 1221h1.8v1.8h-1.8zM1179 1165h1.8v1.8h-1.8zM1275 1091h1.8v1.8h-1.8zM1387 1094h1.8v1.8h-1.8zM1262 1086h1.8v1.8h-1.8zM1183 1076h1.8v1.8h-1.8zM1397 1183h1.8v1.8h-1.8zM1218 1206h1.8v1.8h-1.8zM1387 1131h1.8v1.8h-1.8zM1265 1192h1.8v1.8h-1.8zM1280 1195h1.8v1.8h-1.8zM1366 1089h1.8v1.8h-1.8zM1228 1219h1.8v1.8h-1.8zM1196 1191h1.8v1.8h-1.8zM1244 1240h1.8v1.8h-1.8zM1381 1233h1.8v1.8h-1.8zM1231 1201h1.8v1.8h-1.8zM1396 1197h1.8v1.8h-1.8zM1306 1109h1.8v1.8h-1.8zM1226 1083h1.8v1.8h-1.8zM1295 1152h1.8v1.8h-1.8zM1375 1121h1.8v1.8h-1.8zM1326 1215h1.8v1.8h-1.8zM1268 1100h1.8v1.8h-1.8zM1302 1152h1.8v1.8h-1.8zM1268 1204h1.8v1.8h-1.8zM1399 1107h1.8v1.8h-1.8zM1240 1142h1.8v1.8h-1.8zM1366 1220h1.8v1.8h-1.8zM1354 1076h1.8v1.8h-1.8zM1346 1122h1.8v1.8h-1.8zM1233 1120h1.8v1.8h-1.8zM1335 1176h1.8v1.8h-1.8zM1317 1136h1.8v1.8h-1.8zM1360 1118h1.8v1.8h-1.8zM1366 1142h1.8v1.8h-1.8zM1330 1214h1.8v1.8h-1.8zM1187 1155h1.8v1.8h-1.8zM1220 1202h1.8v1.8h-1.8zM1318 1116h1.8v1.8h-1.8zM1395 1143h1.8v1.8h-1.8zM1325 1126h1.8v1.8h-1.8zM1311 1167h1.8v1.8h-1.8zM1218 1079h1.8v1.8h-1.8zM1270 1097h1.8v1.8h-1.8zM1371 1169h1.8v1.8h-1.8zM1276 1181h1.8v1.8h-1.8zM1267 1127h1.8v1.8h-1.8zM1235 1202h1.8v1.8h-1.8zM1212 1169h1.8v1.8h-1.8zM1246 1128h1.8v1.8h-1.8zM1232 1180h1.8v1.8h-1.8zM1317 1203h1.8v1.8h-1.8zM1341 1209h1.8v1.8h-1.8zM1367 1214h1.8v1.8h-1.8zM1342 1228h1.8v1.8h-1.8zM1392 1097h1.8v1.8h-1.8zM1291 1085h1.8v1.8h-1.8zM1329 1228h1.8v1.8h-1.8zM1202 1212h1.8v1.8h-1.8zM1397 1139h1.8v1.8h-1.8zM1341 1089h1.8v1.8h-1.8zM1204 1171h1.8v1.8h-1.8zM1191 1147h1.8v1.8h-1.8zM1278 1211h1.8v1.8h-1.8zM1252 1103h1.8v1.8h-1.8zM1369 1229h1.8v1.8h-1.8zM1196 1242h1.8v1.8h-1.8zM1367 1076h1.8v1.8h-1.8zM1380 1171h1.8v1.8h-1.8zM1313 1175h1.8v1.8h-1.8zM1342 1097h1.8v1.8h-1.8zM1304 1212h1.8v1.8h-1.8zM1363 1155h1.8v1.8h-1.8zM1370 1124h1.8v1.8h-1.8zM1301 1080h1.8v1.8h-1.8zM1264 1110h1.8v1.8h-1.8zM1400 1184h1.8v1.8h-1.8zM1283 1119h1.8v1.8h-1.8zM1183 1193h1.8v1.8h-1.8zM1243 1166h1.8v1.8h-1.8zM1186 1211h1.8v1.8h-1.8zM1272 1238h1.8v1.8h-1.8zM1357 1133h1.8v1.8h-1.8zM1224 1092h1.8v1.8h-1.8zM1284 1150h1.8v1.8h-1.8zM1330 1100h1.8v1.8h-1.8zM1316 1179h1.8v1.8h-1.8zM1306 1223h1.8v1.8h-1.8zM1219 1124h1.8v1.8h-1.8zM1377 1188h1.8v1.8h-1.8zM1402 1104h1.8v1.8h-1.8zM1203 1227h1.8v1.8h-1.8zM1230 1166h1.8v1.8h-1.8zM1325 1147h1.8v1.8h-1.8zM1189 1138h1.8v1.8h-1.8zM1186 1173h1.8v1.8h-1.8zM1282 1228h1.8v1.8h-1.8zM1247 1229h1.8v1.8h-1.8zM1370 1155h1.8v1.8h-1.8zM1200 1233h1.8v1.8h-1.8zM1241 1242h1.8v1.8h-1.8zM1261 1183h1.8v1.8h-1.8zM1202 1186h1.8v1.8h-1.8zM1378 1236h1.8v1.8h-1.8zM1260 1216h1.8v1.8h-1.8zM1202 1167h1.8v1.8h-1.8zM1251 1170h1.8v1.8h-1.8zM1339 1094h1.8v1.8h-1.8zM1288 1142h1.8v1.8h-1.8zM1338 1161h1.8v1.8h-1.8zM1354 1234h1.8v1.8h-1.8zM1378 1114h1.8v1.8h-1.8zM1344 1223h1.8v1.8h-1.8zM1275 1225h1.8v1.8h-1.8zM1270 1241h1.8v1.8h-1.8zM1274 1077h1.8v1.8h-1.8zM1374 1166h1.8v1.8h-1.8zM1187 1112h1.8v1.8h-1.8zM1195 1179h1.8v1.8h-1.8zM1341 1112h1.8v1.8h-1.8zM1377 1215h1.8v1.8h-1.8zM1231 1078h1.8v1.8h-1.8zM1394 1142h1.8v1.8h-1.8zM1375 1230h1.8v1.8h-1.8zM1346 1162h1.8v1.8h-1.8zM1210 1093h1.8v1.8h-1.8zM1336 1209h1.8v1.8h-1.8zM1272 1109h1.8v1.8h-1.8zM1324 1098h1.8v1.8h-1.8zM1343 1101h1.8v1.8h-1.8zM1373 1179h1.8v1.8h-1.8zM1197 1220h1.8v1.8h-1.8zM1256 1165h1.8v1.8h-1.8zM1387 1144h1.8v1.8h-1.8zM1241 1219h1.8v1.8h-1.8zM1196 1204h1.8v1.8h-1.8zM1397 1090h1.8v1.8h-1.8zM1208 1127h1.8v1.8h-1.8zM1357 1165h1.8v1.8h-1.8zM1358 1231h1.8v1.8h-1.8zM1375 1187h1.8v1.8h-1.8zM1187 1102h1.8v1.8h-1.8zM1387 1159h1.8v1.8h-1.8zM1382 1215h1.8v1.8h-1.8zM1330 1170h1.8v1.8h-1.8zM1374 1090h1.8v1.8h-1.8zM1291 1131h1.8v1.8h-1.8zM1257 1091h1.8v1.8h-1.8zM1184 1196h1.8v1.8h-1.8zM1218 1098h1.8v1.8h-1.8zM1333 1217h1.8v1.8h-1.8zM1241 1189h1.8v1.8h-1.8zM1402 1101h1.8v1.8h-1.8zM1338 1191h1.8v1.8h-1.8zM1236 1150h1.8v1.8h-1.8zM1354 1216h1.8v1.8h-1.8zM1370 1236h1.8v1.8h-1.8zM1323 1219h1.8v1.8h-1.8zM1276 1161h1.8v1.8h-1.8zM1321 1182h1.8v1.8h-1.8zM1247 1125h1.8v1.8h-1.8zM1362 1186h1.8v1.8h-1.8zM1378 1229h1.8v1.8h-1.8zM1192 1134h1.8v1.8h-1.8zM1380 1139h1.8v1.8h-1.8zM1402 1187h1.8v1.8h-1.8zM1353 1083h1.8v1.8h-1.8zM1307 1165h1.8v1.8h-1.8zM1307 1120h1.8v1.8h-1.8zM1366 1165h1.8v1.8h-1.8zM1402 1165h1.8v1.8h-1.8zM1322 1222h1.8v1.8h-1.8zM1402 1166h1.8v1.8h-1.8zM1337 1188h1.8v1.8h-1.8zM1286 1183h1.8v1.8h-1.8zM1375 1207h1.8v1.8h-1.8zM1336 1146h1.8v1.8h-1.8zM1289 1240h1.8v1.8h-1.8zM1239 1235h1.8v1.8h-1.8zM1328 1134h1.8v1.8h-1.8zM1215 1170h1.8v1.8h-1.8zM1195 1094h1.8v1.8h-1.8zM1316 1116h1.8v1.8h-1.8zM1306 1089h1.8v1.8h-1.8zM1195 1189h1.8v1.8h-1.8zM1262 1079h1.8v1.8h-1.8zM1291 1203h1.8v1.8h-1.8zM1377 1083h1.8v1.8h-1.8zM1312 1153h1.8v1.8h-1.8zM1282 1166h1.8v1.8h-1.8zM1274 1117h1.8v1.8h-1.8zM1364 1113h1.8v1.8h-1.8zM1304 1174h1.8v1.8h-1.8zM1200 1206h1.8v1.8h-1.8zM1319 1121h1.8v1.8h-1.8zM1337 1167h1.8v1.8h-1.8zM1184 1134h1.8v1.8h-1.8zM1305 1144h1.8v1.8h-1.8zM1398 1100h1.8v1.8h-1.8zM1244 1109h1.8v1.8h-1.8zM1275 1220h1.8v1.8h-1.8zM1323 1205h1.8v1.8h-1.8zM1237 1104h1.8v1.8h-1.8zM1371 1108h1.8v1.8h-1.8zM1378 1117h1.8v1.8h-1.8zM1312 1224h1.8v1.8h-1.8zM1208 1165h1.8v1.8h-1.8zM1237 1239h1.8v1.8h-1.8zM1278 1131h1.8v1.8h-1.8zM1192 1119h1.8v1.8h-1.8zM1327 1095h1.8v1.8h-1.8zM1295 1114h1.8v1.8h-1.8zM1378 1151h1.8v1.8h-1.8zM1183 1201h1.8v1.8h-1.8zM1206 1216h1.8v1.8h-1.8zM1330 1107h1.8v1.8h-1.8zM1351 1213h1.8v1.8h-1.8zM1356 1142h1.8v1.8h-1.8zM1350 1118h1.8v1.8h-1.8zM1292 1241h1.8v1.8h-1.8zM1270 1211h1.8v1.8h-1.8zM1235 1173h1.8v1.8h-1.8zM1200 1123h1.8v1.8h-1.8zM1334 1160h1.8v1.8h-1.8zM1296 1218h1.8v1.8h-1.8zM1398 1234h1.8v1.8h-1.8zM1222 1212h1.8v1.8h-1.8zM1230 1161h1.8v1.8h-1.8zM1332 1210h1.8v1.8h-1.8zM1182 1157h1.8v1.8h-1.8zM1392 1112h1.8v1.8h-1.8zM1399 1231h1.8v1.8h-1.8zM1323 1121h1.8v1.8h-1.8zM1194 1148h1.8v1.8h-1.8zM1184 1153h1.8v1.8h-1.8zM1336 1082h1.8v1.8h-1.8zM1380 1175h1.8v1.8h-1.8zM1255 1078h1.8v1.8h-1.8zM1303 1232h1.8v1.8h-1.8zM1343 1224h1.8v1.8h-1.8zM1210 1152h1.8v1.8h-1.8zM1185 1084h1.8v1.8h-1.8zM1250 1231h1.8v1.8h-1.8zM1203 1233h1.8v1.8h-1.8zM1308 1140h1.8v1.8h-1.8zM1358 1193h1.8v1.8h-1.8zM1366 1120h1.8v1.8h-1.8zM1244 1229h1.8v1.8h-1.8zM1266 1193h1.8v1.8h-1.8zM1217 1163h1.8v1.8h-1.8zM1379 1214h1.8v1.8h-1.8zM1396 1083h1.8v1.8h-1.8zM1304 1239h1.8v1.8h-1.8zM1271 1104h1.8v1.8h-1.8zM1359 1162h1.8v1.8h-1.8zM1356 1188h1.8v1.8h-1.8zM1206 1105h1.8v1.8h-1.8zM1349 1079h1.8v1.8h-1.8zM1305 1116h1.8v1.8h-1.8zM1305 1106h1.8v1.8h-1.8zM1236 1138h1.8v1.8h-1.8zM1236 1164h1.8v1.8h-1.8zM1324 1239h1.8v1.8h-1.8zM1207 1087h1.8v1.8h-1.8zM1328 1087h1.8v1.8h-1.8zM1353 1107h1.8v1.8h-1.8zM1275 1097h1.8v1.8h-1.8zM1274 1156h1.8v1.8h-1.8zM1334 1148h1.8v1.8h-1.8zM1180 1097h1.8v1.8h-1.8zM1273 1210h1.8v1.8h-1.8zM1356 1181h1.8v1.8h-1.8zM1390 1174h1.8v1.8h-1.8zM1192 1185h1.8v1.8h-1.8zM1221 1079h1.8v1.8h-1.8zM1186 1078h1.8v1.8h-1.8zM1384 1152h1.8v1.8h-1.8zM1216 1116h1.8v1.8h-1.8zM1268 1101h1.8v1.8h-1.8zM1292 1206h1.8v1.8h-1.8zM1191 1097h1.8v1.8h-1.8zM1217 1187h1.8v1.8h-1.8zM1337 1159h1.8v1.8h-1.8zM1314 1195h1.8v1.8h-1.8zM1285 1087h1.8v1.8h-1.8zM1211 1155h1.8v1.8h-1.8zM1312 1198h1.8v1.8h-1.8zM1388 1116h1.8v1.8h-1.8zM1331 1191h1.8v1.8h-1.8zM1258 1107h1.8v1.8h-1.8zM1231 1194h1.8v1.8h-1.8zM1398 1241h1.8v1.8h-1.8zM1348 1087h1.8v1.8h-1.8zM1305 1230h1.8v1.8h-1.8zM1211 1235h1.8v1.8h-1.8zM1298 1195h1.8v1.8h-1.8zM1183 1157h1.8v1.8h-1.8zM1359 1221h1.8v1.8h-1.8zM1305 1122h1.8v1.8h-1.8zM1274 1240h1.8v1.8h-1.8zM1348 1242h1.8v1.8h-1.8zM1182 1112h1.8v1.8h-1.8zM1380 1216h1.8v1.8h-1.8zM1254 1114h1.8v1.8h-1.8zM1352 1214h1.8v1.8h-1.8zM1189 1170h1.8v1.8h-1.8zM1298 1100h1.8v1.8h-1.8zM1319 1083h1.8v1.8h-1.8zM1215 1224h1.8v1.8h-1.8zM1242 1113h1.8v1.8h-1.8zM1317 1157h1.8v1.8h-1.8zM1399 1168h1.8v1.8h-1.8zM1231 1220h1.8v1.8h-1.8zM1193 1211h1.8v1.8h-1.8zM1310 1144h1.8v1.8h-1.8zM1375 1157h1.8v1.8h-1.8zM1232 1079h1.8v1.8h-1.8zM1383 1227h1.8v1.8h-1.8zM1399 1143h1.8v1.8h-1.8zM1279 1152h1.8v1.8h-1.8zM1373 1139h1.8v1.8h-1.8zM1180 1164h1.8v1.8h-1.8zM1238 1122h1.8v1.8h-1.8zM1208 1185h1.8v1.8h-1.8zM1251 1210h1.8v1.8h-1.8zM1368 1224h1.8v1.8h-1.8zM1361 1202h1.8v1.8h-1.8zM1320 1186h1.8v1.8h-1.8zM1275 1186h1.8v1.8h-1.8zM1397 1120h1.8v1.8h-1.8zM1385 1100h1.8v1.8h-1.8zM1208 1125h1.8v1.8h-1.8zM1381 1231h1.8v1.8h-1.8zM1293 1110h1.8v1.8h-1.8zM1380 1184h1.8v1.8h-1.8zM1291 1144h1.8v1.8h-1.8zM1270 1170h1.8v1.8h-1.8zM1222 1118h1.8v1.8h-1.8zM1313 1181h1.8v1.8h-1.8zM1282 1179h1.8v1.8h-1.8zM1209 1196h1.8v1.8h-1.8zM1220 1198h1.8v1.8h-1.8zM1285 1187h1.8v1.8h-1.8zM1305 1133h1.8v1.8h-1.8zM1310 1095h1.8v1.8h-1.8zM1366 1088h1.8v1.8h-1.8zM1284 1143h1.8v1.8h-1.8zM1181 1223h1.8v1.8h-1.8zM1297 1184h1.8v1.8h-1.8zM1308 1243h1.8v1.8h-1.8zM1256 1236h1.8v1.8h-1.8zM1368 1107h1.8v1.8h-1.8zM1184 1125h1.8v1.8h-1.8zM1320 1120h1.8v1.8h-1.8zM1222 1238h1.8v1.8h-1.8zM1201 1180h1.8v1.8h-1.8zM1238 1162h1.8v1.8h-1.8zM1387 1181h1.8v1.8h-1.8zM1359 1132h1.8v1.8h-1.8zM1288 1141h1.8v1.8h-1.8zM1289 1182h1.8v1.8h-1.8zM1289 1110h1.8v1.8h-1.8zM1282 1215h1.8v1.8h-1.8zM1371 1195h1.8v1.8h-1.8zM1202 1187h1.8v1.8h-1.8zM1240 1161h1.8v1.8h-1.8zM1309 1105h1.8v1.8h-1.8zM1238 1226h1.8v1.8h-1.8zM1191 1238h1.8v1.8h-1.8zM1250 1235h1.8v1.8h-1.8zM1223 1161h1.8v1.8h-1.8zM1180 1149h1.8v1.8h-1.8zM1361 1184h1.8v1.8h-1.8zM1327 1140h1.8v1.8h-1.8zM1286 1154h1.8v1.8h-1.8zM1294 1117h1.8v1.8h-1.8zM1242 1203h1.8v1.8h-1.8zM1392 1182h1.8v1.8h-1.8zM1210 1200h1.8v1.8h-1.8zM1290 1229h1.8v1.8h-1.8zM1227 1114h1.8v1.8h-1.8zM1402 1215h1.8v1.8h-1.8zM1258 1144h1.8v1.8h-1.8zM1219 1238h1.8v1.8h-1.8zM1286 1142h1.8v1.8h-1.8zM1306 1196h1.8v1.8h-1.8zM1370 1242h1.8v1.8h-1.8zM1206 1196h1.8v1.8h-1.8zM1305 1093h1.8v1.8h-1.8zM1215 1150h1.8v1.8h-1.8zM1271 1094h1.8v1.8h-1.8zM1387 1169h1.8v1.8h-1.8zM1274 1212h1.8v1.8h-1.8zM1318 1088h1.8v1.8h-1.8zM1318 1141h1.8v1.8h-1.8zM1368 1096h1.8v1.8h-1.8zM1285 1210h1.8v1.8h-1.8zM1395 1128h1.8v1.8h-1.8zM1284 1144h1.8v1.8h-1.8zM1372 1227h1.8v1.8h-1.8zM1346 1230h1.8v1.8h-1.8zM1182 1090h1.8v1.8h-1.8zM1351 1103h1.8v1.8h-1.8zM1205 1212h1.8v1.8h-1.8zM1359 1171h1.8v1.8h-1.8zM1207 1164h1.8v1.8h-1.8zM1250 1223h1.8v1.8h-1.8zM1188 1203h1.8v1.8h-1.8zM1268 1092h1.8v1.8h-1.8zM1391 1227h1.8v1.8h-1.8zM1330 1127h1.8v1.8h-1.8zM1263 1202h1.8v1.8h-1.8zM1189 1107h1.8v1.8h-1.8zM1347 1232h1.8v1.8h-1.8zM1310 1130h1.8v1.8h-1.8zM1324 1147h1.8v1.8h-1.8zM1214 1097h1.8v1.8h-1.8zM1213 1161h1.8v1.8h-1.8zM1316 1102h1.8v1.8h-1.8zM1347 1178h1.8v1.8h-1.8zM1296 1152h1.8v1.8h-1.8zM1310 1213h1.8v1.8h-1.8zM1330 1121h1.8v1.8h-1.8zM1339 1203h1.8v1.8h-1.8zM1227 1103h1.8v1.8h-1.8zM1296 1228h1.8v1.8h-1.8zM1209 1086h1.8v1.8h-1.8zM1244 1187h1.8v1.8h-1.8zM1363 1184h1.8v1.8h-1.8zM1230 1204h1.8v1.8h-1.8zM1183 1200h1.8v1.8h-1.8zM1377 1120h1.8v1.8h-1.8zM1339 1190h1.8v1.8h-1.8zM1295 1083h1.8v1.8h-1.8zM1276 1082h1.8v1.8h-1.8zM1238 1235h1.8v1.8h-1.8zM1193 1142h1.8v1.8h-1.8zM1337 1143h1.8v1.8h-1.8zM1266 1087h1.8v1.8h-1.8zM1224 1172h1.8v1.8h-1.8zM1268 1183h1.8v1.8h-1.8zM1369 1242h1.8v1.8h-1.8zM1222 1137h1.8v1.8h-1.8zM1364 1144h1.8v1.8h-1.8zM1249 1151h1.8v1.8h-1.8zM1363 1103h1.8v1.8h-1.8zM1313 1185h1.8v1.8h-1.8zM1322 1146h1.8v1.8h-1.8zM1366 1238h1.8v1.8h-1.8zM1243 1091h1.8v1.8h-1.8zM1368 1149h1.8v1.8h-1.8zM1283 1240h1.8v1.8h-1.8zM1396 1175h1.8v1.8h-1.8zM1202 1146h1.8v1.8h-1.8zM1362 1193h1.8v1.8h-1.8zM1280 1089h1.8v1.8h-1.8zM1284 1232h1.8v1.8h-1.8zM1390 1159h1.8v1.8h-1.8zM1238 1220h1.8v1.8h-1.8zM1204 1230h1.8v1.8h-1.8zM1313 1139h1.8v1.8h-1.8zM1392 1214h1.8v1.8h-1.8zM1324 1172h1.8v1.8h-1.8zM1392 1172h1.8v1.8h-1.8zM1387 1158h1.8v1.8h-1.8zM1382 1150h1.8v1.8h-1.8zM1371 1148h1.8v1.8h-1.8zM1282 1117h1.8v1.8h-1.8zM1312 1127h1.8v1.8h-1.8zM1350 1180h1.8v1.8h-1.8zM1288 1134h1.8v1.8h-1.8zM1302 1201h1.8v1.8h-1.8zM1180 1159h1.8v1.8h-1.8zM1339 1083h1.8v1.8h-1.8zM1314 1242h1.8v1.8h-1.8zM1195 1187h1.8v1.8h-1.8zM1226 1078h1.8v1.8h-1.8zM1334 1224h1.8v1.8h-1.8zM1322 1145h1.8v1.8h-1.8zM1187 1201h1.8v1.8h-1.8zM1392 1098h1.8v1.8h-1.8zM1272 1196h1.8v1.8h-1.8zM1289 1115h1.8v1.8h-1.8zM1379 1089h1.8v1.8h-1.8zM1308 1173h1.8v1.8h-1.8zM1367 1235h1.8v1.8h-1.8zM1227 1138h1.8v1.8h-1.8zM1389 1097h1.8v1.8h-1.8zM1347 1213h1.8v1.8h-1.8zM1328 1227h1.8v1.8h-1.8zM1393 1153h1.8v1.8h-1.8zM1321 1224h1.8v1.8h-1.8zM1274 1234h1.8v1.8h-1.8zM1240 1228h1.8v1.8h-1.8zM1329 1164h1.8v1.8h-1.8zM1181 1092h1.8v1.8h-1.8zM1346 1206h1.8v1.8h-1.8zM1331 1221h1.8v1.8h-1.8zM1316 1141h1.8v1.8h-1.8zM1306 1155h1.8v1.8h-1.8zM1257 1164h1.8v1.8h-1.8zM1246 1178h1.8v1.8h-1.8zM1265 1117h1.8v1.8h-1.8zM1379 1236h1.8v1.8h-1.8zM1384 1241h1.8v1.8h-1.8zM1192 1132h1.8v1.8h-1.8zM1183 1103h1.8v1.8h-1.8zM1261 1154h1.8v1.8h-1.8zM1222 1114h1.8v1.8h-1.8zM1195 1077h1.8v1.8h-1.8zM1276 1165h1.8v1.8h-1.8zM1348 1082h1.8v1.8h-1.8zM1203 1157h1.8v1.8h-1.8zM1213 1109h1.8v1.8h-1.8zM1241 1110h1.8v1.8h-1.8zM1363 1194h1.8v1.8h-1.8zM1396 1242h1.8v1.8h-1.8zM1249 1178h1.8v1.8h-1.8zM1350 1198h1.8v1.8h-1.8zM1311 1084h1.8v1.8h-1.8zM1210 1188h1.8v1.8h-1.8zM1335 1176h1.8v1.8h-1.8zM1333 1127h1.8v1.8h-1.8zM1351 1213h1.8v1.8h-1.8zM1329 1125h1.8v1.8h-1.8zM1356 1168h1.8v1.8h-1.8zM1327 1178h1.8v1.8h-1.8zM1306 1173h1.8v1.8h-1.8zM1315 1223h1.8v1.8h-1.8zM1326 1086h1.8v1.8h-1.8zM1238 1109h1.8v1.8h-1.8zM1315 1234h1.8v1.8h-1.8zM1381 1214h1.8v1.8h-1.8zM1395 1184h1.8v1.8h-1.8zM1200 1224h1.8v1.8h-1.8zM1346 1095h1.8v1.8h-1.8zM1323 1121h1.8v1.8h-1.8zM1304 1100h1.8v1.8h-1.8zM1339 1091h1.8v1.8h-1.8zM1215 1199h1.8v1.8h-1.8zM1190 1231h1.8v1.8h-1.8zM1259 1236h1.8v1.8h-1.8zM1301 1136h1.8v1.8h-1.8zM1298 1121h1.8v1.8h-1.8zM1384 1231h1.8v1.8h-1.8zM1220 1162h1.8v1.8h-1.8zM1213 1089h1.8v1.8h-1.8zM1216 1079h1.8v1.8h-1.8zM1208 1116h1.8v1.8h-1.8zM1358 1176h1.8v1.8h-1.8zM1374 1204h1.8v1.8h-1.8zM1279 1216h1.8v1.8h-1.8zM1305 1214h1.8v1.8h-1.8zM1185 1236h1.8v1.8h-1.8zM1341 1235h1.8v1.8h-1.8zM1318 1216h1.8v1.8h-1.8zM1261 1088h1.8v1.8h-1.8zM1186 1107h1.8v1.8h-1.8zM1185 1088h1.8v1.8h-1.8zM1384 1171h1.8v1.8h-1.8zM1358 1122h1.8v1.8h-1.8zM1400 1210h1.8v1.8h-1.8zM1342 1087h1.8v1.8h-1.8zM1331 1167h1.8v1.8h-1.8zM1333 1140h1.8v1.8h-1.8zM1314 1098h1.8v1.8h-1.8zM1295 1163h1.8v1.8h-1.8zM1237 1097h1.8v1.8h-1.8zM1372 1129h1.8v1.8h-1.8zM1392 1213h1.8v1.8h-1.8zM1297 1169h1.8v1.8h-1.8zM1310 1222h1.8v1.8h-1.8zM1345 1156h1.8v1.8h-1.8zM1254 1136h1.8v1.8h-1.8zM1201 1240h1.8v1.8h-1.8zM1245 1241h1.8v1.8h-1.8zM1195 1168h1.8v1.8h-1.8zM1283 1117h1.8v1.8h-1.8zM1344 1092h1.8v1.8h-1.8zM1306 1209h1.8v1.8h-1.8zM1291 1143h1.8v1.8h-1.8zM1201 1126h1.8v1.8h-1.8zM1272 1196h1.8v1.8h-1.8zM1253 1133h1.8v1.8h-1.8zM1245 1100h1.8v1.8h-1.8zM1245 1086h1.8v1.8h-1.8zM1233 1240h1.8v1.8h-1.8zM1320 1145h1.8v1.8h-1.8zM1199 1221h1.8v1.8h-1.8zM1317 1140h1.8v1.8h-1.8zM1195 1140h1.8v1.8h-1.8zM1314 1237h1.8v1.8h-1.8zM1397 1231h1.8v1.8h-1.8zM1228 1189h1.8v1.8h-1.8zM1313 1202h1.8v1.8h-1.8zM1260 1105h1.8v1.8h-1.8zM1242 1152h1.8v1.8h-1.8zM1341 1087h1.8v1.8h-1.8zM1324 1160h1.8v1.8h-1.8zM1285 1082h1.8v1.8h-1.8zM1360 1225h1.8v1.8h-1.8zM1319 1196h1.8v1.8h-1.8zM1252 1087h1.8v1.8h-1.8zM1368 1187h1.8v1.8h-1.8zM1295 1223h1.8v1.8h-1.8zM1327 1106h1.8v1.8h-1.8zM1300 1179h1.8v1.8h-1.8zM1187 1165h1.8v1.8h-1.8zM1215 1123h1.8v1.8h-1.8zM1190 1108h1.8v1.8h-1.8zM1240 1126h1.8v1.8h-1.8zM1399 1229h1.8v1.8h-1.8zM1184 1140h1.8v1.8h-1.8zM1372 1154h1.8v1.8h-1.8zM1381 1128h1.8v1.8h-1.8zM1351 1178h1.8v1.8h-1.8zM1189 1125h1.8v1.8h-1.8zM1253 1208h1.8v1.8h-1.8zM1380 1220h1.8v1.8h-1.8zM1389 1125h1.8v1.8h-1.8zM1203 1163h1.8v1.8h-1.8zM1321 1205h1.8v1.8h-1.8zM1209 1138h1.8v1.8h-1.8zM1339 1158h1.8v1.8h-1.8zM1350 1240h1.8v1.8h-1.8zM1347 1149h1.8v1.8h-1.8zM1380 1237h1.8v1.8h-1.8zM1352 1166h1.8v1.8h-1.8zM1332 1137h1.8v1.8h-1.8zM1390 1109h1.8v1.8h-1.8zM1332 1168h1.8v1.8h-1.8zM1365 1089h1.8v1.8h-1.8zM1181 1085h1.8v1.8h-1.8zM1394 1126h1.8v1.8h-1.8zM1341 1176h1.8v1.8h-1.8zM1287 1102h1.8v1.8h-1.8zM1348 1152h1.8v1.8h-1.8zM1307 1117h1.8v1.8h-1.8zM1356 1180h1.8v1.8h-1.8zM1229 1098h1.8v1.8h-1.8zM1240 1200h1.8v1.8h-1.8zM1315 1124h1.8v1.8h-1.8zM1342 1228h1.8v1.8h-1.8zM1283 1193h1.8v1.8h-1.8zM1364 1120h1.8v1.8h-1.8zM1394 1187h1.8v1.8h-1.8zM1289 1175h1.8v1.8h-1.8zM1398 1225h1.8v1.8h-1.8zM1239 1180h1.8v1.8h-1.8zM1374 1230h1.8v1.8h-1.8zM1230 1192h1.8v1.8h-1.8zM1195 1123h1.8v1.8h-1.8zM1396 1155h1.8v1.8h-1.8zM1240 1169h1.8v1.8h-1.8zM1354 1169h1.8v1.8h-1.8zM1272 1131h1.8v1.8h-1.8zM1274 1209h1.8v1.8h-1.8zM1211 1103h1.8v1.8h-1.8zM1278 1169h1.8v1.8h-1.8zM1343 1102h1.8v1.8h-1.8zM1280 1157h1.8v1.8h-1.8zM1327 1182h1.8v1.8h-1.8zM1223 1092h1.8v1.8h-1.8zM1191 1164h1.8v1.8h-1.8zM1333 1100h1.8v1.8h-1.8zM1338 1149h1.8v1.8h-1.8zM1363 1196h1.8v1.8h-1.8zM1294 1197h1.8v1.8h-1.8zM1269 1130h1.8v1.8h-1.8zM1315 1089h1.8v1.8h-1.8zM1356 1233h1.8v1.8h-1.8zM1366 1169h1.8v1.8h-1.8zM1323 1119h1.8v1.8h-1.8zM1254 1117h1.8v1.8h-1.8zM1254 1167h1.8v1.8h-1.8zM1194 1215h1.8v1.8h-1.8zM1186 1218h1.8v1.8h-1.8zM1278 1099h1.8v1.8h-1.8zM1361 1170h1.8v1.8h-1.8zM1338 1227h1.8v1.8h-1.8zM1343 1102h1.8v1.8h-1.8zM1261 1160h1.8v1.8h-1.8zM1222 1193h1.8v1.8h-1.8zM1191 1077h1.8v1.8h-1.8zM1212 1156h1.8v1.8h-1.8zM1354 1228h1.8v1.8h-1.8zM1229 1211h1.8v1.8h-1.8zM1275 1210h1.8v1.8h-1.8zM1394 1206h1.8v1.8h-1.8zM1225 1120h1.8v1.8h-1.8zM1261 1121h1.8v1.8h-1.8zM1360 1148h1.8v1.8h-1.8zM1396 1096h1.8v1.8h-1.8zM1398 1196h1.8v1.8h-1.8zM1356 1162h1.8v1.8h-1.8zM1194 1132h1.8v1.8h-1.8zM1340 1172h1.8v1.8h-1.8zM1182 1095h1.8v1.8h-1.8zM1381 1145h1.8v1.8h-1.8zM1392 1174h1.8v1.8h-1.8zM1231 1197h1.8v1.8h-1.8zM1258 1161h1.8v1.8h-1.8zM1235 1217h1.8v1.8h-1.8zM1373 1081h1.8v1.8h-1.8zM1188 1217h1.8v1.8h-1.8zM1181 1141h1.8v1.8h-1.8zM1283 1215h1.8v1.8h-1.8zM1198 1227h1.8v1.8h-1.8zM1308 1117h1.8v1.8h-1.8zM1199 1166h1.8v1.8h-1.8zM1369 1096h1.8v1.8h-1.8zM1218 1234h1.8v1.8h-1.8zM1252 1215h1.8v1.8h-1.8zM1398 1160h1.8v1.8h-1.8zM1199 1109h1.8v1.8h-1.8zM1369 1171h1.8v1.8h-1.8zM1244 1079h1.8v1.8h-1.8zM1394 1082h1.8v1.8h-1.8zM1314 1170h1.8v1.8h-1.8zM1280 1094h1.8v1.8h-1.8zM1240 1198h1.8v1.8h-1.8zM1297 1102h1.8v1.8h-1.8zM1232 1151h1.8v1.8h-1.8zM1252 1090h1.8v1.8h-1.8zM1319 1238h1.8v1.8h-1.8zM1257 1105h1.8v1.8h-1.8zM1259 1242h1.8v1.8h-1.8zM1309 1108h1.8v1.8h-1.8zM1256 1238h1.8v1.8h-1.8zM1270 1158h1.8v1.8h-1.8zM1381 1146h1.8v1.8h-1.8zM1275 1144h1.8v1.8h-1.8zM1381 1239h1.8v1.8h-1.8zM1378 1206h1.8v1.8h-1.8zM1278 1122h1.8v1.8h-1.8zM1281 1155h1.8v1.8h-1.8zM1219 1124h1.8v1.8h-1.8zM1212 1154h1.8v1.8h-1.8zM1248 1161h1.8v1.8h-1.8zM1244 1089h1.8v1.8h-1.8zM1262 1230h1.8v1.8h-1.8zM1338 1085h1.8v1.8h-1.8zM1252 1218h1.8v1.8h-1.8zM1324 1112h1.8v1.8h-1.8zM1245 1195h1.8v1.8h-1.8zM1269 1093h1.8v1.8h-1.8zM1322 1179h1.8v1.8h-1.8zM1306 1093h1.8v1.8h-1.8zM1400 1231h1.8v1.8h-1.8zM1399 1143h1.8v1.8h-1.8zM1185 1215h1.8v1.8h-1.8zM1397 1211h1.8v1.8h-1.8zM1371 1119h1.8v1.8h-1.8zM1253 1080h1.8v1.8h-1.8zM1395 1178h1.8v1.8h-1.8zM1296 1207h1.8v1.8h-1.8zM1195 1237h1.8v1.8h-1.8zM1370 1110h1.8v1.8h-1.8zM1309 1092h1.8v1.8h-1.8zM1267 1083h1.8v1.8h-1.8zM1362 1189h1.8v1.8h-1.8zM1310 1081h1.8v1.8h-1.8zM1201 1189h1.8v1.8h-1.8zM1287 1240h1.8v1.8h-1.8zM1351 1140h1.8v1.8h-1.8zM1387 1141h1.8v1.8h-1.8zM1355 1128h1.8v1.8h-1.8zM1340 1142h1.8v1.8h-1.8zM1367 1225h1.8v1.8h-1.8zM1348 1152h1.8v1.8h-1.8zM1216 1213h1.8v1.8h-1.8zM1327 1132h1.8v1.8h-1.8zM1241 1215h1.8v1.8h-1.8zM1323 1203h1.8v1.8h-1.8zM1211 1195h1.8v1.8h-1.8zM1379 1157h1.8v1.8h-1.8zM1357 1226h1.8v1.8h-1.8zM1229 1196h1.8v1.8h-1.8zM1336 1188h1.8v1.8h-1.8zM1209 1168h1.8v1.8h-1.8zM1198 1145h1.8v1.8h-1.8zM1236 1118h1.8v1.8h-1.8zM1259 1167h1.8v1.8h-1.8zM1274 1198h1.8v1.8h-1.8zM1278 1118h1.8v1.8h-1.8zM1216 1168h1.8v1.8h-1.8zM1250 1076h1.8v1.8h-1.8zM1229 1127h1.8v1.8h-1.8zM1318 1221h1.8v1.8h-1.8zM1258 1168h1.8v1.8h-1.8zM1400 1141h1.8v1.8h-1.8zM1211 1177h1.8v1.8h-1.8zM1288 1144h1.8v1.8h-1.8zM1275 1126h1.8v1.8h-1.8zM1402 1133h1.8v1.8h-1.8zM1352 1141h1.8v1.8h-1.8zM1248 1139h1.8v1.8h-1.8zM1340 1098h1.8v1.8h-1.8zM1269 1177h1.8v1.8h-1.8zM1238 1113h1.8v1.8h-1.8zM1237 1088h1.8v1.8h-1.8zM1225 1234h1.8v1.8h-1.8zM1261 1240h1.8v1.8h-1.8zM1283 1126h1.8v1.8h-1.8zM1308 1222h1.8v1.8h-1.8zM1186 1211h1.8v1.8h-1.8zM1360 1193h1.8v1.8h-1.8zM1377 1170h1.8v1.8h-1.8zM1230 1103h1.8v1.8h-1.8zM1381 1165h1.8v1.8h-1.8zM1338 1189h1.8v1.8h-1.8zM1341 1227h1.8v1.8h-1.8zM1296 1083h1.8v1.8h-1.8zM1249 1216h1.8v1.8h-1.8zM1193 1131h1.8v1.8h-1.8zM1370 1230h1.8v1.8h-1.8zM1201 1207h1.8v1.8h-1.8zM1266 1145h1.8v1.8h-1.8zM1354 1115h1.8v1.8h-1.8zM1257 1166h1.8v1.8h-1.8zM1209 1108h1.8v1.8h-1.8zM1361 1193h1.8v1.8h-1.8zM1224 1210h1.8v1.8h-1.8zM1215 1086h1.8v1.8h-1.8zM1319 1088h1.8v1.8h-1.8zM1301 1237h1.8v1.8h-1.8zM1355 1228h1.8v1.8h-1.8zM1283 1214h1.8v1.8h-1.8zM1196 1203h1.8v1.8h-1.8zM1206 1194h1.8v1.8h-1.8zM1347 1150h1.8v1.8h-1.8zM1295 1151h1.8v1.8h-1.8zM1289 1167h1.8v1.8h-1.8zM1190 1082h1.8v1.8h-1.8zM1361 1191h1.8v1.8h-1.8zM1222 1099h1.8v1.8h-1.8zM1223 1165h1.8v1.8h-1.8zM1270 1117h1.8v1.8h-1.8zM1360 1087h1.8v1.8h-1.8zM1255 1240h1.8v1.8h-1.8zM1248 1196h1.8v1.8h-1.8zM1183 1176h1.8v1.8h-1.8zM1366 1124h1.8v1.8h-1.8zM1205 1145h1.8v1.8h-1.8zM1329 1101h1.8v1.8h-1.8zM1361 1227h1.8v1.8h-1.8zM1403 1151h1.8v1.8h-1.8zM1306 1225h1.8v1.8h-1.8zM1381 1200h1.8v1.8h-1.8zM1321 1237h1.8v1.8h-1.8zM1290 1108h1.8v1.8h-1.8zM1197 1105h1.8v1.8h-1.8zM1278 1227h1.8v1.8h-1.8zM1335 1082h1.8v1.8h-1.8zM1297 1161h1.8v1.8h-1.8zM1278 1197h1.8v1.8h-1.8zM1300 1097h1.8v1.8h-1.8zM1193 1165h1.8v1.8h-1.8zM1346 1209h1.8v1.8h-1.8zM1237 1082h1.8v1.8h-1.8zM1242 1122h1.8v1.8h-1.8zM1218 1221h1.8v1.8h-1.8zM1369 1162h1.8v1.8h-1.8zM1315 1131h1.8v1.8h-1.8zM1386 1211h1.8v1.8h-1.8zM1360 1218h1.8v1.8h-1.8zM1242 1168h1.8v1.8h-1.8zM1329 1106h1.8v1.8h-1.8zM1220 1207h1.8v1.8h-1.8zM1366 1175h1.8v1.8h-1.8zM1281 1154h1.8v1.8h-1.8zM1191 1215h1.8v1.8h-1.8zM1301 1238h1.8v1.8h-1.8zM1402 1211h1.8v1.8h-1.8zM1180 1202h1.8v1.8h-1.8zM1341 1098h1.8v1.8h-1.8zM1214 1237h1.8v1.8h-1.8zM1321 1166h1.8v1.8h-1.8zM1263 1106h1.8v1.8h-1.8zM1213 1168h1.8v1.8h-1.8zM1317 1096h1.8v1.8h-1.8zM1194 1149h1.8v1.8h-1.8zM1189 1142h1.8v1.8h-1.8zM1382 1210h1.8v1.8h-1.8zM1185 1230h1.8v1.8h-1.8zM1285 1106h1.8v1.8h-1.8zM1360 1240h1.8v1.8h-1.8zM1292 1231h1.8v1.8h-1.8zM1207 1220h1.8v1.8h-1.8zM1253 1204h1.8v1.8h-1.8zM1219 1236h1.8v1.8h-1.8zM1289 1242h1.8v1.8h-1.8zM1364 1107h1.8v1.8h-1.8zM1204 1103h1.8v1.8h-1.8zM1241 1181h1.8v1.8h-1.8zM1199 1130h1.8v1.8h-1.8zM1224 1209h1.8v1.8h-1.8zM1224 1085h1.8v1.8h-1.8zM1291 1197h1.8v1.8h-1.8zM1235 1241h1.8v1.8h-1.8zM1240 1146h1.8v1.8h-1.8zM1263 1115h1.8v1.8h-1.8zM1303 1190h1.8v1.8h-1.8zM1346 1227h1.8v1.8h-1.8zM1398 1099h1.8v1.8h-1.8zM1346 1156h1.8v1.8h-1.8zM1337 1149h1.8v1.8h-1.8zM1328 1226h1.8v1.8h-1.8zM1370 1118h1.8v1.8h-1.8zM1344 1122h1.8v1.8h-1.8zM1307 1110h1.8v1.8h-1.8zM1309 1114h1.8v1.8h-1.8zM1208 1134h1.8v1.8h-1.8zM1189 1237h1.8v1.8h-1.8zM1224 1092h1.8v1.8h-1.8zM1244 1124h1.8v1.8h-1.8zM1182 1148h1.8v1.8h-1.8zM1269 1185h1.8v1.8h-1.8zM1182 1192h1.8v1.8h-1.8zM1310 1206h1.8v1.8h-1.8zM1207 1243h1.8v1.8h-1.8zM1388 1082h1.8v1.8h-1.8zM1187 1236h1.8v1.8h-1.8zM1353 1162h1.8v1.8h-1.8zM1264 1113h1.8v1.8h-1.8zM1353 1147h1.8v1.8h-1.8zM1397 1111h1.8v1.8h-1.8zM1218 1191h1.8v1.8h-1.8zM1234 1104h1.8v1.8h-1.8zM1197 1154h1.8v1.8h-1.8zM1330 1082h1.8v1.8h-1.8zM1238 1177h1.8v1.8h-1.8zM1283 1133h1.8v1.8h-1.8zM1311 1109h1.8v1.8h-1.8zM1204 1194h1.8v1.8h-1.8zM1223 1175h1.8v1.8h-1.8zM1356 1216h1.8v1.8h-1.8zM1280 1085h1.8v1.8h-1.8zM1395 1149h1.8v1.8h-1.8zM1331 1083h1.8v1.8h-1.8zM1340 1154h1.8v1.8h-1.8zM1361 1100h1.8v1.8h-1.8zM1275 1165h1.8v1.8h-1.8zM1299 1096h1.8v1.8h-1.8zM1227 1178h1.8v1.8h-1.8zM1199 1175h1.8v1.8h-1.8zM1231 1196h1.8v1.8h-1.8zM1332 1127h1.8v1.8h-1.8zM1266 1151h1.8v1.8h-1.8zM1283 1213h1.8v1.8h-1.8zM1179 1138h1.8v1.8h-1.8zM1334 1241h1.8v1.8h-1.8zM1334 1098h1.8v1.8h-1.8zM1382 1238h1.8v1.8h-1.8zM1180 1141h1.8v1.8h-1.8zM1205 1209h1.8v1.8h-1.8zM1339 1162h1.8v1.8h-1.8zM1358 1211h1.8v1.8h-1.8zM1299 1091h1.8v1.8h-1.8zM1210 1184h1.8v1.8h-1.8zM1296 1148h1.8v1.8h-1.8zM1381 1100h1.8v1.8h-1.8zM1267 1087h1.8v1.8h-1.8zM1359 1229h1.8v1.8h-1.8zM1220 1189h1.8v1.8h-1.8zM1364 1229h1.8v1.8h-1.8zM1232 1219h1.8v1.8h-1.8zM1340 1139h1.8v1.8h-1.8zM1191 1083h1.8v1.8h-1.8zM1222 1189h1.8v1.8h-1.8zM1331 1091h1.8v1.8h-1.8zM1346 1197h1.8v1.8h-1.8zM1370 1112h1.8v1.8h-1.8zM1215 1235h1.8v1.8h-1.8zM1250 1154h1.8v1.8h-1.8zM1355 1111h1.8v1.8h-1.8zM1359 1138h1.8v1.8h-1.8zM1309 1217h1.8v1.8h-1.8zM1236 1242h1.8v1.8h-1.8zM1299 1164h1.8v1.8h-1.8zM1311 1145h1.8v1.8h-1.8zM1352 1114h1.8v1.8h-1.8zM1321 1153h1.8v1.8h-1.8zM1386 1155h1.8v1.8h-1.8zM1212 1110h1.8v1.8h-1.8zM1265 1168h1.8v1.8h-1.8zM1197 1083h1.8v1.8h-1.8zM1308 1099h1.8v1.8h-1.8zM1388 1179h1.8v1.8h-1.8zM1200 1085h1.8v1.8h-1.8zM1236 1165h1.8v1.8h-1.8zM1209 1239h1.8v1.8h-1.8zM1286 1220h1.8v1.8h-1.8zM1360 1180h1.8v1.8h-1.8zM1314 1137h1.8v1.8h-1.8zM1241 1234h1.8v1.8h-1.8zM1214 1192h1.8v1.8h-1.8zM1229 1183h1.8v1.8h-1.8zM1400 1182h1.8v1.8h-1.8zM1181 1235h1.8v1.8h-1.8zM1340 1163h1.8v1.8h-1.8zM1246 1240h1.8v1.8h-1.8zM1388 1102h1.8v1.8h-1.8zM1372 1164h1.8v1.8h-1.8zM1308 1221h1.8v1.8h-1.8zM1284 1137h1.8v1.8h-1.8zM1300 1216h1.8v1.8h-1.8zM1328 1136h1.8v1.8h-1.8zM1395 1203h1.8v1.8h-1.8zM1362 1200h1.8v1.8h-1.8zM1327 1100h1.8v1.8h-1.8zM1179 1192h1.8v1.8h-1.8zM1355 1149h1.8v1.8h-1.8zM1280 1227h1.8v1.8h-1.8zM1391 1198h1.8v1.8h-1.8zM1369 1174h1.8v1.8h-1.8zM1278 1152h1.8v1.8h-1.8zM1188 1144h1.8v1.8h-1.8zM1224 1226h1.8v1.8h-1.8zM1274 1105h1.8v1.8h-1.8zM1191 1235h1.8v1.8h-1.8zM1273 1212h1.8v1.8h-1.8zM1385 1192h1.8v1.8h-1.8zM1318 1185h1.8v1.8h-1.8zM1297 1202h1.8v1.8h-1.8zM1371 1228h1.8v1.8h-1.8zM1376 1100h1.8v1.8h-1.8zM1382 1196h1.8v1.8h-1.8zM1401 1143h1.8v1.8h-1.8zM1320 1119h1.8v1.8h-1.8zM1223 1238h1.8v1.8h-1.8zM1329 1225h1.8v1.8h-1.8zM1331 1111h1.8v1.8h-1.8zM1324 1191h1.8v1.8h-1.8zM1288 1239h1.8v1.8h-1.8zM1270 1117h1.8v1.8h-1.8zM1311 1210h1.8v1.8h-1.8zM1295 1238h1.8v1.8h-1.8zM1394 1146h1.8v1.8h-1.8zM1223 1220h1.8v1.8h-1.8zM1364 1235h1.8v1.8h-1.8zM1202 1239h1.8v1.8h-1.8zM1256 1183h1.8v1.8h-1.8zM1188 1129h1.8v1.8h-1.8zM1258 1100h1.8v1.8h-1.8zM1237 1201h1.8v1.8h-1.8zM1381 1216h1.8v1.8h-1.8zM1353 1102h1.8v1.8h-1.8zM1190 1132h1.8v1.8h-1.8zM1396 1210h1.8v1.8h-1.8zM1243 1223h1.8v1.8h-1.8zM1186 1154h1.8v1.8h-1.8zM1344 1155h1.8v1.8h-1.8zM1274 1175h1.8v1.8h-1.8zM1243 1227h1.8v1.8h-1.8zM1210 1078h1.8v1.8h-1.8zM1389 1220h1.8v1.8h-1.8zM1221 1095h1.8v1.8h-1.8zM1187 1166h1.8v1.8h-1.8zM1257 1140h1.8v1.8h-1.8zM1233 1170h1.8v1.8h-1.8zM1236 1116h1.8v1.8h-1.8zM1195 1127h1.8v1.8h-1.8zM1277 1097h1.8v1.8h-1.8zM1300 1191h1.8v1.8h-1.8zM1351 1239h1.8v1.8h-1.8zM1391 1142h1.8v1.8h-1.8zM1268 1241h1.8v1.8h-1.8zM1195 1107h1.8v1.8h-1.8zM1194 1124h1.8v1.8h-1.8zM1301 1150h1.8v1.8h-1.8zM1403 1185h1.8v1.8h-1.8zM1281 1096h1.8v1.8h-1.8zM1385 1079h1.8v1.8h-1.8zM1308 1199h1.8v1.8h-1.8zM1187 1118h1.8v1.8h-1.8zM1209 1106h1.8v1.8h-1.8zM1234 1087h1.8v1.8h-1.8zM1294 1202h1.8v1.8h-1.8zM1349 1129h1.8v1.8h-1.8zM1226 1126h1.8v1.8h-1.8zM1263 1156h1.8v1.8h-1.8zM1191 1081h1.8v1.8h-1.8zM1351 1223h1.8v1.8h-1.8zM1234 1133h1.8v1.8h-1.8zM1305 1085h1.8v1.8h-1.8zM1346 1112h1.8v1.8h-1.8zM1382 1186h1.8v1.8h-1.8zM1205 1076h1.8v1.8h-1.8zM1304 1153h1.8v1.8h-1.8zM1205 1200h1.8v1.8h-1.8zM1365 1115h1.8v1.8h-1.8zM1396 1129h1.8v1.8h-1.8zM1372 1087h1.8v1.8h-1.8zM1298 1127h1.8v1.8h-1.8zM1305 1207h1.8v1.8h-1.8zM1244 1149h1.8v1.8h-1.8zM1398 1201h1.8v1.8h-1.8zM1253 1134h1.8v1.8h-1.8zM1273 1162h1.8v1.8h-1.8zM1312 1142h1.8v1.8h-1.8zM1343 1076h1.8v1.8h-1.8zM1299 1115h1.8v1.8h-1.8zM1214 1127h1.8v1.8h-1.8zM1195 1094h1.8v1.8h-1.8zM1250 1104h1.8v1.8h-1.8zM1329 1159h1.8v1.8h-1.8zM1226 1179h1.8v1.8h-1.8zM1311 1093h1.8v1.8h-1.8zM1237 1234h1.8v1.8h-1.8zM1202 1242h1.8v1.8h-1.8zM1281 1196h1.8v1.8h-1.8zM1300 1175h1.8v1.8h-1.8zM1372 1137h1.8v1.8h-1.8zM1196 1107h1.8v1.8h-1.8zM1230 1116h1.8v1.8h-1.8zM1251 1099h1.8v1.8h-1.8zM1249 1237h1.8v1.8h-1.8zM1217 1091h1.8v1.8h-1.8zM1250 1076h1.8v1.8h-1.8zM1251 1092h1.8v1.8h-1.8zM1254 1218h1.8v1.8h-1.8zM1220 1156h1.8v1.8h-1.8zM1389 1109h1.8v1.8h-1.8zM1233 1194h1.8v1.8h-1.8zM1339 1168h1.8v1.8h-1.8zM1189 1228h1.8v1.8h-1.8zM1241 1107h1.8v1.8h-1.8zM1324 1123h1.8v1.8h-1.8zM1202 1081h1.8v1.8h-1.8zM1349 1119h1.8v1.8h-1.8zM1231 1084h1.8v1.8h-1.8zM1252 1139h1.8v1.8h-1.8zM1282 1127h1.8v1.8h-1.8zM1234 1145h1.8v1.8h-1.8zM1349 1147h1.8v1.8h-1.8zM1346 1100h1.8v1.8h-1.8zM1210 1172h1.8v1.8h-1.8zM1299 1102h1.8v1.8h-1.8zM1363 1081h1.8v1.8h-1.8zM1312 1095h1.8v1.8h-1.8zM1305 1096h1.8v1.8h-1.8zM1345 1180h1.8v1.8h-1.8zM1338 1088h1.8v1.8h-1.8zM1264 1159h1.8v1.8h-1.8zM1340 1096h1.8v1.8h-1.8zM1313 1135h1.8v1.8h-1.8zM1209 1151h1.8v1.8h-1.8zM1350 1189h1.8v1.8h-1.8zM1351 1200h1.8v1.8h-1.8zM1320 1164h1.8v1.8h-1.8zM1294 1095h1.8v1.8h-1.8zM1391 1140h1.8v1.8h-1.8zM1293 1141h1.8v1.8h-1.8zM1232 1225h1.8v1.8h-1.8zM1293 1195h1.8v1.8h-1.8zM1371 1102h1.8v1.8h-1.8zM1308 1120h1.8v1.8h-1.8zM1346 1222h1.8v1.8h-1.8zM1244 1228h1.8v1.8h-1.8zM1316 1104h1.8v1.8h-1.8zM1198 1091h1.8v1.8h-1.8zM1261 1132h1.8v1.8h-1.8zM1196 1184h1.8v1.8h-1.8zM1235 1127h1.8v1.8h-1.8zM1374 1229h1.8v1.8h-1.8zM1236 1207h1.8v1.8h-1.8zM1288 1111h1.8v1.8h-1.8zM1211 1099h1.8v1.8h-1.8zM1292 1098h1.8v1.8h-1.8zM1249 1230h1.8v1.8h-1.8zM1385 1140h1.8v1.8h-1.8zM1326 1239h1.8v1.8h-1.8zM1301 1180h1.8v1.8h-1.8zM1354 1111h1.8v1.8h-1.8zM1264 1203h1.8v1.8h-1.8zM1344 1145h1.8v1.8h-1.8zM1366 1218h1.8v1.8h-1.8zM1208 1145h1.8v1.8h-1.8zM1285 1170h1.8v1.8h-1.8zM1247 1137h1.8v1.8h-1.8zM1399 1130h1.8v1.8h-1.8zM1354 1109h1.8v1.8h-1.8zM1269 1169h1.8v1.8h-1.8zM1391 1182h1.8v1.8h-1.8zM1319 1090h1.8v1.8h-1.8zM1361 1195h1.8v1.8h-1.8zM1302 1090h1.8v1.8h-1.8zM1378 1096h1.8v1.8h-1.8zM1237 1165h1.8v1.8h-1.8zM1265 1173h1.8v1.8h-1.8zM1284 1094h1.8v1.8h-1.8zM1337 1167h1.8v1.8h-1.8zM1326 1161h1.8v1.8h-1.8zM1294 1229h1.8v1.8h-1.8zM1214 1149h1.8v1.8h-1.8zM1238 1103h1.8v1.8h-1.8zM1395 1134h1.8v1.8h-1.8zM1315 1088h1.8v1.8h-1.8zM1202 1094h1.8v1.8h-1.8zM1276 1165h1.8v1.8h-1.8zM1281 1209h1.8v1.8h-1.8zM1383 1156h1.8v1.8h-1.8zM1265 1238h1.8v1.8h-1.8zM1182 1109h1.8v1.8h-1.8zM1242 1197h1.8v1.8h-1.8zM1230 1201h1.8v1.8h-1.8zM1191 1078h1.8v1.8h-1.8zM1380 1217h1.8v1.8h-1.8zM1189 1107h1.8v1.8h-1.8zM1382 1117h1.8v1.8h-1.8zM1261 1221h1.8v1.8h-1.8zM1206 1129h1.8v1.8h-1.8zM1376 1104h1.8v1.8h-1.8zM1255 1215h1.8v1.8h-1.8zM1372 1100h1.8v1.8h-1.8zM1215 1159h1.8v1.8h-1.8zM1333 1103h1.8v1.8h-1.8zM1183 1210h1.8v1.8h-1.8zM1356 1106h1.8v1.8h-1.8zM1312 1197h1.8v1.8h-1.8zM1181 1199h1.8v1.8h-1.8zM1278 1091h1.8v1.8h-1.8zM1316 1209h1.8v1.8h-1.8zM1364 1124h1.8v1.8h-1.8zM1308 1121h1.8v1.8h-1.8zM1323 1147h1.8v1.8h-1.8zM1373 1125h1.8v1.8h-1.8zM1215 1125h1.8v1.8h-1.8zM1267 1158h1.8v1.8h-1.8zM1270 1215h1.8v1.8h-1.8zM1328 1242h1.8v1.8h-1.8zM1350 1127h1.8v1.8h-1.8zM1191 1119h1.8v1.8h-1.8zM1370 1225h1.8v1.8h-1.8zM1206 1077h1.8v1.8h-1.8zM1330 1151h1.8v1.8h-1.8zM1303 1146h1.8v1.8h-1.8zM1322 1147h1.8v1.8h-1.8zM1348 1232h1.8v1.8h-1.8zM1376 1155h1.8v1.8h-1.8zM1210 1138h1.8v1.8h-1.8zM1399 1230h1.8v1.8h-1.8zM1389 1143h1.8v1.8h-1.8zM1252 1186h1.8v1.8h-1.8zM1397 1130h1.8v1.8h-1.8zM1355 1112h1.8v1.8h-1.8zM1296 1147h1.8v1.8h-1.8zM1274 1188h1.8v1.8h-1.8zM1222 1087h1.8v1.8h-1.8zM1183 1130h1.8v1.8h-1.8zM1202 1217h1.8v1.8h-1.8zM1353 1173h1.8v1.8h-1.8zM1249 1088h1.8v1.8h-1.8zM1252 1233h1.8v1.8h-1.8zM1319 1206h1.8v1.8h-1.8zM1247 1101h1.8v1.8h-1.8zM1249 1133h1.8v1.8h-1.8zM1183 1144h1.8v1.8h-1.8zM1386 1115h1.8v1.8h-1.8zM1296 1157h1.8v1.8h-1.8zM1210 1125h1.8v1.8h-1.8zM1293 1147h1.8v1.8h-1.8zM1244 1082h1.8v1.8h-1.8zM1247 1229h1.8v1.8h-1.8zM1225 1133h1.8v1.8h-1.8zM1223 1221h1.8v1.8h-1.8zM1363 1213h1.8v1.8h-1.8zM1334 1197h1.8v1.8h-1.8zM1399 1136h1.8v1.8h-1.8zM1381 1198h1.8v1.8h-1.8zM1402 1216h1.8v1.8h-1.8zM1225 1142h1.8v1.8h-1.8zM1349 1123h1.8v1.8h-1.8zM1276 1079h1.8v1.8h-1.8zM1215 1115h1.8v1.8h-1.8zM1306 1153h1.8v1.8h-1.8zM1248 1136h1.8v1.8h-1.8zM1299 1195h1.8v1.8h-1.8zM1216 1222h1.8v1.8h-1.8zM1338 1180h1.8v1.8h-1.8zM1194 1231h1.8v1.8h-1.8zM1198 1123h1.8v1.8h-1.8zM1234 1112h1.8v1.8h-1.8zM1390 1106h1.8v1.8h-1.8zM1368 1216h1.8v1.8h-1.8zM1330 1183h1.8v1.8h-1.8zM1389 1160h1.8v1.8h-1.8zM1198 1173h1.8v1.8h-1.8zM1315 1233h1.8v1.8h-1.8zM1351 1203h1.8v1.8h-1.8zM1398 1162h1.8v1.8h-1.8zM1341 1151h1.8v1.8h-1.8zM1207 1200h1.8v1.8h-1.8zM1342 1200h1.8v1.8h-1.8zM1333 1231h1.8v1.8h-1.8zM1307 1191h1.8v1.8h-1.8zM1219 1196h1.8v1.8h-1.8zM1379 1203h1.8v1.8h-1.8zM1350 1201h1.8v1.8h-1.8zM1207 1145h1.8v1.8h-1.8zM1265 1140h1.8v1.8h-1.8zM1182 1236h1.8v1.8h-1.8zM1229 1134h1.8v1.8h-1.8zM1297 1095h1.8v1.8h-1.8zM1312 1141h1.8v1.8h-1.8zM1359 1215h1.8v1.8h-1.8zM1218 1184h1.8v1.8h-1.8zM1275 1158h1.8v1.8h-1.8zM1226 1235h1.8v1.8h-1.8zM1343 1164h1.8v1.8h-1.8zM1354 1102h1.8v1.8h-1.8zM1212 1124h1.8v1.8h-1.8zM1337 1108h1.8v1.8h-1.8zM1320 1180h1.8v1.8h-1.8zM1399 1186h1.8v1.8h-1.8zM1269 1206h1.8v1.8h-1.8zM1278 1145h1.8v1.8h-1.8zM1197 1152h1.8v1.8h-1.8zM1263 1166h1.8v1.8h-1.8zM1350 1141h1.8v1.8h-1.8zM1286 1222h1.8v1.8h-1.8zM1279 1102h1.8v1.8h-1.8zM1371 1136h1.8v1.8h-1.8zM1215 1096h1.8v1.8h-1.8zM1267 1177h1.8v1.8h-1.8zM1362 1177h1.8v1.8h-1.8zM1367 1104h1.8v1.8h-1.8zM1305 1196h1.8v1.8h-1.8zM1354 1125h1.8v1.8h-1.8zM1259 1113h1.8v1.8h-1.8zM1391 1143h1.8v1.8h-1.8zM1199 1159h1.8v1.8h-1.8zM1378 1186h1.8v1.8h-1.8zM1266 1096h1.8v1.8h-1.8zM1270 1159h1.8v1.8h-1.8zM1254 1076h1.8v1.8h-1.8zM1201 1099h1.8v1.8h-1.8zM1269 1137h1.8v1.8h-1.8zM1332 1131h1.8v1.8h-1.8zM1349 1077h1.8v1.8h-1.8zM1298 1125h1.8v1.8h-1.8zM1209 1155h1.8v1.8h-1.8zM1323 1096h1.8v1.8h-1.8zM1325 1212h1.8v1.8h-1.8zM1182 1089h1.8v1.8h-1.8zM1219 1234h1.8v1.8h-1.8zM1223 1169h1.8v1.8h-1.8zM1388 1117h1.8v1.8h-1.8zM1351 1208h1.8v1.8h-1.8zM1243 1129h1.8v1.8h-1.8zM1311 1169h1.8v1.8h-1.8zM1354 1172h1.8v1.8h-1.8zM1398 1221h1.8v1.8h-1.8zM1215 1226h1.8v1.8h-1.8zM1377 1238h1.8v1.8h-1.8zM1299 1182h1.8v1.8h-1.8zM1287 1238h1.8v1.8h-1.8zM1365 1120h1.8v1.8h-1.8zM1386 1186h1.8v1.8h-1.8zM1233 1124h1.8v1.8h-1.8zM1273 1201h1.8v1.8h-1.8zM1391 1227h1.8v1.8h-1.8zM1186 1236h1.8v1.8h-1.8zM1291 1137h1.8v1.8h-1.8zM1390 1165h1.8v1.8h-1.8zM1226 1204h1.8v1.8h-1.8zM1208 1228h1.8v1.8h-1.8zM1392 1159h1.8v1.8h-1.8zM1318 1134h1.8v1.8h-1.8zM1242 1120h1.8v1.8h-1.8zM1205 1183h1.8v1.8h-1.8zM1402 1081h1.8v1.8h-1.8zM1250 1231h1.8v1.8h-1.8zM1253 1104h1.8v1.8h-1.8zM1333 1145h1.8v1.8h-1.8zM1182 1197h1.8v1.8h-1.8zM1270 1100h1.8v1.8h-1.8zM1382 1168h1.8v1.8h-1.8zM1365 1112h1.8v1.8h-1.8zM1310 1088h1.8v1.8h-1.8zM1337 1148h1.8v1.8h-1.8zM1190 1097h1.8v1.8h-1.8zM1273 1116h1.8v1.8h-1.8zM1206 1154h1.8v1.8h-1.8zM1304 1081h1.8v1.8h-1.8zM1344 1219h1.8v1.8h-1.8zM1400 1179h1.8v1.8h-1.8zM1285 1172h1.8v1.8h-1.8zM1222 1184h1.8v1.8h-1.8zM1269 1201h1.8v1.8h-1.8zM1238 1103h1.8v1.8h-1.8zM1347 1241h1.8v1.8h-1.8zM1395 1156h1.8v1.8h-1.8zM1295 1225h1.8v1.8h-1.8zM1190 1115h1.8v1.8h-1.8zM1342 1174h1.8v1.8h-1.8zM1195 1168h1.8v1.8h-1.8zM1232 1152h1.8v1.8h-1.8zM1213 1079h1.8v1.8h-1.8zM1217 1219h1.8v1.8h-1.8zM1313 1126h1.8v1.8h-1.8zM1351 1101h1.8v1.8h-1.8zM1301 1148h1.8v1.8h-1.8zM1319 1217h1.8v1.8h-1.8zM1252 1188h1.8v1.8h-1.8zM1354 1213h1.8v1.8h-1.8zM1209 1220h1.8v1.8h-1.8zM1256 1126h1.8v1.8h-1.8zM1298 1123h1.8v1.8h-1.8zM1365 1187h1.8v1.8h-1.8zM1300 1088h1.8v1.8h-1.8zM1221 1087h1.8v1.8h-1.8zM1312 1155h1.8v1.8h-1.8zM1180 1115h1.8v1.8h-1.8zM1399 1128h1.8v1.8h-1.8zM1207 1182h1.8v1.8h-1.8zM1223 1128h1.8v1.8h-1.8zM1228 1092h1.8v1.8h-1.8zM1392 1154h1.8v1.8h-1.8zM1187 1234h1.8v1.8h-1.8zM1276 1112h1.8v1.8h-1.8zM1352 1109h1.8v1.8h-1.8zM1339 1229h1.8v1.8h-1.8zM1264 1221h1.8v1.8h-1.8zM1362 1084h1.8v1.8h-1.8zM1186 1183h1.8v1.8h-1.8zM1285 1221h1.8v1.8h-1.8zM1215 1199h1.8v1.8h-1.8zM1208 1194h1.8v1.8h-1.8zM1253 1235h1.8v1.8h-1.8zM1345 1201h1.8v1.8h-1.8zM1226 1175h1.8v1.8h-1.8zM1236 1200h1.8v1.8h-1.8zM1308 1223h1.8v1.8h-1.8zM1248 1199h1.8v1.8h-1.8zM1217 1128h1.8v1.8h-1.8zM1337 1199h1.8v1.8h-1.8zM1324 1157h1.8v1.8h-1.8zM1277 1108h1.8v1.8h-1.8zM1260 1232h1.8v1.8h-1.8zM1187 1091h1.8v1.8h-1.8zM1313 1169h1.8v1.8h-1.8zM1218 1101h1.8v1.8h-1.8zM1284 1226h1.8v1.8h-1.8zM1393 1148h1.8v1.8h-1.8zM1273 1192h1.8v1.8h-1.8zM1382 1149h1.8v1.8h-1.8zM1374 1242h1.8v1.8h-1.8zM1270 1207h1.8v1.8h-1.8zM1199 1236h1.8v1.8h-1.8zM1366 1170h1.8v1.8h-1.8zM1302 1102h1.8v1.8h-1.8zM1388 1139h1.8v1.8h-1.8zM1373 1091h1.8v1.8h-1.8zM1278 1117h1.8v1.8h-1.8zM1310 1239h1.8v1.8h-1.8zM1203 1190h1.8v1.8h-1.8zM1253 1111h1.8v1.8h-1.8zM1284 1100h1.8v1.8h-1.8zM1402 1112h1.8v1.8h-1.8zM1316 1124h1.8v1.8h-1.8zM1362 1144h1.8v1.8h-1.8zM1186 1153h1.8v1.8h-1.8zM1312 1224h1.8v1.8h-1.8zM1214 1179h1.8v1.8h-1.8zM1204 1129h1.8v1.8h-1.8zM1186 1210h1.8v1.8h-1.8zM1371 1230h1.8v1.8h-1.8zM1297 1161h1.8v1.8h-1.8zM1308 1094h1.8v1.8h-1.8zM1236 1238h1.8v1.8h-1.8zM1189 1115h1.8v1.8h-1.8zM1198 1099h1.8v1.8h-1.8zM1361 1172h1.8v1.8h-1.8zM1332 1174h1.8v1.8h-1.8zM1260 1108h1.8v1.8h-1.8zM1362 1172h1.8v1.8h-1.8zM1374 1128h1.8v1.8h-1.8zM1210 1207h1.8v1.8h-1.8zM1304 1104h1.8v1.8h-1.8zM1346 1098h1.8v1.8h-1.8zM1300 1081h1.8v1.8h-1.8zM1210 1166h1.8v1.8h-1.8zM1233 1117h1.8v1.8h-1.8zM1356 1171h1.8v1.8h-1.8zM1284 1227h1.8v1.8h-1.8zM1355 1232h1.8v1.8h-1.8zM1275 1210h1.8v1.8h-1.8zM1296 1199h1.8v1.8h-1.8zM1318 1141h1.8v1.8h-1.8zM1344 1153h1.8v1.8h-1.8zM1195 1162h1.8v1.8h-1.8zM1185 1106h1.8v1.8h-1.8zM1273 1145h1.8v1.8h-1.8zM1288 1116h1.8v1.8h-1.8zM1292 1242h1.8v1.8h-1.8zM1389 1226h1.8v1.8h-1.8zM1236 1214h1.8v1.8h-1.8zM1401 1144h1.8v1.8h-1.8zM1184 1151h1.8v1.8h-1.8zM1239 1098h1.8v1.8h-1.8zM1353 1220h1.8v1.8h-1.8zM1199 1117h1.8v1.8h-1.8zM1308 1117h1.8v1.8h-1.8zM1261 1159h1.8v1.8h-1.8zM1249 1174h1.8v1.8h-1.8zM1363 1161h1.8v1.8h-1.8zM1179 1140h1.8v1.8h-1.8zM1196 1218h1.8v1.8h-1.8zM1328 1242h1.8v1.8h-1.8zM1274 1182h1.8v1.8h-1.8zM1378 1183h1.8v1.8h-1.8zM1379 1157h1.8v1.8h-1.8zM1355 1129h1.8v1.8h-1.8zM1389 1242h1.8v1.8h-1.8zM1381 1102h1.8v1.8h-1.8zM1371 1084h1.8v1.8h-1.8zM1240 1086h1.8v1.8h-1.8zM1318 1200h1.8v1.8h-1.8zM1379 1119h1.8v1.8h-1.8zM1394 1152h1.8v1.8h-1.8zM1322 1234h1.8v1.8h-1.8zM1368 1200h1.8v1.8h-1.8zM1359 1102h1.8v1.8h-1.8zM1388 1169h1.8v1.8h-1.8zM1337 1133h1.8v1.8h-1.8zM1349 1224h1.8v1.8h-1.8zM1394 1242h1.8v1.8h-1.8zM1293 1139h1.8v1.8h-1.8zM1194 1177h1.8v1.8h-1.8zM1335 1229h1.8v1.8h-1.8zM1365 1162h1.8v1.8h-1.8zM1222 1136h1.8v1.8h-1.8zM1313 1142h1.8v1.8h-1.8zM1180 1096h1.8v1.8h-1.8zM1298 1138h1.8v1.8h-1.8zM1319 1201h1.8v1.8h-1.8zM1320 1119h1.8v1.8h-1.8zM1323 1156h1.8v1.8h-1.8zM1273 1132h1.8v1.8h-1.8zM1190 1104h1.8v1.8h-1.8zM1399 1102h1.8v1.8h-1.8zM1362 1107h1.8v1.8h-1.8zM1241 1160h1.8v1.8h-1.8zM1183 1183h1.8v1.8h-1.8zM1352 1113h1.8v1.8h-1.8zM1194 1143h1.8v1.8h-1.8zM1381 1240h1.8v1.8h-1.8zM1380 1215h1.8v1.8h-1.8zM1249 1132h1.8v1.8h-1.8zM1304 1189h1.8v1.8h-1.8zM1184 1086h1.8v1.8h-1.8zM1247 1146h1.8v1.8h-1.8zM1303 1216h1.8v1.8h-1.8zM1297 1088h1.8v1.8h-1.8zM1279 1135h1.8v1.8h-1.8zM1308 1231h1.8v1.8h-1.8zM1278 1089h1.8v1.8h-1.8zM1259 1119h1.8v1.8h-1.8zM1398 1234h1.8v1.8h-1.8zM1327 1161h1.8v1.8h-1.8zM1333 1162h1.8v1.8h-1.8zM1309 1100h1.8v1.8h-1.8zM1349 1203h1.8v1.8h-1.8zM1347 1092h1.8v1.8h-1.8zM1201 1084h1.8v1.8h-1.8zM1353 1137h1.8v1.8h-1.8zM1336 1223h1.8v1.8h-1.8zM1369 1214h1.8v1.8h-1.8zM1326 1239h1.8v1.8h-1.8zM1196 1167h1.8v1.8h-1.8zM1264 1196h1.8v1.8h-1.8zM1211 1185h1.8v1.8h-1.8zM1247 1175h1.8v1.8h-1.8zM1188 1086h1.8v1.8h-1.8zM1384 1166h1.8v1.8h-1.8zM1314 1082h1.8v1.8h-1.8zM1383 1183h1.8v1.8h-1.8zM1278 1111h1.8v1.8h-1.8zM1359 1230h1.8v1.8h-1.8zM1383 1203h1.8v1.8h-1.8zM1246 1192h1.8v1.8h-1.8zM1230 1128h1.8v1.8h-1.8zM1261 1220h1.8v1.8h-1.8zM1393 1096h1.8v1.8h-1.8zM1288 1142h1.8v1.8h-1.8zM1261 1236h1.8v1.8h-1.8zM1332 1096h1.8v1.8h-1.8zM1268 1203h1.8v1.8h-1.8zM1181 1146h1.8v1.8h-1.8zM1330 1106h1.8v1.8h-1.8zM1387 1170h1.8v1.8h-1.8zM1370 1242h1.8v1.8h-1.8zM1249 1185h1.8v1.8h-1.8zM1344 1087h1.8v1.8h-1.8zM1391 1239h1.8v1.8h-1.8zM1363 1141h1.8v1.8h-1.8zM1387 1112h1.8v1.8h-1.8zM1296 1139h1.8v1.8h-1.8zM1379 1202h1.8v1.8h-1.8zM1207 1181h1.8v1.8h-1.8zM1338 1132h1.8v1.8h-1.8zM1284 1227h1.8v1.8h-1.8zM1191 1109h1.8v1.8h-1.8zM1284 1175h1.8v1.8h-1.8zM1294 1207h1.8v1.8h-1.8zM1381 1078h1.8v1.8h-1.8zM1290 1225h1.8v1.8h-1.8zM1401 1174h1.8v1.8h-1.8zM1203 1177h1.8v1.8h-1.8zM1187 1218h1.8v1.8h-1.8zM1187 1232h1.8v1.8h-1.8zM1196 1176h1.8v1.8h-1.8zM1184 1172h1.8v1.8h-1.8zM1351 1096h1.8v1.8h-1.8zM1189 1122h1.8v1.8h-1.8zM1348 1204h1.8v1.8h-1.8zM1382 1158h1.8v1.8h-1.8zM1224 1088h1.8v1.8h-1.8zM1188 1157h1.8v1.8h-1.8zM1241 1115h1.8v1.8h-1.8zM1343 1224h1.8v1.8h-1.8zM1328 1197h1.8v1.8h-1.8zM1355 1131h1.8v1.8h-1.8zM1244 1238h1.8v1.8h-1.8zM1328 1168h1.8v1.8h-1.8zM1319 1175h1.8v1.8h-1.8zM1358 1189h1.8v1.8h-1.8zM1182 1241h1.8v1.8h-1.8zM1317 1116h1.8v1.8h-1.8zM1388 1108h1.8v1.8h-1.8zM1386 1222h1.8v1.8h-1.8zM1281 1093h1.8v1.8h-1.8zM1316 1116h1.8v1.8h-1.8zM1191 1147h1.8v1.8h-1.8zM1275 1112h1.8v1.8h-1.8zM1351 1131h1.8v1.8h-1.8zM1291 1119h1.8v1.8h-1.8zM1286 1176h1.8v1.8h-1.8zM1186 1237h1.8v1.8h-1.8zM1212 1138h1.8v1.8h-1.8zM1262 1169h1.8v1.8h-1.8zM1208 1120h1.8v1.8h-1.8zM1245 1096h1.8v1.8h-1.8zM1252 1183h1.8v1.8h-1.8zM1401 1154h1.8v1.8h-1.8zM1334 1192h1.8v1.8h-1.8zM1306 1104h1.8v1.8h-1.8zM1343 1081h1.8v1.8h-1.8zM1381 1171h1.8v1.8h-1.8zM1190 1219h1.8v1.8h-1.8zM1390 1230h1.8v1.8h-1.8zM1286 1236h1.8v1.8h-1.8zM1253 1148h1.8v1.8h-1.8zM1358 1076h1.8v1.8h-1.8zM1358 1139h1.8v1.8h-1.8zM1384 1128h1.8v1.8h-1.8zM1205 1171h1.8v1.8h-1.8zM1365 1150h1.8v1.8h-1.8zM1373 1217h1.8v1.8h-1.8zM1337 1117h1.8v1.8h-1.8zM1325 1170h1.8v1.8h-1.8zM1239 1239h1.8v1.8h-1.8zM1398 1201h1.8v1.8h-1.8zM1286 1090h1.8v1.8h-1.8zM1337 1186h1.8v1.8h-1.8zM1376 1227h1.8v1.8h-1.8zM1244 1097h1.8v1.8h-1.8zM1330 1194h1.8v1.8h-1.8zM1272 1101h1.8v1.8h-1.8zM1270 1107h1.8v1.8h-1.8zM1377 1193h1.8v1.8h-1.8zM1233 1140h1.8v1.8h-1.8zM1371 1228h1.8v1.8h-1.8zM1288 1201h1.8v1.8h-1.8zM1183 1241h1.8v1.8h-1.8zM1345 1136h1.8v1.8h-1.8zM1343 1081h1.8v1.8h-1.8zM1401 1118h1.8v1.8h-1.8zM1357 1212h1.8v1.8h-1.8zM1382 1143h1.8v1.8h-1.8zM1282 1168h1.8v1.8h-1.8zM1274 1112h1.8v1.8h-1.8zM1270 1142h1.8v1.8h-1.8zM1362 1118h1.8v1.8h-1.8zM1368 1165h1.8v1.8h-1.8zM1245 1207h1.8v1.8h-1.8zM1214 1083h1.8v1.8h-1.8zM1396 1172h1.8v1.8h-1.8zM1250 1213h1.8v1.8h-1.8zM1214 1134h1.8v1.8h-1.8zM1264 1094h1.8v1.8h-1.8zM1181 1115h1.8v1.8h-1.8zM1234 1220h1.8v1.8h-1.8zM1353 1208h1.8v1.8h-1.8zM1240 1156h1.8v1.8h-1.8zM1181 1215h1.8v1.8h-1.8zM1393 1099h1.8v1.8h-1.8zM1313 1243h1.8v1.8h-1.8zM1290 1225h1.8v1.8h-1.8zM1246 1168h1.8v1.8h-1.8zM1288 1153h1.8v1.8h-1.8zM1327 1204h1.8v1.8h-1.8zM1340 1090h1.8v1.8h-1.8zM1316 1180h1.8v1.8h-1.8zM1217 1126h1.8v1.8h-1.8zM1237 1131h1.8v1.8h-1.8zM1182 1093h1.8v1.8h-1.8zM1377 1157h1.8v1.8h-1.8zM1283 1237h1.8v1.8h-1.8zM1321 1090h1.8v1.8h-1.8zM1184 1217h1.8v1.8h-1.8zM1205 1235h1.8v1.8h-1.8zM1311 1224h1.8v1.8h-1.8zM1183 1219h1.8v1.8h-1.8zM1194 1177h1.8v1.8h-1.8zM1343 1153h1.8v1.8h-1.8zM1356 1122h1.8v1.8h-1.8zM1325 1229h1.8v1.8h-1.8zM1212 1135h1.8v1.8h-1.8zM1381 1196h1.8v1.8h-1.8zM1233 1218h1.8v1.8h-1.8zM1260 1118h1.8v1.8h-1.8zM1370 1143h1.8v1.8h-1.8zM1335 1172h1.8v1.8h-1.8zM1218 1138h1.8v1.8h-1.8zM1366 1240h1.8v1.8h-1.8zM1287 1123h1.8v1.8h-1.8zM1291 1136h1.8v1.8h-1.8zM1346 1218h1.8v1.8h-1.8zM1256 1151h1.8v1.8h-1.8zM1350 1105h1.8v1.8h-1.8zM1356 1177h1.8v1.8h-1.8zM1359 1236h1.8v1.8h-1.8zM1315 1107h1.8v1.8h-1.8zM1262 1162h1.8v1.8h-1.8zM1272 1136h1.8v1.8h-1.8zM1345 1087h1.8v1.8h-1.8zM1190 1078h1.8v1.8h-1.8zM1263 1081h1.8v1.8h-1.8zM1333 1155h1.8v1.8h-1.8zM1276 1184h1.8v1.8h-1.8zM1232 1128h1.8v1.8h-1.8zM1227 1118h1.8v1.8h-1.8zM1228 1145h1.8v1.8h-1.8zM1349 1226h1.8v1.8h-1.8zM1367 1078h1.8v1.8h-1.8zM1324 1082h1.8v1.8h-1.8zM1214 1078h1.8v1.8h-1.8zM1254 1228h1.8v1.8h-1.8zM1292 1131h1.8v1.8h-1.8zM1385 1171h1.8v1.8h-1.8zM1216 1240h1.8v1.8h-1.8zM1262 1225h1.8v1.8h-1.8zM1267 1193h1.8v1.8h-1.8zM1352 1227h1.8v1.8h-1.8zM1395 1240h1.8v1.8h-1.8zM1295 1142h1.8v1.8h-1.8zM1308 1113h1.8v1.8h-1.8zM1246 1081h1.8v1.8h-1.8zM1196 1179h1.8v1.8h-1.8zM1336 1076h1.8v1.8h-1.8zM1277 1206h1.8v1.8h-1.8zM1378 1109h1.8v1.8h-1.8zM1395 1096h1.8v1.8h-1.8zM1370 1149h1.8v1.8h-1.8zM1380 1077h1.8v1.8h-1.8zM1228 1189h1.8v1.8h-1.8zM1204 1138h1.8v1.8h-1.8zM1253 1221h1.8v1.8h-1.8zM1205 1095h1.8v1.8h-1.8zM1189 1206h1.8v1.8h-1.8zM1351 1151h1.8v1.8h-1.8zM1295 1229h1.8v1.8h-1.8zM1305 1196h1.8v1.8h-1.8zM1374 1192h1.8v1.8h-1.8zM1307 1092h1.8v1.8h-1.8zM1277 1121h1.8v1.8h-1.8zM1209 1126h1.8v1.8h-1.8zM1298 1076h1.8v1.8h-1.8zM1249 1123h1.8v1.8h-1.8zM1248 1091h1.8v1.8h-1.8zM1242 1214h1.8v1.8h-1.8zM1386 1144h1.8v1.8h-1.8zM1352 1214h1.8v1.8h-1.8zM1186 1187h1.8v1.8h-1.8zM1291 1218h1.8v1.8h-1.8zM1238 1183h1.8v1.8h-1.8zM1297 1176h1.8v1.8h-1.8zM1316 1090h1.8v1.8h-1.8zM1301 1239h1.8v1.8h-1.8zM1389 1126h1.8v1.8h-1.8zM1338 1183h1.8v1.8h-1.8zM1320 1078h1.8v1.8h-1.8zM1354 1086h1.8v1.8h-1.8zM1228 1127h1.8v1.8h-1.8zM1401 1090h1.8v1.8h-1.8zM1234 1118h1.8v1.8h-1.8zM1275 1183h1.8v1.8h-1.8zM1182 1139h1.8v1.8h-1.8zM1272 1184h1.8v1.8h-1.8zM1205 1227h1.8v1.8h-1.8zM1397 1118h1.8v1.8h-1.8zM1186 1180h1.8v1.8h-1.8zM1343 1123h1.8v1.8h-1.8zM1364 1183h1.8v1.8h-1.8zM1262 1148h1.8v1.8h-1.8zM1282 1151h1.8v1.8h-1.8zM1374 1114h1.8v1.8h-1.8zM1234 1133h1.8v1.8h-1.8zM1228 1217h1.8v1.8h-1.8zM1274 1081h1.8v1.8h-1.8zM1272 1181h1.8v1.8h-1.8zM1295 1105h1.8v1.8h-1.8zM1315 1123h1.8v1.8h-1.8zM1324 1164h1.8v1.8h-1.8zM1306 1158h1.8v1.8h-1.8zM1181 1222h1.8v1.8h-1.8zM1338 1141h1.8v1.8h-1.8zM1365 1185h1.8v1.8h-1.8zM1326 1165h1.8v1.8h-1.8zM1391 1118h1.8v1.8h-1.8zM1258 1087h1.8v1.8h-1.8zM1230 1237h1.8v1.8h-1.8zM1271 1236h1.8v1.8h-1.8zM1263 1145h1.8v1.8h-1.8zM1216 1122h1.8v1.8h-1.8zM1357 1191h1.8v1.8h-1.8zM1315 1157h1.8v1.8h-1.8zM1288 1153h1.8v1.8h-1.8zM1180 1121h1.8v1.8h-1.8zM1202 1155h1.8v1.8h-1.8zM1262 1131h1.8v1.8h-1.8zM1328 1142h1.8v1.8h-1.8zM1191 1105h1.8v1.8h-1.8zM1298 1164h1.8v1.8h-1.8zM1184 1101h1.8v1.8h-1.8zM1276 1096h1.8v1.8h-1.8zM1179 1176h1.8v1.8h-1.8zM1400 1087h1.8v1.8h-1.8zM1292 1149h1.8v1.8h-1.8zM1342 1193h1.8v1.8h-1.8zM1306 1189h1.8v1.8h-1.8zM1200 1177h1.8v1.8h-1.8zM1242 1177h1.8v1.8h-1.8zM1269 1111h1.8v1.8h-1.8zM1244 1236h1.8v1.8h-1.8zM1181 1163h1.8v1.8h-1.8zM1289 1224h1.8v1.8h-1.8zM1247 1197h1.8v1.8h-1.8zM1256 1121h1.8v1.8h-1.8zM1398 1180h1.8v1.8h-1.8zM1391 1228h1.8v1.8h-1.8zM1237 1128h1.8v1.8h-1.8zM1321 1162h1.8v1.8h-1.8zM1184 1240h1.8v1.8h-1.8zM1317 1179h1.8v1.8h-1.8zM1263 1231h1.8v1.8h-1.8zM1258 1234h1.8v1.8h-1.8zM1254 1186h1.8v1.8h-1.8zM1299 1109h1.8v1.8h-1.8zM1245 1229h1.8v1.8h-1.8zM1363 1165h1.8v1.8h-1.8zM1353 1086h1.8v1.8h-1.8zM1335 1143h1.8v1.8h-1.8zM1398 1109h1.8v1.8h-1.8zM1185 1133h1.8v1.8h-1.8zM1256 1157h1.8v1.8h-1.8zM1318 1177h1.8v1.8h-1.8zM1322 1107h1.8v1.8h-1.8zM1321 1202h1.8v1.8h-1.8zM1338 1205h1.8v1.8h-1.8zM1370 1091h1.8v1.8h-1.8zM1392 1206h1.8v1.8h-1.8zM1391 1147h1.8v1.8h-1.8zM1284 1171h1.8v1.8h-1.8zM1185 1123h1.8v1.8h-1.8zM1343 1150h1.8v1.8h-1.8zM1341 1236h1.8v1.8h-1.8zM1196 1238h1.8v1.8h-1.8zM1392 1080h1.8v1.8h-1.8zM1331 1225h1.8v1.8h-1.8zM1204 1134h1.8v1.8h-1.8zM1352 1144h1.8v1.8h-1.8zM1365 1229h1.8v1.8h-1.8zM1352 1110h1.8v1.8h-1.8zM1377 1205h1.8v1.8h-1.8zM1382 1185h1.8v1.8h-1.8zM1280 1228h1.8v1.8h-1.8zM1205 1083h1.8v1.8h-1.8zM1272 1162h1.8v1.8h-1.8zM1282 1186h1.8v1.8h-1.8zM1212 1168h1.8v1.8h-1.8zM1340 1080h1.8v1.8h-1.8zM1289 1155h1.8v1.8h-1.8zM1237 1119h1.8v1.8h-1.8zM1350 1189h1.8v1.8h-1.8zM1275 1210h1.8v1.8h-1.8zM1179 1166h1.8v1.8h-1.8zM1381 1177h1.8v1.8h-1.8zM1200 1191h1.8v1.8h-1.8zM1268 1166h1.8v1.8h-1.8zM1254 1150h1.8v1.8h-1.8zM1267 1111h1.8v1.8h-1.8zM1216 1149h1.8v1.8h-1.8zM1201 1140h1.8v1.8h-1.8zM1354 1184h1.8v1.8h-1.8zM1239 1119h1.8v1.8h-1.8zM1278 1126h1.8v1.8h-1.8zM1355 1214h1.8v1.8h-1.8zM1204 1168h1.8v1.8h-1.8zM1311 1137h1.8v1.8h-1.8zM1206 1176h1.8v1.8h-1.8zM1282 1235h1.8v1.8h-1.8zM1284 1216h1.8v1.8h-1.8zM1267 1142h1.8v1.8h-1.8zM1270 1209h1.8v1.8h-1.8zM1243 1231h1.8v1.8h-1.8zM1402 1104h1.8v1.8h-1.8zM1344 1234h1.8v1.8h-1.8zM1277 1214h1.8v1.8h-1.8zM1205 1170h1.8v1.8h-1.8zM1192 1214h1.8v1.8h-1.8zM1300 1186h1.8v1.8h-1.8zM1183 1079h1.8v1.8h-1.8zM1265 1172h1.8v1.8h-1.8zM1213 1078h1.8v1.8h-1.8zM1323 1242h1.8v1.8h-1.8zM1362 1179h1.8v1.8h-1.8zM1184 1181h1.8v1.8h-1.8zM1285 1130h1.8v1.8h-1.8zM1205 1081h1.8v1.8h-1.8zM1288 1101h1.8v1.8h-1.8zM1287 1167h1.8v1.8h-1.8zM1263 1114h1.8v1.8h-1.8zM1368 1185h1.8v1.8h-1.8zM1231 1087h1.8v1.8h-1.8zM1220 1114h1.8v1.8h-1.8zM1380 1192h1.8v1.8h-1.8zM1194 1124h1.8v1.8h-1.8zM1214 1205h1.8v1.8h-1.8zM1297 1091h1.8v1.8h-1.8zM1313 1152h1.8v1.8h-1.8zM1317 1183h1.8v1.8h-1.8zM1203 1167h1.8v1.8h-1.8zM1252 1190h1.8v1.8h-1.8zM1401 1177h1.8v1.8h-1.8zM1222 1094h1.8v1.8h-1.8zM1242 1212h1.8v1.8h-1.8zM1339 1161h1.8v1.8h-1.8zM1181 1236h1.8v1.8h-1.8zM1368 1208h1.8v1.8h-1.8zM1317 1153h1.8v1.8h-1.8zM1340 1076h1.8v1.8h-1.8zM1346 1226h1.8v1.8h-1.8zM1360 1172h1.8v1.8h-1.8zM1301 1217h1.8v1.8h-1.8zM1201 1194h1.8v1.8h-1.8zM1195 1133h1.8v1.8h-1.8zM1276 1210h1.8v1.8h-1.8zM1276 1088h1.8v1.8h-1.8zM1242 1101h1.8v1.8h-1.8zM1299 1162h1.8v1.8h-1.8zM1341 1214h1.8v1.8h-1.8zM1271 1162h1.8v1.8h-1.8zM1213 1182h1.8v1.8h-1.8zM1359 1236h1.8v1.8h-1.8zM1321 1215h1.8v1.8h-1.8zM1215 1225h1.8v1.8h-1.8zM1374 1129h1.8v1.8h-1.8zM1191 1209h1.8v1.8h-1.8zM1314 1084h1.8v1.8h-1.8zM1263 1190h1.8v1.8h-1.8zM1256 1224h1.8v1.8h-1.8zM1381 1084h1.8v1.8h-1.8zM1228 1110h1.8v1.8h-1.8zM1214 1095h1.8v1.8h-1.8zM1318 1239h1.8v1.8h-1.8zM1249 1110h1.8v1.8h-1.8zM1323 1235h1.8v1.8h-1.8zM1253 1144h1.8v1.8h-1.8zM1317 1155h1.8v1.8h-1.8zM1264 1216h1.8v1.8h-1.8zM1219 1095h1.8v1.8h-1.8zM1239 1096h1.8v1.8h-1.8zM1224 1197h1.8v1.8h-1.8zM1272 1184h1.8v1.8h-1.8zM1281 1078h1.8v1.8h-1.8z" fill="#f2ea00"/>
<rect x="1179" y="1210.5" width="27" height="34" fill="#000"/>
<text x="1185" y="1234.5" fill="#f2ea00" font-size="26" stroke="#f2ea00" stroke-width="0.35">S</text>
<rect x="1423" y="1075.5" width="226" height="169.0" fill="#000"/>
<path d="M1531 1187h1.8v1.8h-1.8zM1562 1192h1.8v1.8h-1.8zM1625 1201h1.8v1.8h-1.8zM1459 1112h1.8v1.8h-1.8zM1525 1141h1.8v1.8h-1.8zM1639 1197h1.8v1.8h-1.8zM1528 1134h1.8v1.8h-1.8zM1474 1176h1.8v1.8h-1.8zM1630 1103h1.8v1.8h-1.8zM1524 1133h1.8v1.8h-1.8zM1560 1118h1.8v1.8h-1.8zM1438 1189h1.8v1.8h-1.8zM1492 1184h1.8v1.8h-1.8zM1626 1173h1.8v1.8h-1.8zM1628 1210h1.8v1.8h-1.8zM1437 1117h1.8v1.8h-1.8zM1571 1155h1.8v1.8h-1.8zM1424 1213h1.8v1.8h-1.8zM1569 1148h1.8v1.8h-1.8zM1540 1104h1.8v1.8h-1.8zM1546 1099h1.8v1.8h-1.8zM1572 1233h1.8v1.8h-1.8zM1471 1120h1.8v1.8h-1.8zM1552 1222h1.8v1.8h-1.8zM1461 1141h1.8v1.8h-1.8zM1559 1103h1.8v1.8h-1.8zM1438 1201h1.8v1.8h-1.8zM1563 1173h1.8v1.8h-1.8zM1545 1093h1.8v1.8h-1.8zM1531 1157h1.8v1.8h-1.8zM1538 1103h1.8v1.8h-1.8zM1438 1162h1.8v1.8h-1.8zM1579 1187h1.8v1.8h-1.8zM1633 1138h1.8v1.8h-1.8zM1511 1131h1.8v1.8h-1.8zM1536 1187h1.8v1.8h-1.8zM1617 1091h1.8v1.8h-1.8zM1552 1204h1.8v1.8h-1.8zM1591 1148h1.8v1.8h-1.8zM1439 1129h1.8v1.8h-1.8zM1557 1206h1.8v1.8h-1.8zM1472 1130h1.8v1.8h-1.8zM1505 1084h1.8v1.8h-1.8zM1641 1134h1.8v1.8h-1.8zM1522 1238h1.8v1.8h-1.8zM1598 1121h1.8v1.8h-1.8zM1634 1214h1.8v1.8h-1.8zM1550 1149h1.8v1.8h-1.8zM1613 1230h1.8v1.8h-1.8zM1573 1129h1.8v1.8h-1.8zM1619 1186h1.8v1.8h-1.8zM1632 1212h1.8v1.8h-1.8zM1578 1225h1.8v1.8h-1.8zM1522 1177h1.8v1.8h-1.8zM1591 1149h1.8v1.8h-1.8zM1452 1214h1.8v1.8h-1.8zM1543 1152h1.8v1.8h-1.8zM1543 1124h1.8v1.8h-1.8zM1612 1123h1.8v1.8h-1.8zM1478 1181h1.8v1.8h-1.8zM1533 1128h1.8v1.8h-1.8zM1441 1150h1.8v1.8h-1.8zM1516 1167h1.8v1.8h-1.8zM1568 1121h1.8v1.8h-1.8zM1438 1086h1.8v1.8h-1.8zM1546 1232h1.8v1.8h-1.8zM1589 1231h1.8v1.8h-1.8zM1457 1110h1.8v1.8h-1.8zM1583 1144h1.8v1.8h-1.8zM1517 1215h1.8v1.8h-1.8zM1441 1233h1.8v1.8h-1.8zM1465 1174h1.8v1.8h-1.8zM1570 1169h1.8v1.8h-1.8zM1581 1127h1.8v1.8h-1.8zM1475 1186h1.8v1.8h-1.8zM1635 1086h1.8v1.8h-1.8zM1447 1241h1.8v1.8h-1.8zM1435 1097h1.8v1.8h-1.8zM1536 1129h1.8v1.8h-1.8zM1581 1153h1.8v1.8h-1.8zM1602 1094h1.8v1.8h-1.8zM1473 1108h1.8v1.8h-1.8zM1603 1243h1.8v1.8h-1.8zM1508 1113h1.8v1.8h-1.8zM1439 1106h1.8v1.8h-1.8zM1643 1235h1.8v1.8h-1.8zM1630 1106h1.8v1.8h-1.8zM1440 1242h1.8v1.8h-1.8zM1585 1223h1.8v1.8h-1.8zM1624 1221h1.8v1.8h-1.8zM1426 1221h1.8v1.8h-1.8zM1550 1240h1.8v1.8h-1.8zM1467 1141h1.8v1.8h-1.8zM1451 1203h1.8v1.8h-1.8zM1555 1220h1.8v1.8h-1.8zM1548 1207h1.8v1.8h-1.8zM1505 1086h1.8v1.8h-1.8zM1439 1087h1.8v1.8h-1.8zM1429 1198h1.8v1.8h-1.8zM1587 1241h1.8v1.8h-1.8zM1599 1109h1.8v1.8h-1.8zM1463 1136h1.8v1.8h-1.8zM1500 1098h1.8v1.8h-1.8zM1596 1197h1.8v1.8h-1.8zM1517 1171h1.8v1.8h-1.8zM1558 1170h1.8v1.8h-1.8zM1559 1181h1.8v1.8h-1.8zM1644 1126h1.8v1.8h-1.8zM1442 1098h1.8v1.8h-1.8zM1558 1156h1.8v1.8h-1.8zM1631 1167h1.8v1.8h-1.8zM1627 1216h1.8v1.8h-1.8zM1502 1115h1.8v1.8h-1.8zM1573 1145h1.8v1.8h-1.8zM1458 1083h1.8v1.8h-1.8zM1609 1239h1.8v1.8h-1.8zM1587 1096h1.8v1.8h-1.8zM1426 1179h1.8v1.8h-1.8zM1512 1231h1.8v1.8h-1.8zM1525 1192h1.8v1.8h-1.8zM1430 1083h1.8v1.8h-1.8zM1592 1180h1.8v1.8h-1.8zM1621 1138h1.8v1.8h-1.8zM1547 1155h1.8v1.8h-1.8zM1596 1177h1.8v1.8h-1.8zM1613 1101h1.8v1.8h-1.8zM1569 1138h1.8v1.8h-1.8zM1600 1144h1.8v1.8h-1.8zM1459 1077h1.8v1.8h-1.8zM1536 1097h1.8v1.8h-1.8zM1593 1223h1.8v1.8h-1.8zM1496 1201h1.8v1.8h-1.8zM1574 1167h1.8v1.8h-1.8zM1442 1238h1.8v1.8h-1.8zM1492 1087h1.8v1.8h-1.8zM1595 1235h1.8v1.8h-1.8zM1604 1186h1.8v1.8h-1.8zM1497 1238h1.8v1.8h-1.8zM1529 1196h1.8v1.8h-1.8zM1599 1142h1.8v1.8h-1.8zM1644 1144h1.8v1.8h-1.8zM1576 1112h1.8v1.8h-1.8zM1477 1157h1.8v1.8h-1.8zM1456 1191h1.8v1.8h-1.8zM1465 1128h1.8v1.8h-1.8zM1625 1220h1.8v1.8h-1.8zM1634 1205h1.8v1.8h-1.8zM1496 1130h1.8v1.8h-1.8zM1598 1168h1.8v1.8h-1.8zM1630 1230h1.8v1.8h-1.8zM1522 1102h1.8v1.8h-1.8zM1622 1211h1.8v1.8h-1.8zM1540 1182h1.8v1.8h-1.8zM1573 1160h1.8v1.8h-1.8zM1489 1142h1.8v1.8h-1.8zM1623 1221h1.8v1.8h-1.8zM1626 1231h1.8v1.8h-1.8zM1534 1133h1.8v1.8h-1.8zM1618 1076h1.8v1.8h-1.8zM1616 1082h1.8v1.8h-1.8zM1574 1087h1.8v1.8h-1.8zM1495 1091h1.8v1.8h-1.8zM1536 1150h1.8v1.8h-1.8zM1619 1144h1.8v1.8h-1.8zM1601 1230h1.8v1.8h-1.8zM1635 1131h1.8v1.8h-1.8zM1630 1114h1.8v1.8h-1.8zM1519 1227h1.8v1.8h-1.8zM1550 1111h1.8v1.8h-1.8zM1514 1128h1.8v1.8h-1.8zM1628 1191h1.8v1.8h-1.8zM1641 1185h1.8v1.8h-1.8zM1645 1106h1.8v1.8h-1.8zM1520 1104h1.8v1.8h-1.8zM1528 1160h1.8v1.8h-1.8zM1619 1180h1.8v1.8h-1.8zM1564 1172h1.8v1.8h-1.8zM1620 1218h1.8v1.8h-1.8zM1493 1157h1.8v1.8h-1.8zM1500 1081h1.8v1.8h-1.8zM1479 1123h1.8v1.8h-1.8zM1622 1241h1.8v1.8h-1.8zM1451 1133h1.8v1.8h-1.8zM1573 1094h1.8v1.8h-1.8zM1522 1141h1.8v1.8h-1.8zM1570 1236h1.8v1.8h-1.8zM1608 1114h1.8v1.8h-1.8zM1465 1153h1.8v1.8h-1.8zM1535 1192h1.8v1.8h-1.8zM1585 1205h1.8v1.8h-1.8zM1476 1129h1.8v1.8h-1.8zM1591 1160h1.8v1.8h-1.8zM1621 1191h1.8v1.8h-1.8zM1509 1239h1.8v1.8h-1.8zM1542 1110h1.8v1.8h-1.8zM1479 1232h1.8v1.8h-1.8zM1471 1122h1.8v1.8h-1.8zM1504 1221h1.8v1.8h-1.8zM1581 1174h1.8v1.8h-1.8zM1579 1222h1.8v1.8h-1.8zM1512 1221h1.8v1.8h-1.8zM1430 1151h1.8v1.8h-1.8zM1611 1108h1.8v1.8h-1.8zM1543 1149h1.8v1.8h-1.8zM1513 1091h1.8v1.8h-1.8zM1598 1238h1.8v1.8h-1.8zM1643 1225h1.8v1.8h-1.8zM1548 1174h1.8v1.8h-1.8zM1633 1081h1.8v1.8h-1.8zM1428 1164h1.8v1.8h-1.8zM1598 1180h1.8v1.8h-1.8zM1435 1170h1.8v1.8h-1.8zM1547 1198h1.8v1.8h-1.8zM1429 1178h1.8v1.8h-1.8zM1516 1162h1.8v1.8h-1.8zM1595 1128h1.8v1.8h-1.8zM1470 1095h1.8v1.8h-1.8zM1596 1197h1.8v1.8h-1.8zM1493 1173h1.8v1.8h-1.8zM1597 1199h1.8v1.8h-1.8zM1494 1152h1.8v1.8h-1.8zM1514 1091h1.8v1.8h-1.8zM1570 1117h1.8v1.8h-1.8zM1574 1175h1.8v1.8h-1.8zM1502 1132h1.8v1.8h-1.8zM1600 1163h1.8v1.8h-1.8zM1621 1230h1.8v1.8h-1.8zM1564 1203h1.8v1.8h-1.8zM1567 1167h1.8v1.8h-1.8zM1514 1185h1.8v1.8h-1.8zM1589 1097h1.8v1.8h-1.8zM1593 1224h1.8v1.8h-1.8zM1647 1184h1.8v1.8h-1.8zM1639 1167h1.8v1.8h-1.8zM1428 1167h1.8v1.8h-1.8zM1579 1132h1.8v1.8h-1.8zM1514 1175h1.8v1.8h-1.8zM1556 1176h1.8v1.8h-1.8zM1562 1165h1.8v1.8h-1.8zM1597 1108h1.8v1.8h-1.8zM1425 1139h1.8v1.8h-1.8zM1425 1107h1.8v1.8h-1.8zM1527 1133h1.8v1.8h-1.8zM1591 1077h1.8v1.8h-1.8zM1576 1236h1.8v1.8h-1.8zM1454 1224h1.8v1.8h-1.8zM1524 1083h1.8v1.8h-1.8zM1542 1229h1.8v1.8h-1.8zM1619 1132h1.8v1.8h-1.8zM1554 1185h1.8v1.8h-1.8zM1447 1120h1.8v1.8h-1.8zM1463 1188h1.8v1.8h-1.8zM1643 1116h1.8v1.8h-1.8zM1429 1201h1.8v1.8h-1.8zM1637 1161h1.8v1.8h-1.8zM1438 1222h1.8v1.8h-1.8zM1540 1104h1.8v1.8h-1.8zM1451 1090h1.8v1.8h-1.8zM1479 1163h1.8v1.8h-1.8zM1559 1131h1.8v1.8h-1.8zM1617 1208h1.8v1.8h-1.8zM1423 1183h1.8v1.8h-1.8zM1444 1142h1.8v1.8h-1.8zM1517 1130h1.8v1.8h-1.8zM1450 1147h1.8v1.8h-1.8zM1425 1095h1.8v1.8h-1.8zM1518 1148h1.8v1.8h-1.8zM1463 1115h1.8v1.8h-1.8zM1449 1161h1.8v1.8h-1.8zM1526 1177h1.8v1.8h-1.8zM1636 1214h1.8v1.8h-1.8zM1437 1084h1.8v1.8h-1.8zM1465 1077h1.8v1.8h-1.8zM1582 1151h1.8v1.8h-1.8zM1546 1146h1.8v1.8h-1.8zM1564 1207h1.8v1.8h-1.8zM1508 1180h1.8v1.8h-1.8zM1533 1238h1.8v1.8h-1.8zM1573 1138h1.8v1.8h-1.8zM1538 1227h1.8v1.8h-1.8zM1644 1196h1.8v1.8h-1.8zM1641 1198h1.8v1.8h-1.8zM1513 1123h1.8v1.8h-1.8zM1458 1183h1.8v1.8h-1.8zM1581 1093h1.8v1.8h-1.8zM1634 1178h1.8v1.8h-1.8zM1590 1231h1.8v1.8h-1.8zM1476 1120h1.8v1.8h-1.8zM1461 1175h1.8v1.8h-1.8zM1619 1146h1.8v1.8h-1.8zM1475 1124h1.8v1.8h-1.8zM1474 1209h1.8v1.8h-1.8zM1570 1167h1.8v1.8h-1.8zM1627 1135h1.8v1.8h-1.8zM1548 1225h1.8v1.8h-1.8zM1474 1238h1.8v1.8h-1.8zM1630 1100h1.8v1.8h-1.8zM1488 1226h1.8v1.8h-1.8zM1622 1167h1.8v1.8h-1.8zM1425 1222h1.8v1.8h-1.8zM1602 1119h1.8v1.8h-1.8zM1442 1111h1.8v1.8h-1.8zM1645 1145h1.8v1.8h-1.8zM1609 1239h1.8v1.8h-1.8zM1502 1079h1.8v1.8h-1.8zM1427 1204h1.8v1.8h-1.8zM1461 1135h1.8v1.8h-1.8zM1525 1128h1.8v1.8h-1.8zM1571 1172h1.8v1.8h-1.8zM1558 1102h1.8v1.8h-1.8zM1554 1113h1.8v1.8h-1.8zM1564 1121h1.8v1.8h-1.8zM1530 1180h1.8v1.8h-1.8zM1430 1228h1.8v1.8h-1.8zM1474 1104h1.8v1.8h-1.8zM1571 1202h1.8v1.8h-1.8zM1434 1210h1.8v1.8h-1.8zM1517 1150h1.8v1.8h-1.8zM1639 1132h1.8v1.8h-1.8zM1475 1212h1.8v1.8h-1.8zM1455 1173h1.8v1.8h-1.8zM1604 1124h1.8v1.8h-1.8zM1554 1178h1.8v1.8h-1.8zM1591 1231h1.8v1.8h-1.8zM1444 1144h1.8v1.8h-1.8zM1443 1225h1.8v1.8h-1.8zM1617 1137h1.8v1.8h-1.8zM1598 1162h1.8v1.8h-1.8zM1568 1213h1.8v1.8h-1.8zM1492 1161h1.8v1.8h-1.8zM1508 1092h1.8v1.8h-1.8zM1636 1154h1.8v1.8h-1.8zM1632 1144h1.8v1.8h-1.8zM1627 1188h1.8v1.8h-1.8zM1533 1176h1.8v1.8h-1.8zM1575 1183h1.8v1.8h-1.8zM1426 1117h1.8v1.8h-1.8zM1579 1116h1.8v1.8h-1.8zM1479 1227h1.8v1.8h-1.8zM1425 1145h1.8v1.8h-1.8zM1584 1141h1.8v1.8h-1.8zM1574 1146h1.8v1.8h-1.8zM1601 1101h1.8v1.8h-1.8zM1637 1106h1.8v1.8h-1.8zM1554 1135h1.8v1.8h-1.8zM1483 1146h1.8v1.8h-1.8zM1500 1171h1.8v1.8h-1.8zM1566 1097h1.8v1.8h-1.8zM1441 1156h1.8v1.8h-1.8zM1542 1168h1.8v1.8h-1.8zM1595 1215h1.8v1.8h-1.8zM1472 1154h1.8v1.8h-1.8zM1526 1109h1.8v1.8h-1.8zM1451 1228h1.8v1.8h-1.8zM1509 1120h1.8v1.8h-1.8zM1626 1123h1.8v1.8h-1.8zM1475 1111h1.8v1.8h-1.8zM1637 1108h1.8v1.8h-1.8zM1515 1143h1.8v1.8h-1.8zM1424 1160h1.8v1.8h-1.8zM1583 1212h1.8v1.8h-1.8zM1644 1191h1.8v1.8h-1.8zM1603 1144h1.8v1.8h-1.8zM1635 1148h1.8v1.8h-1.8zM1512 1121h1.8v1.8h-1.8zM1551 1150h1.8v1.8h-1.8zM1570 1139h1.8v1.8h-1.8zM1584 1213h1.8v1.8h-1.8zM1618 1167h1.8v1.8h-1.8zM1494 1093h1.8v1.8h-1.8zM1427 1205h1.8v1.8h-1.8zM1452 1185h1.8v1.8h-1.8zM1579 1129h1.8v1.8h-1.8zM1577 1080h1.8v1.8h-1.8zM1449 1177h1.8v1.8h-1.8zM1599 1195h1.8v1.8h-1.8zM1479 1234h1.8v1.8h-1.8zM1632 1146h1.8v1.8h-1.8zM1643 1130h1.8v1.8h-1.8zM1634 1091h1.8v1.8h-1.8zM1438 1205h1.8v1.8h-1.8zM1593 1168h1.8v1.8h-1.8zM1449 1189h1.8v1.8h-1.8zM1442 1131h1.8v1.8h-1.8zM1428 1098h1.8v1.8h-1.8zM1556 1193h1.8v1.8h-1.8zM1518 1080h1.8v1.8h-1.8zM1458 1099h1.8v1.8h-1.8zM1647 1233h1.8v1.8h-1.8zM1444 1159h1.8v1.8h-1.8zM1536 1107h1.8v1.8h-1.8zM1533 1217h1.8v1.8h-1.8zM1528 1210h1.8v1.8h-1.8zM1568 1173h1.8v1.8h-1.8zM1642 1116h1.8v1.8h-1.8zM1535 1102h1.8v1.8h-1.8zM1571 1190h1.8v1.8h-1.8zM1472 1176h1.8v1.8h-1.8zM1589 1218h1.8v1.8h-1.8zM1496 1100h1.8v1.8h-1.8zM1565 1080h1.8v1.8h-1.8zM1510 1146h1.8v1.8h-1.8zM1618 1199h1.8v1.8h-1.8zM1641 1240h1.8v1.8h-1.8zM1580 1106h1.8v1.8h-1.8zM1583 1218h1.8v1.8h-1.8zM1640 1177h1.8v1.8h-1.8zM1643 1231h1.8v1.8h-1.8zM1559 1226h1.8v1.8h-1.8zM1454 1174h1.8v1.8h-1.8zM1582 1189h1.8v1.8h-1.8zM1578 1183h1.8v1.8h-1.8zM1544 1170h1.8v1.8h-1.8zM1588 1103h1.8v1.8h-1.8zM1429 1180h1.8v1.8h-1.8zM1620 1198h1.8v1.8h-1.8zM1570 1107h1.8v1.8h-1.8zM1599 1089h1.8v1.8h-1.8zM1639 1087h1.8v1.8h-1.8zM1483 1140h1.8v1.8h-1.8zM1543 1206h1.8v1.8h-1.8zM1436 1140h1.8v1.8h-1.8zM1565 1124h1.8v1.8h-1.8zM1555 1182h1.8v1.8h-1.8zM1431 1145h1.8v1.8h-1.8zM1607 1146h1.8v1.8h-1.8zM1567 1078h1.8v1.8h-1.8zM1584 1201h1.8v1.8h-1.8zM1449 1121h1.8v1.8h-1.8zM1515 1098h1.8v1.8h-1.8zM1531 1218h1.8v1.8h-1.8zM1558 1201h1.8v1.8h-1.8zM1454 1177h1.8v1.8h-1.8zM1495 1139h1.8v1.8h-1.8zM1557 1192h1.8v1.8h-1.8zM1556 1174h1.8v1.8h-1.8zM1604 1213h1.8v1.8h-1.8zM1602 1153h1.8v1.8h-1.8zM1556 1166h1.8v1.8h-1.8zM1621 1206h1.8v1.8h-1.8zM1438 1146h1.8v1.8h-1.8zM1595 1154h1.8v1.8h-1.8zM1479 1160h1.8v1.8h-1.8zM1449 1094h1.8v1.8h-1.8zM1480 1125h1.8v1.8h-1.8zM1461 1184h1.8v1.8h-1.8zM1492 1172h1.8v1.8h-1.8zM1489 1154h1.8v1.8h-1.8zM1444 1158h1.8v1.8h-1.8zM1440 1076h1.8v1.8h-1.8zM1455 1194h1.8v1.8h-1.8zM1470 1145h1.8v1.8h-1.8zM1433 1194h1.8v1.8h-1.8zM1599 1229h1.8v1.8h-1.8zM1598 1232h1.8v1.8h-1.8zM1630 1179h1.8v1.8h-1.8zM1616 1122h1.8v1.8h-1.8zM1441 1107h1.8v1.8h-1.8zM1628 1130h1.8v1.8h-1.8zM1627 1167h1.8v1.8h-1.8zM1520 1131h1.8v1.8h-1.8zM1512 1137h1.8v1.8h-1.8zM1530 1132h1.8v1.8h-1.8zM1515 1118h1.8v1.8h-1.8zM1575 1186h1.8v1.8h-1.8zM1545 1204h1.8v1.8h-1.8zM1495 1087h1.8v1.8h-1.8zM1628 1150h1.8v1.8h-1.8zM1488 1174h1.8v1.8h-1.8zM1492 1137h1.8v1.8h-1.8zM1447 1091h1.8v1.8h-1.8zM1567 1172h1.8v1.8h-1.8zM1637 1177h1.8v1.8h-1.8zM1602 1218h1.8v1.8h-1.8zM1625 1098h1.8v1.8h-1.8zM1453 1181h1.8v1.8h-1.8zM1435 1120h1.8v1.8h-1.8zM1590 1240h1.8v1.8h-1.8zM1426 1177h1.8v1.8h-1.8zM1425 1197h1.8v1.8h-1.8zM1624 1122h1.8v1.8h-1.8zM1423 1235h1.8v1.8h-1.8zM1505 1127h1.8v1.8h-1.8zM1438 1150h1.8v1.8h-1.8zM1435 1133h1.8v1.8h-1.8zM1579 1199h1.8v1.8h-1.8zM1523 1230h1.8v1.8h-1.8zM1498 1083h1.8v1.8h-1.8zM1608 1124h1.8v1.8h-1.8zM1437 1236h1.8v1.8h-1.8zM1646 1188h1.8v1.8h-1.8zM1517 1163h1.8v1.8h-1.8zM1633 1196h1.8v1.8h-1.8zM1572 1191h1.8v1.8h-1.8zM1488 1168h1.8v1.8h-1.8zM1587 1206h1.8v1.8h-1.8zM1566 1150h1.8v1.8h-1.8zM1596 1093h1.8v1.8h-1.8zM1607 1104h1.8v1.8h-1.8zM1641 1205h1.8v1.8h-1.8zM1474 1238h1.8v1.8h-1.8zM1583 1189h1.8v1.8h-1.8zM1568 1079h1.8v1.8h-1.8zM1489 1115h1.8v1.8h-1.8zM1645 1159h1.8v1.8h-1.8zM1527 1106h1.8v1.8h-1.8zM1476 1137h1.8v1.8h-1.8zM1514 1079h1.8v1.8h-1.8zM1625 1182h1.8v1.8h-1.8zM1536 1223h1.8v1.8h-1.8zM1605 1139h1.8v1.8h-1.8zM1578 1092h1.8v1.8h-1.8zM1542 1170h1.8v1.8h-1.8zM1540 1197h1.8v1.8h-1.8zM1552 1123h1.8v1.8h-1.8zM1646 1176h1.8v1.8h-1.8zM1561 1129h1.8v1.8h-1.8zM1600 1199h1.8v1.8h-1.8zM1455 1120h1.8v1.8h-1.8zM1538 1241h1.8v1.8h-1.8zM1495 1142h1.8v1.8h-1.8zM1593 1211h1.8v1.8h-1.8zM1475 1226h1.8v1.8h-1.8zM1628 1173h1.8v1.8h-1.8zM1562 1185h1.8v1.8h-1.8zM1501 1198h1.8v1.8h-1.8zM1607 1136h1.8v1.8h-1.8zM1541 1104h1.8v1.8h-1.8zM1439 1194h1.8v1.8h-1.8zM1588 1134h1.8v1.8h-1.8zM1623 1134h1.8v1.8h-1.8zM1637 1157h1.8v1.8h-1.8zM1614 1165h1.8v1.8h-1.8zM1546 1157h1.8v1.8h-1.8zM1625 1154h1.8v1.8h-1.8zM1450 1107h1.8v1.8h-1.8zM1488 1128h1.8v1.8h-1.8zM1449 1214h1.8v1.8h-1.8zM1530 1172h1.8v1.8h-1.8zM1459 1173h1.8v1.8h-1.8zM1504 1226h1.8v1.8h-1.8zM1432 1214h1.8v1.8h-1.8zM1464 1089h1.8v1.8h-1.8zM1624 1168h1.8v1.8h-1.8zM1474 1168h1.8v1.8h-1.8zM1439 1164h1.8v1.8h-1.8zM1521 1089h1.8v1.8h-1.8zM1460 1130h1.8v1.8h-1.8zM1545 1157h1.8v1.8h-1.8zM1627 1165h1.8v1.8h-1.8zM1574 1223h1.8v1.8h-1.8zM1540 1174h1.8v1.8h-1.8zM1490 1228h1.8v1.8h-1.8zM1451 1163h1.8v1.8h-1.8zM1425 1123h1.8v1.8h-1.8zM1516 1126h1.8v1.8h-1.8zM1645 1188h1.8v1.8h-1.8zM1433 1177h1.8v1.8h-1.8zM1591 1195h1.8v1.8h-1.8zM1457 1195h1.8v1.8h-1.8zM1632 1231h1.8v1.8h-1.8zM1605 1194h1.8v1.8h-1.8zM1436 1095h1.8v1.8h-1.8zM1454 1209h1.8v1.8h-1.8zM1560 1138h1.8v1.8h-1.8zM1459 1142h1.8v1.8h-1.8zM1451 1208h1.8v1.8h-1.8zM1428 1210h1.8v1.8h-1.8zM1531 1221h1.8v1.8h-1.8zM1500 1192h1.8v1.8h-1.8zM1519 1216h1.8v1.8h-1.8zM1439 1236h1.8v1.8h-1.8zM1541 1208h1.8v1.8h-1.8zM1510 1199h1.8v1.8h-1.8zM1605 1191h1.8v1.8h-1.8zM1586 1078h1.8v1.8h-1.8zM1469 1178h1.8v1.8h-1.8zM1477 1219h1.8v1.8h-1.8zM1583 1235h1.8v1.8h-1.8zM1437 1232h1.8v1.8h-1.8zM1584 1083h1.8v1.8h-1.8zM1431 1146h1.8v1.8h-1.8zM1459 1086h1.8v1.8h-1.8zM1581 1177h1.8v1.8h-1.8zM1646 1127h1.8v1.8h-1.8zM1493 1156h1.8v1.8h-1.8zM1436 1174h1.8v1.8h-1.8zM1509 1101h1.8v1.8h-1.8zM1448 1198h1.8v1.8h-1.8zM1445 1092h1.8v1.8h-1.8zM1489 1109h1.8v1.8h-1.8zM1612 1192h1.8v1.8h-1.8zM1461 1227h1.8v1.8h-1.8zM1565 1196h1.8v1.8h-1.8zM1534 1113h1.8v1.8h-1.8zM1569 1144h1.8v1.8h-1.8zM1464 1146h1.8v1.8h-1.8zM1501 1213h1.8v1.8h-1.8zM1437 1129h1.8v1.8h-1.8zM1614 1191h1.8v1.8h-1.8zM1424 1115h1.8v1.8h-1.8zM1446 1153h1.8v1.8h-1.8zM1625 1087h1.8v1.8h-1.8zM1445 1234h1.8v1.8h-1.8zM1645 1087h1.8v1.8h-1.8zM1447 1145h1.8v1.8h-1.8zM1554 1174h1.8v1.8h-1.8zM1567 1092h1.8v1.8h-1.8zM1468 1234h1.8v1.8h-1.8zM1625 1089h1.8v1.8h-1.8zM1614 1119h1.8v1.8h-1.8zM1462 1187h1.8v1.8h-1.8zM1430 1209h1.8v1.8h-1.8zM1447 1190h1.8v1.8h-1.8zM1629 1190h1.8v1.8h-1.8zM1435 1118h1.8v1.8h-1.8zM1541 1221h1.8v1.8h-1.8zM1552 1235h1.8v1.8h-1.8zM1431 1236h1.8v1.8h-1.8zM1579 1225h1.8v1.8h-1.8zM1644 1106h1.8v1.8h-1.8zM1567 1128h1.8v1.8h-1.8zM1475 1186h1.8v1.8h-1.8zM1470 1188h1.8v1.8h-1.8zM1540 1096h1.8v1.8h-1.8zM1611 1212h1.8v1.8h-1.8zM1640 1156h1.8v1.8h-1.8zM1630 1212h1.8v1.8h-1.8zM1565 1169h1.8v1.8h-1.8zM1454 1182h1.8v1.8h-1.8zM1425 1180h1.8v1.8h-1.8zM1567 1238h1.8v1.8h-1.8zM1447 1195h1.8v1.8h-1.8zM1612 1159h1.8v1.8h-1.8zM1492 1121h1.8v1.8h-1.8zM1619 1192h1.8v1.8h-1.8zM1456 1117h1.8v1.8h-1.8zM1605 1187h1.8v1.8h-1.8zM1547 1133h1.8v1.8h-1.8zM1532 1163h1.8v1.8h-1.8zM1630 1109h1.8v1.8h-1.8zM1442 1121h1.8v1.8h-1.8zM1534 1179h1.8v1.8h-1.8zM1617 1095h1.8v1.8h-1.8zM1607 1199h1.8v1.8h-1.8zM1471 1131h1.8v1.8h-1.8zM1534 1086h1.8v1.8h-1.8zM1487 1104h1.8v1.8h-1.8zM1483 1234h1.8v1.8h-1.8zM1479 1114h1.8v1.8h-1.8zM1513 1214h1.8v1.8h-1.8zM1459 1209h1.8v1.8h-1.8zM1541 1232h1.8v1.8h-1.8zM1615 1140h1.8v1.8h-1.8zM1511 1145h1.8v1.8h-1.8zM1636 1109h1.8v1.8h-1.8zM1530 1207h1.8v1.8h-1.8zM1567 1119h1.8v1.8h-1.8zM1509 1077h1.8v1.8h-1.8zM1424 1186h1.8v1.8h-1.8zM1471 1210h1.8v1.8h-1.8zM1562 1189h1.8v1.8h-1.8zM1477 1222h1.8v1.8h-1.8zM1469 1112h1.8v1.8h-1.8zM1507 1204h1.8v1.8h-1.8zM1541 1141h1.8v1.8h-1.8zM1581 1119h1.8v1.8h-1.8zM1488 1076h1.8v1.8h-1.8zM1453 1187h1.8v1.8h-1.8zM1515 1103h1.8v1.8h-1.8zM1543 1171h1.8v1.8h-1.8zM1472 1165h1.8v1.8h-1.8zM1627 1145h1.8v1.8h-1.8zM1573 1076h1.8v1.8h-1.8zM1443 1165h1.8v1.8h-1.8zM1451 1197h1.8v1.8h-1.8zM1572 1163h1.8v1.8h-1.8zM1633 1170h1.8v1.8h-1.8zM1460 1234h1.8v1.8h-1.8zM1522 1096h1.8v1.8h-1.8zM1474 1168h1.8v1.8h-1.8zM1424 1104h1.8v1.8h-1.8zM1628 1218h1.8v1.8h-1.8zM1444 1181h1.8v1.8h-1.8zM1504 1137h1.8v1.8h-1.8zM1433 1150h1.8v1.8h-1.8zM1525 1076h1.8v1.8h-1.8zM1435 1238h1.8v1.8h-1.8zM1529 1148h1.8v1.8h-1.8zM1644 1218h1.8v1.8h-1.8zM1499 1180h1.8v1.8h-1.8zM1622 1126h1.8v1.8h-1.8zM1582 1123h1.8v1.8h-1.8zM1608 1089h1.8v1.8h-1.8zM1449 1136h1.8v1.8h-1.8zM1467 1120h1.8v1.8h-1.8zM1595 1237h1.8v1.8h-1.8zM1431 1156h1.8v1.8h-1.8zM1548 1221h1.8v1.8h-1.8zM1517 1166h1.8v1.8h-1.8zM1629 1234h1.8v1.8h-1.8zM1507 1196h1.8v1.8h-1.8zM1520 1149h1.8v1.8h-1.8zM1568 1239h1.8v1.8h-1.8zM1511 1089h1.8v1.8h-1.8zM1425 1124h1.8v1.8h-1.8zM1554 1097h1.8v1.8h-1.8zM1639 1193h1.8v1.8h-1.8zM1613 1223h1.8v1.8h-1.8zM1527 1218h1.8v1.8h-1.8zM1588 1141h1.8v1.8h-1.8zM1565 1194h1.8v1.8h-1.8zM1568 1132h1.8v1.8h-1.8zM1604 1186h1.8v1.8h-1.8zM1645 1236h1.8v1.8h-1.8zM1558 1110h1.8v1.8h-1.8zM1637 1209h1.8v1.8h-1.8zM1533 1081h1.8v1.8h-1.8zM1620 1148h1.8v1.8h-1.8zM1615 1205h1.8v1.8h-1.8zM1580 1207h1.8v1.8h-1.8zM1462 1165h1.8v1.8h-1.8zM1591 1177h1.8v1.8h-1.8zM1497 1098h1.8v1.8h-1.8zM1504 1232h1.8v1.8h-1.8zM1582 1097h1.8v1.8h-1.8zM1458 1193h1.8v1.8h-1.8zM1539 1098h1.8v1.8h-1.8zM1478 1149h1.8v1.8h-1.8zM1626 1147h1.8v1.8h-1.8zM1610 1125h1.8v1.8h-1.8zM1628 1184h1.8v1.8h-1.8zM1490 1221h1.8v1.8h-1.8zM1546 1167h1.8v1.8h-1.8zM1559 1163h1.8v1.8h-1.8zM1493 1077h1.8v1.8h-1.8zM1470 1180h1.8v1.8h-1.8zM1571 1201h1.8v1.8h-1.8zM1551 1118h1.8v1.8h-1.8zM1446 1212h1.8v1.8h-1.8zM1554 1111h1.8v1.8h-1.8zM1539 1101h1.8v1.8h-1.8zM1539 1103h1.8v1.8h-1.8zM1453 1219h1.8v1.8h-1.8zM1564 1161h1.8v1.8h-1.8zM1520 1230h1.8v1.8h-1.8zM1554 1205h1.8v1.8h-1.8zM1434 1086h1.8v1.8h-1.8zM1577 1176h1.8v1.8h-1.8zM1514 1197h1.8v1.8h-1.8zM1639 1096h1.8v1.8h-1.8zM1493 1189h1.8v1.8h-1.8zM1616 1162h1.8v1.8h-1.8zM1621 1163h1.8v1.8h-1.8zM1647 1107h1.8v1.8h-1.8zM1498 1079h1.8v1.8h-1.8zM1550 1123h1.8v1.8h-1.8zM1461 1077h1.8v1.8h-1.8zM1466 1124h1.8v1.8h-1.8zM1494 1135h1.8v1.8h-1.8zM1580 1128h1.8v1.8h-1.8zM1491 1212h1.8v1.8h-1.8zM1495 1200h1.8v1.8h-1.8zM1587 1081h1.8v1.8h-1.8zM1483 1133h1.8v1.8h-1.8zM1466 1127h1.8v1.8h-1.8zM1621 1225h1.8v1.8h-1.8zM1473 1083h1.8v1.8h-1.8zM1595 1218h1.8v1.8h-1.8zM1564 1124h1.8v1.8h-1.8zM1458 1092h1.8v1.8h-1.8zM1492 1100h1.8v1.8h-1.8zM1637 1157h1.8v1.8h-1.8zM1525 1196h1.8v1.8h-1.8zM1591 1097h1.8v1.8h-1.8zM1528 1162h1.8v1.8h-1.8zM1471 1167h1.8v1.8h-1.8zM1531 1213h1.8v1.8h-1.8zM1587 1205h1.8v1.8h-1.8zM1439 1119h1.8v1.8h-1.8zM1505 1199h1.8v1.8h-1.8zM1541 1226h1.8v1.8h-1.8zM1582 1116h1.8v1.8h-1.8zM1542 1185h1.8v1.8h-1.8zM1583 1085h1.8v1.8h-1.8zM1635 1188h1.8v1.8h-1.8zM1640 1128h1.8v1.8h-1.8zM1459 1123h1.8v1.8h-1.8zM1519 1184h1.8v1.8h-1.8zM1627 1138h1.8v1.8h-1.8zM1640 1167h1.8v1.8h-1.8zM1634 1219h1.8v1.8h-1.8zM1430 1112h1.8v1.8h-1.8zM1438 1171h1.8v1.8h-1.8zM1566 1077h1.8v1.8h-1.8zM1441 1111h1.8v1.8h-1.8zM1505 1081h1.8v1.8h-1.8zM1597 1219h1.8v1.8h-1.8zM1431 1081h1.8v1.8h-1.8zM1645 1178h1.8v1.8h-1.8zM1607 1208h1.8v1.8h-1.8zM1559 1163h1.8v1.8h-1.8zM1567 1184h1.8v1.8h-1.8zM1441 1211h1.8v1.8h-1.8zM1491 1232h1.8v1.8h-1.8zM1547 1092h1.8v1.8h-1.8zM1511 1087h1.8v1.8h-1.8zM1442 1105h1.8v1.8h-1.8zM1574 1160h1.8v1.8h-1.8zM1453 1105h1.8v1.8h-1.8zM1568 1131h1.8v1.8h-1.8zM1571 1207h1.8v1.8h-1.8zM1558 1105h1.8v1.8h-1.8zM1476 1201h1.8v1.8h-1.8zM1589 1145h1.8v1.8h-1.8zM1550 1145h1.8v1.8h-1.8zM1493 1177h1.8v1.8h-1.8zM1602 1210h1.8v1.8h-1.8zM1516 1191h1.8v1.8h-1.8zM1546 1122h1.8v1.8h-1.8zM1464 1146h1.8v1.8h-1.8zM1537 1089h1.8v1.8h-1.8zM1436 1160h1.8v1.8h-1.8zM1576 1195h1.8v1.8h-1.8zM1458 1107h1.8v1.8h-1.8zM1452 1108h1.8v1.8h-1.8zM1545 1179h1.8v1.8h-1.8zM1560 1213h1.8v1.8h-1.8zM1588 1222h1.8v1.8h-1.8zM1463 1189h1.8v1.8h-1.8zM1511 1165h1.8v1.8h-1.8zM1634 1225h1.8v1.8h-1.8zM1546 1237h1.8v1.8h-1.8zM1512 1227h1.8v1.8h-1.8zM1582 1143h1.8v1.8h-1.8zM1507 1091h1.8v1.8h-1.8zM1549 1148h1.8v1.8h-1.8zM1570 1227h1.8v1.8h-1.8zM1501 1108h1.8v1.8h-1.8zM1621 1179h1.8v1.8h-1.8zM1475 1158h1.8v1.8h-1.8zM1458 1097h1.8v1.8h-1.8zM1531 1167h1.8v1.8h-1.8zM1621 1189h1.8v1.8h-1.8zM1530 1219h1.8v1.8h-1.8zM1446 1166h1.8v1.8h-1.8zM1579 1214h1.8v1.8h-1.8zM1442 1077h1.8v1.8h-1.8zM1640 1194h1.8v1.8h-1.8zM1470 1168h1.8v1.8h-1.8zM1441 1121h1.8v1.8h-1.8zM1642 1231h1.8v1.8h-1.8zM1576 1156h1.8v1.8h-1.8zM1644 1104h1.8v1.8h-1.8zM1579 1149h1.8v1.8h-1.8zM1615 1104h1.8v1.8h-1.8zM1635 1158h1.8v1.8h-1.8zM1557 1145h1.8v1.8h-1.8zM1527 1130h1.8v1.8h-1.8zM1461 1167h1.8v1.8h-1.8zM1468 1226h1.8v1.8h-1.8zM1438 1197h1.8v1.8h-1.8zM1588 1165h1.8v1.8h-1.8zM1500 1231h1.8v1.8h-1.8zM1499 1216h1.8v1.8h-1.8zM1541 1088h1.8v1.8h-1.8zM1436 1222h1.8v1.8h-1.8zM1506 1081h1.8v1.8h-1.8zM1528 1225h1.8v1.8h-1.8zM1509 1100h1.8v1.8h-1.8zM1465 1123h1.8v1.8h-1.8zM1471 1139h1.8v1.8h-1.8zM1448 1107h1.8v1.8h-1.8zM1583 1179h1.8v1.8h-1.8zM1576 1229h1.8v1.8h-1.8zM1529 1177h1.8v1.8h-1.8zM1588 1206h1.8v1.8h-1.8zM1580 1216h1.8v1.8h-1.8zM1508 1125h1.8v1.8h-1.8zM1620 1126h1.8v1.8h-1.8zM1500 1237h1.8v1.8h-1.8zM1536 1209h1.8v1.8h-1.8zM1444 1128h1.8v1.8h-1.8zM1497 1178h1.8v1.8h-1.8zM1579 1166h1.8v1.8h-1.8zM1502 1079h1.8v1.8h-1.8zM1508 1241h1.8v1.8h-1.8zM1555 1186h1.8v1.8h-1.8zM1619 1145h1.8v1.8h-1.8zM1600 1120h1.8v1.8h-1.8zM1500 1085h1.8v1.8h-1.8zM1546 1112h1.8v1.8h-1.8zM1643 1230h1.8v1.8h-1.8zM1460 1191h1.8v1.8h-1.8zM1561 1206h1.8v1.8h-1.8zM1591 1187h1.8v1.8h-1.8zM1626 1209h1.8v1.8h-1.8zM1473 1196h1.8v1.8h-1.8zM1428 1129h1.8v1.8h-1.8zM1539 1168h1.8v1.8h-1.8zM1492 1096h1.8v1.8h-1.8zM1557 1144h1.8v1.8h-1.8zM1617 1112h1.8v1.8h-1.8zM1440 1215h1.8v1.8h-1.8zM1530 1166h1.8v1.8h-1.8zM1633 1177h1.8v1.8h-1.8zM1541 1193h1.8v1.8h-1.8zM1446 1119h1.8v1.8h-1.8zM1541 1119h1.8v1.8h-1.8zM1461 1161h1.8v1.8h-1.8zM1510 1091h1.8v1.8h-1.8zM1521 1238h1.8v1.8h-1.8zM1520 1089h1.8v1.8h-1.8zM1595 1122h1.8v1.8h-1.8zM1507 1195h1.8v1.8h-1.8zM1428 1186h1.8v1.8h-1.8zM1455 1100h1.8v1.8h-1.8zM1534 1173h1.8v1.8h-1.8zM1617 1203h1.8v1.8h-1.8zM1623 1197h1.8v1.8h-1.8zM1479 1147h1.8v1.8h-1.8zM1513 1120h1.8v1.8h-1.8zM1507 1195h1.8v1.8h-1.8zM1602 1159h1.8v1.8h-1.8zM1493 1196h1.8v1.8h-1.8zM1497 1228h1.8v1.8h-1.8zM1485 1137h1.8v1.8h-1.8zM1451 1168h1.8v1.8h-1.8zM1568 1080h1.8v1.8h-1.8zM1594 1157h1.8v1.8h-1.8zM1622 1187h1.8v1.8h-1.8zM1546 1081h1.8v1.8h-1.8zM1605 1181h1.8v1.8h-1.8zM1502 1180h1.8v1.8h-1.8zM1430 1178h1.8v1.8h-1.8zM1517 1236h1.8v1.8h-1.8zM1460 1201h1.8v1.8h-1.8zM1430 1147h1.8v1.8h-1.8zM1508 1213h1.8v1.8h-1.8zM1591 1134h1.8v1.8h-1.8zM1527 1099h1.8v1.8h-1.8zM1643 1197h1.8v1.8h-1.8zM1632 1212h1.8v1.8h-1.8zM1539 1212h1.8v1.8h-1.8zM1593 1119h1.8v1.8h-1.8zM1484 1211h1.8v1.8h-1.8zM1450 1105h1.8v1.8h-1.8zM1453 1196h1.8v1.8h-1.8zM1583 1174h1.8v1.8h-1.8zM1452 1195h1.8v1.8h-1.8zM1498 1132h1.8v1.8h-1.8zM1430 1193h1.8v1.8h-1.8zM1579 1155h1.8v1.8h-1.8zM1534 1208h1.8v1.8h-1.8zM1637 1182h1.8v1.8h-1.8zM1551 1147h1.8v1.8h-1.8zM1552 1082h1.8v1.8h-1.8zM1631 1233h1.8v1.8h-1.8zM1478 1204h1.8v1.8h-1.8zM1500 1115h1.8v1.8h-1.8zM1480 1231h1.8v1.8h-1.8zM1549 1217h1.8v1.8h-1.8zM1640 1107h1.8v1.8h-1.8zM1584 1169h1.8v1.8h-1.8zM1496 1195h1.8v1.8h-1.8zM1617 1206h1.8v1.8h-1.8zM1471 1167h1.8v1.8h-1.8zM1456 1118h1.8v1.8h-1.8zM1483 1196h1.8v1.8h-1.8zM1534 1115h1.8v1.8h-1.8zM1572 1230h1.8v1.8h-1.8zM1578 1229h1.8v1.8h-1.8zM1484 1081h1.8v1.8h-1.8zM1468 1117h1.8v1.8h-1.8zM1579 1094h1.8v1.8h-1.8zM1646 1081h1.8v1.8h-1.8zM1593 1216h1.8v1.8h-1.8zM1524 1174h1.8v1.8h-1.8zM1611 1145h1.8v1.8h-1.8zM1585 1079h1.8v1.8h-1.8zM1460 1224h1.8v1.8h-1.8zM1468 1076h1.8v1.8h-1.8zM1603 1153h1.8v1.8h-1.8zM1639 1217h1.8v1.8h-1.8zM1589 1121h1.8v1.8h-1.8zM1529 1101h1.8v1.8h-1.8zM1620 1198h1.8v1.8h-1.8zM1536 1160h1.8v1.8h-1.8zM1597 1217h1.8v1.8h-1.8zM1534 1207h1.8v1.8h-1.8zM1617 1088h1.8v1.8h-1.8zM1464 1157h1.8v1.8h-1.8zM1445 1216h1.8v1.8h-1.8zM1641 1138h1.8v1.8h-1.8zM1634 1235h1.8v1.8h-1.8zM1606 1124h1.8v1.8h-1.8zM1600 1185h1.8v1.8h-1.8zM1500 1184h1.8v1.8h-1.8zM1642 1145h1.8v1.8h-1.8zM1637 1152h1.8v1.8h-1.8zM1544 1220h1.8v1.8h-1.8zM1584 1233h1.8v1.8h-1.8zM1569 1091h1.8v1.8h-1.8zM1500 1128h1.8v1.8h-1.8zM1555 1182h1.8v1.8h-1.8zM1590 1083h1.8v1.8h-1.8zM1539 1238h1.8v1.8h-1.8zM1471 1123h1.8v1.8h-1.8zM1599 1199h1.8v1.8h-1.8zM1505 1195h1.8v1.8h-1.8zM1581 1086h1.8v1.8h-1.8zM1594 1221h1.8v1.8h-1.8zM1555 1227h1.8v1.8h-1.8zM1524 1121h1.8v1.8h-1.8zM1471 1233h1.8v1.8h-1.8zM1634 1229h1.8v1.8h-1.8zM1600 1124h1.8v1.8h-1.8zM1424 1106h1.8v1.8h-1.8zM1567 1122h1.8v1.8h-1.8zM1441 1242h1.8v1.8h-1.8zM1634 1161h1.8v1.8h-1.8zM1484 1116h1.8v1.8h-1.8zM1511 1147h1.8v1.8h-1.8zM1506 1119h1.8v1.8h-1.8zM1545 1190h1.8v1.8h-1.8zM1485 1227h1.8v1.8h-1.8zM1614 1215h1.8v1.8h-1.8zM1613 1104h1.8v1.8h-1.8zM1554 1147h1.8v1.8h-1.8zM1478 1169h1.8v1.8h-1.8zM1535 1183h1.8v1.8h-1.8zM1596 1224h1.8v1.8h-1.8zM1527 1219h1.8v1.8h-1.8zM1639 1216h1.8v1.8h-1.8zM1467 1213h1.8v1.8h-1.8zM1450 1221h1.8v1.8h-1.8zM1477 1180h1.8v1.8h-1.8zM1504 1128h1.8v1.8h-1.8zM1485 1189h1.8v1.8h-1.8zM1588 1190h1.8v1.8h-1.8zM1483 1102h1.8v1.8h-1.8zM1424 1149h1.8v1.8h-1.8zM1478 1179h1.8v1.8h-1.8zM1518 1096h1.8v1.8h-1.8zM1639 1135h1.8v1.8h-1.8zM1435 1235h1.8v1.8h-1.8zM1517 1235h1.8v1.8h-1.8zM1454 1211h1.8v1.8h-1.8zM1433 1159h1.8v1.8h-1.8zM1542 1108h1.8v1.8h-1.8zM1563 1081h1.8v1.8h-1.8zM1602 1090h1.8v1.8h-1.8zM1560 1091h1.8v1.8h-1.8zM1441 1225h1.8v1.8h-1.8zM1584 1191h1.8v1.8h-1.8zM1574 1151h1.8v1.8h-1.8zM1504 1217h1.8v1.8h-1.8zM1639 1189h1.8v1.8h-1.8zM1573 1133h1.8v1.8h-1.8zM1619 1147h1.8v1.8h-1.8zM1511 1181h1.8v1.8h-1.8zM1569 1118h1.8v1.8h-1.8zM1465 1220h1.8v1.8h-1.8zM1541 1233h1.8v1.8h-1.8zM1464 1149h1.8v1.8h-1.8zM1458 1124h1.8v1.8h-1.8zM1537 1110h1.8v1.8h-1.8zM1531 1095h1.8v1.8h-1.8zM1474 1157h1.8v1.8h-1.8zM1577 1174h1.8v1.8h-1.8zM1554 1114h1.8v1.8h-1.8zM1520 1122h1.8v1.8h-1.8zM1613 1142h1.8v1.8h-1.8zM1578 1077h1.8v1.8h-1.8zM1635 1161h1.8v1.8h-1.8zM1573 1113h1.8v1.8h-1.8zM1427 1092h1.8v1.8h-1.8zM1644 1078h1.8v1.8h-1.8zM1594 1232h1.8v1.8h-1.8zM1520 1183h1.8v1.8h-1.8zM1503 1093h1.8v1.8h-1.8zM1517 1122h1.8v1.8h-1.8zM1555 1136h1.8v1.8h-1.8zM1638 1213h1.8v1.8h-1.8zM1514 1130h1.8v1.8h-1.8zM1575 1168h1.8v1.8h-1.8zM1473 1179h1.8v1.8h-1.8zM1434 1190h1.8v1.8h-1.8zM1514 1154h1.8v1.8h-1.8zM1464 1222h1.8v1.8h-1.8zM1617 1155h1.8v1.8h-1.8zM1474 1150h1.8v1.8h-1.8zM1431 1124h1.8v1.8h-1.8zM1525 1081h1.8v1.8h-1.8zM1475 1203h1.8v1.8h-1.8zM1617 1148h1.8v1.8h-1.8zM1583 1239h1.8v1.8h-1.8zM1620 1129h1.8v1.8h-1.8zM1577 1209h1.8v1.8h-1.8zM1492 1105h1.8v1.8h-1.8zM1626 1110h1.8v1.8h-1.8zM1465 1113h1.8v1.8h-1.8zM1582 1145h1.8v1.8h-1.8zM1601 1224h1.8v1.8h-1.8zM1550 1124h1.8v1.8h-1.8zM1429 1242h1.8v1.8h-1.8zM1462 1140h1.8v1.8h-1.8zM1442 1229h1.8v1.8h-1.8zM1643 1103h1.8v1.8h-1.8zM1441 1192h1.8v1.8h-1.8zM1437 1181h1.8v1.8h-1.8zM1597 1153h1.8v1.8h-1.8zM1572 1140h1.8v1.8h-1.8zM1612 1225h1.8v1.8h-1.8zM1490 1154h1.8v1.8h-1.8zM1515 1187h1.8v1.8h-1.8zM1459 1178h1.8v1.8h-1.8zM1466 1093h1.8v1.8h-1.8zM1546 1171h1.8v1.8h-1.8zM1545 1184h1.8v1.8h-1.8zM1551 1181h1.8v1.8h-1.8zM1633 1223h1.8v1.8h-1.8zM1458 1162h1.8v1.8h-1.8zM1469 1219h1.8v1.8h-1.8zM1589 1142h1.8v1.8h-1.8zM1533 1218h1.8v1.8h-1.8zM1522 1179h1.8v1.8h-1.8zM1507 1233h1.8v1.8h-1.8zM1593 1196h1.8v1.8h-1.8zM1452 1193h1.8v1.8h-1.8zM1475 1195h1.8v1.8h-1.8zM1518 1090h1.8v1.8h-1.8zM1488 1106h1.8v1.8h-1.8zM1622 1189h1.8v1.8h-1.8zM1552 1228h1.8v1.8h-1.8zM1457 1222h1.8v1.8h-1.8zM1517 1193h1.8v1.8h-1.8zM1539 1195h1.8v1.8h-1.8zM1441 1231h1.8v1.8h-1.8zM1514 1166h1.8v1.8h-1.8zM1608 1167h1.8v1.8h-1.8zM1455 1107h1.8v1.8h-1.8zM1510 1196h1.8v1.8h-1.8zM1550 1227h1.8v1.8h-1.8zM1535 1094h1.8v1.8h-1.8zM1559 1084h1.8v1.8h-1.8zM1508 1108h1.8v1.8h-1.8zM1501 1195h1.8v1.8h-1.8zM1493 1169h1.8v1.8h-1.8zM1589 1226h1.8v1.8h-1.8zM1627 1087h1.8v1.8h-1.8zM1516 1193h1.8v1.8h-1.8zM1616 1207h1.8v1.8h-1.8zM1600 1127h1.8v1.8h-1.8zM1457 1154h1.8v1.8h-1.8zM1571 1211h1.8v1.8h-1.8zM1524 1194h1.8v1.8h-1.8zM1547 1207h1.8v1.8h-1.8zM1598 1135h1.8v1.8h-1.8zM1582 1226h1.8v1.8h-1.8zM1637 1175h1.8v1.8h-1.8zM1461 1213h1.8v1.8h-1.8zM1445 1124h1.8v1.8h-1.8zM1565 1217h1.8v1.8h-1.8zM1483 1158h1.8v1.8h-1.8zM1569 1139h1.8v1.8h-1.8zM1563 1096h1.8v1.8h-1.8zM1598 1174h1.8v1.8h-1.8zM1620 1180h1.8v1.8h-1.8zM1552 1190h1.8v1.8h-1.8zM1618 1081h1.8v1.8h-1.8zM1552 1185h1.8v1.8h-1.8zM1559 1164h1.8v1.8h-1.8zM1575 1162h1.8v1.8h-1.8zM1504 1172h1.8v1.8h-1.8zM1593 1096h1.8v1.8h-1.8zM1601 1237h1.8v1.8h-1.8zM1528 1233h1.8v1.8h-1.8zM1446 1168h1.8v1.8h-1.8zM1609 1130h1.8v1.8h-1.8zM1612 1147h1.8v1.8h-1.8zM1470 1089h1.8v1.8h-1.8zM1640 1124h1.8v1.8h-1.8zM1564 1097h1.8v1.8h-1.8zM1509 1112h1.8v1.8h-1.8zM1609 1130h1.8v1.8h-1.8zM1600 1111h1.8v1.8h-1.8zM1507 1100h1.8v1.8h-1.8zM1427 1208h1.8v1.8h-1.8zM1480 1223h1.8v1.8h-1.8zM1540 1130h1.8v1.8h-1.8zM1524 1184h1.8v1.8h-1.8zM1481 1215h1.8v1.8h-1.8zM1574 1140h1.8v1.8h-1.8zM1607 1172h1.8v1.8h-1.8zM1645 1151h1.8v1.8h-1.8zM1571 1188h1.8v1.8h-1.8zM1463 1231h1.8v1.8h-1.8zM1539 1130h1.8v1.8h-1.8zM1501 1108h1.8v1.8h-1.8zM1434 1164h1.8v1.8h-1.8zM1479 1155h1.8v1.8h-1.8zM1457 1117h1.8v1.8h-1.8zM1432 1196h1.8v1.8h-1.8zM1606 1165h1.8v1.8h-1.8zM1463 1122h1.8v1.8h-1.8zM1639 1116h1.8v1.8h-1.8zM1633 1227h1.8v1.8h-1.8zM1621 1217h1.8v1.8h-1.8zM1541 1190h1.8v1.8h-1.8zM1476 1091h1.8v1.8h-1.8zM1511 1081h1.8v1.8h-1.8zM1446 1124h1.8v1.8h-1.8zM1594 1154h1.8v1.8h-1.8zM1469 1202h1.8v1.8h-1.8zM1556 1164h1.8v1.8h-1.8zM1450 1179h1.8v1.8h-1.8zM1645 1090h1.8v1.8h-1.8zM1473 1239h1.8v1.8h-1.8zM1511 1149h1.8v1.8h-1.8zM1546 1128h1.8v1.8h-1.8zM1591 1194h1.8v1.8h-1.8zM1443 1174h1.8v1.8h-1.8zM1542 1174h1.8v1.8h-1.8zM1620 1129h1.8v1.8h-1.8zM1562 1206h1.8v1.8h-1.8zM1540 1231h1.8v1.8h-1.8zM1427 1091h1.8v1.8h-1.8zM1492 1205h1.8v1.8h-1.8zM1606 1203h1.8v1.8h-1.8zM1434 1228h1.8v1.8h-1.8zM1470 1168h1.8v1.8h-1.8zM1507 1145h1.8v1.8h-1.8zM1443 1101h1.8v1.8h-1.8zM1480 1109h1.8v1.8h-1.8zM1580 1100h1.8v1.8h-1.8zM1635 1156h1.8v1.8h-1.8zM1645 1162h1.8v1.8h-1.8zM1472 1109h1.8v1.8h-1.8zM1575 1124h1.8v1.8h-1.8zM1532 1170h1.8v1.8h-1.8zM1435 1103h1.8v1.8h-1.8zM1641 1233h1.8v1.8h-1.8zM1484 1226h1.8v1.8h-1.8zM1636 1129h1.8v1.8h-1.8zM1478 1168h1.8v1.8h-1.8zM1468 1157h1.8v1.8h-1.8zM1628 1228h1.8v1.8h-1.8zM1452 1155h1.8v1.8h-1.8zM1505 1197h1.8v1.8h-1.8zM1512 1142h1.8v1.8h-1.8zM1574 1110h1.8v1.8h-1.8zM1641 1097h1.8v1.8h-1.8zM1631 1163h1.8v1.8h-1.8zM1585 1120h1.8v1.8h-1.8zM1460 1212h1.8v1.8h-1.8zM1517 1136h1.8v1.8h-1.8zM1505 1165h1.8v1.8h-1.8zM1631 1201h1.8v1.8h-1.8zM1474 1243h1.8v1.8h-1.8zM1488 1147h1.8v1.8h-1.8zM1592 1162h1.8v1.8h-1.8zM1513 1202h1.8v1.8h-1.8zM1564 1108h1.8v1.8h-1.8zM1571 1195h1.8v1.8h-1.8zM1490 1154h1.8v1.8h-1.8zM1524 1202h1.8v1.8h-1.8zM1636 1187h1.8v1.8h-1.8zM1556 1134h1.8v1.8h-1.8zM1497 1095h1.8v1.8h-1.8zM1626 1238h1.8v1.8h-1.8zM1610 1202h1.8v1.8h-1.8zM1637 1207h1.8v1.8h-1.8zM1469 1233h1.8v1.8h-1.8zM1511 1125h1.8v1.8h-1.8zM1442 1176h1.8v1.8h-1.8zM1439 1162h1.8v1.8h-1.8zM1598 1153h1.8v1.8h-1.8zM1514 1107h1.8v1.8h-1.8zM1532 1224h1.8v1.8h-1.8zM1528 1128h1.8v1.8h-1.8zM1640 1176h1.8v1.8h-1.8zM1624 1222h1.8v1.8h-1.8zM1463 1127h1.8v1.8h-1.8zM1426 1225h1.8v1.8h-1.8zM1518 1127h1.8v1.8h-1.8zM1585 1218h1.8v1.8h-1.8zM1527 1236h1.8v1.8h-1.8zM1625 1196h1.8v1.8h-1.8zM1507 1142h1.8v1.8h-1.8zM1549 1097h1.8v1.8h-1.8zM1553 1177h1.8v1.8h-1.8zM1564 1122h1.8v1.8h-1.8zM1623 1207h1.8v1.8h-1.8zM1569 1224h1.8v1.8h-1.8zM1582 1079h1.8v1.8h-1.8zM1542 1197h1.8v1.8h-1.8zM1593 1162h1.8v1.8h-1.8zM1604 1088h1.8v1.8h-1.8zM1557 1146h1.8v1.8h-1.8zM1477 1175h1.8v1.8h-1.8zM1520 1218h1.8v1.8h-1.8zM1506 1171h1.8v1.8h-1.8zM1438 1078h1.8v1.8h-1.8zM1493 1229h1.8v1.8h-1.8zM1615 1139h1.8v1.8h-1.8zM1592 1163h1.8v1.8h-1.8zM1604 1126h1.8v1.8h-1.8zM1518 1128h1.8v1.8h-1.8zM1550 1220h1.8v1.8h-1.8zM1428 1170h1.8v1.8h-1.8zM1578 1117h1.8v1.8h-1.8zM1535 1188h1.8v1.8h-1.8zM1505 1098h1.8v1.8h-1.8zM1542 1208h1.8v1.8h-1.8zM1489 1148h1.8v1.8h-1.8zM1457 1113h1.8v1.8h-1.8zM1536 1085h1.8v1.8h-1.8zM1605 1231h1.8v1.8h-1.8zM1505 1097h1.8v1.8h-1.8zM1482 1208h1.8v1.8h-1.8zM1558 1161h1.8v1.8h-1.8zM1566 1129h1.8v1.8h-1.8zM1587 1225h1.8v1.8h-1.8zM1524 1152h1.8v1.8h-1.8zM1504 1147h1.8v1.8h-1.8zM1613 1175h1.8v1.8h-1.8zM1490 1119h1.8v1.8h-1.8zM1527 1140h1.8v1.8h-1.8zM1548 1151h1.8v1.8h-1.8zM1631 1157h1.8v1.8h-1.8zM1636 1239h1.8v1.8h-1.8zM1485 1210h1.8v1.8h-1.8zM1612 1150h1.8v1.8h-1.8zM1524 1082h1.8v1.8h-1.8zM1631 1089h1.8v1.8h-1.8zM1572 1102h1.8v1.8h-1.8zM1494 1126h1.8v1.8h-1.8zM1571 1125h1.8v1.8h-1.8zM1527 1212h1.8v1.8h-1.8zM1578 1113h1.8v1.8h-1.8zM1543 1090h1.8v1.8h-1.8zM1448 1099h1.8v1.8h-1.8zM1446 1218h1.8v1.8h-1.8zM1624 1099h1.8v1.8h-1.8zM1459 1233h1.8v1.8h-1.8zM1569 1136h1.8v1.8h-1.8zM1478 1154h1.8v1.8h-1.8zM1635 1206h1.8v1.8h-1.8zM1582 1134h1.8v1.8h-1.8zM1493 1183h1.8v1.8h-1.8zM1476 1086h1.8v1.8h-1.8zM1524 1168h1.8v1.8h-1.8zM1492 1085h1.8v1.8h-1.8zM1630 1185h1.8v1.8h-1.8zM1640 1242h1.8v1.8h-1.8zM1511 1233h1.8v1.8h-1.8zM1508 1219h1.8v1.8h-1.8zM1619 1140h1.8v1.8h-1.8zM1647 1087h1.8v1.8h-1.8zM1448 1112h1.8v1.8h-1.8zM1595 1149h1.8v1.8h-1.8zM1626 1146h1.8v1.8h-1.8zM1466 1209h1.8v1.8h-1.8zM1457 1231h1.8v1.8h-1.8zM1486 1142h1.8v1.8h-1.8zM1620 1239h1.8v1.8h-1.8zM1559 1082h1.8v1.8h-1.8zM1605 1136h1.8v1.8h-1.8zM1500 1217h1.8v1.8h-1.8zM1551 1164h1.8v1.8h-1.8zM1501 1214h1.8v1.8h-1.8zM1559 1131h1.8v1.8h-1.8zM1424 1199h1.8v1.8h-1.8zM1490 1098h1.8v1.8h-1.8zM1601 1163h1.8v1.8h-1.8zM1617 1121h1.8v1.8h-1.8zM1619 1093h1.8v1.8h-1.8zM1522 1207h1.8v1.8h-1.8zM1486 1132h1.8v1.8h-1.8zM1464 1104h1.8v1.8h-1.8zM1581 1198h1.8v1.8h-1.8zM1581 1136h1.8v1.8h-1.8zM1543 1165h1.8v1.8h-1.8zM1447 1223h1.8v1.8h-1.8zM1617 1206h1.8v1.8h-1.8zM1435 1103h1.8v1.8h-1.8zM1450 1134h1.8v1.8h-1.8zM1440 1147h1.8v1.8h-1.8zM1565 1166h1.8v1.8h-1.8zM1459 1094h1.8v1.8h-1.8zM1571 1102h1.8v1.8h-1.8zM1596 1092h1.8v1.8h-1.8zM1563 1117h1.8v1.8h-1.8zM1520 1083h1.8v1.8h-1.8zM1555 1077h1.8v1.8h-1.8zM1604 1154h1.8v1.8h-1.8zM1509 1240h1.8v1.8h-1.8zM1518 1156h1.8v1.8h-1.8zM1589 1208h1.8v1.8h-1.8zM1499 1095h1.8v1.8h-1.8zM1522 1112h1.8v1.8h-1.8zM1473 1124h1.8v1.8h-1.8zM1579 1102h1.8v1.8h-1.8zM1453 1114h1.8v1.8h-1.8zM1577 1189h1.8v1.8h-1.8zM1573 1148h1.8v1.8h-1.8zM1549 1151h1.8v1.8h-1.8zM1471 1136h1.8v1.8h-1.8zM1556 1102h1.8v1.8h-1.8zM1488 1230h1.8v1.8h-1.8zM1441 1213h1.8v1.8h-1.8zM1486 1161h1.8v1.8h-1.8zM1634 1228h1.8v1.8h-1.8zM1633 1199h1.8v1.8h-1.8zM1533 1097h1.8v1.8h-1.8zM1534 1141h1.8v1.8h-1.8zM1514 1210h1.8v1.8h-1.8zM1522 1170h1.8v1.8h-1.8zM1444 1106h1.8v1.8h-1.8zM1629 1196h1.8v1.8h-1.8zM1487 1128h1.8v1.8h-1.8zM1504 1095h1.8v1.8h-1.8zM1501 1206h1.8v1.8h-1.8zM1636 1178h1.8v1.8h-1.8zM1507 1229h1.8v1.8h-1.8zM1443 1229h1.8v1.8h-1.8zM1551 1132h1.8v1.8h-1.8zM1527 1123h1.8v1.8h-1.8zM1431 1150h1.8v1.8h-1.8zM1604 1139h1.8v1.8h-1.8zM1542 1157h1.8v1.8h-1.8zM1497 1179h1.8v1.8h-1.8zM1589 1111h1.8v1.8h-1.8zM1487 1112h1.8v1.8h-1.8zM1522 1187h1.8v1.8h-1.8zM1491 1113h1.8v1.8h-1.8zM1612 1150h1.8v1.8h-1.8zM1507 1115h1.8v1.8h-1.8zM1428 1081h1.8v1.8h-1.8zM1636 1174h1.8v1.8h-1.8zM1484 1202h1.8v1.8h-1.8zM1497 1155h1.8v1.8h-1.8zM1450 1094h1.8v1.8h-1.8zM1556 1239h1.8v1.8h-1.8zM1617 1132h1.8v1.8h-1.8zM1527 1185h1.8v1.8h-1.8zM1423 1241h1.8v1.8h-1.8zM1522 1191h1.8v1.8h-1.8zM1501 1103h1.8v1.8h-1.8zM1528 1131h1.8v1.8h-1.8zM1494 1192h1.8v1.8h-1.8zM1588 1185h1.8v1.8h-1.8zM1610 1112h1.8v1.8h-1.8zM1425 1208h1.8v1.8h-1.8zM1471 1089h1.8v1.8h-1.8zM1611 1103h1.8v1.8h-1.8zM1633 1152h1.8v1.8h-1.8zM1565 1218h1.8v1.8h-1.8zM1565 1234h1.8v1.8h-1.8zM1484 1142h1.8v1.8h-1.8zM1533 1214h1.8v1.8h-1.8zM1646 1115h1.8v1.8h-1.8zM1503 1152h1.8v1.8h-1.8zM1498 1155h1.8v1.8h-1.8zM1490 1188h1.8v1.8h-1.8zM1423 1123h1.8v1.8h-1.8zM1483 1085h1.8v1.8h-1.8zM1632 1189h1.8v1.8h-1.8zM1451 1172h1.8v1.8h-1.8zM1615 1122h1.8v1.8h-1.8zM1596 1173h1.8v1.8h-1.8zM1556 1222h1.8v1.8h-1.8zM1615 1219h1.8v1.8h-1.8zM1462 1098h1.8v1.8h-1.8zM1619 1212h1.8v1.8h-1.8zM1587 1237h1.8v1.8h-1.8zM1640 1113h1.8v1.8h-1.8zM1549 1204h1.8v1.8h-1.8zM1527 1218h1.8v1.8h-1.8zM1583 1226h1.8v1.8h-1.8zM1583 1218h1.8v1.8h-1.8zM1609 1213h1.8v1.8h-1.8zM1520 1218h1.8v1.8h-1.8zM1553 1232h1.8v1.8h-1.8zM1567 1118h1.8v1.8h-1.8zM1476 1223h1.8v1.8h-1.8zM1625 1087h1.8v1.8h-1.8zM1559 1196h1.8v1.8h-1.8zM1521 1205h1.8v1.8h-1.8zM1607 1116h1.8v1.8h-1.8zM1493 1089h1.8v1.8h-1.8zM1603 1139h1.8v1.8h-1.8zM1593 1135h1.8v1.8h-1.8zM1536 1212h1.8v1.8h-1.8zM1542 1227h1.8v1.8h-1.8zM1465 1123h1.8v1.8h-1.8zM1526 1144h1.8v1.8h-1.8zM1436 1097h1.8v1.8h-1.8zM1494 1223h1.8v1.8h-1.8zM1603 1203h1.8v1.8h-1.8zM1469 1121h1.8v1.8h-1.8zM1550 1164h1.8v1.8h-1.8zM1620 1142h1.8v1.8h-1.8zM1426 1200h1.8v1.8h-1.8zM1539 1182h1.8v1.8h-1.8zM1639 1197h1.8v1.8h-1.8zM1606 1117h1.8v1.8h-1.8zM1631 1177h1.8v1.8h-1.8zM1521 1176h1.8v1.8h-1.8zM1579 1078h1.8v1.8h-1.8zM1522 1175h1.8v1.8h-1.8zM1466 1137h1.8v1.8h-1.8zM1573 1206h1.8v1.8h-1.8zM1533 1090h1.8v1.8h-1.8zM1576 1152h1.8v1.8h-1.8zM1516 1083h1.8v1.8h-1.8zM1596 1188h1.8v1.8h-1.8zM1517 1198h1.8v1.8h-1.8zM1455 1210h1.8v1.8h-1.8zM1525 1152h1.8v1.8h-1.8zM1586 1159h1.8v1.8h-1.8zM1627 1205h1.8v1.8h-1.8zM1620 1110h1.8v1.8h-1.8zM1516 1206h1.8v1.8h-1.8zM1451 1179h1.8v1.8h-1.8zM1492 1104h1.8v1.8h-1.8zM1639 1167h1.8v1.8h-1.8zM1590 1124h1.8v1.8h-1.8zM1442 1127h1.8v1.8h-1.8zM1576 1242h1.8v1.8h-1.8zM1483 1199h1.8v1.8h-1.8zM1571 1130h1.8v1.8h-1.8zM1588 1078h1.8v1.8h-1.8zM1487 1208h1.8v1.8h-1.8zM1638 1236h1.8v1.8h-1.8zM1468 1171h1.8v1.8h-1.8zM1584 1185h1.8v1.8h-1.8zM1643 1104h1.8v1.8h-1.8zM1449 1179h1.8v1.8h-1.8zM1530 1133h1.8v1.8h-1.8zM1531 1174h1.8v1.8h-1.8zM1618 1236h1.8v1.8h-1.8zM1593 1208h1.8v1.8h-1.8zM1549 1219h1.8v1.8h-1.8zM1514 1126h1.8v1.8h-1.8zM1465 1110h1.8v1.8h-1.8zM1560 1161h1.8v1.8h-1.8zM1480 1093h1.8v1.8h-1.8zM1488 1117h1.8v1.8h-1.8zM1598 1155h1.8v1.8h-1.8zM1627 1126h1.8v1.8h-1.8zM1581 1204h1.8v1.8h-1.8zM1501 1208h1.8v1.8h-1.8zM1586 1190h1.8v1.8h-1.8zM1459 1077h1.8v1.8h-1.8zM1518 1241h1.8v1.8h-1.8zM1625 1107h1.8v1.8h-1.8zM1571 1233h1.8v1.8h-1.8zM1533 1092h1.8v1.8h-1.8zM1620 1170h1.8v1.8h-1.8zM1521 1234h1.8v1.8h-1.8zM1556 1210h1.8v1.8h-1.8zM1548 1126h1.8v1.8h-1.8zM1554 1182h1.8v1.8h-1.8zM1472 1119h1.8v1.8h-1.8zM1632 1185h1.8v1.8h-1.8zM1479 1093h1.8v1.8h-1.8zM1428 1183h1.8v1.8h-1.8zM1617 1208h1.8v1.8h-1.8zM1557 1223h1.8v1.8h-1.8zM1490 1141h1.8v1.8h-1.8zM1644 1113h1.8v1.8h-1.8zM1495 1223h1.8v1.8h-1.8zM1609 1148h1.8v1.8h-1.8zM1544 1240h1.8v1.8h-1.8zM1606 1187h1.8v1.8h-1.8zM1487 1141h1.8v1.8h-1.8zM1602 1192h1.8v1.8h-1.8zM1460 1199h1.8v1.8h-1.8zM1541 1208h1.8v1.8h-1.8zM1572 1131h1.8v1.8h-1.8zM1554 1166h1.8v1.8h-1.8zM1583 1167h1.8v1.8h-1.8zM1633 1223h1.8v1.8h-1.8zM1444 1184h1.8v1.8h-1.8zM1590 1199h1.8v1.8h-1.8zM1495 1164h1.8v1.8h-1.8zM1571 1142h1.8v1.8h-1.8zM1505 1124h1.8v1.8h-1.8zM1592 1098h1.8v1.8h-1.8zM1581 1235h1.8v1.8h-1.8zM1476 1234h1.8v1.8h-1.8zM1633 1133h1.8v1.8h-1.8zM1477 1196h1.8v1.8h-1.8zM1538 1175h1.8v1.8h-1.8zM1561 1230h1.8v1.8h-1.8zM1482 1125h1.8v1.8h-1.8zM1512 1233h1.8v1.8h-1.8zM1521 1236h1.8v1.8h-1.8zM1469 1236h1.8v1.8h-1.8zM1472 1217h1.8v1.8h-1.8zM1450 1195h1.8v1.8h-1.8zM1450 1167h1.8v1.8h-1.8zM1480 1212h1.8v1.8h-1.8zM1541 1222h1.8v1.8h-1.8zM1425 1173h1.8v1.8h-1.8zM1520 1159h1.8v1.8h-1.8zM1544 1208h1.8v1.8h-1.8zM1615 1135h1.8v1.8h-1.8zM1536 1176h1.8v1.8h-1.8zM1631 1132h1.8v1.8h-1.8zM1453 1237h1.8v1.8h-1.8zM1558 1158h1.8v1.8h-1.8zM1540 1090h1.8v1.8h-1.8zM1501 1230h1.8v1.8h-1.8zM1492 1092h1.8v1.8h-1.8zM1523 1127h1.8v1.8h-1.8zM1498 1089h1.8v1.8h-1.8zM1461 1095h1.8v1.8h-1.8zM1468 1156h1.8v1.8h-1.8zM1643 1110h1.8v1.8h-1.8zM1428 1211h1.8v1.8h-1.8zM1544 1182h1.8v1.8h-1.8zM1526 1169h1.8v1.8h-1.8zM1485 1082h1.8v1.8h-1.8zM1567 1152h1.8v1.8h-1.8zM1478 1108h1.8v1.8h-1.8zM1537 1201h1.8v1.8h-1.8zM1644 1224h1.8v1.8h-1.8zM1485 1078h1.8v1.8h-1.8zM1424 1089h1.8v1.8h-1.8zM1527 1130h1.8v1.8h-1.8zM1469 1224h1.8v1.8h-1.8zM1549 1192h1.8v1.8h-1.8zM1451 1144h1.8v1.8h-1.8zM1524 1196h1.8v1.8h-1.8zM1476 1203h1.8v1.8h-1.8zM1606 1217h1.8v1.8h-1.8zM1534 1150h1.8v1.8h-1.8zM1604 1159h1.8v1.8h-1.8zM1585 1200h1.8v1.8h-1.8zM1512 1092h1.8v1.8h-1.8zM1591 1112h1.8v1.8h-1.8zM1584 1167h1.8v1.8h-1.8zM1640 1111h1.8v1.8h-1.8zM1427 1185h1.8v1.8h-1.8zM1549 1195h1.8v1.8h-1.8zM1434 1237h1.8v1.8h-1.8zM1582 1093h1.8v1.8h-1.8zM1563 1135h1.8v1.8h-1.8zM1598 1215h1.8v1.8h-1.8zM1445 1144h1.8v1.8h-1.8zM1468 1085h1.8v1.8h-1.8zM1461 1164h1.8v1.8h-1.8zM1570 1241h1.8v1.8h-1.8zM1553 1226h1.8v1.8h-1.8zM1571 1147h1.8v1.8h-1.8zM1545 1083h1.8v1.8h-1.8zM1464 1115h1.8v1.8h-1.8zM1596 1161h1.8v1.8h-1.8zM1451 1093h1.8v1.8h-1.8zM1508 1156h1.8v1.8h-1.8zM1585 1208h1.8v1.8h-1.8zM1498 1132h1.8v1.8h-1.8zM1436 1222h1.8v1.8h-1.8zM1609 1221h1.8v1.8h-1.8zM1623 1158h1.8v1.8h-1.8zM1516 1193h1.8v1.8h-1.8zM1630 1113h1.8v1.8h-1.8zM1581 1076h1.8v1.8h-1.8zM1574 1154h1.8v1.8h-1.8zM1533 1179h1.8v1.8h-1.8zM1630 1103h1.8v1.8h-1.8zM1457 1203h1.8v1.8h-1.8zM1426 1184h1.8v1.8h-1.8zM1627 1208h1.8v1.8h-1.8zM1443 1240h1.8v1.8h-1.8zM1600 1172h1.8v1.8h-1.8zM1628 1147h1.8v1.8h-1.8zM1531 1234h1.8v1.8h-1.8zM1454 1144h1.8v1.8h-1.8zM1468 1212h1.8v1.8h-1.8zM1425 1154h1.8v1.8h-1.8zM1456 1211h1.8v1.8h-1.8zM1466 1194h1.8v1.8h-1.8zM1631 1086h1.8v1.8h-1.8zM1492 1101h1.8v1.8h-1.8zM1594 1166h1.8v1.8h-1.8zM1588 1172h1.8v1.8h-1.8zM1511 1240h1.8v1.8h-1.8zM1498 1175h1.8v1.8h-1.8zM1495 1216h1.8v1.8h-1.8zM1493 1206h1.8v1.8h-1.8zM1632 1166h1.8v1.8h-1.8zM1625 1158h1.8v1.8h-1.8zM1499 1130h1.8v1.8h-1.8zM1594 1079h1.8v1.8h-1.8zM1646 1219h1.8v1.8h-1.8zM1610 1198h1.8v1.8h-1.8zM1587 1103h1.8v1.8h-1.8zM1459 1083h1.8v1.8h-1.8zM1469 1140h1.8v1.8h-1.8zM1443 1143h1.8v1.8h-1.8zM1427 1109h1.8v1.8h-1.8zM1615 1161h1.8v1.8h-1.8zM1620 1142h1.8v1.8h-1.8zM1441 1172h1.8v1.8h-1.8zM1467 1213h1.8v1.8h-1.8zM1589 1139h1.8v1.8h-1.8zM1586 1091h1.8v1.8h-1.8zM1471 1202h1.8v1.8h-1.8zM1456 1232h1.8v1.8h-1.8zM1553 1095h1.8v1.8h-1.8zM1531 1089h1.8v1.8h-1.8zM1590 1081h1.8v1.8h-1.8zM1448 1161h1.8v1.8h-1.8zM1427 1113h1.8v1.8h-1.8zM1453 1166h1.8v1.8h-1.8zM1523 1126h1.8v1.8h-1.8zM1597 1217h1.8v1.8h-1.8zM1558 1181h1.8v1.8h-1.8zM1581 1085h1.8v1.8h-1.8zM1576 1196h1.8v1.8h-1.8zM1586 1206h1.8v1.8h-1.8zM1555 1203h1.8v1.8h-1.8zM1512 1181h1.8v1.8h-1.8zM1425 1162h1.8v1.8h-1.8zM1449 1180h1.8v1.8h-1.8zM1527 1238h1.8v1.8h-1.8zM1577 1193h1.8v1.8h-1.8zM1446 1169h1.8v1.8h-1.8zM1496 1106h1.8v1.8h-1.8zM1621 1099h1.8v1.8h-1.8zM1515 1158h1.8v1.8h-1.8zM1634 1209h1.8v1.8h-1.8zM1482 1079h1.8v1.8h-1.8zM1485 1176h1.8v1.8h-1.8zM1495 1116h1.8v1.8h-1.8zM1629 1130h1.8v1.8h-1.8zM1456 1216h1.8v1.8h-1.8zM1475 1090h1.8v1.8h-1.8zM1529 1157h1.8v1.8h-1.8zM1490 1147h1.8v1.8h-1.8zM1570 1127h1.8v1.8h-1.8zM1481 1079h1.8v1.8h-1.8zM1464 1176h1.8v1.8h-1.8zM1521 1202h1.8v1.8h-1.8zM1518 1156h1.8v1.8h-1.8zM1565 1223h1.8v1.8h-1.8zM1461 1160h1.8v1.8h-1.8zM1484 1210h1.8v1.8h-1.8zM1510 1223h1.8v1.8h-1.8zM1452 1092h1.8v1.8h-1.8zM1446 1227h1.8v1.8h-1.8zM1463 1128h1.8v1.8h-1.8zM1495 1168h1.8v1.8h-1.8zM1450 1124h1.8v1.8h-1.8zM1597 1145h1.8v1.8h-1.8zM1522 1170h1.8v1.8h-1.8zM1601 1185h1.8v1.8h-1.8zM1464 1135h1.8v1.8h-1.8zM1597 1224h1.8v1.8h-1.8zM1547 1095h1.8v1.8h-1.8zM1499 1078h1.8v1.8h-1.8zM1580 1115h1.8v1.8h-1.8zM1506 1220h1.8v1.8h-1.8zM1626 1111h1.8v1.8h-1.8zM1457 1177h1.8v1.8h-1.8zM1434 1105h1.8v1.8h-1.8zM1569 1221h1.8v1.8h-1.8zM1451 1145h1.8v1.8h-1.8zM1599 1188h1.8v1.8h-1.8zM1594 1127h1.8v1.8h-1.8zM1607 1132h1.8v1.8h-1.8zM1471 1121h1.8v1.8h-1.8zM1427 1094h1.8v1.8h-1.8zM1530 1161h1.8v1.8h-1.8zM1512 1233h1.8v1.8h-1.8zM1622 1184h1.8v1.8h-1.8zM1456 1206h1.8v1.8h-1.8zM1616 1116h1.8v1.8h-1.8zM1475 1217h1.8v1.8h-1.8zM1490 1150h1.8v1.8h-1.8zM1470 1140h1.8v1.8h-1.8zM1613 1202h1.8v1.8h-1.8zM1447 1167h1.8v1.8h-1.8zM1626 1132h1.8v1.8h-1.8zM1495 1188h1.8v1.8h-1.8zM1525 1117h1.8v1.8h-1.8zM1448 1165h1.8v1.8h-1.8zM1527 1210h1.8v1.8h-1.8zM1623 1226h1.8v1.8h-1.8zM1567 1131h1.8v1.8h-1.8zM1528 1124h1.8v1.8h-1.8zM1557 1172h1.8v1.8h-1.8zM1451 1107h1.8v1.8h-1.8zM1513 1177h1.8v1.8h-1.8zM1643 1196h1.8v1.8h-1.8zM1514 1115h1.8v1.8h-1.8zM1484 1187h1.8v1.8h-1.8zM1566 1184h1.8v1.8h-1.8zM1537 1083h1.8v1.8h-1.8zM1430 1129h1.8v1.8h-1.8zM1639 1239h1.8v1.8h-1.8zM1492 1115h1.8v1.8h-1.8zM1449 1201h1.8v1.8h-1.8zM1451 1221h1.8v1.8h-1.8zM1452 1222h1.8v1.8h-1.8zM1634 1213h1.8v1.8h-1.8zM1604 1219h1.8v1.8h-1.8zM1520 1219h1.8v1.8h-1.8zM1479 1086h1.8v1.8h-1.8zM1621 1189h1.8v1.8h-1.8zM1552 1099h1.8v1.8h-1.8zM1461 1128h1.8v1.8h-1.8zM1625 1220h1.8v1.8h-1.8zM1514 1210h1.8v1.8h-1.8zM1492 1096h1.8v1.8h-1.8zM1543 1117h1.8v1.8h-1.8zM1599 1114h1.8v1.8h-1.8zM1577 1138h1.8v1.8h-1.8zM1613 1185h1.8v1.8h-1.8zM1459 1091h1.8v1.8h-1.8zM1583 1161h1.8v1.8h-1.8zM1595 1124h1.8v1.8h-1.8zM1523 1142h1.8v1.8h-1.8zM1571 1130h1.8v1.8h-1.8zM1644 1111h1.8v1.8h-1.8zM1614 1122h1.8v1.8h-1.8zM1560 1104h1.8v1.8h-1.8zM1606 1235h1.8v1.8h-1.8zM1597 1161h1.8v1.8h-1.8zM1624 1177h1.8v1.8h-1.8zM1607 1182h1.8v1.8h-1.8zM1531 1174h1.8v1.8h-1.8zM1506 1133h1.8v1.8h-1.8zM1550 1120h1.8v1.8h-1.8zM1642 1078h1.8v1.8h-1.8zM1477 1135h1.8v1.8h-1.8zM1439 1216h1.8v1.8h-1.8zM1573 1109h1.8v1.8h-1.8zM1562 1101h1.8v1.8h-1.8zM1474 1146h1.8v1.8h-1.8zM1620 1242h1.8v1.8h-1.8zM1626 1112h1.8v1.8h-1.8zM1510 1204h1.8v1.8h-1.8zM1465 1190h1.8v1.8h-1.8zM1483 1218h1.8v1.8h-1.8zM1642 1229h1.8v1.8h-1.8zM1431 1119h1.8v1.8h-1.8zM1557 1173h1.8v1.8h-1.8zM1433 1145h1.8v1.8h-1.8zM1463 1222h1.8v1.8h-1.8zM1540 1217h1.8v1.8h-1.8zM1612 1102h1.8v1.8h-1.8zM1626 1200h1.8v1.8h-1.8zM1535 1134h1.8v1.8h-1.8zM1642 1156h1.8v1.8h-1.8zM1601 1085h1.8v1.8h-1.8zM1611 1208h1.8v1.8h-1.8zM1578 1093h1.8v1.8h-1.8zM1629 1229h1.8v1.8h-1.8zM1458 1176h1.8v1.8h-1.8zM1521 1240h1.8v1.8h-1.8zM1489 1137h1.8v1.8h-1.8zM1425 1100h1.8v1.8h-1.8zM1517 1232h1.8v1.8h-1.8zM1602 1128h1.8v1.8h-1.8zM1612 1092h1.8v1.8h-1.8zM1488 1202h1.8v1.8h-1.8zM1468 1105h1.8v1.8h-1.8zM1436 1088h1.8v1.8h-1.8zM1574 1129h1.8v1.8h-1.8zM1635 1184h1.8v1.8h-1.8zM1493 1236h1.8v1.8h-1.8zM1575 1231h1.8v1.8h-1.8zM1547 1177h1.8v1.8h-1.8zM1633 1234h1.8v1.8h-1.8zM1532 1135h1.8v1.8h-1.8zM1494 1082h1.8v1.8h-1.8zM1589 1136h1.8v1.8h-1.8zM1493 1121h1.8v1.8h-1.8zM1616 1211h1.8v1.8h-1.8zM1568 1180h1.8v1.8h-1.8zM1430 1165h1.8v1.8h-1.8zM1601 1173h1.8v1.8h-1.8zM1484 1082h1.8v1.8h-1.8zM1445 1118h1.8v1.8h-1.8zM1447 1112h1.8v1.8h-1.8zM1587 1222h1.8v1.8h-1.8zM1475 1080h1.8v1.8h-1.8zM1586 1209h1.8v1.8h-1.8zM1462 1139h1.8v1.8h-1.8zM1632 1107h1.8v1.8h-1.8zM1632 1196h1.8v1.8h-1.8zM1497 1211h1.8v1.8h-1.8zM1612 1177h1.8v1.8h-1.8zM1504 1162h1.8v1.8h-1.8zM1581 1238h1.8v1.8h-1.8zM1567 1236h1.8v1.8h-1.8zM1518 1131h1.8v1.8h-1.8zM1488 1202h1.8v1.8h-1.8zM1544 1151h1.8v1.8h-1.8zM1463 1124h1.8v1.8h-1.8zM1620 1232h1.8v1.8h-1.8zM1469 1158h1.8v1.8h-1.8zM1472 1189h1.8v1.8h-1.8zM1548 1232h1.8v1.8h-1.8zM1547 1184h1.8v1.8h-1.8zM1464 1156h1.8v1.8h-1.8zM1455 1237h1.8v1.8h-1.8zM1437 1120h1.8v1.8h-1.8zM1571 1077h1.8v1.8h-1.8zM1646 1076h1.8v1.8h-1.8zM1448 1114h1.8v1.8h-1.8zM1523 1154h1.8v1.8h-1.8zM1642 1159h1.8v1.8h-1.8zM1525 1241h1.8v1.8h-1.8zM1482 1095h1.8v1.8h-1.8zM1612 1188h1.8v1.8h-1.8zM1589 1107h1.8v1.8h-1.8zM1619 1234h1.8v1.8h-1.8zM1606 1113h1.8v1.8h-1.8zM1459 1192h1.8v1.8h-1.8zM1634 1172h1.8v1.8h-1.8zM1585 1122h1.8v1.8h-1.8zM1611 1231h1.8v1.8h-1.8zM1582 1135h1.8v1.8h-1.8zM1636 1129h1.8v1.8h-1.8zM1491 1202h1.8v1.8h-1.8zM1468 1144h1.8v1.8h-1.8zM1565 1128h1.8v1.8h-1.8zM1462 1217h1.8v1.8h-1.8zM1579 1186h1.8v1.8h-1.8zM1520 1096h1.8v1.8h-1.8zM1466 1191h1.8v1.8h-1.8zM1615 1134h1.8v1.8h-1.8zM1605 1175h1.8v1.8h-1.8zM1620 1231h1.8v1.8h-1.8zM1509 1169h1.8v1.8h-1.8zM1463 1137h1.8v1.8h-1.8zM1504 1214h1.8v1.8h-1.8zM1451 1211h1.8v1.8h-1.8zM1619 1178h1.8v1.8h-1.8zM1458 1090h1.8v1.8h-1.8zM1467 1163h1.8v1.8h-1.8zM1489 1116h1.8v1.8h-1.8zM1576 1177h1.8v1.8h-1.8zM1450 1199h1.8v1.8h-1.8zM1605 1238h1.8v1.8h-1.8zM1566 1232h1.8v1.8h-1.8zM1494 1239h1.8v1.8h-1.8zM1572 1119h1.8v1.8h-1.8zM1598 1138h1.8v1.8h-1.8zM1543 1238h1.8v1.8h-1.8zM1456 1234h1.8v1.8h-1.8zM1480 1224h1.8v1.8h-1.8zM1582 1131h1.8v1.8h-1.8zM1551 1077h1.8v1.8h-1.8zM1593 1136h1.8v1.8h-1.8zM1496 1213h1.8v1.8h-1.8zM1646 1113h1.8v1.8h-1.8zM1506 1094h1.8v1.8h-1.8zM1436 1094h1.8v1.8h-1.8zM1530 1154h1.8v1.8h-1.8zM1553 1084h1.8v1.8h-1.8zM1533 1136h1.8v1.8h-1.8zM1557 1211h1.8v1.8h-1.8zM1622 1091h1.8v1.8h-1.8zM1498 1109h1.8v1.8h-1.8zM1530 1204h1.8v1.8h-1.8zM1483 1181h1.8v1.8h-1.8zM1486 1105h1.8v1.8h-1.8zM1643 1091h1.8v1.8h-1.8zM1573 1206h1.8v1.8h-1.8zM1625 1136h1.8v1.8h-1.8zM1621 1194h1.8v1.8h-1.8zM1528 1243h1.8v1.8h-1.8zM1470 1229h1.8v1.8h-1.8zM1645 1199h1.8v1.8h-1.8zM1606 1187h1.8v1.8h-1.8zM1623 1148h1.8v1.8h-1.8zM1601 1164h1.8v1.8h-1.8zM1522 1184h1.8v1.8h-1.8zM1523 1093h1.8v1.8h-1.8zM1574 1197h1.8v1.8h-1.8zM1589 1150h1.8v1.8h-1.8zM1465 1082h1.8v1.8h-1.8zM1430 1153h1.8v1.8h-1.8zM1460 1148h1.8v1.8h-1.8zM1487 1089h1.8v1.8h-1.8zM1569 1158h1.8v1.8h-1.8zM1509 1076h1.8v1.8h-1.8zM1602 1124h1.8v1.8h-1.8zM1436 1090h1.8v1.8h-1.8zM1550 1204h1.8v1.8h-1.8zM1554 1181h1.8v1.8h-1.8zM1464 1082h1.8v1.8h-1.8zM1542 1138h1.8v1.8h-1.8zM1632 1224h1.8v1.8h-1.8zM1603 1148h1.8v1.8h-1.8zM1616 1215h1.8v1.8h-1.8zM1493 1234h1.8v1.8h-1.8zM1590 1099h1.8v1.8h-1.8zM1454 1095h1.8v1.8h-1.8zM1447 1112h1.8v1.8h-1.8zM1563 1092h1.8v1.8h-1.8zM1458 1238h1.8v1.8h-1.8zM1486 1149h1.8v1.8h-1.8zM1602 1211h1.8v1.8h-1.8zM1451 1174h1.8v1.8h-1.8zM1643 1168h1.8v1.8h-1.8zM1539 1231h1.8v1.8h-1.8zM1628 1225h1.8v1.8h-1.8zM1595 1098h1.8v1.8h-1.8zM1525 1171h1.8v1.8h-1.8zM1582 1114h1.8v1.8h-1.8zM1469 1117h1.8v1.8h-1.8zM1543 1103h1.8v1.8h-1.8zM1506 1096h1.8v1.8h-1.8zM1450 1106h1.8v1.8h-1.8zM1642 1102h1.8v1.8h-1.8zM1490 1094h1.8v1.8h-1.8zM1511 1240h1.8v1.8h-1.8zM1618 1193h1.8v1.8h-1.8zM1568 1110h1.8v1.8h-1.8zM1527 1102h1.8v1.8h-1.8zM1630 1105h1.8v1.8h-1.8zM1553 1122h1.8v1.8h-1.8zM1564 1122h1.8v1.8h-1.8zM1646 1154h1.8v1.8h-1.8zM1516 1099h1.8v1.8h-1.8zM1433 1231h1.8v1.8h-1.8zM1427 1215h1.8v1.8h-1.8zM1497 1126h1.8v1.8h-1.8zM1538 1095h1.8v1.8h-1.8zM1504 1149h1.8v1.8h-1.8zM1442 1233h1.8v1.8h-1.8zM1544 1220h1.8v1.8h-1.8zM1639 1101h1.8v1.8h-1.8zM1451 1091h1.8v1.8h-1.8zM1639 1143h1.8v1.8h-1.8zM1516 1217h1.8v1.8h-1.8zM1551 1135h1.8v1.8h-1.8zM1602 1134h1.8v1.8h-1.8zM1436 1180h1.8v1.8h-1.8zM1458 1230h1.8v1.8h-1.8zM1498 1212h1.8v1.8h-1.8zM1465 1094h1.8v1.8h-1.8zM1479 1176h1.8v1.8h-1.8zM1580 1188h1.8v1.8h-1.8zM1499 1127h1.8v1.8h-1.8zM1492 1110h1.8v1.8h-1.8zM1610 1211h1.8v1.8h-1.8zM1619 1159h1.8v1.8h-1.8zM1541 1193h1.8v1.8h-1.8zM1634 1105h1.8v1.8h-1.8zM1626 1153h1.8v1.8h-1.8zM1592 1206h1.8v1.8h-1.8zM1503 1118h1.8v1.8h-1.8zM1560 1125h1.8v1.8h-1.8zM1433 1231h1.8v1.8h-1.8zM1433 1177h1.8v1.8h-1.8zM1574 1226h1.8v1.8h-1.8zM1521 1191h1.8v1.8h-1.8zM1449 1107h1.8v1.8h-1.8zM1521 1213h1.8v1.8h-1.8zM1541 1096h1.8v1.8h-1.8zM1482 1151h1.8v1.8h-1.8zM1559 1173h1.8v1.8h-1.8zM1541 1221h1.8v1.8h-1.8zM1428 1149h1.8v1.8h-1.8zM1614 1108h1.8v1.8h-1.8zM1424 1109h1.8v1.8h-1.8zM1486 1223h1.8v1.8h-1.8zM1597 1192h1.8v1.8h-1.8zM1473 1123h1.8v1.8h-1.8zM1471 1203h1.8v1.8h-1.8zM1601 1139h1.8v1.8h-1.8zM1629 1160h1.8v1.8h-1.8zM1447 1143h1.8v1.8h-1.8zM1550 1142h1.8v1.8h-1.8zM1467 1100h1.8v1.8h-1.8zM1647 1107h1.8v1.8h-1.8zM1424 1157h1.8v1.8h-1.8zM1619 1135h1.8v1.8h-1.8zM1562 1097h1.8v1.8h-1.8zM1515 1156h1.8v1.8h-1.8zM1547 1206h1.8v1.8h-1.8zM1606 1157h1.8v1.8h-1.8zM1556 1187h1.8v1.8h-1.8zM1617 1133h1.8v1.8h-1.8zM1497 1221h1.8v1.8h-1.8zM1527 1111h1.8v1.8h-1.8zM1560 1106h1.8v1.8h-1.8zM1575 1136h1.8v1.8h-1.8zM1535 1185h1.8v1.8h-1.8zM1614 1176h1.8v1.8h-1.8zM1468 1230h1.8v1.8h-1.8zM1568 1157h1.8v1.8h-1.8zM1623 1084h1.8v1.8h-1.8zM1498 1225h1.8v1.8h-1.8zM1626 1164h1.8v1.8h-1.8zM1537 1211h1.8v1.8h-1.8zM1633 1140h1.8v1.8h-1.8zM1634 1156h1.8v1.8h-1.8zM1446 1117h1.8v1.8h-1.8zM1570 1202h1.8v1.8h-1.8zM1531 1232h1.8v1.8h-1.8zM1604 1213h1.8v1.8h-1.8zM1460 1128h1.8v1.8h-1.8zM1459 1237h1.8v1.8h-1.8zM1486 1204h1.8v1.8h-1.8zM1530 1155h1.8v1.8h-1.8zM1578 1199h1.8v1.8h-1.8zM1593 1161h1.8v1.8h-1.8zM1484 1127h1.8v1.8h-1.8zM1526 1149h1.8v1.8h-1.8zM1431 1178h1.8v1.8h-1.8zM1547 1181h1.8v1.8h-1.8zM1507 1218h1.8v1.8h-1.8zM1540 1215h1.8v1.8h-1.8zM1566 1082h1.8v1.8h-1.8zM1533 1167h1.8v1.8h-1.8zM1574 1159h1.8v1.8h-1.8zM1442 1189h1.8v1.8h-1.8zM1423 1134h1.8v1.8h-1.8zM1482 1129h1.8v1.8h-1.8zM1423 1152h1.8v1.8h-1.8zM1629 1212h1.8v1.8h-1.8zM1486 1209h1.8v1.8h-1.8zM1486 1137h1.8v1.8h-1.8zM1555 1092h1.8v1.8h-1.8zM1460 1227h1.8v1.8h-1.8zM1451 1179h1.8v1.8h-1.8zM1585 1099h1.8v1.8h-1.8zM1496 1104h1.8v1.8h-1.8zM1534 1155h1.8v1.8h-1.8zM1435 1217h1.8v1.8h-1.8zM1451 1147h1.8v1.8h-1.8zM1569 1087h1.8v1.8h-1.8zM1591 1192h1.8v1.8h-1.8zM1432 1143h1.8v1.8h-1.8zM1461 1159h1.8v1.8h-1.8zM1555 1140h1.8v1.8h-1.8zM1450 1189h1.8v1.8h-1.8zM1490 1197h1.8v1.8h-1.8zM1549 1147h1.8v1.8h-1.8zM1586 1143h1.8v1.8h-1.8zM1647 1197h1.8v1.8h-1.8zM1454 1229h1.8v1.8h-1.8zM1642 1178h1.8v1.8h-1.8zM1464 1088h1.8v1.8h-1.8zM1512 1103h1.8v1.8h-1.8zM1645 1104h1.8v1.8h-1.8zM1541 1236h1.8v1.8h-1.8zM1437 1206h1.8v1.8h-1.8zM1497 1079h1.8v1.8h-1.8zM1454 1098h1.8v1.8h-1.8zM1434 1225h1.8v1.8h-1.8zM1508 1114h1.8v1.8h-1.8zM1457 1104h1.8v1.8h-1.8zM1483 1104h1.8v1.8h-1.8zM1493 1087h1.8v1.8h-1.8zM1434 1215h1.8v1.8h-1.8zM1554 1098h1.8v1.8h-1.8zM1544 1090h1.8v1.8h-1.8zM1465 1132h1.8v1.8h-1.8zM1493 1190h1.8v1.8h-1.8zM1493 1219h1.8v1.8h-1.8zM1515 1223h1.8v1.8h-1.8zM1596 1207h1.8v1.8h-1.8zM1542 1122h1.8v1.8h-1.8zM1626 1139h1.8v1.8h-1.8zM1636 1232h1.8v1.8h-1.8zM1601 1202h1.8v1.8h-1.8zM1570 1165h1.8v1.8h-1.8zM1488 1153h1.8v1.8h-1.8zM1448 1214h1.8v1.8h-1.8zM1506 1102h1.8v1.8h-1.8zM1467 1136h1.8v1.8h-1.8zM1450 1125h1.8v1.8h-1.8zM1505 1117h1.8v1.8h-1.8zM1427 1179h1.8v1.8h-1.8zM1637 1210h1.8v1.8h-1.8zM1553 1156h1.8v1.8h-1.8zM1601 1135h1.8v1.8h-1.8zM1498 1231h1.8v1.8h-1.8zM1638 1117h1.8v1.8h-1.8zM1506 1120h1.8v1.8h-1.8zM1500 1083h1.8v1.8h-1.8zM1598 1242h1.8v1.8h-1.8zM1594 1182h1.8v1.8h-1.8zM1625 1077h1.8v1.8h-1.8zM1580 1171h1.8v1.8h-1.8zM1512 1089h1.8v1.8h-1.8zM1633 1223h1.8v1.8h-1.8zM1603 1158h1.8v1.8h-1.8zM1465 1182h1.8v1.8h-1.8zM1539 1224h1.8v1.8h-1.8zM1521 1086h1.8v1.8h-1.8zM1527 1095h1.8v1.8h-1.8zM1469 1152h1.8v1.8h-1.8zM1588 1106h1.8v1.8h-1.8zM1499 1228h1.8v1.8h-1.8zM1474 1163h1.8v1.8h-1.8zM1437 1100h1.8v1.8h-1.8zM1646 1159h1.8v1.8h-1.8zM1531 1086h1.8v1.8h-1.8zM1482 1089h1.8v1.8h-1.8zM1425 1124h1.8v1.8h-1.8zM1501 1090h1.8v1.8h-1.8zM1544 1109h1.8v1.8h-1.8zM1591 1190h1.8v1.8h-1.8zM1574 1212h1.8v1.8h-1.8zM1540 1156h1.8v1.8h-1.8zM1526 1202h1.8v1.8h-1.8zM1480 1177h1.8v1.8h-1.8zM1609 1175h1.8v1.8h-1.8zM1460 1132h1.8v1.8h-1.8zM1446 1131h1.8v1.8h-1.8zM1450 1206h1.8v1.8h-1.8zM1472 1113h1.8v1.8h-1.8zM1589 1239h1.8v1.8h-1.8zM1522 1141h1.8v1.8h-1.8zM1591 1149h1.8v1.8h-1.8zM1624 1183h1.8v1.8h-1.8zM1516 1182h1.8v1.8h-1.8zM1599 1133h1.8v1.8h-1.8zM1645 1170h1.8v1.8h-1.8zM1554 1136h1.8v1.8h-1.8zM1626 1076h1.8v1.8h-1.8zM1616 1228h1.8v1.8h-1.8zM1595 1145h1.8v1.8h-1.8zM1598 1123h1.8v1.8h-1.8zM1638 1097h1.8v1.8h-1.8zM1576 1194h1.8v1.8h-1.8zM1474 1089h1.8v1.8h-1.8zM1556 1113h1.8v1.8h-1.8zM1473 1138h1.8v1.8h-1.8zM1542 1225h1.8v1.8h-1.8zM1540 1240h1.8v1.8h-1.8zM1501 1156h1.8v1.8h-1.8zM1454 1113h1.8v1.8h-1.8zM1579 1230h1.8v1.8h-1.8zM1424 1235h1.8v1.8h-1.8zM1584 1111h1.8v1.8h-1.8zM1586 1107h1.8v1.8h-1.8zM1424 1077h1.8v1.8h-1.8zM1493 1116h1.8v1.8h-1.8zM1472 1095h1.8v1.8h-1.8zM1628 1119h1.8v1.8h-1.8zM1629 1158h1.8v1.8h-1.8zM1455 1083h1.8v1.8h-1.8zM1468 1131h1.8v1.8h-1.8zM1634 1231h1.8v1.8h-1.8zM1525 1166h1.8v1.8h-1.8zM1556 1174h1.8v1.8h-1.8zM1502 1238h1.8v1.8h-1.8zM1440 1225h1.8v1.8h-1.8zM1596 1119h1.8v1.8h-1.8zM1435 1217h1.8v1.8h-1.8zM1544 1095h1.8v1.8h-1.8zM1605 1097h1.8v1.8h-1.8zM1617 1174h1.8v1.8h-1.8zM1521 1188h1.8v1.8h-1.8zM1493 1242h1.8v1.8h-1.8zM1618 1178h1.8v1.8h-1.8zM1512 1086h1.8v1.8h-1.8zM1607 1092h1.8v1.8h-1.8zM1494 1116h1.8v1.8h-1.8zM1619 1108h1.8v1.8h-1.8zM1463 1102h1.8v1.8h-1.8zM1633 1234h1.8v1.8h-1.8zM1619 1191h1.8v1.8h-1.8zM1483 1217h1.8v1.8h-1.8zM1497 1177h1.8v1.8h-1.8zM1554 1116h1.8v1.8h-1.8zM1473 1216h1.8v1.8h-1.8zM1489 1143h1.8v1.8h-1.8zM1619 1226h1.8v1.8h-1.8zM1451 1132h1.8v1.8h-1.8zM1510 1216h1.8v1.8h-1.8zM1471 1208h1.8v1.8h-1.8zM1556 1119h1.8v1.8h-1.8zM1497 1185h1.8v1.8h-1.8zM1569 1220h1.8v1.8h-1.8zM1451 1167h1.8v1.8h-1.8zM1494 1217h1.8v1.8h-1.8zM1502 1186h1.8v1.8h-1.8zM1564 1239h1.8v1.8h-1.8zM1424 1190h1.8v1.8h-1.8zM1621 1171h1.8v1.8h-1.8zM1453 1144h1.8v1.8h-1.8zM1432 1140h1.8v1.8h-1.8zM1474 1157h1.8v1.8h-1.8zM1528 1125h1.8v1.8h-1.8zM1596 1184h1.8v1.8h-1.8zM1450 1146h1.8v1.8h-1.8zM1601 1203h1.8v1.8h-1.8zM1519 1128h1.8v1.8h-1.8zM1460 1121h1.8v1.8h-1.8zM1467 1087h1.8v1.8h-1.8zM1622 1169h1.8v1.8h-1.8zM1429 1098h1.8v1.8h-1.8zM1450 1224h1.8v1.8h-1.8zM1597 1110h1.8v1.8h-1.8zM1464 1234h1.8v1.8h-1.8zM1503 1214h1.8v1.8h-1.8zM1466 1181h1.8v1.8h-1.8zM1608 1079h1.8v1.8h-1.8zM1443 1095h1.8v1.8h-1.8zM1438 1237h1.8v1.8h-1.8zM1436 1209h1.8v1.8h-1.8zM1563 1105h1.8v1.8h-1.8zM1437 1212h1.8v1.8h-1.8zM1537 1145h1.8v1.8h-1.8zM1475 1193h1.8v1.8h-1.8zM1586 1137h1.8v1.8h-1.8zM1432 1128h1.8v1.8h-1.8zM1478 1110h1.8v1.8h-1.8zM1510 1172h1.8v1.8h-1.8zM1545 1167h1.8v1.8h-1.8zM1530 1125h1.8v1.8h-1.8zM1544 1148h1.8v1.8h-1.8zM1612 1107h1.8v1.8h-1.8zM1494 1203h1.8v1.8h-1.8zM1469 1104h1.8v1.8h-1.8zM1463 1098h1.8v1.8h-1.8zM1509 1117h1.8v1.8h-1.8zM1527 1080h1.8v1.8h-1.8zM1448 1200h1.8v1.8h-1.8zM1490 1099h1.8v1.8h-1.8zM1465 1145h1.8v1.8h-1.8zM1563 1145h1.8v1.8h-1.8zM1541 1216h1.8v1.8h-1.8zM1453 1084h1.8v1.8h-1.8zM1636 1110h1.8v1.8h-1.8zM1498 1102h1.8v1.8h-1.8zM1567 1076h1.8v1.8h-1.8zM1538 1181h1.8v1.8h-1.8zM1443 1172h1.8v1.8h-1.8zM1463 1213h1.8v1.8h-1.8zM1605 1159h1.8v1.8h-1.8zM1610 1095h1.8v1.8h-1.8zM1481 1124h1.8v1.8h-1.8zM1439 1227h1.8v1.8h-1.8zM1620 1202h1.8v1.8h-1.8zM1431 1226h1.8v1.8h-1.8zM1586 1214h1.8v1.8h-1.8zM1548 1138h1.8v1.8h-1.8zM1577 1156h1.8v1.8h-1.8zM1443 1170h1.8v1.8h-1.8zM1550 1163h1.8v1.8h-1.8zM1605 1151h1.8v1.8h-1.8zM1464 1182h1.8v1.8h-1.8zM1542 1141h1.8v1.8h-1.8zM1440 1210h1.8v1.8h-1.8zM1488 1141h1.8v1.8h-1.8zM1547 1099h1.8v1.8h-1.8zM1583 1094h1.8v1.8h-1.8zM1575 1236h1.8v1.8h-1.8zM1554 1226h1.8v1.8h-1.8zM1552 1107h1.8v1.8h-1.8zM1486 1201h1.8v1.8h-1.8zM1607 1198h1.8v1.8h-1.8zM1558 1106h1.8v1.8h-1.8zM1464 1109h1.8v1.8h-1.8zM1509 1126h1.8v1.8h-1.8zM1436 1153h1.8v1.8h-1.8zM1561 1122h1.8v1.8h-1.8zM1616 1085h1.8v1.8h-1.8zM1446 1147h1.8v1.8h-1.8zM1625 1223h1.8v1.8h-1.8zM1517 1199h1.8v1.8h-1.8zM1567 1148h1.8v1.8h-1.8zM1451 1095h1.8v1.8h-1.8zM1490 1188h1.8v1.8h-1.8zM1562 1125h1.8v1.8h-1.8zM1444 1078h1.8v1.8h-1.8zM1439 1158h1.8v1.8h-1.8zM1625 1144h1.8v1.8h-1.8zM1430 1106h1.8v1.8h-1.8zM1621 1187h1.8v1.8h-1.8zM1595 1226h1.8v1.8h-1.8zM1595 1168h1.8v1.8h-1.8zM1620 1156h1.8v1.8h-1.8zM1545 1215h1.8v1.8h-1.8zM1543 1231h1.8v1.8h-1.8zM1515 1189h1.8v1.8h-1.8zM1572 1213h1.8v1.8h-1.8zM1645 1097h1.8v1.8h-1.8zM1579 1121h1.8v1.8h-1.8zM1560 1194h1.8v1.8h-1.8zM1538 1192h1.8v1.8h-1.8zM1507 1139h1.8v1.8h-1.8zM1486 1112h1.8v1.8h-1.8zM1544 1220h1.8v1.8h-1.8zM1619 1193h1.8v1.8h-1.8z" fill="#1ee61e"/>
<rect x="1423" y="1210.5" width="41" height="34" fill="#000"/>
<text x="1429" y="1234.5" fill="#1ee61e" font-size="26" stroke="#1ee61e" stroke-width="0.35">Zn</text>
<rect x="665" y="1075.5" width="984" height="169.0" fill="none" stroke="#000" stroke-width="2.4" stroke-dasharray="2.4 2.5"/>
<text x="625.5" y="1329.5" font-weight="bold" font-size="33" stroke="#000" stroke-width="0.35">i</text>
<clipPath id="ci00"><rect x="665" y="1330.6" width="193" height="144.10000000000014"/></clipPath>
<g clip-path="url(#ci00)">
<rect x="665" y="1330.6" width="193" height="144.10000000000014" fill="url(#gi00u)"/>
<g filter="url(#bl3)"><ellipse cx="720" cy="1374" rx="45" ry="5" fill="#98a8a4" opacity="0.8"/><ellipse cx="735" cy="1381" rx="36" ry="4" fill="#6e7e7a" opacity="0.6"/><ellipse cx="825" cy="1390" rx="20" ry="4" fill="#98a8a4" opacity="0.8"/><ellipse cx="840" cy="1397" rx="16" ry="3" fill="#6e7e7a" opacity="0.6"/><ellipse cx="761.5" cy="1403" rx="115.8" ry="5" fill="#758581" opacity="0.7"/></g>
<path d="M660.0 1413.6 L664.0 1411.2 L668.0 1411.8 L671.9 1410.5 L675.9 1414.0 L679.9 1410.6 L683.9 1412.7 L687.9 1412.4 L691.8 1412.9 L695.8 1411.6 L699.8 1411.5 L703.8 1411.6 L707.8 1410.3 L711.7 1411.3 L715.7 1411.1 L719.7 1413.1 L723.7 1411.8 L727.7 1410.4 L731.6 1410.1 L735.6 1411.4 L739.6 1413.9 L743.6 1410.1 L747.6 1411.8 L751.5 1413.1 L755.5 1410.5 L759.5 1413.2 L763.5 1413.5 L767.5 1413.3 L771.5 1410.5 L775.4 1413.7 L779.4 1410.9 L783.4 1413.2 L787.4 1413.2 L791.4 1412.1 L795.3 1413.0 L799.3 1413.1 L803.3 1413.2 L807.3 1411.2 L811.3 1413.9 L815.2 1412.5 L819.2 1411.4 L823.2 1410.5 L827.2 1413.4 L831.2 1413.9 L835.1 1413.5 L839.1 1412.6 L843.1 1412.9 L847.1 1411.6 L851.1 1410.6 L855.0 1413.7 L859.0 1413.1 L863.0 1412.2 L863 1479.7 L660 1479.7Z" fill="url(#gi00)" stroke="#64726e" stroke-width="2.5" filter="url(#bl1)"/>
<g filter="url(#bl4)"><ellipse cx="761" cy="1430" rx="16" ry="5" fill="#8fa19b" opacity="0.47"/><ellipse cx="852" cy="1422" rx="12" ry="7" fill="#8fa19b" opacity="0.37"/><ellipse cx="695" cy="1457" rx="20" ry="6" fill="#8fa19b" opacity="0.40"/><ellipse cx="853" cy="1433" rx="15" ry="7" fill="#8fa19b" opacity="0.51"/><ellipse cx="842" cy="1463" rx="16" ry="8" fill="#8fa19b" opacity="0.55"/><ellipse cx="789" cy="1438" rx="11" ry="5" fill="#8fa19b" opacity="0.58"/><ellipse cx="800" cy="1423" rx="19" ry="5" fill="#8fa19b" opacity="0.52"/><ellipse cx="754" cy="1431" rx="11" ry="7" fill="#8fa19b" opacity="0.45"/><ellipse cx="786" cy="1451" rx="18" ry="8" fill="#8fa19b" opacity="0.51"/><ellipse cx="852" cy="1441" rx="19" ry="8" fill="#8fa19b" opacity="0.55"/><ellipse cx="689" cy="1445" rx="14" ry="4" fill="#8fa19b" opacity="0.44"/><ellipse cx="765" cy="1418" rx="8" ry="7" fill="#8fa19b" opacity="0.45"/><ellipse cx="854" cy="1458" rx="18" ry="8" fill="#8fa19b" opacity="0.41"/><ellipse cx="805" cy="1423" rx="10" ry="6" fill="#8fa19b" opacity="0.41"/></g>
<g filter="url(#bl8)" opacity="0.55"><ellipse cx="723" cy="1470.7" rx="68" ry="12" fill="#424d4a"/></g>
<g filter="url(#bl07)"><circle cx="671" cy="1434" r="1.6" fill="#d6efe5" opacity="0.44"/><circle cx="711" cy="1449" r="1.2" fill="#d6efe5" opacity="0.66"/><circle cx="746" cy="1445" r="1.1" fill="#d6efe5" opacity="0.62"/><circle cx="735" cy="1443" r="0.7" fill="#d6efe5" opacity="0.64"/><circle cx="788" cy="1414" r="1.0" fill="#d6efe5" opacity="0.59"/><circle cx="789" cy="1434" r="1.1" fill="#d6efe5" opacity="0.57"/><circle cx="748" cy="1449" r="0.8" fill="#d6efe5" opacity="0.45"/><circle cx="696" cy="1416" r="0.8" fill="#d6efe5" opacity="0.57"/><circle cx="807" cy="1450" r="0.7" fill="#d6efe5" opacity="0.68"/><circle cx="712" cy="1448" r="1.6" fill="#d6efe5" opacity="0.78"/><circle cx="670" cy="1433" r="1.1" fill="#d6efe5" opacity="0.70"/><circle cx="708" cy="1415" r="1.2" fill="#d6efe5" opacity="0.85"/><circle cx="730" cy="1428" r="0.7" fill="#d6efe5" opacity="0.69"/><circle cx="822" cy="1432" r="0.8" fill="#d6efe5" opacity="0.46"/><circle cx="829" cy="1441" r="0.9" fill="#d6efe5" opacity="0.68"/><circle cx="689" cy="1435" r="0.7" fill="#d6efe5" opacity="0.57"/><circle cx="759" cy="1432" r="1.0" fill="#d6efe5" opacity="0.77"/><circle cx="713" cy="1444" r="1.4" fill="#d6efe5" opacity="0.72"/><circle cx="850" cy="1423" r="1.6" fill="#d6efe5" opacity="0.43"/><circle cx="773" cy="1421" r="0.8" fill="#d6efe5" opacity="0.55"/><circle cx="738" cy="1414" r="1.0" fill="#d6efe5" opacity="0.91"/><circle cx="820" cy="1439" r="1.6" fill="#d6efe5" opacity="0.67"/><circle cx="811" cy="1448" r="1.2" fill="#d6efe5" opacity="0.67"/><circle cx="695" cy="1450" r="1.0" fill="#d6efe5" opacity="0.51"/><circle cx="710" cy="1444" r="1.0" fill="#d6efe5" opacity="0.77"/><circle cx="787" cy="1450" r="1.4" fill="#d6efe5" opacity="0.92"/><circle cx="707" cy="1415" r="0.7" fill="#d6efe5" opacity="0.51"/><circle cx="682" cy="1420" r="1.3" fill="#d6efe5" opacity="0.64"/><circle cx="715" cy="1433" r="0.9" fill="#d6efe5" opacity="0.60"/><circle cx="740" cy="1416" r="1.5" fill="#d6efe5" opacity="0.89"/><circle cx="735" cy="1438" r="0.7" fill="#d6efe5" opacity="0.61"/><circle cx="780" cy="1430" r="0.8" fill="#d6efe5" opacity="0.66"/><circle cx="713" cy="1438" r="1.3" fill="#d6efe5" opacity="0.70"/><circle cx="831" cy="1444" r="0.8" fill="#d6efe5" opacity="0.94"/><circle cx="793" cy="1434" r="1.1" fill="#d6efe5" opacity="0.84"/><circle cx="723" cy="1439" r="1.0" fill="#d6efe5" opacity="0.71"/><circle cx="782" cy="1434" r="1.2" fill="#d6efe5" opacity="0.42"/><circle cx="707" cy="1429" r="1.0" fill="#d6efe5" opacity="0.61"/><circle cx="725" cy="1426" r="1.1" fill="#d6efe5" opacity="0.49"/><circle cx="686" cy="1448" r="1.3" fill="#d6efe5" opacity="0.84"/><circle cx="730" cy="1448" r="1.1" fill="#d6efe5" opacity="0.66"/><circle cx="669" cy="1422" r="1.3" fill="#d6efe5" opacity="0.82"/><circle cx="724" cy="1445" r="1.3" fill="#d6efe5" opacity="0.42"/><circle cx="712" cy="1452" r="1.2" fill="#d6efe5" opacity="0.40"/><circle cx="795" cy="1428" r="0.8" fill="#d6efe5" opacity="0.91"/></g>
<g filter="url(#bl6)"><ellipse cx="801" cy="1427" rx="23" ry="11" fill="#b4c8c1" opacity="0.47"/><ellipse cx="827" cy="1426" rx="27" ry="11" fill="#b4c8c1" opacity="0.47"/><ellipse cx="774" cy="1416" rx="8" ry="7" fill="#b4c8c1" opacity="0.45"/><ellipse cx="790" cy="1432" rx="19" ry="14" fill="#b4c8c1" opacity="0.40"/><ellipse cx="845" cy="1424" rx="19" ry="11" fill="#b4c8c1" opacity="0.35"/><ellipse cx="770" cy="1416" rx="10" ry="7" fill="#b4c8c1" opacity="0.40"/></g>
<g filter="url(#bl25)"><ellipse cx="801" cy="1427" rx="13.8" ry="6.9" fill="#eefff8" opacity="0.95"/><ellipse cx="827" cy="1426" rx="16.1" ry="6.9" fill="#eefff8" opacity="0.95"/><ellipse cx="774" cy="1416" rx="4.6" ry="4.6" fill="#eefff8" opacity="0.9"/><ellipse cx="790" cy="1432" rx="11.5" ry="9.2" fill="#eefff8" opacity="0.8"/><ellipse cx="845" cy="1424" rx="11.5" ry="6.9" fill="#eefff8" opacity="0.7"/><ellipse cx="770" cy="1416" rx="5.8" ry="4.6" fill="#eefff8" opacity="0.8"/><ellipse cx="712" cy="1440" rx="11.5" ry="5.8" fill="#eefff8" opacity="0.35"/><ellipse cx="740" cy="1423" rx="9.2" ry="5.8" fill="#eefff8" opacity="0.4"/></g>
</g>
<text x="850.3" y="1454.2" text-anchor="end" font-size="23" stroke="#000" stroke-width="0.35">100 µm</text>
<rect x="790.2" y="1463.7" width="47.8" height="3.2" fill="#000"/>
<clipPath id="ci01"><rect x="863.5" y="1330.6" width="192.0" height="144.10000000000014"/></clipPath>
<g clip-path="url(#ci01)">
<rect x="863.5" y="1330.6" width="192.0" height="144.10000000000014" fill="url(#gi01u)"/>
<g filter="url(#bl3)"><ellipse cx="930" cy="1372" rx="50" ry="5" fill="#98a8a4" opacity="0.8"/><ellipse cx="945" cy="1379" rx="40" ry="4" fill="#6e7e7a" opacity="0.6"/><ellipse cx="1010" cy="1384" rx="30" ry="4" fill="#98a8a4" opacity="0.8"/><ellipse cx="1025" cy="1391" rx="24" ry="3" fill="#6e7e7a" opacity="0.6"/><ellipse cx="959.5" cy="1393" rx="115.19999999999999" ry="5" fill="#758581" opacity="0.7"/></g>
<path d="M858.5 1401.3 L862.5 1402.5 L866.4 1400.0 L870.4 1403.9 L874.3 1403.3 L878.3 1404.0 L882.3 1401.1 L886.2 1400.8 L890.2 1400.2 L894.1 1400.8 L898.1 1400.1 L902.1 1402.8 L906.0 1401.5 L910.0 1403.3 L914.0 1403.0 L917.9 1401.4 L921.9 1400.7 L925.8 1401.4 L929.8 1400.1 L933.8 1402.6 L937.7 1400.8 L941.7 1400.6 L945.6 1403.6 L949.6 1401.7 L953.6 1403.8 L957.5 1403.9 L961.5 1402.7 L965.4 1401.0 L969.4 1400.6 L973.4 1401.0 L977.3 1402.9 L981.3 1402.0 L985.2 1401.2 L989.2 1400.1 L993.2 1401.4 L997.1 1401.6 L1001.1 1400.3 L1005.0 1401.0 L1009.0 1401.2 L1013.0 1401.7 L1016.9 1402.0 L1020.9 1402.3 L1024.9 1403.4 L1028.8 1401.2 L1032.8 1400.4 L1036.7 1401.2 L1040.7 1400.9 L1044.7 1402.3 L1048.6 1401.9 L1052.6 1401.3 L1056.5 1400.4 L1060.5 1403.0 L1060.5 1479.7 L858.5 1479.7Z" fill="url(#gi01)" stroke="#64726e" stroke-width="2.5" filter="url(#bl1)"/>
<g filter="url(#bl4)"><ellipse cx="910" cy="1436" rx="10" ry="8" fill="#8fa19b" opacity="0.41"/><ellipse cx="970" cy="1461" rx="13" ry="9" fill="#8fa19b" opacity="0.53"/><ellipse cx="969" cy="1444" rx="15" ry="6" fill="#8fa19b" opacity="0.60"/><ellipse cx="941" cy="1464" rx="18" ry="4" fill="#8fa19b" opacity="0.41"/><ellipse cx="955" cy="1454" rx="10" ry="7" fill="#8fa19b" opacity="0.44"/><ellipse cx="1014" cy="1461" rx="17" ry="5" fill="#8fa19b" opacity="0.54"/><ellipse cx="948" cy="1455" rx="14" ry="9" fill="#8fa19b" opacity="0.60"/><ellipse cx="1022" cy="1455" rx="18" ry="7" fill="#8fa19b" opacity="0.39"/><ellipse cx="1053" cy="1434" rx="8" ry="6" fill="#8fa19b" opacity="0.45"/><ellipse cx="902" cy="1462" rx="9" ry="9" fill="#8fa19b" opacity="0.49"/><ellipse cx="898" cy="1428" rx="13" ry="5" fill="#8fa19b" opacity="0.54"/><ellipse cx="989" cy="1464" rx="18" ry="8" fill="#8fa19b" opacity="0.60"/><ellipse cx="1042" cy="1445" rx="14" ry="7" fill="#8fa19b" opacity="0.55"/><ellipse cx="1041" cy="1455" rx="18" ry="4" fill="#8fa19b" opacity="0.46"/></g>
<g filter="url(#bl8)" opacity="0.55"><ellipse cx="921" cy="1470.7" rx="67" ry="12" fill="#424d4a"/></g>
<g filter="url(#bl07)"><circle cx="880" cy="1426" r="1.2" fill="#d6efe5" opacity="0.71"/><circle cx="1028" cy="1413" r="1.4" fill="#d6efe5" opacity="0.72"/><circle cx="904" cy="1441" r="0.7" fill="#d6efe5" opacity="0.66"/><circle cx="966" cy="1427" r="1.6" fill="#d6efe5" opacity="0.70"/><circle cx="1034" cy="1415" r="1.1" fill="#d6efe5" opacity="0.48"/><circle cx="986" cy="1420" r="1.4" fill="#d6efe5" opacity="0.46"/><circle cx="953" cy="1440" r="0.7" fill="#d6efe5" opacity="0.76"/><circle cx="994" cy="1432" r="1.2" fill="#d6efe5" opacity="0.68"/><circle cx="1048" cy="1415" r="1.3" fill="#d6efe5" opacity="0.77"/><circle cx="1003" cy="1422" r="0.7" fill="#d6efe5" opacity="0.83"/><circle cx="917" cy="1434" r="1.6" fill="#d6efe5" opacity="0.83"/><circle cx="941" cy="1437" r="1.0" fill="#d6efe5" opacity="0.58"/><circle cx="973" cy="1429" r="1.3" fill="#d6efe5" opacity="0.70"/><circle cx="942" cy="1432" r="1.0" fill="#d6efe5" opacity="0.73"/><circle cx="865" cy="1409" r="1.5" fill="#d6efe5" opacity="0.52"/><circle cx="943" cy="1406" r="1.4" fill="#d6efe5" opacity="0.58"/><circle cx="873" cy="1414" r="1.5" fill="#d6efe5" opacity="0.82"/><circle cx="864" cy="1440" r="0.8" fill="#d6efe5" opacity="0.67"/><circle cx="966" cy="1434" r="0.8" fill="#d6efe5" opacity="0.85"/><circle cx="916" cy="1432" r="1.5" fill="#d6efe5" opacity="0.72"/><circle cx="864" cy="1429" r="1.1" fill="#d6efe5" opacity="0.80"/><circle cx="1014" cy="1408" r="1.2" fill="#d6efe5" opacity="0.75"/><circle cx="1041" cy="1427" r="1.3" fill="#d6efe5" opacity="0.82"/><circle cx="894" cy="1437" r="1.2" fill="#d6efe5" opacity="0.75"/><circle cx="893" cy="1424" r="1.1" fill="#d6efe5" opacity="0.51"/><circle cx="1044" cy="1436" r="1.1" fill="#d6efe5" opacity="0.44"/><circle cx="1052" cy="1408" r="1.2" fill="#d6efe5" opacity="0.71"/><circle cx="1028" cy="1429" r="1.2" fill="#d6efe5" opacity="0.68"/><circle cx="1051" cy="1435" r="1.0" fill="#d6efe5" opacity="0.84"/><circle cx="1045" cy="1422" r="0.8" fill="#d6efe5" opacity="0.44"/><circle cx="1049" cy="1412" r="1.4" fill="#d6efe5" opacity="0.51"/><circle cx="907" cy="1410" r="1.4" fill="#d6efe5" opacity="0.45"/><circle cx="954" cy="1435" r="1.2" fill="#d6efe5" opacity="0.41"/><circle cx="867" cy="1436" r="1.0" fill="#d6efe5" opacity="0.45"/><circle cx="964" cy="1434" r="1.0" fill="#d6efe5" opacity="0.47"/><circle cx="899" cy="1422" r="1.4" fill="#d6efe5" opacity="0.45"/><circle cx="1010" cy="1430" r="1.2" fill="#d6efe5" opacity="0.61"/><circle cx="870" cy="1423" r="1.1" fill="#d6efe5" opacity="0.77"/><circle cx="875" cy="1410" r="0.7" fill="#d6efe5" opacity="0.67"/><circle cx="875" cy="1424" r="1.1" fill="#d6efe5" opacity="0.58"/><circle cx="900" cy="1439" r="1.1" fill="#d6efe5" opacity="0.46"/><circle cx="974" cy="1433" r="1.1" fill="#d6efe5" opacity="0.89"/><circle cx="1024" cy="1430" r="0.7" fill="#d6efe5" opacity="0.62"/><circle cx="962" cy="1410" r="1.1" fill="#d6efe5" opacity="0.77"/><circle cx="1008" cy="1433" r="1.4" fill="#d6efe5" opacity="0.56"/></g>
<g filter="url(#bl6)"><ellipse cx="1015" cy="1425" rx="53" ry="14" fill="#b4c8c1" opacity="0.47"/><ellipse cx="985" cy="1432" rx="23" ry="11" fill="#b4c8c1" opacity="0.35"/><ellipse cx="1040" cy="1420" rx="19" ry="11" fill="#b4c8c1" opacity="0.35"/></g>
<g filter="url(#bl25)"><ellipse cx="1015" cy="1425" rx="32.2" ry="9.2" fill="#eefff8" opacity="0.95"/><ellipse cx="985" cy="1432" rx="13.8" ry="6.9" fill="#eefff8" opacity="0.7"/><ellipse cx="1040" cy="1420" rx="11.5" ry="6.9" fill="#eefff8" opacity="0.7"/><ellipse cx="920" cy="1415" rx="11.5" ry="5.8" fill="#eefff8" opacity="0.45"/><ellipse cx="890" cy="1440" rx="11.5" ry="6.9" fill="#eefff8" opacity="0.35"/></g>
</g>
<text x="1047.8" y="1454.2" text-anchor="end" font-size="23" stroke="#000" stroke-width="0.35">100 µm</text>
<rect x="987.7" y="1463.7" width="47.8" height="3.2" fill="#000"/>
<clipPath id="ci02"><rect x="1061" y="1330.6" width="192.29999999999995" height="144.10000000000014"/></clipPath>
<g clip-path="url(#ci02)">
<rect x="1061" y="1330.6" width="192.29999999999995" height="144.10000000000014" fill="url(#gi02u)"/>
<g filter="url(#bl3)"><ellipse cx="1120" cy="1365" rx="50" ry="5" fill="#98a8a4" opacity="0.8"/><ellipse cx="1135" cy="1372" rx="40" ry="4" fill="#6e7e7a" opacity="0.6"/><ellipse cx="1200" cy="1378" rx="35" ry="4" fill="#98a8a4" opacity="0.8"/><ellipse cx="1215" cy="1385" rx="28" ry="3" fill="#6e7e7a" opacity="0.6"/><ellipse cx="1157.15" cy="1384" rx="115.37999999999997" ry="5" fill="#758581" opacity="0.7"/></g>
<path d="M1056.0 1391.3 L1060.0 1393.4 L1063.9 1395.0 L1067.9 1392.4 L1071.9 1393.2 L1075.8 1392.5 L1079.8 1394.0 L1083.8 1393.7 L1087.7 1393.4 L1091.7 1394.9 L1095.7 1393.8 L1099.6 1392.4 L1103.6 1392.5 L1107.6 1393.5 L1111.5 1393.8 L1115.5 1391.9 L1119.5 1394.2 L1123.4 1392.8 L1127.4 1394.1 L1131.4 1391.4 L1135.3 1392.3 L1139.3 1391.1 L1143.3 1392.7 L1147.2 1392.0 L1151.2 1392.4 L1155.2 1391.9 L1159.1 1394.4 L1163.1 1393.5 L1167.1 1392.4 L1171.0 1393.0 L1175.0 1391.7 L1179.0 1394.8 L1182.9 1394.6 L1186.9 1393.3 L1190.9 1391.6 L1194.8 1394.8 L1198.8 1391.9 L1202.8 1391.2 L1206.7 1392.7 L1210.7 1392.5 L1214.7 1394.4 L1218.6 1391.6 L1222.6 1391.2 L1226.6 1392.8 L1230.5 1391.2 L1234.5 1393.7 L1238.5 1393.0 L1242.4 1394.5 L1246.4 1394.7 L1250.4 1391.9 L1254.3 1394.1 L1258.3 1393.0 L1258.3 1479.7 L1056 1479.7Z" fill="url(#gi02)" stroke="#64726e" stroke-width="2.5" filter="url(#bl1)"/>
<g filter="url(#bl4)"><ellipse cx="1249" cy="1403" rx="17" ry="6" fill="#8fa19b" opacity="0.59"/><ellipse cx="1139" cy="1459" rx="10" ry="9" fill="#8fa19b" opacity="0.45"/><ellipse cx="1096" cy="1422" rx="16" ry="4" fill="#8fa19b" opacity="0.45"/><ellipse cx="1063" cy="1404" rx="10" ry="5" fill="#8fa19b" opacity="0.42"/><ellipse cx="1211" cy="1426" rx="18" ry="8" fill="#8fa19b" opacity="0.57"/><ellipse cx="1243" cy="1437" rx="16" ry="8" fill="#8fa19b" opacity="0.49"/><ellipse cx="1088" cy="1433" rx="14" ry="5" fill="#8fa19b" opacity="0.37"/><ellipse cx="1096" cy="1445" rx="18" ry="7" fill="#8fa19b" opacity="0.46"/><ellipse cx="1066" cy="1399" rx="16" ry="7" fill="#8fa19b" opacity="0.46"/><ellipse cx="1094" cy="1407" rx="10" ry="5" fill="#8fa19b" opacity="0.50"/><ellipse cx="1120" cy="1435" rx="13" ry="7" fill="#8fa19b" opacity="0.54"/><ellipse cx="1211" cy="1409" rx="20" ry="8" fill="#8fa19b" opacity="0.55"/><ellipse cx="1148" cy="1462" rx="18" ry="5" fill="#8fa19b" opacity="0.52"/><ellipse cx="1224" cy="1448" rx="19" ry="7" fill="#8fa19b" opacity="0.52"/></g>
<g filter="url(#bl8)" opacity="0.55"><ellipse cx="1119" cy="1470.7" rx="67" ry="12" fill="#424d4a"/></g>
<g filter="url(#bl07)"><circle cx="1076" cy="1420" r="0.8" fill="#d6efe5" opacity="0.80"/><circle cx="1235" cy="1409" r="0.8" fill="#d6efe5" opacity="0.42"/><circle cx="1160" cy="1401" r="1.4" fill="#d6efe5" opacity="0.74"/><circle cx="1157" cy="1421" r="0.8" fill="#d6efe5" opacity="0.65"/><circle cx="1070" cy="1416" r="1.4" fill="#d6efe5" opacity="0.48"/><circle cx="1193" cy="1433" r="1.0" fill="#d6efe5" opacity="0.51"/><circle cx="1110" cy="1427" r="0.8" fill="#d6efe5" opacity="0.83"/><circle cx="1111" cy="1424" r="1.5" fill="#d6efe5" opacity="0.87"/><circle cx="1098" cy="1416" r="1.0" fill="#d6efe5" opacity="0.88"/><circle cx="1118" cy="1401" r="1.1" fill="#d6efe5" opacity="0.45"/><circle cx="1104" cy="1422" r="1.0" fill="#d6efe5" opacity="0.50"/><circle cx="1241" cy="1405" r="1.4" fill="#d6efe5" opacity="0.78"/><circle cx="1168" cy="1420" r="1.2" fill="#d6efe5" opacity="0.86"/><circle cx="1194" cy="1405" r="1.3" fill="#d6efe5" opacity="0.68"/><circle cx="1238" cy="1399" r="1.1" fill="#d6efe5" opacity="0.93"/><circle cx="1074" cy="1423" r="1.5" fill="#d6efe5" opacity="0.73"/><circle cx="1072" cy="1424" r="0.9" fill="#d6efe5" opacity="0.69"/><circle cx="1218" cy="1407" r="0.9" fill="#d6efe5" opacity="0.46"/><circle cx="1127" cy="1399" r="1.3" fill="#d6efe5" opacity="0.86"/><circle cx="1072" cy="1415" r="1.4" fill="#d6efe5" opacity="0.83"/><circle cx="1112" cy="1415" r="1.3" fill="#d6efe5" opacity="0.69"/><circle cx="1253" cy="1430" r="1.6" fill="#d6efe5" opacity="0.47"/><circle cx="1066" cy="1417" r="1.2" fill="#d6efe5" opacity="0.55"/><circle cx="1108" cy="1425" r="1.4" fill="#d6efe5" opacity="0.41"/><circle cx="1085" cy="1422" r="1.1" fill="#d6efe5" opacity="0.48"/><circle cx="1244" cy="1408" r="0.8" fill="#d6efe5" opacity="0.63"/><circle cx="1139" cy="1420" r="1.4" fill="#d6efe5" opacity="0.44"/><circle cx="1152" cy="1429" r="1.1" fill="#d6efe5" opacity="0.89"/><circle cx="1234" cy="1426" r="1.3" fill="#d6efe5" opacity="0.46"/><circle cx="1250" cy="1406" r="1.0" fill="#d6efe5" opacity="0.68"/><circle cx="1164" cy="1424" r="1.2" fill="#d6efe5" opacity="0.91"/><circle cx="1212" cy="1420" r="0.9" fill="#d6efe5" opacity="0.75"/><circle cx="1157" cy="1424" r="0.9" fill="#d6efe5" opacity="0.84"/><circle cx="1198" cy="1402" r="1.5" fill="#d6efe5" opacity="0.67"/><circle cx="1146" cy="1408" r="1.0" fill="#d6efe5" opacity="0.84"/><circle cx="1238" cy="1413" r="1.2" fill="#d6efe5" opacity="0.66"/><circle cx="1085" cy="1429" r="1.1" fill="#d6efe5" opacity="0.41"/><circle cx="1106" cy="1406" r="1.4" fill="#d6efe5" opacity="0.50"/><circle cx="1091" cy="1429" r="1.0" fill="#d6efe5" opacity="0.91"/><circle cx="1063" cy="1398" r="0.9" fill="#d6efe5" opacity="0.61"/><circle cx="1165" cy="1407" r="1.6" fill="#d6efe5" opacity="0.92"/><circle cx="1170" cy="1432" r="1.5" fill="#d6efe5" opacity="0.94"/><circle cx="1174" cy="1399" r="1.2" fill="#d6efe5" opacity="0.43"/><circle cx="1140" cy="1433" r="1.1" fill="#d6efe5" opacity="0.78"/><circle cx="1244" cy="1422" r="1.0" fill="#d6efe5" opacity="0.68"/></g>
<g filter="url(#bl6)"><ellipse cx="1185" cy="1428" rx="65" ry="16" fill="#b4c8c1" opacity="0.47"/><ellipse cx="1162" cy="1452" rx="19" ry="18" fill="#b4c8c1" opacity="0.42"/><ellipse cx="1240" cy="1430" rx="23" ry="14" fill="#b4c8c1" opacity="0.30"/><ellipse cx="1210" cy="1400" rx="15" ry="7" fill="#b4c8c1" opacity="0.30"/></g>
<g filter="url(#bl25)"><ellipse cx="1185" cy="1428" rx="39.1" ry="10.3" fill="#eefff8" opacity="0.95"/><ellipse cx="1162" cy="1452" rx="11.5" ry="11.5" fill="#eefff8" opacity="0.85"/><ellipse cx="1240" cy="1430" rx="13.8" ry="9.2" fill="#eefff8" opacity="0.6"/><ellipse cx="1100" cy="1420" rx="16.1" ry="6.9" fill="#eefff8" opacity="0.45"/><ellipse cx="1120" cy="1445" rx="11.5" ry="6.9" fill="#eefff8" opacity="0.35"/><ellipse cx="1210" cy="1400" rx="9.2" ry="4.6" fill="#eefff8" opacity="0.6"/></g>
</g>
<text x="1245.6" y="1454.2" text-anchor="end" font-size="23" stroke="#000" stroke-width="0.35">100 µm</text>
<rect x="1185.5" y="1463.7" width="47.8" height="3.2" fill="#000"/>
<clipPath id="ci03"><rect x="1259" y="1330.6" width="192.20000000000005" height="144.10000000000014"/></clipPath>
<g clip-path="url(#ci03)">
<rect x="1259" y="1330.6" width="192.20000000000005" height="144.10000000000014" fill="url(#gi03u)"/>
<g filter="url(#bl3)"><ellipse cx="1310" cy="1362" rx="50" ry="5" fill="#98a8a4" opacity="0.8"/><ellipse cx="1325" cy="1369" rx="40" ry="4" fill="#6e7e7a" opacity="0.6"/><ellipse cx="1400" cy="1376" rx="35" ry="4" fill="#98a8a4" opacity="0.8"/><ellipse cx="1415" cy="1383" rx="28" ry="3" fill="#6e7e7a" opacity="0.6"/><ellipse cx="1355.1" cy="1379" rx="115.32000000000002" ry="5" fill="#758581" opacity="0.7"/></g>
<path d="M1254.0 1387.1 L1258.0 1388.0 L1261.9 1388.3 L1265.9 1387.8 L1269.9 1388.3 L1273.8 1387.9 L1277.8 1388.1 L1281.8 1386.8 L1285.7 1386.4 L1289.7 1387.0 L1293.6 1389.1 L1297.6 1386.1 L1301.6 1387.4 L1305.5 1387.7 L1309.5 1388.2 L1313.5 1387.7 L1317.4 1389.4 L1321.4 1389.7 L1325.4 1388.3 L1329.3 1386.8 L1333.3 1389.5 L1337.3 1389.4 L1341.2 1387.9 L1345.2 1389.2 L1349.2 1389.5 L1353.1 1389.8 L1357.1 1386.9 L1361.0 1386.9 L1365.0 1389.2 L1369.0 1387.1 L1372.9 1387.1 L1376.9 1386.2 L1380.9 1389.0 L1384.8 1386.9 L1388.8 1386.7 L1392.8 1388.5 L1396.7 1386.3 L1400.7 1389.1 L1404.7 1386.3 L1408.6 1389.9 L1412.6 1386.5 L1416.6 1386.6 L1420.5 1387.8 L1424.5 1389.1 L1428.4 1387.9 L1432.4 1388.8 L1436.4 1387.0 L1440.3 1389.4 L1444.3 1386.8 L1448.3 1387.6 L1452.2 1389.2 L1456.2 1387.6 L1456.2 1479.7 L1254 1479.7Z" fill="url(#gi03)" stroke="#64726e" stroke-width="2.5" filter="url(#bl1)"/>
<g filter="url(#bl4)"><ellipse cx="1378" cy="1457" rx="13" ry="8" fill="#8fa19b" opacity="0.58"/><ellipse cx="1359" cy="1446" rx="17" ry="8" fill="#8fa19b" opacity="0.36"/><ellipse cx="1292" cy="1464" rx="17" ry="5" fill="#8fa19b" opacity="0.54"/><ellipse cx="1292" cy="1419" rx="13" ry="5" fill="#8fa19b" opacity="0.38"/><ellipse cx="1357" cy="1440" rx="12" ry="7" fill="#8fa19b" opacity="0.60"/><ellipse cx="1270" cy="1414" rx="9" ry="7" fill="#8fa19b" opacity="0.45"/><ellipse cx="1343" cy="1411" rx="17" ry="8" fill="#8fa19b" opacity="0.46"/><ellipse cx="1418" cy="1410" rx="12" ry="9" fill="#8fa19b" opacity="0.41"/><ellipse cx="1287" cy="1396" rx="16" ry="8" fill="#8fa19b" opacity="0.36"/><ellipse cx="1351" cy="1422" rx="12" ry="5" fill="#8fa19b" opacity="0.45"/><ellipse cx="1286" cy="1459" rx="10" ry="7" fill="#8fa19b" opacity="0.51"/><ellipse cx="1385" cy="1428" rx="14" ry="9" fill="#8fa19b" opacity="0.39"/><ellipse cx="1298" cy="1415" rx="17" ry="6" fill="#8fa19b" opacity="0.45"/><ellipse cx="1274" cy="1403" rx="16" ry="5" fill="#8fa19b" opacity="0.47"/></g>
<g filter="url(#bl8)" opacity="0.55"><ellipse cx="1317" cy="1470.7" rx="67" ry="12" fill="#424d4a"/></g>
<g filter="url(#bl07)"><circle cx="1305" cy="1402" r="0.9" fill="#d6efe5" opacity="0.90"/><circle cx="1379" cy="1408" r="0.9" fill="#d6efe5" opacity="0.86"/><circle cx="1367" cy="1395" r="0.9" fill="#d6efe5" opacity="0.92"/><circle cx="1321" cy="1406" r="0.8" fill="#d6efe5" opacity="0.88"/><circle cx="1306" cy="1411" r="1.4" fill="#d6efe5" opacity="0.70"/><circle cx="1331" cy="1400" r="1.3" fill="#d6efe5" opacity="0.54"/><circle cx="1377" cy="1426" r="1.5" fill="#d6efe5" opacity="0.77"/><circle cx="1374" cy="1396" r="1.4" fill="#d6efe5" opacity="0.90"/><circle cx="1326" cy="1392" r="1.2" fill="#d6efe5" opacity="0.64"/><circle cx="1422" cy="1419" r="1.1" fill="#d6efe5" opacity="0.69"/><circle cx="1351" cy="1415" r="1.3" fill="#d6efe5" opacity="0.76"/><circle cx="1301" cy="1421" r="0.7" fill="#d6efe5" opacity="0.54"/><circle cx="1366" cy="1391" r="1.2" fill="#d6efe5" opacity="0.58"/><circle cx="1324" cy="1393" r="1.0" fill="#d6efe5" opacity="0.72"/><circle cx="1268" cy="1422" r="1.6" fill="#d6efe5" opacity="0.69"/><circle cx="1365" cy="1421" r="1.3" fill="#d6efe5" opacity="0.77"/><circle cx="1350" cy="1410" r="1.0" fill="#d6efe5" opacity="0.46"/><circle cx="1409" cy="1415" r="0.7" fill="#d6efe5" opacity="0.83"/><circle cx="1448" cy="1406" r="1.5" fill="#d6efe5" opacity="0.52"/><circle cx="1381" cy="1420" r="1.1" fill="#d6efe5" opacity="0.56"/><circle cx="1285" cy="1411" r="1.0" fill="#d6efe5" opacity="0.66"/><circle cx="1377" cy="1399" r="1.1" fill="#d6efe5" opacity="0.42"/><circle cx="1386" cy="1418" r="1.0" fill="#d6efe5" opacity="0.52"/><circle cx="1381" cy="1407" r="1.4" fill="#d6efe5" opacity="0.81"/><circle cx="1346" cy="1406" r="1.2" fill="#d6efe5" opacity="0.73"/><circle cx="1350" cy="1411" r="1.0" fill="#d6efe5" opacity="0.78"/><circle cx="1352" cy="1395" r="1.3" fill="#d6efe5" opacity="0.58"/><circle cx="1324" cy="1412" r="1.5" fill="#d6efe5" opacity="0.62"/><circle cx="1336" cy="1414" r="1.5" fill="#d6efe5" opacity="0.84"/><circle cx="1449" cy="1392" r="1.2" fill="#d6efe5" opacity="0.60"/><circle cx="1329" cy="1402" r="1.2" fill="#d6efe5" opacity="0.82"/><circle cx="1385" cy="1393" r="1.1" fill="#d6efe5" opacity="0.85"/><circle cx="1333" cy="1401" r="1.0" fill="#d6efe5" opacity="0.74"/><circle cx="1317" cy="1397" r="0.7" fill="#d6efe5" opacity="0.47"/><circle cx="1390" cy="1393" r="1.0" fill="#d6efe5" opacity="0.55"/><circle cx="1415" cy="1422" r="0.7" fill="#d6efe5" opacity="0.48"/><circle cx="1308" cy="1396" r="1.1" fill="#d6efe5" opacity="0.92"/><circle cx="1336" cy="1416" r="1.2" fill="#d6efe5" opacity="0.91"/><circle cx="1334" cy="1415" r="0.8" fill="#d6efe5" opacity="0.60"/><circle cx="1266" cy="1409" r="1.3" fill="#d6efe5" opacity="0.51"/><circle cx="1352" cy="1416" r="1.0" fill="#d6efe5" opacity="0.91"/><circle cx="1273" cy="1404" r="1.6" fill="#d6efe5" opacity="0.93"/><circle cx="1354" cy="1397" r="1.0" fill="#d6efe5" opacity="0.62"/><circle cx="1328" cy="1406" r="1.0" fill="#d6efe5" opacity="0.89"/><circle cx="1266" cy="1422" r="1.0" fill="#d6efe5" opacity="0.94"/></g>
<g filter="url(#bl6)"><ellipse cx="1358" cy="1425" rx="38" ry="16" fill="#b4c8c1" opacity="0.47"/><ellipse cx="1402" cy="1426" rx="23" ry="13" fill="#b4c8c1" opacity="0.40"/><ellipse cx="1352" cy="1455" rx="23" ry="18" fill="#b4c8c1" opacity="0.42"/><ellipse cx="1420" cy="1400" rx="19" ry="9" fill="#b4c8c1" opacity="0.30"/></g>
<g filter="url(#bl25)"><ellipse cx="1358" cy="1425" rx="23.0" ry="10.3" fill="#eefff8" opacity="0.95"/><ellipse cx="1402" cy="1426" rx="13.8" ry="8.0" fill="#eefff8" opacity="0.8"/><ellipse cx="1352" cy="1455" rx="13.8" ry="11.5" fill="#eefff8" opacity="0.85"/><ellipse cx="1300" cy="1415" rx="13.8" ry="6.9" fill="#eefff8" opacity="0.5"/><ellipse cx="1420" cy="1400" rx="11.5" ry="5.8" fill="#eefff8" opacity="0.6"/><ellipse cx="1285" cy="1445" rx="11.5" ry="6.9" fill="#eefff8" opacity="0.35"/></g>
</g>
<text x="1443.5" y="1454.2" text-anchor="end" font-size="23" stroke="#000" stroke-width="0.35">100 µm</text>
<rect x="1383.4" y="1463.7" width="47.8" height="3.2" fill="#000"/>
<clipPath id="ci04"><rect x="1457" y="1330.6" width="192.29999999999995" height="144.10000000000014"/></clipPath>
<g clip-path="url(#ci04)">
<rect x="1457" y="1330.6" width="192.29999999999995" height="144.10000000000014" fill="url(#gi04u)"/>
<g filter="url(#bl3)"><ellipse cx="1510" cy="1358" rx="50" ry="5" fill="#98a8a4" opacity="0.8"/><ellipse cx="1525" cy="1365" rx="40" ry="4" fill="#6e7e7a" opacity="0.6"/><ellipse cx="1600" cy="1372" rx="35" ry="4" fill="#98a8a4" opacity="0.8"/><ellipse cx="1615" cy="1379" rx="28" ry="3" fill="#6e7e7a" opacity="0.6"/><ellipse cx="1553.15" cy="1371" rx="115.37999999999997" ry="5" fill="#758581" opacity="0.7"/></g>
<path d="M1452.0 1381.4 L1456.0 1380.1 L1459.9 1378.5 L1463.9 1378.5 L1467.9 1379.2 L1471.8 1381.5 L1475.8 1381.7 L1479.8 1379.4 L1483.7 1379.8 L1487.7 1379.8 L1491.7 1381.7 L1495.6 1379.8 L1499.6 1379.3 L1503.6 1380.0 L1507.5 1378.0 L1511.5 1380.1 L1515.5 1378.5 L1519.4 1381.3 L1523.4 1379.8 L1527.4 1381.8 L1531.3 1379.7 L1535.3 1379.1 L1539.3 1382.0 L1543.2 1381.5 L1547.2 1378.0 L1551.2 1381.9 L1555.1 1381.4 L1559.1 1381.7 L1563.1 1380.3 L1567.0 1380.9 L1571.0 1380.9 L1575.0 1379.3 L1578.9 1378.1 L1582.9 1380.8 L1586.9 1381.8 L1590.8 1378.4 L1594.8 1380.8 L1598.8 1380.0 L1602.7 1379.6 L1606.7 1380.8 L1610.7 1380.4 L1614.6 1381.1 L1618.6 1379.7 L1622.6 1379.9 L1626.5 1380.5 L1630.5 1378.9 L1634.5 1381.7 L1638.4 1378.2 L1642.4 1381.4 L1646.4 1378.5 L1650.3 1378.6 L1654.3 1382.0 L1654.3 1479.7 L1452 1479.7Z" fill="url(#gi04)" stroke="#64726e" stroke-width="2.5" filter="url(#bl1)"/>
<g filter="url(#bl4)"><ellipse cx="1633" cy="1397" rx="15" ry="6" fill="#8fa19b" opacity="0.59"/><ellipse cx="1530" cy="1421" rx="15" ry="6" fill="#8fa19b" opacity="0.58"/><ellipse cx="1626" cy="1443" rx="9" ry="9" fill="#8fa19b" opacity="0.49"/><ellipse cx="1572" cy="1429" rx="14" ry="9" fill="#8fa19b" opacity="0.42"/><ellipse cx="1484" cy="1465" rx="11" ry="5" fill="#8fa19b" opacity="0.46"/><ellipse cx="1630" cy="1416" rx="8" ry="5" fill="#8fa19b" opacity="0.41"/><ellipse cx="1461" cy="1456" rx="17" ry="5" fill="#8fa19b" opacity="0.41"/><ellipse cx="1646" cy="1441" rx="13" ry="7" fill="#8fa19b" opacity="0.60"/><ellipse cx="1503" cy="1436" rx="8" ry="6" fill="#8fa19b" opacity="0.41"/><ellipse cx="1522" cy="1417" rx="13" ry="8" fill="#8fa19b" opacity="0.44"/><ellipse cx="1461" cy="1452" rx="19" ry="8" fill="#8fa19b" opacity="0.42"/><ellipse cx="1525" cy="1446" rx="9" ry="4" fill="#8fa19b" opacity="0.48"/><ellipse cx="1501" cy="1422" rx="10" ry="9" fill="#8fa19b" opacity="0.47"/><ellipse cx="1524" cy="1410" rx="11" ry="8" fill="#8fa19b" opacity="0.55"/></g>
<g filter="url(#bl8)" opacity="0.55"><ellipse cx="1515" cy="1470.7" rx="67" ry="12" fill="#424d4a"/></g>
<g filter="url(#bl07)"><circle cx="1609" cy="1417" r="1.2" fill="#d6efe5" opacity="0.61"/><circle cx="1538" cy="1387" r="1.0" fill="#d6efe5" opacity="0.67"/><circle cx="1623" cy="1404" r="0.8" fill="#d6efe5" opacity="0.70"/><circle cx="1522" cy="1413" r="1.5" fill="#d6efe5" opacity="0.73"/><circle cx="1584" cy="1398" r="1.0" fill="#d6efe5" opacity="0.84"/><circle cx="1606" cy="1403" r="1.5" fill="#d6efe5" opacity="0.85"/><circle cx="1591" cy="1386" r="1.6" fill="#d6efe5" opacity="0.45"/><circle cx="1496" cy="1387" r="0.9" fill="#d6efe5" opacity="0.78"/><circle cx="1564" cy="1387" r="0.9" fill="#d6efe5" opacity="0.81"/><circle cx="1518" cy="1390" r="1.4" fill="#d6efe5" opacity="0.54"/><circle cx="1474" cy="1402" r="1.4" fill="#d6efe5" opacity="0.40"/><circle cx="1578" cy="1389" r="1.5" fill="#d6efe5" opacity="0.66"/><circle cx="1523" cy="1395" r="0.8" fill="#d6efe5" opacity="0.42"/><circle cx="1554" cy="1401" r="0.8" fill="#d6efe5" opacity="0.46"/><circle cx="1543" cy="1417" r="0.8" fill="#d6efe5" opacity="0.77"/><circle cx="1636" cy="1393" r="1.0" fill="#d6efe5" opacity="0.70"/><circle cx="1502" cy="1383" r="0.8" fill="#d6efe5" opacity="0.89"/><circle cx="1539" cy="1415" r="0.9" fill="#d6efe5" opacity="0.81"/><circle cx="1501" cy="1396" r="1.4" fill="#d6efe5" opacity="0.95"/><circle cx="1646" cy="1413" r="0.8" fill="#d6efe5" opacity="0.75"/><circle cx="1597" cy="1392" r="1.2" fill="#d6efe5" opacity="0.58"/><circle cx="1588" cy="1411" r="1.3" fill="#d6efe5" opacity="0.51"/><circle cx="1459" cy="1392" r="1.1" fill="#d6efe5" opacity="0.43"/><circle cx="1597" cy="1411" r="1.3" fill="#d6efe5" opacity="0.68"/><circle cx="1643" cy="1399" r="1.0" fill="#d6efe5" opacity="0.86"/><circle cx="1570" cy="1403" r="1.1" fill="#d6efe5" opacity="0.51"/><circle cx="1509" cy="1397" r="1.4" fill="#d6efe5" opacity="0.63"/><circle cx="1517" cy="1388" r="1.4" fill="#d6efe5" opacity="0.59"/><circle cx="1532" cy="1384" r="1.3" fill="#d6efe5" opacity="0.59"/><circle cx="1516" cy="1396" r="0.9" fill="#d6efe5" opacity="0.60"/><circle cx="1519" cy="1393" r="1.4" fill="#d6efe5" opacity="0.92"/><circle cx="1559" cy="1388" r="0.8" fill="#d6efe5" opacity="0.59"/><circle cx="1630" cy="1418" r="0.8" fill="#d6efe5" opacity="0.46"/><circle cx="1633" cy="1409" r="1.1" fill="#d6efe5" opacity="0.77"/><circle cx="1563" cy="1388" r="1.5" fill="#d6efe5" opacity="0.42"/><circle cx="1525" cy="1383" r="0.7" fill="#d6efe5" opacity="0.51"/><circle cx="1490" cy="1417" r="1.2" fill="#d6efe5" opacity="0.75"/><circle cx="1619" cy="1404" r="0.9" fill="#d6efe5" opacity="0.53"/><circle cx="1474" cy="1399" r="1.4" fill="#d6efe5" opacity="0.93"/><circle cx="1585" cy="1390" r="1.4" fill="#d6efe5" opacity="0.75"/><circle cx="1551" cy="1414" r="1.1" fill="#d6efe5" opacity="0.85"/><circle cx="1538" cy="1404" r="1.0" fill="#d6efe5" opacity="0.52"/><circle cx="1598" cy="1414" r="0.8" fill="#d6efe5" opacity="0.53"/><circle cx="1614" cy="1419" r="1.2" fill="#d6efe5" opacity="0.92"/><circle cx="1566" cy="1419" r="1.2" fill="#d6efe5" opacity="0.63"/></g>
<g filter="url(#bl6)"><ellipse cx="1560" cy="1430" rx="34" ry="14" fill="#b4c8c1" opacity="0.47"/><ellipse cx="1603" cy="1425" rx="27" ry="13" fill="#b4c8c1" opacity="0.40"/><ellipse cx="1548" cy="1458" rx="23" ry="16" fill="#b4c8c1" opacity="0.40"/><ellipse cx="1625" cy="1398" rx="15" ry="9" fill="#b4c8c1" opacity="0.35"/></g>
<g filter="url(#bl25)"><ellipse cx="1560" cy="1430" rx="20.7" ry="9.2" fill="#eefff8" opacity="0.95"/><ellipse cx="1603" cy="1425" rx="16.1" ry="8.0" fill="#eefff8" opacity="0.8"/><ellipse cx="1548" cy="1458" rx="13.8" ry="10.3" fill="#eefff8" opacity="0.8"/><ellipse cx="1500" cy="1410" rx="13.8" ry="6.9" fill="#eefff8" opacity="0.5"/><ellipse cx="1625" cy="1398" rx="9.2" ry="5.8" fill="#eefff8" opacity="0.7"/><ellipse cx="1480" cy="1445" rx="11.5" ry="6.9" fill="#eefff8" opacity="0.35"/></g>
</g>
<text x="1641.6" y="1454.2" text-anchor="end" font-size="23" stroke="#000" stroke-width="0.35">100 µm</text>
<rect x="1581.5" y="1463.7" width="47.8" height="3.2" fill="#000"/>
<rect x="665" y="1330.6" width="984.3" height="144.10000000000014" fill="none" stroke="#000" stroke-width="2.4" stroke-dasharray="2.4 2.5"/>
<rect x="858" y="1330.1" width="5.5" height="145.10000000000014" fill="#fff"/>
<rect x="1055.5" y="1330.1" width="5.5" height="145.10000000000014" fill="#fff"/>
<rect x="1253.3" y="1330.1" width="5.7000000000000455" height="145.10000000000014" fill="#fff"/>
<rect x="1451.2" y="1330.1" width="5.7999999999999545" height="145.10000000000014" fill="#fff"/>
<clipPath id="ci10"><rect x="665" y="1539.1" width="193" height="144.10000000000014"/></clipPath>
<g clip-path="url(#ci10)">
<rect x="665" y="1539.1" width="193" height="144.10000000000014" fill="url(#gi10t)"/>
<path d="M660.0 1622.6 L664.0 1622.3 L668.0 1624.0 L671.9 1623.8 L675.9 1623.9 L679.9 1623.1 L683.9 1623.4 L687.9 1624.7 L691.8 1624.5 L695.8 1622.8 L699.8 1622.8 L703.8 1622.2 L707.8 1624.2 L711.7 1622.1 L715.7 1624.0 L719.7 1624.9 L723.7 1624.5 L727.7 1623.1 L731.6 1624.4 L735.6 1622.4 L739.6 1624.3 L743.6 1622.5 L747.6 1624.0 L751.5 1622.1 L755.5 1623.5 L759.5 1624.8 L763.5 1622.6 L767.5 1622.3 L771.5 1623.3 L775.4 1622.0 L779.4 1622.2 L783.4 1624.0 L787.4 1625.0 L791.4 1624.9 L795.3 1624.4 L799.3 1623.3 L803.3 1624.4 L807.3 1624.2 L811.3 1624.3 L815.2 1623.4 L819.2 1624.2 L823.2 1623.0 L827.2 1622.8 L831.2 1622.5 L835.1 1623.1 L839.1 1623.3 L843.1 1623.0 L847.1 1624.6 L851.1 1623.6 L855.0 1623.3 L859.0 1624.9 L863.0 1624.7 L863 1688.2 L660 1688.2Z" fill="url(#gi10)" filter="url(#bl15)"/>
<g filter="url(#bl07)"><circle cx="724" cy="1660" r="1.1" fill="#d8ece4" opacity="0.69"/><circle cx="755" cy="1647" r="1.9" fill="#d8ece4" opacity="0.69"/><circle cx="831" cy="1665" r="1.0" fill="#d8ece4" opacity="0.46"/><circle cx="711" cy="1672" r="0.8" fill="#d8ece4" opacity="0.68"/><circle cx="697" cy="1645" r="1.6" fill="#d8ece4" opacity="0.62"/><circle cx="764" cy="1659" r="1.5" fill="#d8ece4" opacity="0.58"/><circle cx="686" cy="1645" r="0.8" fill="#d8ece4" opacity="0.56"/><circle cx="722" cy="1642" r="1.1" fill="#d8ece4" opacity="0.77"/><circle cx="690" cy="1678" r="1.9" fill="#d8ece4" opacity="0.36"/><circle cx="825" cy="1639" r="1.6" fill="#d8ece4" opacity="0.32"/><circle cx="726" cy="1656" r="1.3" fill="#d8ece4" opacity="0.70"/><circle cx="790" cy="1630" r="1.5" fill="#d8ece4" opacity="0.30"/><circle cx="699" cy="1650" r="1.2" fill="#d8ece4" opacity="0.56"/><circle cx="855" cy="1671" r="1.5" fill="#d8ece4" opacity="0.71"/><circle cx="698" cy="1668" r="2.0" fill="#d8ece4" opacity="0.77"/><circle cx="764" cy="1661" r="1.3" fill="#d8ece4" opacity="0.49"/><circle cx="856" cy="1636" r="1.8" fill="#d8ece4" opacity="0.37"/><circle cx="772" cy="1659" r="0.9" fill="#d8ece4" opacity="0.51"/><circle cx="668" cy="1680" r="1.9" fill="#d8ece4" opacity="0.57"/><circle cx="813" cy="1668" r="1.0" fill="#d8ece4" opacity="0.29"/><circle cx="737" cy="1652" r="1.4" fill="#d8ece4" opacity="0.62"/><circle cx="812" cy="1659" r="0.8" fill="#d8ece4" opacity="0.43"/><circle cx="786" cy="1677" r="0.8" fill="#d8ece4" opacity="0.65"/><circle cx="757" cy="1647" r="1.8" fill="#d8ece4" opacity="0.41"/><circle cx="710" cy="1659" r="1.6" fill="#d8ece4" opacity="0.34"/><circle cx="765" cy="1643" r="1.7" fill="#d8ece4" opacity="0.28"/><circle cx="828" cy="1655" r="1.0" fill="#d8ece4" opacity="0.42"/><circle cx="805" cy="1657" r="0.9" fill="#d8ece4" opacity="0.33"/><circle cx="679" cy="1658" r="1.6" fill="#d8ece4" opacity="0.31"/><circle cx="827" cy="1659" r="1.8" fill="#d8ece4" opacity="0.38"/><circle cx="702" cy="1660" r="1.9" fill="#d8ece4" opacity="0.49"/><circle cx="742" cy="1659" r="0.8" fill="#d8ece4" opacity="0.35"/><circle cx="735" cy="1671" r="1.3" fill="#d8ece4" opacity="0.62"/><circle cx="743" cy="1661" r="1.5" fill="#d8ece4" opacity="0.28"/><circle cx="781" cy="1652" r="1.6" fill="#d8ece4" opacity="0.49"/><circle cx="687" cy="1632" r="1.5" fill="#d8ece4" opacity="0.62"/><circle cx="815" cy="1638" r="0.8" fill="#d8ece4" opacity="0.33"/><circle cx="842" cy="1661" r="0.9" fill="#d8ece4" opacity="0.67"/><circle cx="786" cy="1673" r="1.1" fill="#d8ece4" opacity="0.76"/><circle cx="751" cy="1668" r="0.9" fill="#d8ece4" opacity="0.73"/><circle cx="851" cy="1656" r="1.5" fill="#d8ece4" opacity="0.29"/><circle cx="794" cy="1666" r="1.8" fill="#d8ece4" opacity="0.68"/><circle cx="713" cy="1671" r="1.5" fill="#d8ece4" opacity="0.30"/><circle cx="673" cy="1637" r="1.0" fill="#d8ece4" opacity="0.55"/><circle cx="765" cy="1667" r="1.4" fill="#d8ece4" opacity="0.55"/><circle cx="773" cy="1632" r="1.4" fill="#d8ece4" opacity="0.54"/><circle cx="705" cy="1640" r="1.9" fill="#d8ece4" opacity="0.48"/><circle cx="677" cy="1635" r="1.5" fill="#d8ece4" opacity="0.76"/><circle cx="699" cy="1665" r="1.5" fill="#d8ece4" opacity="0.51"/><circle cx="739" cy="1640" r="1.1" fill="#d8ece4" opacity="0.35"/><circle cx="818" cy="1658" r="2.0" fill="#d8ece4" opacity="0.71"/><circle cx="753" cy="1683" r="1.8" fill="#d8ece4" opacity="0.68"/><circle cx="798" cy="1648" r="2.0" fill="#d8ece4" opacity="0.54"/><circle cx="700" cy="1652" r="1.9" fill="#d8ece4" opacity="0.80"/><circle cx="759" cy="1646" r="1.5" fill="#d8ece4" opacity="0.74"/><circle cx="679" cy="1668" r="1.8" fill="#d8ece4" opacity="0.61"/><circle cx="846" cy="1659" r="1.3" fill="#d8ece4" opacity="0.79"/><circle cx="828" cy="1640" r="0.9" fill="#d8ece4" opacity="0.65"/><circle cx="793" cy="1648" r="0.9" fill="#d8ece4" opacity="0.68"/><circle cx="728" cy="1665" r="1.5" fill="#d8ece4" opacity="0.57"/></g>
<g filter="url(#bl4)" opacity="0.5"><ellipse cx="710" cy="1668.2" rx="30" ry="10" fill="#8fa39c"/><ellipse cx="775" cy="1658.2" rx="20" ry="8" fill="#8fa39c"/></g>
</g>
<text x="850.3" y="1661.5" text-anchor="end" font-size="23" stroke="#000" stroke-width="0.35">100 µm</text>
<rect x="790.2" y="1671.0" width="47.8" height="3.2" fill="#000"/>
<clipPath id="ci11"><rect x="863.5" y="1539.1" width="192.0" height="144.10000000000014"/></clipPath>
<g clip-path="url(#ci11)">
<rect x="863.5" y="1539.1" width="192.0" height="144.10000000000014" fill="url(#gi11t)"/>
<path d="M858.5 1624.8 L862.5 1625.0 L866.4 1626.6 L870.4 1625.0 L874.3 1627.3 L878.3 1627.0 L882.3 1626.7 L886.2 1625.9 L890.2 1627.0 L894.1 1625.2 L898.1 1626.3 L902.1 1625.6 L906.0 1626.0 L910.0 1627.4 L914.0 1625.1 L917.9 1626.8 L921.9 1626.8 L925.8 1624.8 L929.8 1620.2 L933.8 1611.7 L937.7 1609.3 L941.7 1609.1 L945.6 1613.8 L949.6 1624.7 L953.6 1625.5 L957.5 1626.7 L961.5 1626.9 L965.4 1621.3 L969.4 1616.4 L973.4 1613.4 L977.3 1612.5 L981.3 1613.5 L985.2 1616.0 L989.2 1622.4 L993.2 1627.0 L997.1 1625.1 L1001.1 1625.3 L1005.0 1624.6 L1009.0 1627.3 L1013.0 1624.7 L1016.9 1625.7 L1020.9 1625.1 L1024.9 1625.1 L1028.8 1627.3 L1032.8 1625.8 L1036.7 1626.4 L1040.7 1627.0 L1044.7 1626.1 L1048.6 1627.0 L1052.6 1626.8 L1056.5 1626.3 L1060.5 1626.2 L1060.5 1688.2 L858.5 1688.2Z" fill="url(#gi11)" filter="url(#bl15)"/>
<g filter="url(#bl07)"><circle cx="958" cy="1660" r="1.8" fill="#d8ece4" opacity="0.43"/><circle cx="925" cy="1667" r="1.4" fill="#d8ece4" opacity="0.45"/><circle cx="941" cy="1648" r="1.0" fill="#d8ece4" opacity="0.60"/><circle cx="1035" cy="1667" r="1.6" fill="#d8ece4" opacity="0.44"/><circle cx="947" cy="1639" r="1.7" fill="#d8ece4" opacity="0.41"/><circle cx="920" cy="1682" r="1.2" fill="#d8ece4" opacity="0.79"/><circle cx="982" cy="1671" r="1.6" fill="#d8ece4" opacity="0.35"/><circle cx="1000" cy="1645" r="1.3" fill="#d8ece4" opacity="0.32"/><circle cx="875" cy="1650" r="0.8" fill="#d8ece4" opacity="0.46"/><circle cx="1027" cy="1683" r="1.3" fill="#d8ece4" opacity="0.31"/><circle cx="930" cy="1634" r="1.1" fill="#d8ece4" opacity="0.59"/><circle cx="982" cy="1633" r="1.4" fill="#d8ece4" opacity="0.48"/><circle cx="940" cy="1638" r="1.3" fill="#d8ece4" opacity="0.31"/><circle cx="995" cy="1665" r="1.6" fill="#d8ece4" opacity="0.47"/><circle cx="1047" cy="1650" r="1.0" fill="#d8ece4" opacity="0.46"/><circle cx="1039" cy="1639" r="1.7" fill="#d8ece4" opacity="0.77"/><circle cx="1027" cy="1655" r="1.3" fill="#d8ece4" opacity="0.73"/><circle cx="1000" cy="1673" r="1.0" fill="#d8ece4" opacity="0.58"/><circle cx="1005" cy="1643" r="1.0" fill="#d8ece4" opacity="0.71"/><circle cx="973" cy="1652" r="1.4" fill="#d8ece4" opacity="0.39"/><circle cx="911" cy="1637" r="1.3" fill="#d8ece4" opacity="0.33"/><circle cx="1036" cy="1681" r="1.5" fill="#d8ece4" opacity="0.30"/><circle cx="978" cy="1639" r="1.2" fill="#d8ece4" opacity="0.32"/><circle cx="959" cy="1635" r="1.1" fill="#d8ece4" opacity="0.38"/><circle cx="953" cy="1680" r="1.5" fill="#d8ece4" opacity="0.68"/><circle cx="1003" cy="1659" r="0.9" fill="#d8ece4" opacity="0.28"/><circle cx="889" cy="1658" r="1.2" fill="#d8ece4" opacity="0.76"/><circle cx="902" cy="1638" r="1.6" fill="#d8ece4" opacity="0.58"/><circle cx="874" cy="1649" r="1.3" fill="#d8ece4" opacity="0.70"/><circle cx="1013" cy="1677" r="1.4" fill="#d8ece4" opacity="0.77"/></g>
</g>
<text x="1047.8" y="1661.5" text-anchor="end" font-size="23" stroke="#000" stroke-width="0.35">100 µm</text>
<rect x="987.7" y="1671.0" width="47.8" height="3.2" fill="#000"/>
<clipPath id="ci12"><rect x="1061" y="1539.1" width="192.29999999999995" height="144.10000000000014"/></clipPath>
<g clip-path="url(#ci12)">
<rect x="1061" y="1539.1" width="192.29999999999995" height="144.10000000000014" fill="url(#gi12t)"/>
<path d="M1056.0 1619.8 L1060.0 1620.2 L1063.9 1620.2 L1067.9 1620.3 L1071.9 1620.9 L1075.8 1621.4 L1079.8 1620.5 L1083.8 1620.9 L1087.7 1620.2 L1091.7 1617.3 L1095.7 1615.8 L1099.6 1615.5 L1103.6 1614.8 L1107.6 1617.1 L1111.5 1618.7 L1115.5 1621.1 L1119.5 1620.4 L1123.4 1612.3 L1127.4 1600.3 L1131.4 1595.3 L1135.3 1591.7 L1139.3 1589.0 L1143.3 1590.4 L1147.2 1594.2 L1151.2 1599.5 L1155.2 1608.0 L1159.1 1620.5 L1163.1 1612.2 L1167.1 1606.8 L1171.0 1602.8 L1175.0 1604.3 L1179.0 1606.6 L1182.9 1616.6 L1186.9 1620.6 L1190.9 1619.2 L1194.8 1619.0 L1198.8 1619.2 L1202.8 1620.3 L1206.7 1619.9 L1210.7 1618.5 L1214.7 1620.5 L1218.6 1619.4 L1222.6 1619.4 L1226.6 1621.5 L1230.5 1621.2 L1234.5 1621.1 L1238.5 1621.2 L1242.4 1620.2 L1246.4 1618.7 L1250.4 1619.6 L1254.3 1620.3 L1258.3 1621.3 L1258.3 1688.2 L1056 1688.2Z" fill="url(#gi12)" filter="url(#bl15)"/>
<g filter="url(#bl07)"><circle cx="1239" cy="1635" r="2.0" fill="#d8ece4" opacity="0.38"/><circle cx="1150" cy="1677" r="1.2" fill="#d8ece4" opacity="0.53"/><circle cx="1092" cy="1681" r="2.0" fill="#d8ece4" opacity="0.34"/><circle cx="1085" cy="1653" r="1.4" fill="#d8ece4" opacity="0.68"/><circle cx="1127" cy="1659" r="1.0" fill="#d8ece4" opacity="0.37"/><circle cx="1076" cy="1657" r="1.5" fill="#d8ece4" opacity="0.59"/><circle cx="1241" cy="1643" r="1.2" fill="#d8ece4" opacity="0.50"/><circle cx="1243" cy="1643" r="1.1" fill="#d8ece4" opacity="0.48"/><circle cx="1194" cy="1641" r="1.0" fill="#d8ece4" opacity="0.65"/><circle cx="1172" cy="1659" r="0.8" fill="#d8ece4" opacity="0.39"/><circle cx="1081" cy="1646" r="1.9" fill="#d8ece4" opacity="0.79"/><circle cx="1224" cy="1647" r="1.5" fill="#d8ece4" opacity="0.74"/><circle cx="1127" cy="1648" r="1.7" fill="#d8ece4" opacity="0.44"/><circle cx="1152" cy="1646" r="1.8" fill="#d8ece4" opacity="0.54"/><circle cx="1080" cy="1626" r="1.6" fill="#d8ece4" opacity="0.31"/><circle cx="1190" cy="1638" r="1.4" fill="#d8ece4" opacity="0.44"/><circle cx="1187" cy="1633" r="1.3" fill="#d8ece4" opacity="0.61"/><circle cx="1111" cy="1683" r="2.0" fill="#d8ece4" opacity="0.78"/><circle cx="1240" cy="1680" r="1.5" fill="#d8ece4" opacity="0.71"/><circle cx="1139" cy="1629" r="1.9" fill="#d8ece4" opacity="0.76"/><circle cx="1111" cy="1647" r="1.1" fill="#d8ece4" opacity="0.64"/><circle cx="1093" cy="1672" r="0.8" fill="#d8ece4" opacity="0.47"/><circle cx="1211" cy="1653" r="1.0" fill="#d8ece4" opacity="0.27"/><circle cx="1192" cy="1629" r="1.1" fill="#d8ece4" opacity="0.58"/><circle cx="1120" cy="1627" r="1.8" fill="#d8ece4" opacity="0.65"/><circle cx="1179" cy="1631" r="1.4" fill="#d8ece4" opacity="0.78"/><circle cx="1159" cy="1640" r="1.9" fill="#d8ece4" opacity="0.44"/><circle cx="1162" cy="1635" r="1.8" fill="#d8ece4" opacity="0.63"/><circle cx="1163" cy="1654" r="1.2" fill="#d8ece4" opacity="0.50"/><circle cx="1159" cy="1626" r="1.7" fill="#d8ece4" opacity="0.66"/></g>
</g>
<text x="1245.6" y="1661.5" text-anchor="end" font-size="23" stroke="#000" stroke-width="0.35">100 µm</text>
<rect x="1185.5" y="1671.0" width="47.8" height="3.2" fill="#000"/>
<clipPath id="ci13"><rect x="1259" y="1539.1" width="192.20000000000005" height="144.10000000000014"/></clipPath>
<g clip-path="url(#ci13)">
<rect x="1259" y="1539.1" width="192.20000000000005" height="144.10000000000014" fill="url(#gi13t)"/>
<path d="M1254.0 1614.2 L1258.0 1613.0 L1261.9 1613.2 L1265.9 1612.6 L1269.9 1611.8 L1273.8 1612.6 L1277.8 1612.0 L1281.8 1611.9 L1285.7 1607.2 L1289.7 1605.6 L1293.6 1608.1 L1297.6 1603.8 L1301.6 1602.4 L1305.5 1597.5 L1309.5 1591.2 L1313.5 1589.8 L1317.4 1591.0 L1321.4 1587.8 L1325.4 1586.4 L1329.3 1586.3 L1333.3 1586.8 L1337.3 1585.7 L1341.2 1588.5 L1345.2 1592.1 L1349.2 1597.1 L1353.1 1606.6 L1357.1 1614.3 L1361.0 1611.7 L1365.0 1612.0 L1369.0 1614.3 L1372.9 1611.8 L1376.9 1611.7 L1380.9 1614.2 L1384.8 1612.3 L1388.8 1611.5 L1392.8 1613.2 L1396.7 1612.1 L1400.7 1612.7 L1404.7 1612.5 L1408.6 1614.0 L1412.6 1614.3 L1416.6 1614.4 L1420.5 1613.0 L1424.5 1614.3 L1428.4 1613.6 L1432.4 1613.1 L1436.4 1613.4 L1440.3 1613.5 L1444.3 1614.2 L1448.3 1612.3 L1452.2 1614.2 L1456.2 1614.0 L1456.2 1688.2 L1254 1688.2Z" fill="url(#gi13)" filter="url(#bl15)"/>
<g filter="url(#bl07)"><circle cx="1345" cy="1637" r="1.9" fill="#d8ece4" opacity="0.52"/><circle cx="1276" cy="1667" r="0.9" fill="#d8ece4" opacity="0.36"/><circle cx="1273" cy="1659" r="1.8" fill="#d8ece4" opacity="0.59"/><circle cx="1302" cy="1673" r="1.8" fill="#d8ece4" opacity="0.43"/><circle cx="1312" cy="1662" r="2.0" fill="#d8ece4" opacity="0.75"/><circle cx="1428" cy="1665" r="1.1" fill="#d8ece4" opacity="0.59"/><circle cx="1341" cy="1660" r="1.4" fill="#d8ece4" opacity="0.36"/><circle cx="1432" cy="1620" r="1.2" fill="#d8ece4" opacity="0.43"/><circle cx="1445" cy="1626" r="1.5" fill="#d8ece4" opacity="0.77"/><circle cx="1377" cy="1678" r="1.3" fill="#d8ece4" opacity="0.49"/><circle cx="1330" cy="1642" r="1.2" fill="#d8ece4" opacity="0.29"/><circle cx="1448" cy="1666" r="1.6" fill="#d8ece4" opacity="0.54"/><circle cx="1298" cy="1633" r="2.0" fill="#d8ece4" opacity="0.70"/><circle cx="1347" cy="1666" r="2.0" fill="#d8ece4" opacity="0.27"/><circle cx="1329" cy="1644" r="1.2" fill="#d8ece4" opacity="0.55"/><circle cx="1316" cy="1626" r="1.8" fill="#d8ece4" opacity="0.48"/><circle cx="1413" cy="1627" r="1.2" fill="#d8ece4" opacity="0.52"/><circle cx="1266" cy="1645" r="1.0" fill="#d8ece4" opacity="0.47"/><circle cx="1315" cy="1669" r="1.4" fill="#d8ece4" opacity="0.39"/><circle cx="1372" cy="1649" r="1.1" fill="#d8ece4" opacity="0.68"/><circle cx="1371" cy="1619" r="1.4" fill="#d8ece4" opacity="0.47"/><circle cx="1276" cy="1681" r="1.5" fill="#d8ece4" opacity="0.80"/><circle cx="1351" cy="1647" r="1.0" fill="#d8ece4" opacity="0.62"/><circle cx="1352" cy="1630" r="1.8" fill="#d8ece4" opacity="0.57"/><circle cx="1276" cy="1682" r="1.3" fill="#d8ece4" opacity="0.76"/><circle cx="1338" cy="1621" r="1.5" fill="#d8ece4" opacity="0.47"/><circle cx="1409" cy="1650" r="1.2" fill="#d8ece4" opacity="0.48"/><circle cx="1352" cy="1666" r="1.8" fill="#d8ece4" opacity="0.47"/><circle cx="1286" cy="1619" r="1.5" fill="#d8ece4" opacity="0.38"/><circle cx="1423" cy="1646" r="1.9" fill="#d8ece4" opacity="0.29"/></g>
<ellipse cx="1355" cy="1658.7" rx="67.5" ry="44.9" fill="none" stroke="#fff" stroke-width="2.6"/>
</g>
<text x="1443.5" y="1661.5" text-anchor="end" font-size="23" stroke="#000" stroke-width="0.35">100 µm</text>
<rect x="1383.4" y="1671.0" width="47.8" height="3.2" fill="#000"/>
<clipPath id="ci14"><rect x="1457" y="1539.1" width="192.29999999999995" height="144.10000000000014"/></clipPath>
<g clip-path="url(#ci14)">
<rect x="1457" y="1539.1" width="192.29999999999995" height="144.10000000000014" fill="url(#gi14t)"/>
<path d="M1452.0 1618.1 L1456.0 1616.9 L1459.9 1617.3 L1463.9 1617.8 L1467.9 1616.6 L1471.8 1618.0 L1475.8 1619.4 L1479.8 1617.8 L1483.7 1619.0 L1487.7 1619.4 L1491.7 1616.6 L1495.6 1616.5 L1499.6 1617.8 L1503.6 1619.4 L1507.5 1617.9 L1511.5 1618.9 L1515.5 1618.5 L1519.4 1616.6 L1523.4 1617.9 L1527.4 1618.4 L1531.3 1617.0 L1535.3 1616.9 L1539.3 1618.5 L1543.2 1617.4 L1547.2 1618.6 L1551.2 1617.3 L1555.1 1616.7 L1559.1 1617.6 L1563.1 1618.9 L1567.0 1617.5 L1571.0 1618.1 L1575.0 1618.8 L1578.9 1617.3 L1582.9 1619.1 L1586.9 1616.6 L1590.8 1617.9 L1594.8 1617.2 L1598.8 1617.0 L1602.7 1619.2 L1606.7 1617.0 L1610.7 1618.8 L1614.6 1617.9 L1618.6 1619.3 L1622.6 1619.2 L1626.5 1616.5 L1630.5 1619.4 L1634.5 1618.2 L1638.4 1618.7 L1642.4 1616.8 L1646.4 1618.7 L1650.3 1618.7 L1654.3 1619.4 L1654.3 1688.2 L1452 1688.2Z" fill="url(#gi14)" filter="url(#bl15)"/>
<g filter="url(#bl07)"><circle cx="1549" cy="1661" r="1.3" fill="#d8ece4" opacity="0.76"/><circle cx="1460" cy="1682" r="1.6" fill="#d8ece4" opacity="0.69"/><circle cx="1611" cy="1635" r="1.8" fill="#d8ece4" opacity="0.61"/><circle cx="1485" cy="1675" r="1.3" fill="#d8ece4" opacity="0.65"/><circle cx="1473" cy="1664" r="0.8" fill="#d8ece4" opacity="0.29"/><circle cx="1477" cy="1626" r="1.5" fill="#d8ece4" opacity="0.37"/><circle cx="1495" cy="1672" r="1.7" fill="#d8ece4" opacity="0.47"/><circle cx="1498" cy="1668" r="1.5" fill="#d8ece4" opacity="0.45"/><circle cx="1516" cy="1645" r="1.4" fill="#d8ece4" opacity="0.35"/><circle cx="1457" cy="1651" r="1.1" fill="#d8ece4" opacity="0.28"/><circle cx="1511" cy="1664" r="1.8" fill="#d8ece4" opacity="0.27"/><circle cx="1612" cy="1641" r="1.8" fill="#d8ece4" opacity="0.74"/><circle cx="1514" cy="1662" r="1.5" fill="#d8ece4" opacity="0.38"/><circle cx="1642" cy="1662" r="1.9" fill="#d8ece4" opacity="0.33"/><circle cx="1507" cy="1678" r="1.2" fill="#d8ece4" opacity="0.45"/><circle cx="1510" cy="1673" r="1.2" fill="#d8ece4" opacity="0.32"/><circle cx="1478" cy="1678" r="0.9" fill="#d8ece4" opacity="0.34"/><circle cx="1521" cy="1657" r="1.8" fill="#d8ece4" opacity="0.78"/><circle cx="1548" cy="1664" r="1.2" fill="#d8ece4" opacity="0.53"/><circle cx="1464" cy="1668" r="1.4" fill="#d8ece4" opacity="0.62"/><circle cx="1619" cy="1673" r="2.0" fill="#d8ece4" opacity="0.65"/><circle cx="1478" cy="1643" r="1.5" fill="#d8ece4" opacity="0.32"/><circle cx="1532" cy="1646" r="1.0" fill="#d8ece4" opacity="0.48"/><circle cx="1588" cy="1679" r="1.6" fill="#d8ece4" opacity="0.59"/><circle cx="1490" cy="1682" r="1.7" fill="#d8ece4" opacity="0.63"/><circle cx="1549" cy="1657" r="0.9" fill="#d8ece4" opacity="0.41"/><circle cx="1462" cy="1683" r="1.2" fill="#d8ece4" opacity="0.61"/><circle cx="1602" cy="1651" r="2.0" fill="#d8ece4" opacity="0.79"/><circle cx="1551" cy="1626" r="1.7" fill="#d8ece4" opacity="0.53"/><circle cx="1461" cy="1667" r="1.5" fill="#d8ece4" opacity="0.79"/></g>
<g filter="url(#bl6)"><circle cx="1612" cy="1642" r="122" fill="#4b5653"/></g>
<g filter="url(#bl4)"><ellipse cx="1586" cy="1626" rx="44" ry="58" fill="#bcc3ca"/><ellipse cx="1590" cy="1595" rx="30" ry="22" fill="#dfe4e8"/><ellipse cx="1562" cy="1668" rx="14" ry="14" fill="#eef4f2"/><ellipse cx="1610" cy="1650" rx="18" ry="20" fill="#aab4bd"/></g>
</g>
<text x="1641.6" y="1661.5" text-anchor="end" font-size="23" stroke="#000" stroke-width="0.35">100 µm</text>
<rect x="1581.5" y="1671.0" width="47.8" height="3.2" fill="#000"/>
<rect x="665" y="1539.1" width="984.3" height="144.10000000000014" fill="none" stroke="#000" stroke-width="2.4" stroke-dasharray="2.4 2.5"/>
<rect x="858" y="1538.6" width="5.5" height="145.10000000000014" fill="#fff"/>
<rect x="1055.5" y="1538.6" width="5.5" height="145.10000000000014" fill="#fff"/>
<rect x="1253.3" y="1538.6" width="5.7000000000000455" height="145.10000000000014" fill="#fff"/>
<rect x="1451.2" y="1538.6" width="5.7999999999999545" height="145.10000000000014" fill="#fff"/>
<text x="671.6" y="1359" fill="#fff" font-size="23.3" stroke="#fff" stroke-width="0.35">Ni-DAPTO/Zn</text>
<text x="673.4" y="1565.2" fill="#fff" font-size="23.3" stroke="#fff" stroke-width="0.35">Bare Zn</text>
<text x="1403" y="1565.2" fill="#fff" font-size="30" stroke="#fff" stroke-width="0.35">H<tspan baseline-shift="-7" font-size="21">2</tspan></text>
<text x="1562" y="1616.2" fill="#fff" font-size="30" stroke="#fff" stroke-width="0.35">H<tspan baseline-shift="-7" font-size="21">2</tspan></text>
<line x1="1403" y1="1626" x2="1416.37" y2="1587.78" stroke="#fff" stroke-width="2.6"/>
<path d="M1420 1577.4 L1421.1 1589.4 L1411.6 1586.1Z" fill="#fff"/>
<text x="729.9" y="1514.7" font-size="23.9" stroke="#000" stroke-width="0.35">0 min</text>
<text x="927" y="1514.7" font-size="23.9" stroke="#000" stroke-width="0.35">60 min</text>
<text x="1131" y="1514.7" font-size="23.9" stroke="#000" stroke-width="0.35">120 min</text>
<text x="1334.8" y="1514.7" font-size="23.9" stroke="#000" stroke-width="0.35">180 min</text>
<text x="1539.7" y="1514.7" font-size="23.9" stroke="#000" stroke-width="0.35">240 min</text>
<rect x="813.3" y="1505.1" width="5.4" height="5.4" fill="#1a94f5" opacity="0.08"/>
<rect x="824.7" y="1505.1" width="5.4" height="5.4" fill="#1a94f5" opacity="0.18"/>
<rect x="836.1" y="1505.1" width="5.4" height="5.4" fill="#1a94f5" opacity="0.3"/>
<rect x="847.5" y="1505.1" width="5.4" height="5.4" fill="#1a94f5" opacity="0.45"/>
<rect x="858.9" y="1505.1" width="5.4" height="5.4" fill="#1a94f5" opacity="0.6"/>
<rect x="870.3" y="1505.1" width="5.4" height="5.4" fill="#1a94f5" opacity="0.75"/>
<rect x="881.7" y="1505.1" width="5.4" height="5.4" fill="#1a94f5" opacity="0.9"/>
<rect x="893.1" y="1505.1" width="5.4" height="5.4" fill="#1a94f5" opacity="1.0"/>
<path d="M891.7 1497.1 L914.1 1507.4 L891.7 1518.1" fill="none" stroke="#1a94f5" stroke-width="4.6" stroke-linecap="round" stroke-linejoin="miter"/>
<rect x="1018.7" y="1505.1" width="5.4" height="5.4" fill="#1a94f5" opacity="0.08"/>
<rect x="1030.1" y="1505.1" width="5.4" height="5.4" fill="#1a94f5" opacity="0.18"/>
<rect x="1041.5" y="1505.1" width="5.4" height="5.4" fill="#1a94f5" opacity="0.3"/>
<rect x="1052.9" y="1505.1" width="5.4" height="5.4" fill="#1a94f5" opacity="0.45"/>
<rect x="1064.3" y="1505.1" width="5.4" height="5.4" fill="#1a94f5" opacity="0.6"/>
<rect x="1075.7" y="1505.1" width="5.4" height="5.4" fill="#1a94f5" opacity="0.75"/>
<rect x="1087.1" y="1505.1" width="5.4" height="5.4" fill="#1a94f5" opacity="0.9"/>
<rect x="1098.5" y="1505.1" width="5.4" height="5.4" fill="#1a94f5" opacity="1.0"/>
<path d="M1097.1 1497.1 L1119.5 1507.4 L1097.1 1518.1" fill="none" stroke="#1a94f5" stroke-width="4.6" stroke-linecap="round" stroke-linejoin="miter"/>
<rect x="1224.2" y="1505.1" width="5.4" height="5.4" fill="#1a94f5" opacity="0.08"/>
<rect x="1235.6" y="1505.1" width="5.4" height="5.4" fill="#1a94f5" opacity="0.18"/>
<rect x="1247.0" y="1505.1" width="5.4" height="5.4" fill="#1a94f5" opacity="0.3"/>
<rect x="1258.4" y="1505.1" width="5.4" height="5.4" fill="#1a94f5" opacity="0.45"/>
<rect x="1269.8" y="1505.1" width="5.4" height="5.4" fill="#1a94f5" opacity="0.6"/>
<rect x="1281.2" y="1505.1" width="5.4" height="5.4" fill="#1a94f5" opacity="0.75"/>
<rect x="1292.6" y="1505.1" width="5.4" height="5.4" fill="#1a94f5" opacity="0.9"/>
<rect x="1304.0" y="1505.1" width="5.4" height="5.4" fill="#1a94f5" opacity="1.0"/>
<path d="M1302.6 1497.1 L1325 1507.4 L1302.6 1518.1" fill="none" stroke="#1a94f5" stroke-width="4.6" stroke-linecap="round" stroke-linejoin="miter"/>
<rect x="1430.5" y="1505.1" width="5.4" height="5.4" fill="#1a94f5" opacity="0.08"/>
<rect x="1441.9" y="1505.1" width="5.4" height="5.4" fill="#1a94f5" opacity="0.18"/>
<rect x="1453.3" y="1505.1" width="5.4" height="5.4" fill="#1a94f5" opacity="0.3"/>
<rect x="1464.7" y="1505.1" width="5.4" height="5.4" fill="#1a94f5" opacity="0.45"/>
<rect x="1476.1" y="1505.1" width="5.4" height="5.4" fill="#1a94f5" opacity="0.6"/>
<rect x="1487.5" y="1505.1" width="5.4" height="5.4" fill="#1a94f5" opacity="0.75"/>
<rect x="1498.9" y="1505.1" width="5.4" height="5.4" fill="#1a94f5" opacity="0.9"/>
<rect x="1510.3" y="1505.1" width="5.4" height="5.4" fill="#1a94f5" opacity="1.0"/>
<path d="M1508.9 1497.1 L1531.3 1507.4 L1508.9 1518.1" fill="none" stroke="#1a94f5" stroke-width="4.6" stroke-linecap="round" stroke-linejoin="miter"/>
</svg></body></html>
